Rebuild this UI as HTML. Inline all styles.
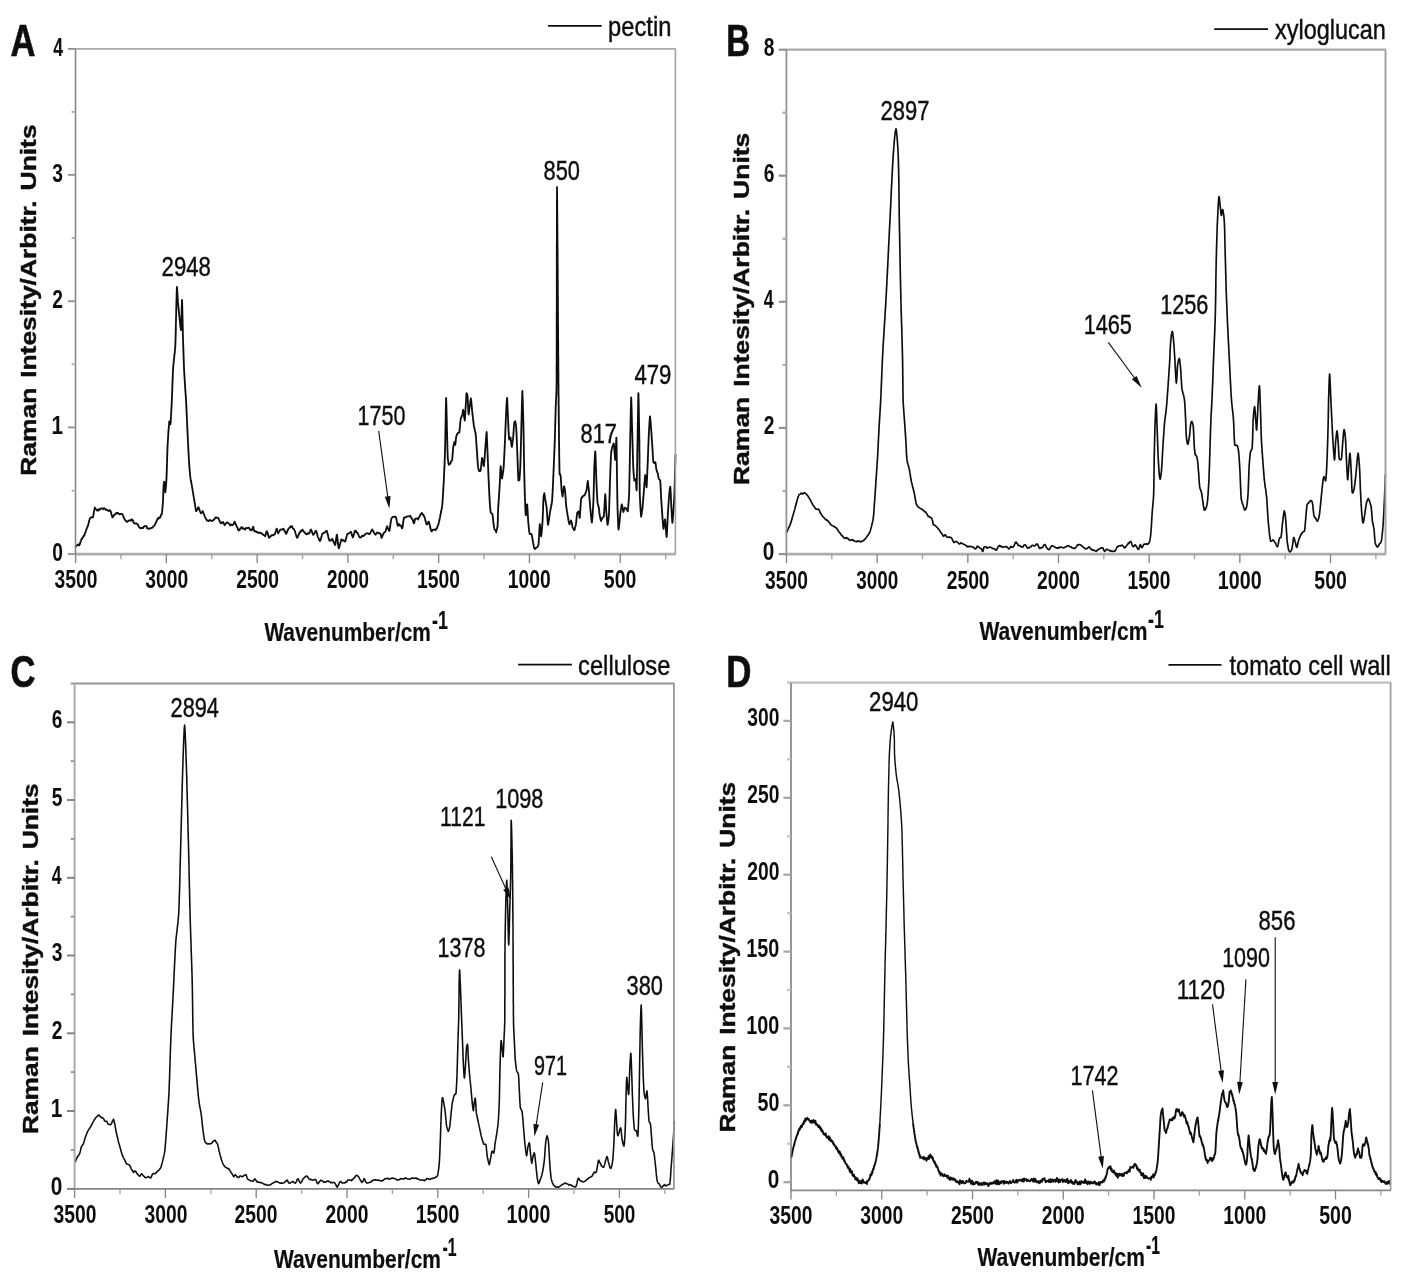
<!DOCTYPE html>
<html><head><meta charset="utf-8"><title>Raman spectra</title>
<style>
html,body{margin:0;padding:0;background:#fff;}
body{width:1410px;height:1283px;overflow:hidden;font-family:"Liberation Sans",sans-serif;}
svg{display:block;}
</style></head><body>
<svg width="1410" height="1283" viewBox="0 0 1410 1283" font-family="'Liberation Sans', sans-serif" fill="#111">
<rect width="1410" height="1283" fill="#fff"/>
<defs><filter id="bm" x="-5%" y="-5%" width="110%" height="110%"><feGaussianBlur stdDeviation="0.75"/></filter><filter id="bf" x="-5%" y="-5%" width="110%" height="110%"><feGaussianBlur stdDeviation="0.45"/></filter></defs>
<g filter="url(#bm)">
<g><path d="M75.7,546.8 76.2,546.0 76.7,545.8 77.3,545.3 77.8,544.4 78.5,544.6 79.2,545.3 79.5,544.6 79.8,544.4 80.0,543.5 80.3,542.6 80.5,541.8 80.8,541.1 81.1,540.3 81.3,539.4 81.7,539.2 82.1,538.5 82.6,537.3 83.0,537.2 83.4,536.9 83.8,535.5 84.2,535.6 84.5,534.9 84.7,533.9 85.0,533.3 85.3,532.7 85.5,532.4 85.8,531.1 86.0,530.3 86.3,529.5 86.6,529.1 86.9,528.4 87.1,527.3 87.4,526.7 87.7,526.7 87.9,525.6 88.2,524.7 88.3,524.2 88.5,523.5 88.7,522.6 88.9,522.2 89.0,521.5 89.2,520.5 89.4,520.0 89.6,519.4 90.1,518.2 90.7,517.7 91.3,517.4 92.2,517.1 93.0,517.4 93.1,516.4 93.3,515.7 93.4,515.1 93.6,514.3 93.7,513.6 93.8,512.6 94.0,511.7 94.1,511.3 94.2,510.4 94.4,509.6 94.5,509.1 94.7,508.6 94.8,507.5 95.2,508.2 95.6,508.8 96.0,509.4 96.5,509.8 97.0,510.5 97.6,509.8 98.3,510.6 99.0,509.3 99.8,509.8 100.5,508.8 101.2,508.3 101.9,508.4 102.6,509.0 103.3,509.2 104.0,508.0 104.7,508.8 105.3,509.1 105.9,509.9 106.5,509.4 107.2,510.3 108.0,510.5 108.8,511.0 109.7,510.2 110.4,510.8 110.7,511.4 111.0,512.5 111.3,513.7 111.5,514.6 111.7,515.1 112.0,515.9 112.2,516.7 112.5,517.4 113.0,516.8 113.5,516.0 114.0,515.3 114.5,514.4 115.0,514.4 115.5,514.4 116.0,513.3 116.5,512.9 117.1,513.2 117.8,512.6 118.4,513.7 119.0,513.8 119.7,514.3 120.4,514.2 121.1,513.8 121.8,513.9 122.5,514.3 122.8,515.2 123.1,515.9 123.4,516.8 123.7,517.2 124.0,517.6 124.3,518.5 124.6,519.3 125.1,519.8 125.5,520.4 126.0,520.9 126.5,521.7 127.0,521.9 127.6,521.1 128.3,521.2 128.9,520.6 129.6,520.2 130.3,520.4 131.0,520.7 131.7,519.3 132.4,520.0 132.8,520.1 133.1,520.9 133.4,522.2 133.7,522.5 134.1,523.3 134.9,523.5 135.8,523.5 136.7,523.4 137.1,524.1 137.6,524.4 138.0,524.5 138.4,526.0 138.8,526.8 139.3,527.0 139.7,527.5 140.2,528.3 140.9,528.0 141.6,528.1 142.3,527.8 142.9,528.2 143.4,526.9 143.9,526.6 144.5,526.5 145.2,525.9 145.9,526.2 146.6,526.1 147.1,528.4 147.6,528.6 148.2,528.5 148.7,528.5 149.4,528.9 150.1,528.5 150.8,528.2 151.6,527.7 152.1,527.8 152.7,527.5 153.3,526.3 153.9,525.9 154.4,525.4 154.8,524.9 155.1,524.1 155.5,523.5 155.8,523.0 156.2,522.0 156.5,521.2 156.9,520.6 157.2,519.4 157.6,518.9 157.9,518.1 158.6,518.7 159.4,517.4 160.1,517.8 160.5,516.5 160.9,515.3 161.2,514.4 161.6,514.6 161.9,513.4 162.0,513.0 162.1,512.3 162.1,511.5 162.2,510.8 162.3,510.1 162.3,509.5 162.4,508.7 162.5,508.1 162.5,507.3 162.6,506.6 162.6,505.8 162.7,505.1 162.7,504.3 162.8,503.5 162.9,502.9 162.9,502.1 162.9,501.4 163.0,500.7 163.0,500.1 163.0,499.3 163.1,498.7 163.1,497.9 163.1,497.2 163.2,496.5 163.2,495.7 163.2,495.0 163.2,494.3 163.3,493.5 163.3,492.8 163.3,492.1 163.3,491.4 163.4,490.7 163.4,490.0 163.4,489.2 163.5,488.5 163.5,487.8 163.5,487.1 163.6,486.4 163.6,485.8 163.6,485.1 163.7,484.0 163.9,483.2 164.0,482.2 164.2,482.0 164.3,481.7 164.4,482.1 164.5,482.7 164.5,483.4 164.6,484.3 164.7,485.1 164.7,485.9 164.8,486.8 164.9,487.6 164.9,488.4 165.0,489.2 165.1,490.0 165.1,490.6 165.2,491.2 165.3,491.8 165.3,492.4 165.4,491.8 165.4,491.4 165.5,490.8 165.6,490.2 165.6,489.5 165.7,488.9 165.8,488.2 165.8,487.5 165.9,486.7 166.0,486.0 166.0,485.2 166.1,484.4 166.2,483.6 166.2,482.7 166.3,481.9 166.3,481.1 166.4,480.2 166.4,479.4 166.5,478.8 166.5,478.1 166.5,477.4 166.6,476.7 166.6,476.1 166.6,475.4 166.6,474.7 166.6,474.0 166.7,473.3 166.7,472.6 166.7,471.9 166.7,471.2 166.8,470.5 166.8,469.8 166.8,469.1 166.8,468.4 166.9,467.6 166.9,466.9 166.9,466.2 166.9,465.4 166.9,464.7 167.0,464.0 167.0,463.3 167.0,462.5 167.0,461.8 167.1,461.1 167.1,460.4 167.1,459.6 167.1,458.9 167.1,458.2 167.2,457.4 167.2,456.7 167.2,456.0 167.2,455.3 167.3,454.5 167.3,453.8 167.3,453.1 167.3,452.4 167.4,451.7 167.4,451.0 167.4,450.2 167.4,449.6 167.5,448.9 167.5,448.2 167.5,447.5 167.5,446.7 167.6,446.1 167.6,445.4 167.6,444.7 167.7,443.9 167.7,443.1 167.8,442.4 167.8,441.6 167.9,440.9 167.9,440.2 168.0,439.5 168.0,438.6 168.1,437.9 168.1,437.2 168.1,436.4 168.2,435.6 168.2,435.0 168.3,434.1 168.3,433.5 168.4,432.7 168.4,432.0 168.5,431.3 168.5,430.5 168.6,429.9 168.6,429.1 168.7,428.4 168.8,427.8 168.8,427.1 168.9,426.4 168.9,425.7 169.0,425.0 169.0,424.4 169.1,423.8 169.1,423.2 169.2,422.5 169.2,422.0 169.3,421.4 169.6,421.5 169.9,422.9 170.2,423.3 170.4,424.3 170.5,423.6 170.6,422.9 170.6,422.4 170.7,421.7 170.7,420.9 170.8,420.2 170.8,419.6 170.9,418.8 170.9,418.0 170.9,417.3 171.0,416.5 171.0,415.7 171.1,415.0 171.1,414.2 171.2,413.4 171.2,412.8 171.2,412.2 171.3,411.5 171.3,410.8 171.3,410.1 171.4,409.4 171.4,408.8 171.4,408.1 171.5,407.4 171.5,406.7 171.6,406.0 171.6,405.3 171.6,404.5 171.7,403.8 171.7,403.1 171.7,402.3 171.8,401.6 171.8,400.8 171.8,400.0 171.9,399.3 171.9,398.7 171.9,398.0 171.9,397.3 172.0,396.6 172.0,396.0 172.0,395.2 172.1,394.6 172.1,393.9 172.1,393.1 172.1,392.5 172.2,391.8 172.2,391.1 172.2,390.4 172.2,389.6 172.3,388.9 172.3,388.1 172.3,387.4 172.3,386.7 172.4,386.0 172.4,385.3 172.4,384.6 172.4,383.8 172.5,383.1 172.5,382.4 172.5,381.7 172.6,381.0 172.6,380.2 172.6,379.5 172.6,378.8 172.7,378.0 172.7,377.3 172.7,376.6 172.8,375.9 172.8,375.2 172.8,374.5 172.8,373.8 172.9,373.0 172.9,372.3 172.9,371.6 173.0,371.0 173.0,370.2 173.0,369.6 173.1,368.9 173.1,368.1 173.2,367.5 173.2,366.7 173.3,365.9 173.4,365.4 173.4,364.6 173.5,363.9 173.6,363.2 173.6,362.4 173.7,361.8 173.8,361.1 173.9,360.3 173.9,359.7 174.0,359.0 174.1,358.3 174.2,357.6 174.2,357.0 174.3,356.2 174.4,355.5 174.5,354.8 174.5,354.4 174.6,353.4 174.7,352.9 174.8,352.1 174.8,351.3 174.9,350.6 175.0,350.1 175.0,349.4 175.1,348.6 175.2,347.8 175.2,347.2 175.3,346.3 175.3,345.7 175.3,345.0 175.4,344.3 175.4,343.6 175.4,343.0 175.4,342.2 175.5,341.5 175.5,340.8 175.5,340.1 175.5,339.4 175.5,338.7 175.6,337.9 175.6,337.3 175.6,336.5 175.6,335.9 175.6,335.1 175.7,334.4 175.7,333.7 175.7,333.0 175.7,332.3 175.7,331.6 175.7,330.8 175.8,330.1 175.8,329.3 175.8,328.6 175.8,327.9 175.8,327.2 175.8,326.5 175.9,325.7 175.9,325.0 175.9,324.4 175.9,323.6 175.9,322.9 175.9,322.1 176.0,321.4 176.0,320.7 176.0,320.0 176.0,319.3 176.0,318.6 176.0,317.9 176.1,317.1 176.1,316.5 176.1,315.8 176.1,315.1 176.1,314.3 176.2,313.6 176.2,312.9 176.2,312.2 176.2,311.5 176.2,310.7 176.2,309.9 176.3,309.1 176.3,308.4 176.3,307.6 176.3,306.8 176.3,306.0 176.4,305.2 176.4,304.5 176.4,303.7 176.4,302.9 176.4,302.1 176.5,301.3 176.5,300.6 176.5,299.8 176.5,299.1 176.5,298.3 176.6,297.6 176.6,296.8 176.6,296.1 176.6,295.3 176.6,294.6 176.7,293.9 176.7,293.3 176.7,292.6 176.7,292.0 176.7,291.3 176.8,290.7 176.8,290.1 176.8,289.5 176.8,288.9 176.8,288.4 176.9,287.9 176.9,287.4 176.9,286.8 177.0,287.3 177.0,287.7 177.0,288.2 177.1,288.4 177.1,289.1 177.2,289.8 177.2,290.5 177.3,291.2 177.3,291.9 177.4,292.7 177.4,293.6 177.5,294.4 177.5,295.1 177.6,296.0 177.6,296.8 177.7,297.7 177.7,298.6 177.8,299.4 177.8,300.3 177.9,301.1 177.9,302.0 178.0,302.7 178.1,303.3 178.1,304.0 178.2,304.8 178.3,305.5 178.4,306.2 178.4,307.0 178.5,307.8 178.6,308.6 178.7,309.4 178.7,310.1 178.8,310.9 178.9,311.8 179.0,312.6 179.1,313.4 179.1,314.2 179.2,315.0 179.3,315.8 179.4,316.6 179.5,317.3 179.5,318.2 179.6,319.0 179.7,319.9 179.8,320.5 179.9,321.2 179.9,322.0 180.0,322.7 180.1,323.5 180.2,324.1 180.2,324.8 180.3,325.5 180.4,326.0 180.5,326.7 180.5,327.1 180.6,327.7 180.7,328.3 180.8,328.6 180.8,329.2 180.9,329.5 180.9,330.1 181.0,329.6 181.0,329.2 181.1,328.5 181.1,328.0 181.1,327.5 181.2,326.8 181.2,326.2 181.2,325.5 181.2,324.7 181.3,324.0 181.3,323.2 181.3,322.4 181.4,321.7 181.4,320.8 181.4,320.0 181.4,319.1 181.5,318.3 181.5,317.4 181.5,316.6 181.5,315.7 181.6,314.8 181.6,313.9 181.6,313.0 181.6,312.1 181.7,311.3 181.7,310.5 181.7,309.6 181.7,308.8 181.7,308.0 181.8,307.2 181.8,306.4 181.8,305.7 181.8,305.0 181.9,304.3 181.9,303.6 181.9,302.9 181.9,302.4 181.9,301.8 182.0,301.4 182.0,300.8 182.0,300.4 182.0,300.0 182.1,300.4 182.1,300.8 182.1,301.3 182.1,301.9 182.1,302.3 182.2,302.9 182.2,303.5 182.2,304.0 182.2,304.6 182.2,305.2 182.2,305.9 182.3,306.5 182.3,307.1 182.3,307.9 182.3,308.5 182.3,309.2 182.3,309.9 182.4,310.6 182.4,311.4 182.4,312.1 182.4,312.8 182.4,313.6 182.4,314.4 182.5,315.2 182.5,315.9 182.5,316.7 182.5,317.5 182.5,318.3 182.5,319.1 182.6,319.9 182.6,320.7 182.6,321.5 182.6,322.3 182.6,323.1 182.7,323.9 182.7,324.8 182.7,325.5 182.7,326.4 182.7,327.1 182.7,328.0 182.8,328.7 182.8,329.5 182.8,330.3 182.8,331.1 182.8,331.8 182.8,332.6 182.9,333.3 182.9,334.1 182.9,334.8 182.9,335.5 182.9,336.2 183.0,336.9 183.0,337.6 183.0,338.4 183.0,339.1 183.1,339.8 183.1,340.4 183.1,341.2 183.1,341.9 183.1,342.7 183.2,343.4 183.2,344.1 183.2,344.8 183.2,345.5 183.3,346.3 183.3,347.0 183.3,347.7 183.3,348.4 183.4,349.1 183.4,349.9 183.4,350.6 183.4,351.3 183.4,352.0 183.5,352.7 183.5,353.5 183.5,354.2 183.5,354.9 183.6,355.6 183.6,356.3 183.6,357.0 183.6,357.7 183.7,358.4 183.7,359.1 183.7,359.8 183.7,360.6 183.8,361.3 183.8,361.9 183.8,362.6 183.8,363.3 183.9,364.1 183.9,364.8 183.9,365.5 183.9,366.1 184.0,366.8 184.0,367.5 184.0,368.2 184.0,368.9 184.1,369.7 184.1,370.5 184.2,371.2 184.2,371.9 184.3,372.6 184.3,373.3 184.3,374.1 184.4,374.8 184.4,375.5 184.5,376.2 184.5,376.9 184.5,377.7 184.6,378.3 184.6,379.1 184.7,379.7 184.7,380.5 184.8,381.1 184.8,381.8 184.9,382.6 184.9,383.3 184.9,383.9 185.0,384.6 185.0,385.3 185.1,386.0 185.1,386.7 185.2,387.3 185.2,388.0 185.2,388.7 185.3,389.3 185.3,390.0 185.4,390.8 185.4,391.6 185.5,392.3 185.5,392.9 185.6,393.7 185.6,394.3 185.7,395.1 185.7,395.8 185.8,396.3 185.8,397.0 185.9,397.7 185.9,398.5 186.0,399.3 186.0,400.0 186.1,400.7 186.1,401.3 186.1,402.1 186.2,402.7 186.2,403.4 186.2,404.1 186.3,404.8 186.3,405.5 186.3,406.2 186.4,406.9 186.4,407.6 186.4,408.3 186.5,409.1 186.5,409.8 186.5,410.5 186.6,411.2 186.6,411.9 186.6,412.7 186.7,413.3 186.7,414.1 186.7,414.8 186.8,415.6 186.8,416.2 186.8,417.0 186.9,417.7 186.9,418.4 186.9,419.1 187.0,419.8 187.0,420.6 187.0,421.3 187.1,421.9 187.1,422.7 187.1,423.4 187.2,424.1 187.2,424.9 187.2,425.5 187.2,426.3 187.3,427.0 187.3,427.7 187.3,428.4 187.4,429.1 187.4,429.8 187.4,430.5 187.5,431.2 187.5,431.9 187.5,432.6 187.6,433.4 187.6,434.0 187.6,434.7 187.7,435.4 187.7,436.1 187.7,436.9 187.8,437.6 187.8,438.3 187.8,439.1 187.9,439.7 187.9,440.4 187.9,441.2 188.0,441.9 188.0,442.6 188.0,443.3 188.1,444.0 188.1,444.6 188.2,445.4 188.2,446.1 188.2,446.9 188.3,447.5 188.3,448.2 188.3,449.0 188.4,449.7 188.4,450.4 188.5,451.2 188.5,451.9 188.5,452.5 188.6,453.3 188.6,454.0 188.6,454.7 188.7,455.5 188.7,456.2 188.8,456.8 188.8,457.6 188.8,458.3 188.9,459.0 188.9,459.7 189.0,460.3 189.0,461.0 189.0,461.7 189.1,462.4 189.1,463.2 189.2,463.8 189.2,464.5 189.3,465.3 189.3,466.1 189.4,466.8 189.4,467.5 189.5,468.2 189.6,468.9 189.6,469.7 189.7,470.4 189.7,471.0 189.8,471.8 189.9,472.5 189.9,473.2 190.0,473.9 190.1,474.6 190.1,475.3 190.2,476.0 190.3,476.6 190.4,477.4 190.5,478.0 190.6,478.9 190.7,479.5 190.9,480.2 191.0,481.0 191.1,481.6 191.3,482.3 191.4,483.0 191.5,483.9 191.6,484.3 191.8,485.1 191.9,485.9 192.0,486.8 192.1,487.2 192.3,487.9 192.4,488.6 192.5,489.3 192.6,490.0 192.7,490.9 192.8,491.5 193.0,492.2 193.1,492.8 193.2,493.6 193.3,494.4 193.4,495.2 193.5,495.7 193.6,496.5 193.8,497.0 193.9,497.9 194.0,498.4 194.1,499.2 194.2,500.0 194.4,500.7 194.5,501.5 194.6,502.3 194.7,503.1 194.8,503.8 195.0,504.6 195.1,505.5 195.2,506.2 195.3,506.7 195.5,507.7 195.6,508.3 195.7,508.9 195.8,509.8 196.0,510.3 196.1,510.7 196.2,511.2 196.6,510.6 196.9,510.3 197.3,509.4 197.7,508.6 198.0,507.8 198.4,507.1 198.7,507.8 199.0,508.5 199.2,508.9 199.5,509.7 199.8,510.7 200.1,511.6 200.5,512.4 200.8,513.2 201.2,513.3 201.7,512.5 202.1,511.9 202.6,511.1 202.9,511.4 203.2,512.1 203.5,513.3 203.8,513.9 204.1,514.7 204.4,515.4 204.8,516.5 205.1,517.2 205.4,517.7 205.8,518.6 206.1,518.9 206.5,519.5 206.9,520.6 207.5,520.5 208.2,520.9 209.0,521.0 209.7,520.0 210.4,520.1 211.2,520.7 211.9,521.0 212.6,520.8 213.3,520.3 213.7,519.6 214.2,519.4 214.7,518.7 215.2,517.8 215.6,517.4 216.1,517.5 216.8,517.9 217.6,517.7 218.2,518.0 218.5,518.7 218.8,519.4 219.1,519.9 219.4,520.5 219.7,521.2 220.0,522.1 220.3,522.6 221.0,523.4 221.8,522.2 222.5,522.7 223.2,521.9 223.7,523.5 224.1,524.1 224.6,525.2 225.2,524.2 225.7,523.4 226.3,523.0 226.9,522.6 227.4,522.4 228.0,522.7 228.6,523.5 229.1,523.9 229.7,524.4 230.3,525.5 231.0,524.5 231.7,525.0 232.5,525.2 233.1,524.5 233.5,524.2 233.9,523.1 234.2,522.5 234.5,522.0 234.8,521.7 235.1,522.9 235.4,523.4 235.7,524.3 236.1,524.7 236.4,526.1 236.7,526.3 237.0,527.1 237.4,527.5 237.7,528.9 238.1,529.4 238.4,530.2 238.8,530.5 239.2,530.3 239.7,529.8 240.2,528.4 240.7,528.5 241.2,527.5 241.6,526.9 242.2,527.9 242.7,528.5 243.2,528.1 243.8,529.1 244.4,529.2 245.1,529.6 245.9,528.0 246.6,528.2 247.3,528.2 248.0,527.7 248.6,527.7 249.2,528.0 249.9,529.7 250.4,529.5 251.0,530.2 251.6,530.4 252.0,529.8 252.3,529.2 252.6,528.3 253.0,527.3 253.3,526.7 253.4,527.6 253.6,528.3 253.7,529.0 253.9,529.7 254.1,530.6 254.4,531.4 255.0,531.0 255.7,531.3 256.4,532.2 257.2,531.9 257.9,532.8 258.7,532.6 259.4,533.0 260.1,532.6 260.8,532.9 261.5,533.3 262.2,534.2 262.8,534.2 263.4,535.1 263.9,535.0 264.5,535.7 265.0,536.0 265.2,536.2 265.4,535.5 265.7,534.5 265.9,533.4 266.1,532.7 266.3,531.8 266.6,531.5 266.8,531.3 267.0,531.2 267.3,532.1 267.5,532.4 267.7,533.4 268.0,534.2 268.2,535.2 268.5,535.5 268.7,537.1 269.0,537.4 269.2,537.8 269.7,537.3 270.3,536.4 270.9,536.3 271.5,535.3 272.1,535.0 272.8,535.4 273.5,535.2 274.2,534.5 274.9,534.0 275.2,532.9 275.5,532.4 275.7,531.2 276.0,530.5 276.2,529.7 276.5,529.0 276.7,528.6 277.0,529.1 277.2,529.8 277.4,530.7 277.7,531.5 277.9,532.7 278.2,533.4 278.6,532.2 278.9,531.8 279.4,531.4 279.9,530.0 280.5,529.6 281.2,529.6 282.0,529.5 282.7,529.2 283.4,528.6 283.8,529.6 284.3,530.4 284.7,531.4 285.1,531.3 285.5,532.7 285.9,533.1 286.2,533.9 286.6,533.2 286.9,532.5 287.1,531.6 287.4,531.0 287.7,530.2 288.0,529.9 288.4,528.7 289.0,528.3 289.6,527.5 290.2,527.5 290.9,526.2 291.5,527.0 292.0,526.3 292.5,527.6 292.9,528.5 293.4,528.8 293.9,529.1 294.3,530.0 294.8,530.6 295.0,531.4 295.3,532.5 295.5,533.2 295.7,533.8 296.0,534.6 296.2,535.4 296.4,536.4 296.7,536.9 296.9,537.2 297.2,537.9 297.5,537.2 297.8,536.9 298.1,536.2 298.4,535.3 298.7,534.9 299.0,533.4 299.4,532.9 299.7,532.9 300.3,531.5 300.8,531.7 301.4,530.3 302.0,530.0 302.6,529.6 303.0,531.1 303.5,531.2 303.9,531.7 304.4,532.2 304.9,532.8 305.4,533.5 306.1,533.9 306.8,534.4 307.6,533.4 308.3,533.7 308.9,533.7 309.3,532.5 309.7,532.5 310.1,531.3 310.4,530.2 310.7,529.6 311.1,529.5 311.3,530.1 311.6,530.7 311.8,531.3 312.1,532.2 312.4,533.2 312.6,533.6 312.9,534.1 313.2,534.9 313.6,534.6 314.0,533.8 314.4,533.3 314.8,532.5 315.2,531.9 315.6,530.9 316.0,530.7 316.3,531.9 316.5,531.8 316.7,533.0 316.9,533.1 317.1,533.9 317.3,534.7 317.5,535.6 317.7,536.5 317.9,537.3 318.2,537.8 318.6,538.1 319.0,539.4 319.4,540.3 319.9,540.9 320.3,540.7 320.5,539.7 320.7,539.4 320.9,538.7 321.1,537.9 321.3,537.5 321.5,536.6 321.7,536.0 322.0,534.8 322.2,534.1 322.4,533.7 323.1,533.5 323.8,532.8 324.5,532.5 325.1,532.0 325.6,531.9 326.2,530.8 326.7,530.7 326.9,531.4 327.1,531.9 327.3,533.0 327.5,533.4 327.7,534.1 327.9,535.1 328.1,535.8 328.3,536.7 328.4,537.1 328.6,538.3 328.9,538.8 329.1,539.4 329.3,540.4 329.5,540.7 330.2,540.4 330.9,540.5 331.6,539.5 332.3,538.8 332.7,539.6 333.0,540.7 333.3,541.3 333.7,542.0 334.0,542.5 334.3,543.5 334.6,543.9 334.9,544.9 335.2,544.9 335.3,544.6 335.4,543.7 335.6,543.3 335.7,542.2 335.8,541.5 335.9,540.8 336.0,539.8 336.1,539.0 336.2,538.0 336.3,537.3 336.5,536.5 336.6,535.9 336.7,535.3 336.8,534.8 336.9,534.6 337.0,534.9 337.1,535.4 337.2,536.0 337.2,536.6 337.3,537.4 337.4,538.2 337.5,538.9 337.6,539.7 337.7,540.5 337.8,541.4 337.9,542.2 337.9,543.1 338.0,544.0 338.1,544.7 338.2,545.3 338.3,546.1 338.4,546.7 338.5,547.6 338.6,547.9 338.7,548.4 338.9,548.2 339.1,547.5 339.3,547.3 339.5,546.3 339.7,545.1 339.9,544.4 340.2,544.0 340.4,542.8 340.6,542.1 340.8,541.5 341.1,540.9 341.3,539.5 341.6,539.6 342.2,539.7 343.0,540.8 343.7,540.3 344.5,541.2 345.1,541.6 345.4,541.2 345.6,540.3 345.8,539.3 346.0,538.7 346.2,538.1 346.4,537.3 346.6,536.4 346.8,535.8 347.0,534.9 347.2,534.3 347.9,533.6 348.6,533.6 349.4,532.8 350.1,532.5 350.8,531.7 351.1,532.5 351.5,533.1 351.8,534.8 352.0,535.5 352.3,535.8 352.6,536.7 352.9,537.5 353.1,536.9 353.4,536.2 353.6,535.5 353.8,534.2 354.1,533.8 354.3,532.9 354.5,532.0 354.8,531.4 355.0,530.6 355.6,531.7 356.1,530.9 356.7,532.7 357.3,532.6 357.9,533.6 358.2,534.6 358.6,534.9 358.9,536.0 359.3,537.0 359.6,537.1 360.0,537.5 360.7,537.4 361.4,537.2 362.1,535.6 362.8,536.2 363.6,535.9 364.3,535.3 365.0,534.5 365.7,533.9 366.4,533.3 367.1,533.3 367.8,533.3 368.5,533.6 369.2,534.1 369.6,533.7 370.0,533.7 370.4,532.8 370.8,531.8 371.2,531.2 371.6,530.4 372.1,529.5 372.5,529.9 372.9,530.9 373.4,531.2 373.9,532.3 374.3,533.2 374.8,533.9 375.2,534.0 375.6,534.7 376.0,534.2 376.3,533.5 376.6,533.1 377.0,532.5 377.7,532.8 378.4,532.7 379.2,533.5 379.9,533.3 380.6,534.0 380.9,535.0 381.1,536.2 381.3,536.9 381.5,537.7 381.7,537.9 382.0,536.9 382.2,536.8 382.5,535.8 382.8,534.9 383.1,534.5 383.4,533.9 383.9,532.7 384.5,532.4 385.0,531.8 385.5,531.5 385.8,530.8 386.0,529.8 386.2,529.3 386.3,528.5 386.5,527.8 386.7,527.0 386.9,526.7 387.3,526.3 387.7,528.2 388.2,528.7 388.6,529.7 389.0,530.5 389.4,531.1 389.5,530.4 389.6,529.8 389.7,528.9 389.9,528.3 390.0,527.6 390.1,527.0 390.2,526.2 390.3,525.3 390.4,524.5 390.5,523.8 390.6,523.0 390.7,522.3 390.8,521.6 391.0,521.0 391.1,520.1 391.2,519.2 391.6,518.4 392.0,517.8 392.4,517.3 392.9,517.0 393.3,516.6 394.0,516.8 394.8,516.8 395.5,516.6 396.2,518.0 396.3,518.8 396.5,519.4 396.6,520.2 396.8,520.8 396.9,521.5 397.0,522.4 397.1,523.3 397.3,523.9 397.4,524.4 397.6,525.1 398.2,525.9 399.0,524.0 399.7,525.2 400.4,525.7 400.8,525.4 401.2,526.5 401.6,527.4 401.9,528.3 402.3,528.0 402.4,527.9 402.5,527.6 402.6,526.8 402.7,526.2 402.8,525.4 402.9,524.8 403.0,523.9 403.1,523.1 403.2,522.2 403.3,521.4 403.4,520.8 403.5,520.1 403.7,519.3 403.8,518.6 404.0,517.7 404.6,517.5 405.3,517.5 406.1,517.1 406.8,516.6 407.5,516.4 408.3,516.3 409.0,516.4 409.6,516.0 410.1,515.6 410.6,516.5 411.1,517.8 411.6,518.0 412.0,519.0 412.5,519.1 412.8,520.4 413.0,521.0 413.2,521.4 413.5,522.6 413.7,523.0 413.9,523.4 414.1,523.1 414.3,522.8 414.5,521.8 414.6,520.9 414.8,520.0 415.1,519.4 415.3,518.7 416.0,518.6 416.7,518.4 417.4,518.4 418.2,519.6 418.6,518.0 419.0,517.4 419.4,516.9 419.8,515.9 420.2,515.4 420.5,514.3 420.9,514.0 421.3,513.8 421.7,513.0 422.1,513.1 422.5,514.5 423.0,514.7 423.4,514.6 423.8,516.2 424.2,516.4 424.5,517.3 424.8,517.9 425.0,518.6 425.2,519.5 425.4,520.3 425.6,521.2 425.8,521.6 426.0,522.7 426.2,523.5 426.4,523.8 426.7,524.5 427.1,524.2 427.5,524.0 428.0,522.3 428.4,521.9 428.8,521.7 429.0,521.9 429.2,523.0 429.4,523.7 429.5,524.3 429.7,524.8 429.9,525.9 430.1,526.6 430.2,527.3 430.4,528.1 430.6,528.6 430.8,529.9 431.0,530.2 431.2,530.7 431.4,531.3 431.8,531.4 432.3,529.8 432.8,530.2 433.3,529.7 434.1,529.7 434.9,529.6 435.6,530.2 435.9,529.5 436.3,528.3 436.6,528.3 436.9,528.5 437.2,527.4 437.6,526.3 437.9,525.7 438.2,524.7 438.4,524.4 438.6,523.6 438.8,522.8 438.9,522.4 439.1,521.4 439.3,521.0 439.4,520.1 439.5,519.3 439.7,518.7 439.8,518.2 440.0,517.2 440.1,516.5 440.3,515.9 440.4,515.2 440.5,514.5 440.7,513.9 440.8,513.3 441.0,512.3 441.1,511.8 441.2,511.0 441.4,510.4 441.5,509.9 441.6,509.0 441.8,508.3 441.9,507.5 442.0,506.7 442.2,506.0 442.3,505.3 442.3,504.6 442.4,503.9 442.4,503.2 442.5,502.5 442.5,501.9 442.6,501.1 442.6,500.5 442.7,499.7 442.7,499.0 442.8,498.4 442.8,497.6 442.9,496.8 442.9,496.2 442.9,495.6 443.0,494.7 443.0,494.0 443.1,493.4 443.1,492.6 443.2,491.9 443.2,491.2 443.2,490.4 443.3,489.7 443.3,488.9 443.4,488.3 443.4,487.5 443.4,486.8 443.5,486.0 443.5,485.5 443.6,484.6 443.6,484.0 443.6,483.3 443.7,482.6 443.7,481.8 443.8,481.1 443.8,480.4 443.8,479.8 443.9,479.0 443.9,478.3 443.9,477.6 444.0,476.9 444.0,476.1 444.0,475.4 444.1,474.6 444.1,474.0 444.1,473.3 444.2,472.6 444.2,471.9 444.2,471.2 444.3,470.5 444.3,469.8 444.3,469.0 444.4,468.4 444.4,467.6 444.4,467.0 444.5,466.2 444.5,465.5 444.5,464.8 444.6,464.1 444.6,463.4 444.6,462.7 444.6,462.0 444.7,461.3 444.7,460.5 444.7,459.9 444.7,459.2 444.8,458.5 444.8,457.8 444.8,457.1 444.8,456.5 444.8,455.8 444.9,455.1 444.9,454.4 444.9,453.7 444.9,453.1 444.9,452.4 445.0,451.8 445.0,451.0 445.0,450.4 445.0,449.7 445.0,449.0 445.1,448.3 445.1,447.6 445.1,446.9 445.1,446.2 445.1,445.5 445.1,444.7 445.2,444.1 445.2,443.3 445.2,442.6 445.2,441.8 445.2,441.1 445.3,440.3 445.3,439.6 445.3,438.9 445.3,438.2 445.3,437.5 445.3,436.8 445.3,436.1 445.4,435.3 445.4,434.6 445.4,433.9 445.4,433.1 445.4,432.4 445.4,431.6 445.4,430.8 445.5,430.0 445.5,429.2 445.5,428.5 445.5,427.6 445.5,426.9 445.5,426.1 445.5,425.3 445.6,424.5 445.6,423.7 445.6,422.9 445.6,422.1 445.6,421.3 445.6,420.5 445.6,419.7 445.7,418.8 445.7,418.1 445.7,417.3 445.7,416.5 445.7,415.7 445.7,414.9 445.7,414.2 445.7,413.5 445.8,412.7 445.8,411.9 445.8,411.2 445.8,410.4 445.8,409.7 445.8,409.0 445.8,408.3 445.9,407.5 445.9,406.9 445.9,406.2 445.9,405.6 445.9,404.9 445.9,404.3 445.9,403.6 446.0,403.1 446.0,402.5 446.0,401.9 446.0,401.4 446.0,400.8 446.0,400.3 446.0,399.8 446.1,399.3 446.1,398.7 446.1,398.5 446.1,398.0 446.1,398.4 446.1,398.7 446.2,399.2 446.2,399.6 446.2,400.1 446.2,400.6 446.2,401.1 446.3,401.7 446.3,402.3 446.3,402.9 446.3,403.5 446.3,404.1 446.3,404.8 446.4,405.5 446.4,406.2 446.4,406.9 446.4,407.6 446.4,408.3 446.5,409.1 446.5,409.8 446.5,410.6 446.5,411.4 446.5,412.1 446.6,413.0 446.6,413.7 446.6,414.6 446.6,415.4 446.6,416.2 446.7,417.0 446.7,417.8 446.7,418.7 446.7,419.5 446.7,420.3 446.8,421.1 446.8,422.0 446.8,422.8 446.8,423.6 446.8,424.4 446.9,425.2 446.9,426.0 446.9,426.8 446.9,427.6 446.9,428.3 447.0,429.2 447.0,429.9 447.0,430.6 447.0,431.3 447.0,432.0 447.1,432.7 447.1,433.5 447.1,434.2 447.1,434.9 447.1,435.7 447.1,436.4 447.2,437.1 447.2,437.9 447.2,438.6 447.2,439.3 447.2,440.0 447.3,440.7 447.3,441.5 447.3,442.2 447.3,442.9 447.3,443.6 447.3,444.3 447.4,445.0 447.4,445.8 447.4,446.5 447.4,447.1 447.4,447.8 447.4,448.6 447.5,449.2 447.5,449.9 447.5,450.6 447.5,451.3 447.5,452.0 447.6,452.7 447.6,453.3 447.6,454.0 447.6,454.7 447.7,455.3 447.7,456.0 447.7,456.6 447.7,457.3 447.8,458.2 447.9,459.0 448.0,459.9 448.1,460.7 448.2,461.5 448.3,462.2 448.4,463.0 448.6,463.7 448.7,464.2 448.8,464.8 449.3,464.3 449.9,464.0 450.5,463.2 450.9,461.7 451.3,461.1 451.7,460.5 452.1,460.5 452.2,459.4 452.3,458.7 452.3,458.0 452.4,457.2 452.5,456.5 452.5,455.8 452.6,455.0 452.6,454.3 452.7,453.5 452.8,452.8 452.8,452.1 452.9,451.4 452.9,450.6 453.0,449.8 453.1,449.2 453.1,448.5 453.2,447.8 453.3,446.9 453.5,446.0 453.6,445.2 453.8,444.5 454.0,443.7 454.1,442.7 454.3,442.1 454.5,442.4 454.8,443.6 455.0,444.6 455.2,444.8 455.3,444.4 455.4,443.9 455.5,443.2 455.6,442.3 455.7,441.5 455.7,440.7 455.8,439.9 455.9,439.2 456.0,438.4 456.1,437.6 456.2,436.7 456.5,436.1 456.7,434.9 457.0,434.6 457.3,434.0 457.6,433.3 458.0,432.8 458.7,432.8 459.3,432.4 459.4,431.3 459.5,430.8 459.6,430.1 459.7,429.3 459.7,428.5 459.8,427.9 459.9,427.2 459.9,426.4 460.0,425.6 460.1,424.7 460.2,424.0 460.2,423.3 460.3,422.5 460.4,421.9 460.4,421.0 460.5,420.7 460.6,419.9 460.7,419.1 460.9,417.8 461.2,417.6 461.4,417.0 461.7,416.7 462.0,415.6 462.2,415.2 462.5,414.3 462.6,413.7 462.7,412.6 462.8,411.5 462.9,410.7 463.0,409.9 463.1,409.8 463.3,410.0 463.4,410.8 463.5,411.5 463.6,412.2 463.7,413.0 463.8,414.2 463.9,415.0 464.0,416.0 464.1,416.5 464.3,417.5 464.4,418.2 464.5,418.7 464.6,419.6 464.7,420.0 464.8,420.6 464.8,420.1 464.9,419.6 464.9,418.8 465.0,418.3 465.0,417.7 465.1,417.0 465.1,416.4 465.2,415.6 465.2,414.8 465.3,414.0 465.3,413.2 465.4,412.4 465.4,411.6 465.4,410.8 465.5,410.0 465.5,409.2 465.6,408.4 465.6,407.7 465.7,406.9 465.7,406.1 465.7,405.4 465.8,404.7 465.8,403.9 465.9,403.1 465.9,402.5 466.0,401.7 466.0,400.9 466.1,400.1 466.1,399.3 466.2,398.5 466.2,397.8 466.2,397.1 466.3,396.4 466.3,395.7 466.4,395.0 466.4,394.5 466.5,393.7 466.6,393.2 466.8,393.6 467.0,394.0 467.3,394.6 467.5,395.9 467.6,396.6 467.6,397.2 467.6,398.0 467.7,398.6 467.7,399.4 467.8,400.2 467.8,400.9 467.9,401.7 467.9,402.5 467.9,403.3 468.0,404.1 468.0,404.9 468.1,405.7 468.1,406.4 468.1,407.2 468.2,408.0 468.2,408.7 468.3,409.4 468.3,410.1 468.3,410.8 468.4,411.5 468.4,412.1 468.5,412.7 468.5,413.3 468.6,413.8 468.6,414.2 468.7,414.5 468.8,413.6 468.9,412.8 469.0,412.2 469.1,411.6 469.2,410.5 469.3,409.7 469.4,408.7 469.5,407.9 469.6,407.1 469.7,406.4 469.8,405.5 470.0,404.7 470.1,403.7 470.2,402.8 470.3,401.9 470.4,401.1 470.6,400.3 470.7,399.7 470.8,399.1 470.9,398.3 471.0,399.1 471.1,399.8 471.1,400.3 471.2,401.0 471.3,401.7 471.4,402.3 471.4,403.1 471.5,403.8 471.6,404.5 471.6,405.3 471.7,406.1 471.8,406.9 471.9,407.7 471.9,408.5 472.0,409.2 472.1,410.0 472.1,410.8 472.2,411.6 472.3,412.3 472.4,413.1 472.5,413.8 472.5,414.5 472.6,415.1 472.7,415.8 472.8,416.6 472.9,417.4 473.0,418.0 473.0,418.7 473.1,419.6 473.2,420.3 473.3,420.8 473.4,421.6 473.5,422.4 473.6,423.2 473.6,423.9 473.7,424.5 473.8,425.3 473.9,425.9 474.1,426.6 474.2,427.4 474.4,428.1 474.6,428.9 474.7,429.7 474.9,430.5 475.1,430.8 475.2,431.7 475.4,432.6 475.6,433.2 475.7,434.2 475.8,434.9 475.8,435.5 475.9,436.1 475.9,436.8 476.0,437.5 476.0,438.2 476.1,438.9 476.1,439.7 476.2,440.4 476.2,441.0 476.3,441.7 476.3,442.5 476.4,443.2 476.4,444.0 476.5,444.6 476.5,445.4 476.6,446.1 476.6,446.8 476.7,447.6 476.7,448.2 476.8,449.0 476.8,449.8 476.9,450.4 476.9,451.2 477.0,451.9 477.0,452.5 477.1,453.2 477.1,454.0 477.2,454.7 477.2,455.5 477.3,456.2 477.3,457.0 477.4,457.6 477.4,458.5 477.5,459.1 477.5,459.9 477.5,460.5 477.6,461.3 477.6,462.0 477.7,462.7 477.7,463.4 477.8,464.1 477.9,464.8 477.9,465.6 478.0,466.2 478.0,466.8 478.2,467.5 478.3,468.6 478.5,468.9 478.7,469.8 478.9,470.1 479.1,471.2 479.6,470.5 480.2,471.1 480.7,469.8 480.8,468.9 480.9,468.3 481.0,467.5 481.1,466.6 481.2,465.8 481.3,465.0 481.4,464.3 481.4,463.4 481.5,462.6 481.6,461.9 481.7,461.1 481.8,460.4 481.8,459.7 481.9,459.1 482.0,458.5 482.1,458.0 482.3,458.6 482.4,459.0 482.6,459.8 482.7,461.0 482.9,461.7 483.1,462.8 483.3,463.7 483.4,464.3 483.6,465.2 483.7,465.8 483.9,466.0 483.9,465.8 484.0,465.2 484.1,464.5 484.1,463.9 484.2,463.4 484.3,462.7 484.3,462.0 484.4,461.3 484.4,460.6 484.5,459.8 484.5,459.0 484.6,458.3 484.6,457.5 484.7,456.8 484.7,455.9 484.8,455.2 484.9,454.4 484.9,453.5 485.0,452.9 485.0,452.0 485.1,451.3 485.1,450.6 485.2,449.8 485.2,449.1 485.3,448.4 485.4,447.6 485.4,446.9 485.5,446.1 485.5,445.3 485.6,444.5 485.6,443.7 485.7,442.8 485.8,442.0 485.8,441.2 485.9,440.4 485.9,439.6 486.0,438.8 486.1,437.9 486.1,437.2 486.2,436.5 486.2,435.8 486.3,435.0 486.3,434.5 486.4,433.9 486.5,433.4 486.5,432.8 486.6,432.5 486.6,431.9 486.6,432.4 486.7,432.9 486.7,433.4 486.7,434.0 486.8,434.7 486.8,435.1 486.8,435.8 486.9,436.5 486.9,437.1 486.9,437.8 487.0,438.5 487.0,439.2 487.0,440.0 487.1,440.7 487.1,441.4 487.1,442.3 487.2,443.0 487.2,443.8 487.2,444.6 487.3,445.4 487.3,446.2 487.3,447.0 487.3,447.8 487.4,448.6 487.4,449.4 487.4,450.2 487.5,450.9 487.5,451.7 487.5,452.5 487.6,453.2 487.6,453.9 487.6,454.5 487.6,455.3 487.7,456.0 487.7,456.7 487.7,457.3 487.8,458.0 487.8,458.8 487.8,459.4 487.8,460.1 487.9,460.8 487.9,461.5 487.9,462.2 488.0,462.9 488.0,463.6 488.0,464.3 488.0,465.1 488.1,465.8 488.1,466.5 488.1,467.2 488.1,467.9 488.2,468.6 488.2,469.3 488.2,470.1 488.3,470.7 488.3,471.5 488.3,472.1 488.3,472.8 488.4,473.5 488.4,474.2 488.4,474.9 488.5,475.6 488.5,476.4 488.5,477.0 488.5,477.7 488.6,478.4 488.6,479.1 488.6,479.8 488.7,480.5 488.7,481.2 488.7,481.9 488.8,482.6 488.8,483.4 488.8,484.1 488.9,484.8 488.9,485.5 488.9,486.3 489.0,487.0 489.0,487.7 489.0,488.4 489.1,489.2 489.1,489.8 489.1,490.5 489.2,491.3 489.2,492.0 489.2,492.6 489.3,493.5 489.3,494.1 489.4,494.8 489.4,495.5 489.4,496.2 489.5,496.9 489.5,497.5 489.5,498.3 489.6,498.9 489.6,499.6 489.6,500.3 489.7,501.0 489.7,501.7 489.8,502.3 489.8,503.1 489.9,503.9 489.9,504.7 490.0,505.5 490.1,506.2 490.1,507.0 490.2,507.6 490.2,508.4 490.3,509.1 490.4,509.8 490.4,510.4 490.5,511.1 490.6,511.8 490.7,512.6 491.3,513.0 491.9,513.7 492.5,514.2 492.6,515.4 492.7,516.1 492.8,516.7 492.9,517.5 493.0,518.3 493.0,519.0 493.1,519.8 493.2,520.6 493.3,521.4 493.3,521.9 493.4,522.8 493.5,523.5 493.6,524.3 493.8,525.2 493.9,525.9 494.0,526.7 494.1,527.4 494.2,528.2 494.4,528.9 494.9,529.8 495.6,530.0 496.2,532.3 496.4,530.7 496.7,529.8 496.9,529.4 497.1,528.4 497.3,527.4 497.5,527.0 497.6,526.2 497.6,525.6 497.6,524.9 497.7,524.2 497.7,523.5 497.7,522.8 497.7,522.1 497.8,521.5 497.8,520.8 497.8,520.0 497.8,519.3 497.8,518.6 497.9,517.9 497.9,517.1 497.9,516.4 497.9,515.7 498.0,515.0 498.0,514.3 498.0,513.5 498.0,512.8 498.0,512.1 498.1,511.4 498.1,510.7 498.1,510.0 498.1,509.2 498.2,508.5 498.2,507.7 498.2,507.0 498.3,506.4 498.3,505.7 498.4,505.0 498.4,504.2 498.5,503.5 498.5,502.9 498.6,502.2 498.6,501.5 498.7,500.7 498.7,500.1 498.8,499.4 498.8,498.6 498.9,498.0 498.9,497.2 498.9,496.5 499.0,495.8 499.0,495.1 499.1,494.3 499.1,493.7 499.2,493.0 499.2,492.3 499.3,491.6 499.3,490.7 499.4,490.1 499.4,489.4 499.5,488.7 499.5,488.1 499.6,487.4 499.6,486.7 499.6,485.8 499.7,485.2 499.7,484.4 499.8,483.6 499.8,482.9 499.8,482.1 499.9,481.3 499.9,480.5 499.9,479.7 500.0,479.0 500.0,478.2 500.0,477.4 500.1,476.6 500.1,475.8 500.1,475.1 500.2,474.3 500.2,473.6 500.2,472.9 500.3,472.1 500.3,471.5 500.4,470.8 500.4,470.1 500.4,469.5 500.5,468.8 500.5,468.2 500.5,467.6 500.6,467.3 500.6,466.7 500.7,466.2 500.7,466.3 500.8,467.1 500.9,467.5 501.0,468.4 501.0,469.0 501.1,469.8 501.2,470.7 501.3,471.6 501.4,472.5 501.4,473.5 501.5,474.4 501.6,475.2 501.7,476.1 501.8,476.6 501.9,477.4 501.9,478.0 502.0,478.5 502.1,478.1 502.2,477.6 502.3,477.2 502.4,476.3 502.5,475.6 502.6,475.0 502.7,474.4 502.9,473.5 503.0,472.7 503.1,471.8 503.2,471.1 503.3,470.3 503.4,469.4 503.5,468.5 503.6,467.6 503.7,466.8 503.7,466.2 503.7,465.5 503.8,464.8 503.8,464.2 503.9,463.5 503.9,462.9 503.9,462.2 504.0,461.5 504.0,460.7 504.0,460.1 504.1,459.4 504.1,458.7 504.1,458.0 504.2,457.2 504.2,456.6 504.3,455.9 504.3,455.2 504.3,454.4 504.4,453.8 504.4,453.0 504.4,452.4 504.5,451.6 504.5,450.9 504.5,450.2 504.6,449.4 504.6,448.8 504.6,448.0 504.7,447.4 504.7,446.6 504.7,445.9 504.8,445.3 504.8,444.5 504.8,443.8 504.9,443.1 504.9,442.3 504.9,441.7 505.0,441.0 505.0,440.3 505.0,439.6 505.0,438.8 505.1,438.1 505.1,437.4 505.1,436.8 505.2,436.1 505.2,435.3 505.2,434.6 505.3,433.9 505.3,433.2 505.3,432.5 505.3,431.8 505.4,431.1 505.4,430.4 505.4,429.6 505.4,429.0 505.5,428.3 505.5,427.6 505.5,426.8 505.6,426.1 505.6,425.4 505.6,424.7 505.6,424.0 505.7,423.3 505.7,422.6 505.7,421.8 505.8,421.1 505.8,420.5 505.8,419.8 505.8,419.1 505.9,418.4 505.9,417.7 505.9,417.1 505.9,416.3 506.0,415.6 506.0,415.0 506.0,414.3 506.1,413.6 506.1,412.9 506.1,412.3 506.2,411.5 506.2,410.7 506.3,409.8 506.3,409.0 506.4,408.2 506.4,407.3 506.4,406.5 506.5,405.5 506.5,404.8 506.6,404.0 506.6,403.2 506.7,402.4 506.7,401.7 506.8,401.0 506.8,400.3 506.9,399.8 506.9,399.2 507.0,398.7 507.0,398.4 507.1,397.9 507.1,398.5 507.1,399.0 507.2,399.4 507.2,400.1 507.2,400.5 507.3,401.1 507.3,401.8 507.3,402.5 507.4,403.2 507.4,403.9 507.4,404.6 507.5,405.3 507.5,406.1 507.5,406.8 507.5,407.5 507.6,408.3 507.6,409.1 507.6,409.9 507.7,410.7 507.7,411.5 507.7,412.3 507.8,413.0 507.8,413.9 507.8,414.7 507.9,415.4 507.9,416.1 507.9,416.9 508.0,417.7 508.0,418.4 508.0,419.1 508.1,419.8 508.1,420.5 508.1,421.3 508.2,422.0 508.2,422.7 508.2,423.4 508.3,424.2 508.3,424.9 508.3,425.7 508.4,426.4 508.4,427.1 508.4,427.9 508.5,428.6 508.5,429.3 508.5,430.1 508.6,430.8 508.6,431.5 508.7,432.3 508.7,432.9 508.7,433.6 508.8,434.4 508.8,435.0 508.8,435.7 508.9,436.4 508.9,437.0 509.0,437.8 509.0,438.3 509.1,438.9 509.1,439.6 509.5,439.2 510.0,438.1 510.5,437.4 510.6,438.1 510.7,438.9 510.8,439.6 510.9,440.4 511.0,441.2 511.1,442.1 511.2,443.0 511.3,444.0 511.4,444.5 511.5,445.5 511.6,446.1 511.7,446.7 511.8,446.7 511.9,446.9 512.0,446.1 512.1,445.6 512.2,444.8 512.3,444.0 512.4,443.2 512.5,442.7 512.6,441.7 512.7,441.0 512.8,440.1 512.9,439.4 513.0,438.5 513.1,437.5 513.2,436.9 513.3,436.0 513.3,435.4 513.4,434.7 513.4,434.0 513.5,433.3 513.5,432.5 513.6,431.8 513.6,431.0 513.7,430.2 513.7,429.6 513.8,428.8 513.8,428.1 513.9,427.4 513.9,426.6 514.0,425.9 514.1,425.2 514.1,424.6 514.2,423.8 514.2,423.1 514.3,422.5 515.2,421.2 515.4,422.6 515.6,423.4 515.7,423.9 515.8,424.6 516.0,425.4 516.1,426.4 516.2,427.3 516.2,427.9 516.3,428.6 516.3,429.2 516.3,429.9 516.4,430.6 516.4,431.3 516.4,431.9 516.5,432.7 516.5,433.3 516.5,434.0 516.6,434.7 516.6,435.4 516.6,436.0 516.6,436.7 516.7,437.5 516.7,438.2 516.7,438.9 516.8,439.6 516.8,440.4 516.8,441.1 516.8,441.8 516.9,442.4 516.9,443.2 516.9,443.9 517.0,444.7 517.0,445.3 517.0,446.1 517.0,446.8 517.1,447.5 517.1,448.2 517.1,448.9 517.2,449.7 517.2,450.4 517.2,451.1 517.2,451.8 517.3,452.5 517.3,453.2 517.3,453.9 517.4,454.6 517.4,455.2 517.4,456.0 517.4,456.7 517.5,457.4 517.5,458.1 517.5,458.8 517.5,459.6 517.6,460.3 517.6,461.0 517.6,461.7 517.6,462.4 517.7,463.2 517.7,463.8 517.7,464.5 517.7,465.3 517.8,466.0 517.8,466.7 517.8,467.4 517.8,468.1 517.9,468.8 517.9,469.6 517.9,470.3 518.0,471.0 518.0,471.7 518.0,472.3 518.0,473.1 518.1,473.7 518.1,474.4 518.1,475.1 518.2,475.9 518.2,476.5 518.2,477.2 518.3,477.8 518.3,478.5 518.3,479.2 518.4,479.8 518.4,480.5 519.4,480.2 519.4,479.9 519.5,479.1 519.5,478.6 519.6,478.1 519.6,477.2 519.7,476.6 519.7,475.9 519.8,475.2 519.8,474.5 519.9,473.8 519.9,473.0 520.0,472.4 520.0,471.7 520.1,470.9 520.1,470.2 520.2,469.4 520.2,468.5 520.3,467.7 520.3,466.8 520.3,466.2 520.3,465.6 520.4,464.9 520.4,464.2 520.4,463.5 520.4,462.8 520.4,462.2 520.5,461.5 520.5,460.8 520.5,460.1 520.5,459.4 520.5,458.7 520.6,458.0 520.6,457.3 520.6,456.6 520.6,455.9 520.6,455.2 520.7,454.5 520.7,453.8 520.7,453.1 520.7,452.3 520.7,451.7 520.7,450.9 520.8,450.2 520.8,449.5 520.8,448.8 520.8,448.1 520.8,447.4 520.9,446.6 520.9,445.9 520.9,445.2 520.9,444.5 520.9,443.8 520.9,443.0 521.0,442.3 521.0,441.6 521.0,440.8 521.0,440.1 521.0,439.4 521.1,438.7 521.1,438.0 521.1,437.3 521.1,436.5 521.1,435.8 521.2,435.1 521.2,434.4 521.2,433.7 521.2,432.9 521.2,432.3 521.2,431.5 521.3,430.9 521.3,430.1 521.3,429.4 521.3,428.7 521.3,428.0 521.4,427.3 521.4,426.6 521.4,425.9 521.4,425.2 521.4,424.5 521.4,423.7 521.5,422.9 521.5,422.2 521.5,421.4 521.5,420.6 521.5,419.8 521.6,419.0 521.6,418.2 521.6,417.4 521.6,416.6 521.6,415.8 521.7,415.0 521.7,414.1 521.7,413.3 521.7,412.5 521.7,411.7 521.8,410.9 521.8,410.1 521.8,409.3 521.8,408.5 521.8,407.7 521.9,406.9 521.9,406.1 521.9,405.3 521.9,404.5 521.9,403.7 522.0,403.1 522.0,402.3 522.0,401.5 522.0,400.9 522.0,400.1 522.1,399.4 522.1,398.8 522.1,398.0 522.1,397.5 522.1,396.8 522.2,396.1 522.2,395.6 522.2,395.0 522.2,394.4 522.2,393.9 522.2,393.4 522.3,392.9 522.3,392.4 522.3,391.9 522.3,391.6 522.4,391.0 522.4,391.6 522.4,391.9 522.4,392.3 522.4,392.9 522.5,393.4 522.5,393.9 522.5,394.4 522.5,395.0 522.5,395.6 522.6,396.2 522.6,396.8 522.6,397.5 522.6,398.1 522.7,398.7 522.7,399.5 522.7,400.2 522.7,400.8 522.8,401.5 522.8,402.3 522.8,403.0 522.8,403.8 522.8,404.5 522.9,405.3 522.9,406.1 522.9,406.9 522.9,407.7 523.0,408.5 523.0,409.3 523.0,410.1 523.0,410.9 523.1,411.7 523.1,412.6 523.1,413.4 523.1,414.2 523.1,415.0 523.2,415.8 523.2,416.6 523.2,417.4 523.2,418.2 523.3,419.0 523.3,419.8 523.3,420.6 523.3,421.4 523.3,422.2 523.4,422.9 523.4,423.7 523.4,424.5 523.4,425.2 523.4,425.9 523.5,426.7 523.5,427.3 523.5,428.0 523.5,428.7 523.5,429.4 523.5,430.1 523.5,430.8 523.5,431.5 523.6,432.2 523.6,432.9 523.6,433.6 523.6,434.4 523.6,435.0 523.6,435.8 523.6,436.5 523.6,437.2 523.7,437.9 523.7,438.6 523.7,439.3 523.7,440.0 523.7,440.7 523.7,441.5 523.7,442.2 523.7,442.9 523.7,443.6 523.8,444.3 523.8,445.0 523.8,445.8 523.8,446.5 523.8,447.2 523.8,447.9 523.8,448.6 523.8,449.3 523.8,450.1 523.9,450.8 523.9,451.5 523.9,452.2 523.9,452.9 523.9,453.6 523.9,454.3 523.9,455.0 523.9,455.8 523.9,456.5 524.0,457.2 524.0,457.9 524.0,458.5 524.0,459.3 524.0,459.9 524.0,460.7 524.0,461.3 524.0,462.0 524.0,462.7 524.1,463.4 524.1,464.1 524.1,464.8 524.1,465.5 524.1,466.2 524.1,466.8 524.1,467.6 524.2,468.4 524.2,469.1 524.2,469.9 524.2,470.6 524.2,471.3 524.2,472.1 524.3,472.8 524.3,473.6 524.3,474.3 524.3,475.0 524.3,475.7 524.3,476.5 524.4,477.1 524.4,477.9 524.4,478.6 524.4,479.3 524.4,480.0 524.4,480.8 524.5,481.5 524.5,482.2 524.5,482.9 524.5,483.6 524.5,484.2 524.6,485.0 524.6,485.7 524.6,486.4 524.6,487.1 524.6,487.8 524.6,488.5 524.7,489.3 524.7,489.9 524.7,490.6 524.7,491.3 524.7,492.1 524.8,492.8 524.8,493.4 524.8,494.2 524.8,494.8 524.9,495.6 524.9,496.3 524.9,497.1 524.9,497.9 525.0,498.7 525.0,499.5 525.0,500.2 525.1,501.0 525.1,501.8 525.1,502.6 525.2,503.4 525.2,504.1 525.2,504.9 525.2,505.6 525.3,506.4 525.3,507.2 525.3,507.9 525.4,508.6 525.4,509.2 525.4,509.9 525.5,510.7 525.5,511.3 525.5,512.0 525.6,512.5 525.6,513.2 525.6,513.6 525.7,514.2 525.7,514.8 525.8,515.3 525.8,514.8 525.9,514.4 526.0,513.7 526.1,513.0 526.2,512.2 526.3,511.3 526.4,510.3 526.5,509.4 526.6,508.4 526.7,507.6 526.8,506.7 526.9,506.0 526.9,505.4 527.0,504.6 527.1,504.3 527.2,504.9 527.2,505.4 527.3,505.8 527.3,506.5 527.4,507.1 527.4,507.8 527.4,508.4 527.5,509.2 527.5,509.9 527.6,510.7 527.6,511.4 527.7,512.2 527.7,513.0 527.8,513.8 527.8,514.5 527.8,515.3 527.9,516.2 527.9,516.9 528.0,517.8 528.0,518.5 528.1,519.2 528.1,520.0 528.2,520.8 528.2,521.3 528.3,522.2 528.4,522.9 528.4,523.6 528.5,524.4 528.6,525.2 528.6,526.0 528.7,526.6 528.8,527.4 528.9,528.2 528.9,528.9 529.0,529.6 529.1,530.3 529.2,530.9 529.3,531.7 529.4,532.4 529.5,532.9 529.6,533.8 530.2,534.0 531.0,533.9 531.6,534.2 531.8,535.1 531.9,535.8 532.1,536.3 532.2,537.3 532.4,537.9 532.5,538.8 532.6,539.6 532.7,540.5 532.9,540.9 533.0,541.8 533.1,542.5 533.3,543.5 533.4,544.3 533.6,545.2 533.7,545.8 533.8,546.4 534.0,547.5 534.2,547.9 534.4,548.4 535.0,549.0 535.7,547.9 536.4,547.8 536.9,547.4 537.5,546.9 538.0,546.0 538.4,545.1 538.5,544.6 538.6,543.9 538.6,543.2 538.7,542.6 538.7,541.8 538.8,541.1 538.8,540.3 538.9,539.5 538.9,538.7 539.0,538.0 539.0,537.2 539.0,536.4 539.1,535.6 539.1,534.8 539.2,534.0 539.2,533.3 539.3,532.5 539.3,531.7 539.3,531.0 539.4,530.3 539.4,529.5 539.5,528.9 539.5,528.1 539.5,527.5 539.6,526.8 539.6,526.3 539.7,525.6 539.7,525.1 539.8,524.5 539.8,524.1 539.9,524.5 540.0,525.1 540.0,525.6 540.1,526.2 540.2,527.1 540.3,528.0 540.4,528.7 540.4,529.7 540.5,530.5 540.6,531.6 540.7,532.4 540.8,533.2 540.9,534.1 540.9,534.8 541.0,535.5 541.1,536.0 541.2,536.3 541.2,535.9 541.3,535.4 541.4,534.8 541.4,534.3 541.5,533.7 541.6,533.1 541.6,532.4 541.7,531.6 541.8,531.0 541.8,530.2 541.9,529.3 542.0,528.5 542.0,527.8 542.1,527.0 542.2,526.2 542.2,525.4 542.3,524.6 542.4,523.7 542.4,523.0 542.5,522.2 542.5,521.4 542.6,520.8 542.6,520.0 542.6,519.4 542.7,518.6 542.7,517.9 542.7,517.3 542.8,516.5 542.8,515.8 542.8,515.1 542.8,514.4 542.9,513.6 542.9,513.0 542.9,512.2 543.0,511.6 543.0,510.8 543.0,510.1 543.0,509.4 543.1,508.6 543.1,507.9 543.1,507.2 543.1,506.4 543.2,505.7 543.2,505.1 543.2,504.3 543.2,503.6 543.3,502.9 543.3,502.2 543.3,501.6 543.4,500.9 543.4,500.2 543.4,499.5 543.5,498.9 543.5,498.2 543.6,497.2 543.7,496.2 543.9,495.3 544.0,494.5 544.2,493.9 544.3,493.1 544.4,493.9 544.5,494.6 544.7,495.4 544.8,496.2 544.9,497.1 545.0,497.9 545.1,498.7 545.3,499.5 545.4,500.3 545.5,500.9 545.6,501.5 545.8,502.4 545.9,503.2 546.0,503.9 546.1,504.6 546.3,505.3 546.4,506.1 546.5,506.9 546.6,507.8 546.7,508.4 546.7,509.1 546.8,509.9 546.9,510.7 546.9,511.5 547.0,512.1 547.0,513.0 547.1,513.8 547.1,514.6 547.2,515.4 547.2,516.2 547.3,517.0 547.4,517.8 547.4,518.6 547.5,519.3 547.5,520.0 547.6,520.7 547.6,521.4 547.7,522.1 547.7,522.7 547.8,523.3 547.9,523.9 547.9,524.2 548.0,524.9 548.1,524.5 548.2,524.1 548.3,523.5 548.4,522.9 548.5,522.2 548.6,521.5 548.8,520.7 548.9,520.0 549.0,519.1 549.1,518.3 549.2,517.6 549.3,516.6 549.5,515.9 549.6,514.9 549.7,514.0 549.8,513.2 549.9,512.6 550.0,511.9 550.2,511.1 550.3,510.3 550.5,509.8 550.6,509.0 550.7,508.1 550.9,507.6 551.0,506.9 551.2,506.3 551.3,505.4 551.4,505.1 551.6,504.3 551.7,503.5 551.8,502.5 552.0,501.9 552.1,501.0 552.1,500.3 552.2,499.6 552.2,499.0 552.2,498.2 552.3,497.7 552.3,496.9 552.4,496.3 552.4,495.6 552.4,494.9 552.5,494.3 552.5,493.6 552.6,492.9 552.6,492.2 552.6,491.5 552.7,490.8 552.7,490.2 552.7,489.4 552.8,488.7 552.8,488.0 552.8,487.3 552.9,486.5 552.9,485.9 552.9,485.1 553.0,484.5 553.0,483.7 553.0,482.9 553.1,482.3 553.1,481.6 553.1,480.9 553.2,480.1 553.2,479.4 553.2,478.7 553.2,478.0 553.3,477.3 553.3,476.5 553.3,475.8 553.4,475.1 553.4,474.4 553.5,473.6 553.5,473.0 553.5,472.2 553.5,471.6 553.6,470.9 553.6,470.2 553.6,469.4 553.7,468.8 553.7,468.0 553.7,467.4 553.7,466.7 553.8,465.9 553.8,465.2 553.8,464.5 553.9,463.8 553.9,463.1 553.9,462.4 553.9,461.7 554.0,461.0 554.0,460.3 554.0,459.6 554.1,458.9 554.1,458.2 554.1,457.4 554.1,456.7 554.2,456.0 554.2,455.3 554.2,454.5 554.3,453.8 554.3,453.1 554.3,452.4 554.3,451.7 554.4,451.0 554.4,450.3 554.4,449.5 554.5,448.8 554.5,448.1 554.5,447.4 554.5,446.7 554.6,446.0 554.6,445.2 554.6,444.5 554.6,443.9 554.7,443.1 554.7,442.4 554.7,441.7 554.8,441.0 554.8,440.3 554.8,439.5 554.8,438.9 554.9,438.1 554.9,437.4 554.9,436.7 554.9,436.0 554.9,435.3 555.0,434.5 555.0,433.8 555.0,433.1 555.0,432.4 555.0,431.7 555.1,430.9 555.1,430.2 555.1,429.5 555.1,428.8 555.1,428.1 555.2,427.3 555.2,426.7 555.2,425.9 555.2,425.2 555.2,424.5 555.3,423.8 555.3,423.1 555.3,422.3 555.3,421.6 555.3,420.9 555.4,420.2 555.4,419.5 555.4,418.7 555.4,418.0 555.4,417.3 555.5,416.6 555.5,415.9 555.5,415.2 555.5,414.5 555.5,413.8 555.6,413.1 555.6,412.3 555.6,411.7 555.6,411.0 555.6,410.3 555.6,409.6 555.7,408.9 555.7,408.2 555.7,407.5 555.7,406.8 555.7,406.1 555.8,405.5 555.8,404.7 555.8,404.0 555.9,403.4 555.9,402.7 555.9,402.1 555.9,401.6 556.0,401.0 556.0,400.5 556.0,399.9 556.1,399.3 556.1,398.8 556.1,398.3 556.2,397.7 556.2,397.1 556.2,396.6 556.3,396.0 556.3,395.4 556.3,394.8 556.3,394.1 556.4,393.4 556.4,392.7 556.4,391.9 556.5,391.1 556.5,390.2 556.5,389.3 556.5,388.3 556.5,387.3 556.6,386.2 556.6,385.0 556.6,384.3 556.6,383.7 556.6,383.0 556.6,382.4 556.6,381.7 556.6,381.0 556.6,380.4 556.6,379.7 556.6,379.1 556.6,378.3 556.6,377.6 556.6,377.0 556.6,376.3 556.6,375.6 556.6,374.9 556.6,374.3 556.6,373.5 556.6,372.9 556.6,372.1 556.6,371.4 556.6,370.7 556.6,370.0 556.6,369.3 556.6,368.6 556.6,367.9 556.6,367.2 556.6,366.4 556.6,365.7 556.7,365.0 556.7,364.3 556.7,363.6 556.7,362.8 556.7,362.1 556.7,361.4 556.7,360.6 556.7,359.9 556.7,359.2 556.7,358.4 556.7,357.7 556.7,356.9 556.7,356.2 556.7,355.4 556.7,354.7 556.7,353.9 556.7,353.2 556.7,352.4 556.7,351.7 556.7,350.9 556.7,350.1 556.7,349.4 556.7,348.6 556.7,347.8 556.7,347.1 556.7,346.3 556.7,345.5 556.7,344.7 556.7,344.0 556.7,343.2 556.7,342.4 556.7,341.7 556.7,340.9 556.7,340.1 556.7,339.3 556.7,338.5 556.7,337.7 556.7,337.0 556.7,336.2 556.7,335.4 556.7,334.6 556.7,333.8 556.7,333.0 556.7,332.2 556.7,331.4 556.7,330.6 556.7,329.8 556.7,329.0 556.7,328.2 556.7,327.4 556.7,326.6 556.7,325.9 556.7,325.0 556.7,324.2 556.7,323.4 556.7,322.6 556.7,321.8 556.7,321.0 556.7,320.2 556.7,319.4 556.7,318.6 556.7,317.8 556.7,317.0 556.7,316.2 556.7,315.4 556.7,314.6 556.7,313.8 556.7,313.0 556.8,312.2 556.8,311.3 556.8,310.6 556.8,309.7 556.8,308.9 556.8,308.1 556.8,307.3 556.8,306.5 556.8,305.7 556.8,304.9 556.8,304.1 556.8,303.3 556.8,302.5 556.8,301.6 556.8,300.8 556.8,300.0 556.8,299.2 556.8,298.4 556.8,297.6 556.8,296.8 556.8,296.0 556.8,295.2 556.8,294.4 556.8,293.6 556.8,292.8 556.8,291.9 556.8,291.1 556.8,290.3 556.8,289.5 556.8,288.7 556.8,287.9 556.8,287.1 556.8,286.3 556.8,285.5 556.8,284.7 556.8,283.9 556.8,283.1 556.8,282.3 556.8,281.5 556.8,280.7 556.8,279.9 556.8,279.1 556.8,278.3 556.8,277.5 556.8,276.7 556.8,275.9 556.8,275.1 556.8,274.3 556.8,273.5 556.8,272.8 556.8,272.0 556.8,271.2 556.8,270.4 556.8,269.6 556.8,268.8 556.8,268.0 556.8,267.3 556.8,266.5 556.8,265.7 556.8,264.9 556.8,264.1 556.8,263.4 556.8,262.6 556.8,261.8 556.8,261.1 556.8,260.3 556.8,259.5 556.8,258.7 556.8,258.0 556.8,257.2 556.8,256.5 556.8,255.7 556.8,255.0 556.8,254.2 556.8,253.4 556.8,252.7 556.8,252.0 556.8,251.2 556.8,250.5 556.8,249.7 556.8,249.0 556.8,248.2 556.8,247.5 556.8,246.7 556.8,246.0 556.8,245.3 556.8,244.5 556.8,243.8 556.8,243.1 556.9,242.4 556.9,241.6 556.9,240.9 556.9,240.2 556.9,239.5 556.9,238.8 556.9,238.1 556.9,237.3 556.9,236.6 556.9,236.0 556.9,235.2 556.9,234.5 556.9,233.8 556.9,233.1 556.9,232.4 556.9,231.8 556.9,231.1 556.9,230.4 556.9,229.7 556.9,229.0 556.9,228.3 556.9,227.7 556.9,227.0 556.9,226.3 556.9,225.7 556.9,225.0 556.9,224.3 556.9,223.7 556.9,223.0 556.9,222.4 556.9,221.7 556.9,221.1 556.9,220.5 556.9,219.8 556.9,219.2 556.9,218.6 556.9,218.0 556.9,217.3 556.9,216.7 556.9,216.1 556.9,215.4 556.9,214.8 556.9,214.2 556.9,213.6 556.9,213.0 556.9,212.4 556.9,211.8 556.9,211.2 556.9,210.6 556.9,210.1 556.9,209.5 556.9,208.9 556.9,208.3 556.9,207.7 556.9,207.2 556.9,206.6 556.9,206.1 556.9,205.5 556.9,204.9 556.9,204.4 556.9,203.9 556.9,203.3 556.9,202.8 556.9,202.3 556.9,201.7 556.9,201.2 556.9,200.7 556.9,200.2 557.0,199.6 557.0,199.1 557.0,198.6 557.0,198.1 557.0,197.6 557.0,197.1 557.0,196.7 557.0,196.1 557.0,195.7 557.0,195.2 557.0,194.7 557.0,194.3 557.0,193.8 557.0,193.3 557.0,192.9 557.0,192.5 557.0,192.0 557.0,191.6 557.0,191.1 557.0,190.7 557.0,190.3 557.0,189.9 557.0,189.4 557.0,189.0 557.0,188.6 557.0,188.2 557.0,187.8 557.0,187.4 557.0,187.1 557.0,187.4 557.0,187.9 557.0,188.1 557.0,188.6 557.0,189.1 557.0,189.4 557.0,189.9 557.0,190.2 557.0,190.7 557.1,191.1 557.1,191.6 557.1,192.1 557.1,192.4 557.1,192.8 557.1,193.4 557.1,193.9 557.1,194.3 557.1,194.8 557.1,195.2 557.1,195.6 557.1,196.1 557.1,196.6 557.1,197.2 557.1,197.7 557.1,198.1 557.1,198.7 557.1,199.1 557.1,199.6 557.1,200.2 557.1,200.7 557.2,201.2 557.2,201.7 557.2,202.2 557.2,202.8 557.2,203.3 557.2,203.9 557.2,204.4 557.2,205.0 557.2,205.5 557.2,206.1 557.2,206.6 557.2,207.2 557.2,207.8 557.2,208.3 557.2,208.9 557.2,209.5 557.2,210.1 557.2,210.7 557.2,211.3 557.2,211.9 557.2,212.5 557.3,213.0 557.3,213.6 557.3,214.2 557.3,214.9 557.3,215.4 557.3,216.1 557.3,216.7 557.3,217.3 557.3,217.9 557.3,218.6 557.3,219.2 557.3,219.8 557.3,220.5 557.3,221.1 557.3,221.8 557.3,222.4 557.3,223.1 557.3,223.7 557.3,224.4 557.3,225.1 557.4,225.7 557.4,226.3 557.4,227.0 557.4,227.7 557.4,228.4 557.4,229.1 557.4,229.7 557.4,230.4 557.4,231.1 557.4,231.8 557.4,232.5 557.4,233.2 557.4,233.9 557.4,234.6 557.4,235.3 557.4,236.0 557.4,236.7 557.4,237.4 557.4,238.1 557.4,238.8 557.5,239.5 557.5,240.2 557.5,241.0 557.5,241.7 557.5,242.4 557.5,243.1 557.5,243.8 557.5,244.6 557.5,245.3 557.5,246.0 557.5,246.8 557.5,247.5 557.5,248.2 557.5,249.0 557.5,249.7 557.5,250.5 557.5,251.2 557.5,252.0 557.5,252.7 557.6,253.5 557.6,254.2 557.6,255.0 557.6,255.7 557.6,256.5 557.6,257.3 557.6,258.1 557.6,258.8 557.6,259.6 557.6,260.3 557.6,261.1 557.6,261.9 557.6,262.6 557.6,263.4 557.6,264.2 557.6,265.0 557.6,265.7 557.6,266.6 557.7,267.3 557.7,268.1 557.7,268.9 557.7,269.7 557.7,270.5 557.7,271.2 557.7,272.0 557.7,272.8 557.7,273.6 557.7,274.4 557.7,275.2 557.7,276.0 557.7,276.8 557.7,277.6 557.7,278.4 557.7,279.2 557.7,280.0 557.7,280.8 557.7,281.6 557.8,282.4 557.8,283.2 557.8,284.0 557.8,284.7 557.8,285.6 557.8,286.4 557.8,287.2 557.8,288.0 557.8,288.8 557.8,289.6 557.8,290.4 557.8,291.2 557.8,292.0 557.8,292.8 557.8,293.6 557.8,294.4 557.8,295.3 557.8,296.0 557.9,296.8 557.9,297.7 557.9,298.5 557.9,299.3 557.9,300.1 557.9,300.9 557.9,301.7 557.9,302.5 557.9,303.3 557.9,304.1 557.9,305.0 557.9,305.8 557.9,306.6 557.9,307.4 557.9,308.2 557.9,309.0 557.9,309.8 557.9,310.6 557.9,311.4 558.0,312.2 558.0,313.0 558.0,313.9 558.0,314.7 558.0,315.5 558.0,316.3 558.0,317.1 558.0,317.9 558.0,318.7 558.0,319.5 558.0,320.3 558.0,321.1 558.0,321.9 558.0,322.7 558.0,323.5 558.0,324.3 558.0,325.1 558.0,325.9 558.1,326.7 558.1,327.5 558.1,328.3 558.1,329.1 558.1,329.9 558.1,330.7 558.1,331.5 558.1,332.3 558.1,333.1 558.1,333.8 558.1,334.6 558.1,335.4 558.1,336.2 558.1,337.0 558.1,337.8 558.1,338.6 558.1,339.4 558.1,340.1 558.1,340.9 558.2,341.7 558.2,342.5 558.2,343.3 558.2,344.0 558.2,344.8 558.2,345.6 558.2,346.4 558.2,347.1 558.2,347.9 558.2,348.7 558.2,349.4 558.2,350.2 558.2,350.9 558.2,351.7 558.2,352.5 558.2,353.2 558.2,354.0 558.2,354.7 558.2,355.5 558.3,356.2 558.3,356.9 558.3,357.7 558.3,358.4 558.3,359.2 558.3,359.9 558.3,360.7 558.3,361.4 558.3,362.2 558.3,362.8 558.3,363.6 558.3,364.3 558.3,365.1 558.3,365.7 558.3,366.5 558.3,367.2 558.3,367.9 558.3,368.7 558.3,369.3 558.4,370.1 558.4,370.8 558.4,371.5 558.4,372.2 558.4,372.8 558.4,373.5 558.4,374.3 558.4,375.0 558.4,375.6 558.4,376.3 558.4,377.0 558.4,377.7 558.4,378.4 558.4,379.0 558.4,379.7 558.4,380.4 558.4,381.1 558.4,381.8 558.4,382.4 558.4,383.0 558.5,383.7 558.5,384.3 558.5,385.0 558.5,385.9 558.5,386.9 558.5,387.8 558.5,388.7 558.5,389.6 558.5,390.5 558.5,391.3 558.5,392.2 558.5,393.0 558.5,393.8 558.5,394.6 558.6,395.4 558.6,396.2 558.6,397.0 558.6,397.7 558.6,398.4 558.6,399.1 558.6,399.9 558.6,400.6 558.6,401.3 558.6,402.0 558.6,402.7 558.6,403.3 558.6,404.0 558.6,404.7 558.6,405.3 558.7,406.0 558.7,406.6 558.7,407.3 558.7,407.9 558.7,408.5 558.7,409.2 558.7,409.8 558.7,410.4 558.7,411.0 558.7,411.6 558.7,412.3 558.7,412.9 558.7,413.5 558.7,414.1 558.7,414.7 558.8,415.4 558.8,416.0 558.8,416.6 558.8,417.3 558.8,417.8 558.8,418.5 558.8,419.2 558.8,419.8 558.8,420.5 558.8,421.1 558.8,421.8 558.8,422.4 558.8,423.2 558.8,423.8 558.9,424.5 558.9,425.2 558.9,425.9 558.9,426.6 558.9,427.3 558.9,428.0 558.9,428.7 558.9,429.4 558.9,430.1 558.9,430.8 558.9,431.5 558.9,432.2 559.0,432.9 559.0,433.6 559.0,434.3 559.0,435.0 559.0,435.8 559.0,436.5 559.0,437.2 559.0,437.9 559.0,438.6 559.0,439.3 559.0,440.0 559.0,440.8 559.1,441.5 559.1,442.2 559.1,442.9 559.1,443.6 559.1,444.3 559.1,445.1 559.1,445.8 559.1,446.5 559.1,447.2 559.1,448.0 559.1,448.6 559.2,449.4 559.2,450.1 559.2,450.8 559.2,451.5 559.2,452.2 559.2,453.0 559.2,453.7 559.2,454.4 559.2,455.0 559.2,455.8 559.2,456.5 559.3,457.2 559.3,457.9 559.3,458.6 559.3,459.3 559.3,460.0 559.3,460.7 559.3,461.4 559.3,462.1 559.3,462.8 559.4,463.5 559.4,464.2 559.4,464.9 559.4,465.6 559.4,466.3 559.4,466.9 559.4,467.7 559.4,468.3 559.5,469.0 559.5,469.7 559.5,470.3 559.5,471.0 559.5,471.6 559.5,472.3 559.5,473.0 559.5,473.7 559.9,474.6 560.3,474.3 560.6,476.0 560.7,476.4 560.8,477.0 560.8,477.7 560.9,478.5 560.9,479.2 561.0,479.9 561.0,480.6 561.0,481.4 561.1,482.1 561.1,482.9 561.2,483.6 561.2,484.3 561.3,485.1 561.3,485.8 561.4,486.5 561.4,487.2 561.4,487.9 561.5,488.7 561.5,489.3 561.6,490.0 561.7,490.8 561.8,491.8 561.9,492.8 562.1,493.6 562.2,494.3 562.3,495.1 562.4,495.7 562.5,496.5 562.7,495.6 562.8,494.9 562.9,494.3 563.0,493.5 563.1,492.7 563.2,491.9 563.3,491.1 563.4,490.2 563.5,489.4 563.6,488.7 563.7,487.9 563.8,487.2 563.9,486.5 564.1,486.5 564.4,487.4 564.6,487.7 564.8,489.2 565.0,489.9 565.1,490.6 565.1,491.4 565.2,492.0 565.2,492.9 565.3,493.4 565.3,494.1 565.4,494.9 565.4,495.6 565.5,496.3 565.5,497.1 565.6,497.8 565.6,498.5 565.7,499.3 565.7,500.0 565.8,500.7 565.8,501.5 565.9,502.3 565.9,503.0 566.0,503.6 566.0,504.5 566.1,504.9 566.2,505.8 566.3,506.5 566.4,507.3 566.5,508.1 566.6,508.9 566.7,509.6 566.8,510.2 566.9,510.9 567.1,511.8 567.2,512.3 567.3,513.2 567.4,513.8 567.5,514.6 567.6,515.2 567.7,515.9 567.9,516.7 568.0,517.5 568.2,518.4 568.3,519.2 568.4,520.0 568.6,520.9 568.7,521.6 568.9,522.2 569.0,523.1 569.2,523.4 569.4,524.4 569.7,523.6 570.1,522.6 570.4,522.0 570.8,521.2 571.1,520.5 571.3,521.2 571.5,521.9 571.7,522.7 571.8,523.5 572.0,524.2 572.2,525.1 572.3,526.2 572.5,527.0 572.8,527.7 573.2,528.5 573.6,529.0 573.9,530.1 574.3,530.0 574.5,530.0 574.7,529.6 574.9,528.3 575.0,527.8 575.2,526.9 575.4,526.5 575.6,525.7 575.8,524.7 575.9,524.1 576.0,523.4 576.1,522.8 576.2,522.1 576.3,521.4 576.3,520.5 576.4,519.8 576.5,519.1 576.6,518.2 576.7,517.4 576.7,516.7 576.8,516.0 576.9,515.3 577.0,514.6 577.1,513.8 577.2,513.2 577.3,512.5 578.0,512.2 578.6,511.4 578.8,512.5 579.0,513.5 579.1,514.4 579.2,515.3 579.4,516.3 579.5,517.0 579.6,517.7 579.7,517.8 579.8,517.5 579.8,516.8 579.9,516.3 579.9,515.6 580.0,514.9 580.0,514.3 580.1,513.8 580.1,513.0 580.2,512.2 580.2,511.5 580.3,510.7 580.3,510.0 580.4,509.3 580.4,508.5 580.5,507.7 580.5,506.9 580.6,506.1 580.6,505.3 580.7,504.6 580.7,503.8 580.8,503.1 580.8,502.3 580.9,501.6 580.9,501.0 581.0,500.2 581.0,499.5 581.1,498.8 581.5,497.9 581.9,497.3 582.3,497.5 582.7,496.5 583.4,495.6 584.1,495.5 584.8,494.9 585.1,494.0 585.3,493.3 585.6,492.9 585.9,492.0 586.1,491.6 586.3,490.9 586.6,490.1 586.7,489.2 586.8,488.6 586.9,487.7 587.0,486.8 587.1,486.0 587.2,485.3 587.3,484.4 587.4,483.6 587.5,483.0 587.6,482.3 587.7,481.6 587.8,481.0 587.9,481.6 588.0,482.1 588.1,482.9 588.2,483.3 588.2,484.3 588.3,485.2 588.4,485.7 588.5,486.7 588.6,487.5 588.7,488.3 588.8,489.2 588.9,490.1 588.9,490.6 589.0,491.4 589.0,492.0 589.1,492.7 589.2,493.5 589.2,494.2 589.3,494.9 589.3,495.6 589.4,496.3 589.4,497.1 589.5,497.7 589.5,498.5 589.6,499.2 589.6,499.9 589.7,500.6 589.7,501.3 589.8,502.1 589.8,502.9 589.9,503.6 590.0,504.3 590.0,505.0 590.1,505.7 590.1,506.4 590.2,507.1 590.2,507.8 590.3,508.4 590.4,509.3 590.5,510.0 590.5,511.0 590.6,511.7 590.7,512.6 590.8,513.3 590.9,514.2 590.9,515.0 591.0,516.0 591.1,516.6 591.2,517.5 591.3,518.2 591.3,518.9 591.4,519.6 591.5,520.4 591.6,520.8 591.7,521.4 591.7,521.8 591.8,522.1 591.9,522.7 591.9,522.4 592.0,521.9 592.0,521.2 592.1,520.7 592.2,520.2 592.2,519.7 592.3,519.0 592.3,518.3 592.4,517.7 592.4,517.0 592.5,516.4 592.5,515.6 592.6,514.9 592.6,514.1 592.7,513.4 592.7,512.6 592.8,511.8 592.8,511.0 592.9,510.2 592.9,509.4 593.0,508.6 593.0,507.8 593.1,507.0 593.1,506.2 593.2,505.4 593.2,504.7 593.3,503.9 593.3,503.1 593.4,502.3 593.4,501.6 593.4,501.0 593.4,500.3 593.5,499.5 593.5,498.8 593.5,498.2 593.5,497.5 593.6,496.8 593.6,496.1 593.6,495.4 593.6,494.7 593.6,493.9 593.7,493.2 593.7,492.5 593.7,491.8 593.7,491.1 593.7,490.4 593.7,489.6 593.8,488.9 593.8,488.2 593.8,487.5 593.8,486.7 593.8,485.9 593.9,485.2 593.9,484.5 593.9,483.8 593.9,483.1 593.9,482.3 593.9,481.6 594.0,480.9 594.0,480.2 594.0,479.5 594.0,478.7 594.0,478.0 594.0,477.3 594.1,476.6 594.1,475.9 594.1,475.1 594.1,474.4 594.1,473.7 594.2,473.0 594.2,472.3 594.2,471.6 594.2,470.9 594.2,470.2 594.2,469.5 594.3,468.8 594.3,468.2 594.3,467.5 594.3,466.8 594.4,466.0 594.4,465.2 594.5,464.3 594.5,463.5 594.5,462.6 594.6,461.8 594.6,460.8 594.7,460.0 594.7,459.1 594.8,458.4 594.8,457.6 594.8,456.8 594.9,455.9 594.9,455.2 595.0,454.6 595.0,453.9 595.1,453.2 595.1,452.8 595.2,452.4 595.2,451.9 595.2,451.5 595.3,451.4 595.3,451.6 595.3,452.2 595.4,452.7 595.4,453.3 595.4,453.9 595.5,454.4 595.5,455.1 595.5,455.7 595.5,456.3 595.6,457.0 595.6,457.6 595.6,458.4 595.6,459.1 595.7,459.8 595.7,460.5 595.7,461.3 595.7,462.1 595.8,462.8 595.8,463.6 595.8,464.3 595.8,465.1 595.9,465.9 595.9,466.7 595.9,467.5 596.0,468.3 596.0,469.1 596.0,469.9 596.0,470.7 596.1,471.5 596.1,472.2 596.1,473.0 596.1,473.7 596.2,474.5 596.2,475.4 596.2,476.1 596.2,476.9 596.3,477.6 596.3,478.3 596.3,479.1 596.4,479.8 596.4,480.5 596.4,481.2 596.4,481.9 596.5,482.7 596.5,483.4 596.5,484.1 596.6,484.9 596.6,485.6 596.6,486.4 596.7,487.0 596.7,487.8 596.7,488.5 596.8,489.2 596.8,489.9 596.8,490.7 596.9,491.3 596.9,492.0 596.9,492.8 597.0,493.5 597.0,494.2 597.0,494.9 597.1,495.6 597.1,496.3 597.2,497.0 597.2,497.6 597.2,498.3 597.3,499.1 597.3,499.7 597.3,500.3 597.4,500.9 597.4,501.7 597.5,502.4 597.6,503.1 597.8,504.0 598.0,504.3 598.1,505.1 598.3,505.9 598.5,506.4 598.7,507.2 598.8,507.6 598.9,508.5 599.0,509.2 599.1,510.0 599.2,510.8 599.3,511.5 599.3,512.2 599.4,513.1 599.5,513.7 599.6,514.4 599.7,515.2 599.8,516.0 600.0,516.6 600.2,517.6 600.3,518.6 600.5,519.1 600.7,519.2 600.9,520.2 601.1,521.0 601.4,519.7 601.7,519.6 602.0,518.8 602.2,518.1 602.5,517.4 603.2,517.4 603.9,516.2 603.9,515.2 604.0,514.6 604.0,514.0 604.1,513.2 604.1,512.4 604.2,511.7 604.2,510.9 604.3,510.1 604.3,509.4 604.4,508.6 604.4,507.8 604.5,506.9 604.5,506.2 604.5,505.4 604.6,504.6 604.6,503.8 604.7,503.0 604.7,502.3 604.8,501.6 604.8,500.7 604.8,500.0 604.9,499.3 604.9,498.7 605.0,498.0 605.0,497.4 605.0,496.8 605.1,496.1 605.1,495.6 605.2,495.1 605.2,494.5 605.2,494.2 605.3,494.5 605.3,494.9 605.4,495.3 605.4,496.0 605.5,496.5 605.5,497.2 605.5,497.9 605.6,498.6 605.6,499.3 605.7,500.1 605.7,500.9 605.7,501.7 605.8,502.5 605.8,503.3 605.9,504.1 605.9,505.0 605.9,505.8 606.0,506.6 606.0,507.5 606.1,508.2 606.1,509.0 606.2,509.8 606.2,510.5 606.3,511.2 606.3,512.0 606.4,512.7 606.5,513.6 606.5,514.3 606.6,515.1 606.7,516.0 606.7,516.8 606.8,517.6 606.9,518.3 606.9,519.2 607.0,519.9 607.1,520.6 607.1,521.3 607.2,522.1 607.3,522.6 607.3,523.3 607.4,523.8 607.5,524.3 607.6,524.8 607.7,524.2 607.8,524.1 607.9,523.4 608.0,522.8 608.1,522.1 608.2,521.5 608.3,520.7 608.4,520.0 608.5,519.1 608.6,518.2 608.7,517.3 608.8,516.4 608.8,515.5 608.9,514.6 609.0,513.9 609.0,513.2 609.0,512.6 609.0,511.9 609.1,511.2 609.1,510.5 609.1,509.8 609.1,509.2 609.2,508.5 609.2,507.8 609.2,507.1 609.2,506.3 609.3,505.6 609.3,505.0 609.3,504.2 609.3,503.5 609.3,502.8 609.4,502.1 609.4,501.4 609.4,500.7 609.4,499.9 609.5,499.2 609.5,498.5 609.5,497.7 609.5,497.1 609.5,496.3 609.6,495.6 609.6,494.8 609.6,494.1 609.6,493.4 609.6,492.7 609.7,491.9 609.7,491.2 609.7,490.5 609.7,489.8 609.8,489.0 609.8,488.3 609.8,487.5 609.8,486.9 609.8,486.1 609.9,485.4 609.9,484.7 609.9,484.0 609.9,483.3 610.0,482.6 610.0,481.9 610.0,481.2 610.0,480.5 610.0,479.8 610.1,479.1 610.1,478.3 610.1,477.6 610.2,476.9 610.2,476.2 610.2,475.5 610.2,474.7 610.3,474.0 610.3,473.3 610.3,472.6 610.3,471.9 610.4,471.1 610.4,470.4 610.4,469.7 610.4,469.0 610.5,468.3 610.5,467.6 610.5,466.8 610.5,466.1 610.6,465.4 610.6,464.7 610.6,464.0 610.7,463.3 610.7,462.6 610.7,461.9 610.7,461.2 610.8,460.6 610.8,459.9 610.8,459.1 610.9,458.5 610.9,457.9 610.9,457.1 610.9,456.4 611.0,455.8 611.0,455.2 611.0,454.5 611.1,453.8 611.1,453.3 611.2,452.3 611.4,451.3 611.5,450.3 611.7,450.1 611.8,449.2 612.0,448.3 612.1,447.8 612.3,447.1 612.5,446.6 612.8,445.7 613.2,444.7 613.5,443.7 613.8,443.5 613.9,444.2 614.0,444.9 614.0,445.7 614.1,446.3 614.2,447.2 614.2,447.9 614.3,448.8 614.4,449.5 614.4,450.4 614.5,451.3 614.5,452.1 614.6,453.0 614.6,453.8 614.7,454.6 614.8,455.4 614.8,456.0 614.9,456.7 614.9,457.5 615.0,458.1 615.0,458.8 615.1,459.5 615.1,459.5 615.2,459.9 615.2,459.7 615.3,459.1 615.3,458.5 615.4,457.8 615.4,457.3 615.4,456.6 615.5,455.8 615.5,455.1 615.6,454.3 615.6,453.5 615.7,452.7 615.7,451.9 615.7,451.0 615.8,450.2 615.8,449.3 615.9,448.4 615.9,447.5 615.9,446.7 616.0,445.8 616.0,445.0 616.0,444.2 616.1,443.4 616.1,442.7 616.2,441.9 616.2,441.2 616.2,440.6 616.3,440.0 616.3,439.3 616.3,438.8 616.4,438.3 616.4,437.9 616.4,437.6 616.4,438.0 616.5,438.5 616.5,438.9 616.5,439.4 616.5,440.0 616.5,440.6 616.5,441.2 616.5,441.7 616.5,442.3 616.6,443.0 616.6,443.7 616.6,444.3 616.6,445.0 616.6,445.7 616.6,446.4 616.6,447.2 616.6,447.9 616.6,448.7 616.6,449.4 616.7,450.2 616.7,451.0 616.7,451.7 616.7,452.5 616.7,453.3 616.7,454.1 616.7,454.9 616.7,455.7 616.7,456.6 616.7,457.4 616.7,458.2 616.7,459.0 616.8,459.8 616.8,460.6 616.8,461.4 616.8,462.2 616.8,463.0 616.8,463.8 616.8,464.6 616.8,465.3 616.8,466.1 616.8,466.9 616.9,467.5 616.9,468.2 616.9,468.9 616.9,469.6 616.9,470.3 616.9,471.0 616.9,471.7 616.9,472.4 616.9,473.1 616.9,473.8 617.0,474.5 617.0,475.2 617.0,475.9 617.0,476.6 617.0,477.4 617.0,478.1 617.0,478.8 617.0,479.5 617.0,480.2 617.1,480.9 617.1,481.7 617.1,482.4 617.1,483.1 617.1,483.8 617.1,484.5 617.1,485.2 617.1,485.9 617.1,486.7 617.2,487.4 617.2,488.1 617.2,488.9 617.2,489.5 617.2,490.3 617.2,491.0 617.2,491.7 617.2,492.4 617.3,493.2 617.3,493.9 617.3,494.6 617.3,495.3 617.3,496.0 617.3,496.7 617.3,497.4 617.3,498.1 617.3,498.8 617.4,499.5 617.4,500.2 617.4,500.9 617.4,501.6 617.4,502.3 617.4,503.0 617.4,503.7 617.5,504.3 617.5,505.1 617.5,505.8 617.5,506.4 617.5,507.1 617.5,507.8 617.5,508.6 617.6,509.3 617.6,510.1 617.6,510.9 617.7,511.6 617.7,512.4 617.7,513.2 617.7,514.0 617.8,514.8 617.8,515.6 617.8,516.3 617.9,517.1 617.9,517.9 617.9,518.6 618.0,519.3 618.0,520.1 618.0,520.7 618.0,521.4 618.1,522.1 618.1,522.9 618.1,523.6 618.2,524.3 618.2,524.9 618.2,525.5 618.3,526.2 618.3,526.8 618.3,527.4 618.4,527.9 618.4,528.5 618.4,529.1 618.5,529.5 618.6,529.5 618.7,528.9 618.8,528.2 618.9,527.5 619.0,526.6 619.1,526.0 619.2,524.9 619.3,524.1 619.4,523.1 619.5,522.2 619.6,521.5 619.6,520.8 619.7,520.0 619.8,519.2 619.9,518.4 619.9,517.8 620.0,517.0 620.1,516.3 620.1,515.6 620.2,514.8 620.3,514.1 620.4,513.3 620.4,512.7 620.5,512.0 620.6,511.2 620.7,510.5 620.8,509.8 621.0,508.7 621.1,507.8 621.3,507.0 621.4,506.0 621.6,505.4 621.7,504.9 621.9,504.4 622.0,504.9 622.2,505.6 622.3,506.2 622.5,507.4 622.6,508.0 622.8,508.8 622.9,509.7 623.1,510.7 623.2,511.2 623.4,512.0 623.6,511.2 623.8,510.8 624.0,510.2 624.3,509.1 624.5,508.5 624.8,507.6 625.6,508.5 626.4,508.5 626.8,509.2 627.1,510.6 627.5,510.8 627.8,511.2 627.8,510.6 627.9,510.0 627.9,509.4 628.0,508.8 628.1,508.2 628.1,507.4 628.2,506.9 628.3,506.3 628.3,505.7 628.4,504.8 628.4,504.2 628.5,503.5 628.5,502.9 628.6,502.2 628.7,501.3 628.7,500.6 628.8,499.8 628.8,499.1 628.9,498.3 628.9,497.5 629.0,496.7 629.0,495.9 629.1,495.0 629.1,494.1 629.1,493.4 629.2,492.8 629.2,492.2 629.2,491.5 629.2,490.8 629.2,490.1 629.2,489.5 629.3,488.8 629.3,488.1 629.3,487.4 629.3,486.7 629.3,486.0 629.3,485.3 629.3,484.7 629.4,483.9 629.4,483.2 629.4,482.6 629.4,481.9 629.4,481.2 629.4,480.5 629.4,479.7 629.5,479.0 629.5,478.3 629.5,477.6 629.5,476.9 629.5,476.2 629.5,475.5 629.5,474.7 629.6,474.0 629.6,473.4 629.6,472.6 629.6,471.9 629.6,471.2 629.6,470.4 629.6,469.7 629.7,469.0 629.7,468.3 629.7,467.5 629.7,466.8 629.7,466.1 629.7,465.3 629.7,464.6 629.8,463.9 629.8,463.2 629.8,462.4 629.8,461.7 629.8,461.0 629.8,460.3 629.8,459.5 629.8,458.8 629.9,458.1 629.9,457.3 629.9,456.6 629.9,455.9 629.9,455.2 629.9,454.4 629.9,453.7 630.0,453.0 630.0,452.3 630.0,451.6 630.0,450.9 630.0,450.1 630.0,449.4 630.0,448.7 630.0,448.0 630.1,447.3 630.1,446.6 630.1,445.9 630.1,445.2 630.1,444.4 630.1,443.7 630.1,443.1 630.2,442.3 630.2,441.6 630.2,440.9 630.2,440.3 630.2,439.5 630.2,438.8 630.2,438.1 630.3,437.3 630.3,436.6 630.3,435.8 630.3,435.1 630.3,434.3 630.3,433.5 630.4,432.7 630.4,431.9 630.4,431.2 630.4,430.4 630.4,429.6 630.4,428.8 630.4,428.0 630.5,427.2 630.5,426.4 630.5,425.6 630.5,424.7 630.5,424.0 630.5,423.2 630.6,422.4 630.6,421.6 630.6,420.8 630.6,420.0 630.6,419.2 630.6,418.4 630.6,417.6 630.7,416.9 630.7,416.1 630.7,415.3 630.7,414.5 630.7,413.8 630.7,413.0 630.8,412.3 630.8,411.5 630.8,410.8 630.8,410.1 630.8,409.4 630.8,408.7 630.9,408.0 630.9,407.3 630.9,406.6 630.9,406.0 630.9,405.3 630.9,404.6 630.9,404.1 631.0,403.4 631.0,402.8 631.0,402.3 631.0,401.7 631.0,401.2 631.0,400.6 631.1,400.1 631.1,399.6 631.1,399.1 631.1,398.6 631.1,398.2 631.1,397.8 631.2,397.4 631.2,397.7 631.2,398.1 631.2,398.5 631.2,399.1 631.3,399.4 631.3,400.0 631.3,400.4 631.3,401.0 631.4,401.5 631.4,402.1 631.4,402.7 631.4,403.4 631.4,404.0 631.5,404.7 631.5,405.3 631.5,406.1 631.5,406.8 631.5,407.5 631.6,408.2 631.6,408.9 631.6,409.7 631.6,410.5 631.7,411.3 631.7,412.1 631.7,412.9 631.7,413.7 631.7,414.4 631.8,415.3 631.8,416.1 631.8,416.9 631.8,417.7 631.9,418.5 631.9,419.4 631.9,420.2 631.9,421.0 631.9,421.9 632.0,422.6 632.0,423.5 632.0,424.3 632.0,425.1 632.1,425.9 632.1,426.7 632.1,427.5 632.1,428.3 632.1,429.1 632.2,429.8 632.2,430.5 632.2,431.3 632.2,432.0 632.2,432.7 632.3,433.5 632.3,434.1 632.3,434.9 632.3,435.6 632.4,436.3 632.4,437.0 632.4,437.8 632.4,438.5 632.4,439.2 632.4,439.9 632.5,440.7 632.5,441.4 632.5,442.1 632.5,442.8 632.5,443.6 632.6,444.3 632.6,445.0 632.6,445.8 632.6,446.5 632.6,447.2 632.7,447.9 632.7,448.6 632.7,449.3 632.7,450.0 632.7,450.8 632.8,451.5 632.8,452.3 632.8,453.0 632.8,453.7 632.8,454.4 632.9,455.1 632.9,455.8 632.9,456.6 632.9,457.3 632.9,457.9 633.0,458.6 633.0,459.3 633.0,460.0 633.0,460.7 633.0,461.4 633.1,462.1 633.1,462.8 633.1,463.4 633.1,464.2 633.1,464.8 633.2,465.5 633.2,466.2 633.2,466.8 633.3,467.7 633.3,468.4 633.4,469.3 633.4,470.1 633.5,470.9 633.5,471.6 633.6,472.4 633.6,473.1 633.7,473.8 633.7,474.6 633.8,475.3 633.8,475.9 633.9,476.6 634.0,477.3 634.0,478.1 634.1,478.6 634.2,479.3 634.2,479.8 634.3,480.5 635.0,480.2 635.7,479.0 635.7,479.8 635.8,480.5 635.9,481.4 636.0,482.3 636.0,483.3 636.1,484.2 636.2,485.1 636.2,486.2 636.3,487.0 636.3,487.7 636.4,488.6 636.5,489.1 636.5,489.7 636.6,489.9 636.6,490.3 636.6,489.5 636.7,488.9 636.7,488.3 636.7,487.7 636.7,487.2 636.7,486.6 636.7,485.9 636.7,485.4 636.8,484.7 636.8,484.1 636.8,483.5 636.8,482.9 636.8,482.2 636.8,481.5 636.8,480.9 636.9,480.2 636.9,479.5 636.9,478.9 636.9,478.2 636.9,477.5 636.9,476.8 636.9,476.2 636.9,475.5 637.0,474.7 637.0,474.0 637.0,473.3 637.0,472.6 637.0,471.9 637.0,471.2 637.0,470.5 637.1,469.8 637.1,469.0 637.1,468.3 637.1,467.5 637.1,466.8 637.1,466.0 637.1,465.3 637.1,464.6 637.2,463.8 637.2,463.1 637.2,462.3 637.2,461.6 637.2,460.9 637.2,460.1 637.2,459.3 637.2,458.6 637.3,457.8 637.3,457.1 637.3,456.4 637.3,455.6 637.3,454.9 637.3,454.1 637.3,453.4 637.3,452.6 637.4,451.8 637.4,451.1 637.4,450.4 637.4,449.7 637.4,448.9 637.4,448.2 637.4,447.5 637.4,446.7 637.5,446.0 637.5,445.2 637.5,444.5 637.5,443.8 637.5,443.1 637.5,442.4 637.5,441.6 637.5,441.0 637.6,440.3 637.6,439.6 637.6,438.8 637.6,438.1 637.6,437.4 637.6,436.7 637.6,435.9 637.6,435.1 637.7,434.4 637.7,433.6 637.7,432.9 637.7,432.1 637.7,431.3 637.7,430.5 637.7,429.7 637.7,428.9 637.8,428.1 637.8,427.3 637.8,426.5 637.8,425.7 637.8,424.9 637.8,424.1 637.8,423.3 637.8,422.5 637.9,421.7 637.9,420.8 637.9,420.1 637.9,419.2 637.9,418.5 637.9,417.7 637.9,416.8 637.9,416.0 638.0,415.3 638.0,414.5 638.0,413.7 638.0,412.9 638.0,412.2 638.0,411.4 638.0,410.6 638.0,409.9 638.1,409.1 638.1,408.4 638.1,407.7 638.1,406.9 638.1,406.2 638.1,405.5 638.1,404.8 638.1,404.1 638.2,403.5 638.2,402.8 638.2,402.1 638.2,401.5 638.2,400.8 638.2,400.3 638.2,399.6 638.2,399.1 638.3,398.5 638.3,397.9 638.3,397.4 638.3,396.8 638.3,396.2 638.3,395.8 638.3,395.3 638.3,394.9 638.4,394.5 638.4,394.0 638.4,393.6 638.4,393.1 638.4,393.6 638.4,394.0 638.4,394.4 638.4,394.9 638.5,395.3 638.5,395.8 638.5,396.3 638.5,396.9 638.5,397.4 638.5,397.9 638.5,398.5 638.6,399.1 638.6,399.6 638.6,400.3 638.6,400.8 638.6,401.4 638.6,402.1 638.7,402.8 638.7,403.4 638.7,404.1 638.7,404.8 638.7,405.5 638.7,406.2 638.7,406.9 638.8,407.6 638.8,408.3 638.8,409.1 638.8,409.8 638.8,410.6 638.8,411.3 638.9,412.1 638.9,412.9 638.9,413.7 638.9,414.4 638.9,415.2 638.9,416.0 638.9,416.8 639.0,417.6 639.0,418.4 639.0,419.2 639.0,420.0 639.0,420.8 639.0,421.6 639.0,422.4 639.1,423.2 639.1,424.1 639.1,424.8 639.1,425.6 639.1,426.4 639.1,427.3 639.1,428.1 639.2,428.8 639.2,429.7 639.2,430.4 639.2,431.2 639.2,432.0 639.2,432.8 639.2,433.6 639.3,434.3 639.3,435.1 639.3,435.9 639.3,436.6 639.3,437.4 639.3,438.1 639.3,438.8 639.4,439.6 639.4,440.3 639.4,441.0 639.4,441.7 639.4,442.3 639.4,443.1 639.4,443.8 639.4,444.5 639.4,445.2 639.4,445.9 639.4,446.6 639.4,447.3 639.4,448.1 639.4,448.8 639.4,449.5 639.4,450.2 639.4,450.9 639.4,451.6 639.5,452.3 639.5,453.1 639.5,453.8 639.5,454.5 639.5,455.2 639.5,455.9 639.5,456.7 639.5,457.4 639.5,458.1 639.5,458.8 639.5,459.6 639.5,460.3 639.5,461.0 639.5,461.7 639.5,462.4 639.5,463.2 639.5,463.9 639.5,464.6 639.5,465.3 639.5,466.1 639.5,466.8 639.5,467.5 639.5,468.2 639.5,469.0 639.5,469.7 639.6,470.4 639.6,471.1 639.6,471.9 639.6,472.6 639.6,473.3 639.6,474.0 639.6,474.7 639.6,475.4 639.6,476.1 639.6,476.9 639.6,477.6 639.6,478.3 639.6,479.0 639.6,479.7 639.6,480.4 639.6,481.1 639.6,481.8 639.6,482.5 639.6,483.2 639.6,483.9 639.7,484.6 639.7,485.3 639.7,486.0 639.7,486.7 639.7,487.4 639.7,488.1 639.7,488.7 639.7,489.4 639.7,490.1 639.7,490.8 639.7,491.4 639.7,492.1 639.7,492.8 639.8,493.4 639.8,494.1 639.8,494.9 639.8,495.7 639.9,496.6 639.9,497.4 639.9,498.1 640.0,498.9 640.0,499.7 640.1,500.5 640.1,501.3 640.1,502.1 640.2,502.8 640.2,503.7 640.3,504.4 640.3,505.1 640.3,505.9 640.4,506.7 640.4,507.3 640.5,508.0 640.5,508.7 640.6,509.4 640.6,510.1 640.7,510.8 640.7,511.5 640.7,512.1 640.8,512.7 640.8,513.3 640.9,513.9 640.9,514.5 641.0,515.0 641.0,515.6 641.1,516.2 641.1,516.7 641.2,516.7 641.3,515.8 641.4,515.1 641.6,514.6 641.7,513.9 641.8,513.0 641.9,512.2 642.0,511.3 642.1,510.4 642.3,509.5 642.4,508.5 642.5,507.8 642.5,507.1 642.6,506.4 642.7,505.7 642.7,505.1 642.8,504.3 642.9,503.6 642.9,502.9 643.0,502.2 643.0,501.5 643.1,500.7 643.1,500.1 643.2,499.3 643.3,498.6 643.3,497.9 643.4,497.2 643.4,496.4 643.5,495.8 643.6,494.9 643.6,494.3 643.7,493.5 643.7,492.7 643.8,492.1 643.9,491.4 643.9,490.5 644.0,489.9 644.0,489.2 644.1,488.4 644.1,487.7 644.2,486.8 644.3,486.0 644.3,485.2 644.4,484.3 644.4,483.6 644.5,482.8 644.6,482.0 644.6,481.3 644.7,480.5 644.7,479.8 644.8,479.1 644.8,478.3 644.9,477.6 645.0,477.1 645.0,476.6 645.1,476.0 645.1,475.4 645.2,475.0 645.3,475.4 645.4,476.0 645.5,476.7 645.5,477.2 645.6,478.2 645.7,479.0 645.8,479.9 645.9,480.9 646.0,481.8 646.0,482.6 646.1,483.5 646.2,484.4 646.3,485.0 646.4,485.8 646.4,486.4 646.5,487.1 646.6,487.3 646.6,486.9 646.7,486.3 646.7,485.8 646.7,485.2 646.8,484.7 646.8,484.0 646.8,483.5 646.9,482.8 646.9,482.1 646.9,481.4 647.0,480.7 647.0,480.0 647.0,479.3 647.1,478.5 647.1,477.8 647.1,477.0 647.1,476.2 647.2,475.4 647.2,474.7 647.2,473.9 647.3,473.1 647.3,472.4 647.3,471.5 647.4,470.7 647.4,469.9 647.4,469.1 647.5,468.4 647.5,467.6 647.5,466.9 647.6,466.1 647.6,465.4 647.6,464.8 647.6,464.1 647.7,463.4 647.7,462.7 647.7,462.0 647.8,461.3 647.8,460.6 647.8,459.8 647.8,459.2 647.9,458.4 647.9,457.7 647.9,457.0 648.0,456.3 648.0,455.6 648.0,454.8 648.0,454.1 648.1,453.4 648.1,452.6 648.1,451.9 648.1,451.2 648.2,450.5 648.2,449.7 648.2,449.0 648.3,448.3 648.3,447.5 648.3,446.9 648.3,446.1 648.4,445.4 648.4,444.6 648.4,444.0 648.5,443.2 648.5,442.5 648.5,441.8 648.6,441.0 648.6,440.3 648.6,439.6 648.6,438.9 648.7,438.2 648.7,437.5 648.7,436.8 648.8,436.2 648.8,435.4 648.8,434.8 648.8,434.0 648.9,433.4 648.9,432.7 648.9,431.9 649.0,431.2 649.0,430.3 649.1,429.5 649.1,428.6 649.2,427.8 649.2,427.0 649.3,426.2 649.3,425.4 649.4,424.6 649.4,423.9 649.5,423.1 649.5,422.4 649.6,421.6 649.6,420.9 649.6,420.2 649.7,419.6 649.7,418.9 649.8,418.4 649.8,417.9 649.9,417.3 649.9,416.8 650.0,416.4 650.1,416.5 650.1,417.2 650.2,417.7 650.2,418.4 650.3,419.0 650.4,419.6 650.4,420.4 650.5,421.2 650.6,421.9 650.6,422.7 650.7,423.5 650.8,424.3 650.8,425.2 650.9,426.1 651.0,426.9 651.0,427.7 651.1,428.4 651.1,429.3 651.2,430.0 651.3,430.7 651.3,431.4 651.4,432.2 651.4,432.9 651.5,433.5 651.5,434.2 651.6,434.9 651.6,435.7 651.6,436.4 651.7,437.1 651.7,437.8 651.8,438.6 651.8,439.2 651.9,440.0 651.9,440.7 652.0,441.5 652.0,442.1 652.1,442.8 652.1,443.5 652.2,444.2 652.2,444.9 652.3,445.7 652.3,446.4 652.4,447.2 652.4,447.8 652.5,448.6 652.5,449.3 652.5,450.0 652.6,450.7 652.6,451.5 652.7,452.2 652.7,452.9 652.7,453.7 652.8,454.4 652.8,455.2 652.9,455.9 652.9,456.6 653.0,457.4 653.0,458.1 653.1,458.8 653.1,459.4 653.2,460.2 653.3,460.7 653.3,461.4 653.4,462.1 654.3,463.1 655.3,462.2 655.5,462.7 655.6,463.3 655.7,464.1 655.8,464.9 655.9,465.7 656.0,466.5 656.1,467.3 656.2,468.1 656.3,468.8 656.4,469.6 656.6,470.1 656.8,471.1 657.1,471.4 657.3,472.2 657.5,472.9 657.8,473.7 657.9,474.3 658.1,475.4 658.2,476.2 658.4,476.7 658.5,477.4 658.7,478.3 658.9,479.0 659.6,479.6 660.2,480.5 660.3,481.2 660.3,481.8 660.4,482.5 660.4,483.1 660.5,483.8 660.5,484.6 660.5,485.2 660.6,485.9 660.6,486.6 660.6,487.3 660.7,488.0 660.7,488.8 660.7,489.5 660.8,490.2 660.8,490.9 660.8,491.6 660.9,492.4 660.9,493.2 660.9,493.8 661.0,494.6 661.0,495.3 661.1,496.0 661.1,496.8 661.1,497.5 661.2,498.3 661.2,498.9 661.3,499.6 661.3,500.3 661.4,501.1 661.4,501.7 661.4,502.4 661.5,503.2 661.5,503.9 661.6,504.7 661.6,505.3 661.7,506.1 661.7,506.7 661.8,507.5 661.8,508.2 661.9,508.9 661.9,509.6 662.0,510.4 662.0,511.1 662.1,511.8 662.1,512.4 662.2,513.2 662.2,513.9 662.3,514.6 662.3,515.4 662.4,516.0 662.4,516.7 662.4,517.3 662.5,518.0 662.5,518.6 662.6,519.5 662.7,520.3 662.7,521.2 662.8,522.0 662.9,522.9 662.9,523.7 663.0,524.5 663.1,525.3 663.1,525.9 663.2,526.6 663.3,527.2 663.3,528.0 663.4,528.5 663.5,528.9 663.6,528.8 663.7,527.5 663.8,527.1 663.9,526.3 664.1,525.3 664.2,524.3 664.3,523.5 664.4,522.7 664.5,521.7 664.6,520.8 664.8,520.2 664.9,519.8 665.0,519.4 665.1,519.6 665.1,520.4 665.2,521.1 665.3,521.6 665.3,522.5 665.4,523.2 665.5,524.0 665.5,524.8 665.6,525.7 665.7,526.5 665.7,527.4 665.8,528.2 665.9,529.2 665.9,530.0 666.0,530.9 666.1,531.6 666.1,532.4 666.2,533.1 666.3,533.8 666.3,534.5 666.4,535.2 666.4,535.8 666.5,536.3 666.6,536.9 666.6,537.1 666.7,536.6 666.7,536.1 666.8,535.6 666.8,535.1 666.8,534.6 666.9,534.0 666.9,533.4 666.9,532.7 667.0,532.1 667.0,531.4 667.1,530.7 667.1,530.0 667.1,529.3 667.2,528.5 667.2,527.9 667.2,527.1 667.3,526.4 667.3,525.6 667.4,524.8 667.4,524.0 667.4,523.2 667.5,522.4 667.5,521.7 667.5,520.9 667.6,520.1 667.6,519.3 667.6,518.5 667.7,517.8 667.7,517.0 667.8,516.2 667.8,515.5 667.8,514.7 667.9,514.0 667.9,513.3 668.0,512.5 668.0,511.9 668.0,511.1 668.1,510.5 668.1,509.6 668.2,508.9 668.2,508.2 668.3,507.4 668.3,506.8 668.4,506.0 668.4,505.3 668.5,504.5 668.5,503.9 668.6,503.1 668.6,502.5 668.7,501.7 668.7,501.0 668.8,500.3 668.8,499.6 668.9,498.8 668.9,498.0 669.0,497.6 669.0,496.8 669.1,496.1 669.2,495.4 669.2,494.8 669.3,494.0 669.3,493.5 669.4,492.7 669.5,491.8 669.6,490.9 669.7,489.9 669.8,488.8 670.0,488.1 670.1,487.3 670.2,486.9 670.3,486.7 670.3,487.2 670.4,487.8 670.4,488.3 670.5,488.9 670.5,489.6 670.5,490.2 670.6,490.9 670.6,491.6 670.7,492.3 670.7,493.0 670.7,493.7 670.8,494.4 670.8,495.2 670.8,495.8 670.9,496.6 670.9,497.5 670.9,498.1 671.0,498.9 671.0,499.7 671.0,500.4 671.1,501.2 671.1,502.0 671.1,502.7 671.2,503.5 671.2,504.3 671.3,504.9 671.3,505.7 671.3,506.4 671.4,507.1 671.4,507.8 671.4,508.5 671.5,509.3 671.5,510.1 671.6,510.8 671.6,511.7 671.7,512.5 671.7,513.4 671.8,514.1 671.8,514.9 671.8,515.7 671.9,516.4 671.9,517.3 672.0,518.0 672.0,518.6 672.1,519.4 672.1,520.1 672.2,520.7 672.2,521.2 672.3,521.8 672.3,522.4 672.4,522.8 672.4,522.2 672.5,522.0 672.5,521.4 672.6,520.8 672.7,520.3 672.7,519.3 672.8,518.5 672.9,517.8 672.9,517.1 673.0,516.2 673.1,515.4 673.1,514.6 673.2,513.7 673.3,512.8 673.3,512.0 673.4,511.2 673.5,510.5 673.5,509.7 673.5,509.1 673.6,508.4 673.6,507.8 673.7,507.1 673.7,506.4 673.8,505.7 673.8,505.1 673.8,504.3 673.9,503.7 673.9,503.0 674.0,502.3 674.0,501.6 674.0,501.0 674.1,500.2 674.1,499.5 674.2,498.8 674.2,498.1 674.2,497.3 674.3,496.5 674.3,495.8 674.4,495.0 674.4,494.1 674.4,493.5 674.4,492.8 674.5,492.1 674.5,491.5 674.5,490.7 674.5,490.1 674.5,489.4 674.6,488.8 674.6,488.0 674.6,487.3 674.6,486.6 674.6,486.0 674.7,485.3 674.7,484.6 674.7,483.9 674.7,483.2 674.7,482.5 674.8,481.8 674.8,481.0 674.8,480.4 674.8,479.7 674.8,478.9 674.9,478.2 674.9,477.5 674.9,476.8 674.9,476.1 674.9,475.4 675.0,474.7 675.0,474.0 675.0,473.2 675.0,472.5 675.0,471.8 675.0,471.1 675.1,470.3 675.1,469.7 675.1,468.9 675.1,468.2 675.1,467.4 675.2,466.7 675.2,466.0 675.2,465.3 675.2,464.5 675.2,463.8 675.3,463.1 675.3,462.4 675.3,461.7 675.3,461.0 675.3,460.3 675.4,459.5 675.4,458.8 675.4,458.1 675.4,457.4 675.4,456.7 675.5,456.0 675.5,455.3 675.5,454.6" fill="none" stroke="#0a0a0a" stroke-width="1.8" stroke-linejoin="round" stroke-linecap="round"/>
<line x1="548.1" y1="25.9" x2="601.7" y2="25.9" stroke="#111" stroke-width="1.8"/>
<text transform="translate(36.2,475.8) rotate(-90)" font-size="22" font-weight="bold" word-spacing="2.1" stroke="#111" stroke-width="0.4" textLength="351.40" lengthAdjust="spacingAndGlyphs">Raman Intesity/Arbitr. Units</text>
<line x1="378.70" y1="430.90" x2="387.97" y2="498.40" stroke="#111" stroke-width="1.1"/><polygon points="389.40,508.80 384.83,496.81 390.57,496.02" fill="#111"/></g>
<g><path d="M786.5,532.6 786.8,532.1 787.1,531.4 787.4,530.7 787.7,530.2 788.0,529.3 788.3,529.0 788.6,527.8 788.9,527.3 789.2,526.9 789.5,526.0 789.8,525.3 790.1,524.8 790.4,524.1 790.6,523.3 790.9,522.7 791.1,522.1 791.3,521.3 791.5,520.5 791.7,519.8 791.9,519.2 792.1,518.6 792.3,517.5 792.5,516.9 792.7,516.5 792.9,515.6 793.1,514.7 793.3,514.3 793.5,513.5 793.7,512.7 793.9,512.2 794.1,511.3 794.3,510.7 794.5,510.0 794.7,509.4 794.9,508.7 795.1,507.7 795.3,507.1 795.5,506.3 795.7,505.6 795.9,505.1 796.1,504.3 796.3,503.6 796.5,502.7 796.7,502.1 796.9,501.2 797.1,500.4 797.3,499.9 797.5,499.1 797.7,498.1 797.9,497.6 798.1,496.7 798.4,496.2 798.6,495.8 798.9,494.7 799.1,494.5 799.8,494.4 800.5,493.9 801.2,493.2 802.0,493.6 802.7,494.1 803.6,493.0 804.4,492.7 805.2,493.2 805.7,493.4 806.2,493.9 806.7,494.6 807.2,495.2 807.7,495.6 808.2,496.6 808.6,497.0 809.1,498.0 809.5,498.6 809.8,499.2 810.2,499.8 810.5,500.3 810.9,500.8 811.2,501.8 811.6,502.6 811.9,502.9 812.3,503.6 812.6,504.5 813.0,505.1 813.5,505.9 813.9,506.1 814.4,506.9 814.8,507.6 815.3,508.2 815.7,508.7 816.2,509.2 817.0,509.2 817.8,509.4 818.6,509.2 819.0,509.8 819.3,510.5 819.7,511.1 820.0,512.2 820.4,512.7 820.7,513.5 821.1,514.2 821.6,514.7 822.1,515.5 822.6,516.2 823.1,516.8 823.6,517.4 824.2,517.9 824.7,518.5 825.3,519.1 825.9,519.6 826.5,520.3 827.1,520.1 827.7,520.7 828.2,521.2 828.7,522.0 829.2,522.4 829.6,522.8 830.0,523.6 830.5,524.1 831.1,524.9 831.6,525.3 832.2,525.5 832.9,525.7 833.5,526.5 834.2,526.5 834.8,526.9 835.5,527.6 836.0,527.8 836.5,528.0 837.0,528.8 837.4,529.6 837.8,529.8 838.2,530.7 838.7,531.5 839.1,532.1 839.6,532.5 840.0,533.0 840.5,533.7 841.0,534.7 841.5,535.0 842.0,535.8 842.6,536.1 843.1,536.8 843.6,537.3 844.1,538.0 844.5,538.4 845.3,538.1 846.0,538.3 846.7,537.6 847.2,538.2 847.8,538.6 848.4,538.8 849.0,539.9 849.6,539.9 850.2,540.4 850.9,540.2 851.6,539.7 852.3,540.2 852.9,539.7 853.5,540.8 854.0,540.6 854.6,541.0 855.2,541.3 855.9,541.6 856.6,541.7 857.3,540.9 858.0,541.5 858.8,541.2 859.6,541.1 860.4,541.9 861.1,541.8 861.8,541.3 862.5,541.2 863.1,540.5 863.8,540.5 864.4,539.5 864.9,539.4 865.4,538.5 865.9,538.0 866.3,537.3 866.8,536.9 867.2,536.1 867.7,535.5 868.1,535.1 868.5,534.6 868.9,533.6 869.3,533.2 869.6,532.7 869.9,531.7 870.1,531.4 870.3,530.7 870.5,529.9 870.7,529.3 870.9,528.5 871.1,527.8 871.3,527.0 871.5,526.4 871.7,525.6 871.8,524.9 872.0,524.4 872.1,523.5 872.3,523.0 872.5,522.3 872.6,521.6 872.8,520.9 872.9,520.3 873.1,519.3 873.2,518.5 873.3,517.7 873.4,517.1 873.5,516.5 873.5,515.8 873.6,515.1 873.7,514.5 873.7,513.8 873.8,513.0 873.8,512.3 873.9,511.7 873.9,510.9 874.0,510.3 874.0,509.6 874.1,508.8 874.1,508.1 874.2,507.4 874.2,506.6 874.3,505.9 874.3,505.2 874.4,504.4 874.4,503.7 874.5,502.9 874.5,502.2 874.6,501.5 874.6,500.8 874.7,500.1 874.8,499.3 874.8,498.6 874.8,497.9 874.9,497.2 874.9,496.5 875.0,495.8 875.0,495.1 875.1,494.4 875.1,493.7 875.2,493.0 875.2,492.3 875.3,491.6 875.3,490.8 875.4,490.1 875.4,489.4 875.5,488.7 875.5,488.0 875.6,487.3 875.6,486.6 875.7,485.8 875.7,485.2 875.7,484.5 875.8,483.7 875.8,483.0 875.9,482.3 875.9,481.6 876.0,480.9 876.0,480.2 876.1,479.4 876.1,478.7 876.2,478.0 876.2,477.3 876.3,476.6 876.3,475.9 876.4,475.3 876.4,474.5 876.5,473.8 876.5,473.2 876.6,472.4 876.6,471.7 876.6,471.1 876.7,470.4 876.7,469.6 876.8,469.0 876.8,468.2 876.9,467.5 876.9,466.9 877.0,466.2 877.0,465.5 877.1,464.8 877.1,464.0 877.2,463.3 877.2,462.6 877.3,461.9 877.3,461.2 877.4,460.4 877.4,459.7 877.5,459.0 877.5,458.3 877.5,457.5 877.6,456.8 877.6,456.0 877.7,455.4 877.7,454.7 877.7,454.0 877.8,453.3 877.8,452.6 877.8,451.9 877.9,451.2 877.9,450.5 878.0,449.8 878.0,449.2 878.0,448.4 878.1,447.7 878.1,447.0 878.1,446.3 878.2,445.6 878.2,444.9 878.2,444.1 878.3,443.4 878.3,442.8 878.3,442.0 878.4,441.3 878.4,440.6 878.4,439.8 878.5,439.1 878.5,438.4 878.5,437.7 878.6,437.0 878.6,436.2 878.6,435.5 878.7,434.8 878.7,434.1 878.8,433.4 878.8,432.6 878.8,431.9 878.9,431.2 878.9,430.5 878.9,429.8 879.0,429.1 879.0,428.4 879.0,427.7 879.1,427.0 879.1,426.2 879.2,425.6 879.2,424.9 879.3,424.2 879.3,423.5 879.3,422.8 879.4,422.1 879.4,421.4 879.5,420.7 879.5,420.1 879.6,419.4 879.6,418.7 879.6,418.0 879.7,417.3 879.7,416.7 879.8,416.0 879.8,415.3 879.9,414.6 879.9,413.9 879.9,413.2 880.0,412.5 880.0,411.9 880.1,411.1 880.1,410.4 880.2,409.7 880.2,409.0 880.2,408.2 880.3,407.5 880.3,406.8 880.4,406.1 880.4,405.3 880.5,404.6 880.5,403.8 880.5,403.1 880.6,402.3 880.6,401.6 880.7,400.8 880.7,400.0 880.7,399.3 880.8,398.7 880.8,398.0 880.8,397.4 880.9,396.7 880.9,396.0 880.9,395.4 881.0,394.7 881.0,394.0 881.0,393.3 881.0,392.7 881.1,392.0 881.1,391.3 881.1,390.7 881.2,390.0 881.2,389.3 881.2,388.6 881.2,387.9 881.3,387.2 881.3,386.6 881.3,385.8 881.3,385.2 881.4,384.4 881.4,383.7 881.4,383.1 881.5,382.4 881.5,381.7 881.5,380.9 881.5,380.2 881.6,379.6 881.6,378.9 881.6,378.1 881.7,377.4 881.7,376.7 881.7,376.0 881.7,375.3 881.8,374.5 881.8,373.9 881.8,373.2 881.9,372.4 881.9,371.7 881.9,371.0 881.9,370.3 882.0,369.5 882.0,368.8 882.0,368.1 882.1,367.3 882.1,366.6 882.1,365.8 882.2,365.1 882.2,364.4 882.2,363.7 882.3,362.9 882.3,362.2 882.3,361.4 882.4,360.7 882.4,360.0 882.4,359.3 882.5,358.5 882.5,357.8 882.5,357.0 882.6,356.3 882.6,355.5 882.6,354.8 882.7,354.2 882.7,353.5 882.8,352.8 882.8,352.1 882.8,351.5 882.9,350.8 882.9,350.1 882.9,349.4 883.0,348.8 883.0,348.1 883.1,347.4 883.1,346.7 883.1,346.1 883.2,345.4 883.2,344.7 883.3,344.0 883.3,343.2 883.3,342.6 883.4,341.9 883.4,341.2 883.5,340.5 883.5,339.8 883.6,339.1 883.6,338.5 883.6,337.7 883.7,337.1 883.7,336.3 883.8,335.7 883.8,335.0 883.9,334.3 883.9,333.6 883.9,332.9 884.0,332.2 884.0,331.4 884.1,330.8 884.1,330.1 884.2,329.4 884.2,328.7 884.2,328.0 884.3,327.3 884.3,326.5 884.4,325.8 884.4,325.1 884.5,324.4 884.5,323.7 884.6,323.0 884.6,322.3 884.6,321.6 884.7,320.9 884.7,320.2 884.8,319.5 884.8,318.8 884.9,318.0 884.9,317.3 885.0,316.6 885.0,315.9 885.0,315.1 885.1,314.4 885.1,313.7 885.2,313.1 885.2,312.3 885.3,311.6 885.3,310.8 885.3,310.2 885.4,309.4 885.4,308.7 885.5,308.0 885.5,307.2 885.6,306.5 885.6,305.7 885.7,305.1 885.7,304.3 885.7,303.6 885.8,302.9 885.8,302.1 885.9,301.4 885.9,300.7 885.9,300.0 886.0,299.2 886.0,298.5 886.1,297.8 886.1,297.0 886.1,296.3 886.2,295.7 886.2,295.0 886.3,294.4 886.3,293.7 886.3,293.0 886.4,292.3 886.4,291.6 886.4,290.9 886.5,290.2 886.5,289.6 886.5,288.8 886.6,288.2 886.6,287.5 886.6,286.8 886.7,286.1 886.7,285.4 886.8,284.7 886.8,284.1 886.8,283.3 886.9,282.6 886.9,282.0 886.9,281.2 887.0,280.5 887.0,279.9 887.0,279.2 887.1,278.4 887.1,277.7 887.1,277.0 887.2,276.4 887.2,275.7 887.3,274.9 887.3,274.2 887.3,273.5 887.4,272.9 887.4,272.1 887.4,271.5 887.5,270.7 887.5,270.0 887.5,269.3 887.6,268.7 887.6,267.9 887.6,267.2 887.7,266.5 887.7,265.8 887.7,265.1 887.8,264.4 887.8,263.7 887.8,263.0 887.9,262.2 887.9,261.5 887.9,260.8 888.0,260.2 888.0,259.5 888.1,258.7 888.1,258.0 888.1,257.3 888.2,256.6 888.2,255.9 888.2,255.2 888.3,254.5 888.3,253.8 888.3,253.0 888.4,252.3 888.4,251.7 888.4,250.9 888.5,250.2 888.5,249.5 888.5,248.8 888.6,248.1 888.6,247.4 888.6,246.7 888.7,246.0 888.7,245.2 888.7,244.6 888.8,243.8 888.8,243.1 888.9,242.4 888.9,241.7 888.9,241.0 889.0,240.3 889.0,239.6 889.0,238.9 889.1,238.1 889.1,237.4 889.1,236.8 889.2,236.1 889.2,235.3 889.2,234.6 889.3,234.0 889.3,233.2 889.3,232.5 889.4,231.9 889.4,231.1 889.4,230.4 889.5,229.7 889.5,229.0 889.5,228.3 889.6,227.6 889.6,226.9 889.7,226.2 889.7,225.5 889.7,224.8 889.8,224.1 889.8,223.4 889.8,222.7 889.9,221.9 889.9,221.3 889.9,220.5 890.0,219.8 890.0,219.1 890.0,218.4 890.1,217.6 890.1,217.0 890.1,216.3 890.2,215.5 890.2,214.8 890.2,214.1 890.3,213.4 890.3,212.6 890.3,211.9 890.4,211.2 890.4,210.4 890.5,209.7 890.5,209.0 890.5,208.3 890.6,207.5 890.6,206.8 890.6,206.1 890.7,205.3 890.7,204.6 890.7,203.9 890.8,203.1 890.8,202.4 890.8,201.7 890.9,201.0 890.9,200.3 890.9,199.5 891.0,198.8 891.0,198.1 891.0,197.3 891.1,196.6 891.1,195.9 891.1,195.2 891.2,194.5 891.2,193.7 891.2,193.0 891.3,192.3 891.3,191.5 891.3,190.8 891.4,190.1 891.4,189.4 891.4,188.7 891.5,188.0 891.5,187.3 891.5,186.5 891.6,185.8 891.6,185.1 891.7,184.4 891.7,183.7 891.7,183.0 891.8,182.2 891.8,181.5 891.8,180.8 891.9,180.1 891.9,179.4 891.9,178.7 892.0,178.0 892.0,177.3 892.0,176.6 892.1,175.9 892.1,175.3 892.1,174.5 892.2,173.9 892.2,173.2 892.2,172.5 892.3,171.8 892.3,171.1 892.4,170.5 892.4,169.7 892.4,169.1 892.5,168.4 892.5,167.7 892.5,167.1 892.6,166.4 892.6,165.7 892.6,165.1 892.7,164.4 892.7,163.8 892.8,163.2 892.8,162.5 892.8,161.8 892.9,161.2 892.9,160.5 892.9,159.9 893.0,159.3 893.0,158.6 893.1,158.0 893.1,157.4 893.1,156.8 893.2,155.9 893.3,154.9 893.3,154.0 893.4,153.1 893.5,152.2 893.5,151.3 893.6,150.3 893.7,149.4 893.7,148.5 893.8,147.5 893.9,146.7 893.9,145.7 894.0,144.9 894.1,143.9 894.2,143.1 894.2,142.2 894.3,141.4 894.4,140.5 894.4,139.7 894.5,139.0 894.6,138.1 894.7,137.4 894.7,136.5 894.8,135.9 894.9,135.2 895.0,134.6 895.0,133.9 895.1,133.3 895.2,132.8 895.2,132.2 895.3,131.5 895.4,131.2 895.5,130.7 895.5,130.3 895.6,130.0 895.7,129.6 895.7,129.5 895.8,129.3 895.9,129.0 895.9,128.7 896.0,128.9 896.1,129.3 896.1,129.3 896.2,129.9 896.3,129.9 896.3,130.4 896.4,130.9 896.4,131.1 896.5,131.6 896.6,132.1 896.6,132.8 896.7,133.4 896.8,133.9 896.8,134.5 896.9,135.2 897.0,136.0 897.0,136.6 897.1,137.4 897.2,138.2 897.2,138.9 897.3,139.7 897.3,140.5 897.4,141.4 897.5,142.3 897.5,143.1 897.6,144.0 897.6,144.9 897.7,145.7 897.7,146.6 897.8,147.5 897.9,148.5 897.9,149.4 898.0,150.3 898.0,151.3 898.1,152.2 898.1,153.1 898.1,154.0 898.2,154.9 898.2,155.8 898.3,156.8 898.3,157.4 898.3,158.0 898.3,158.6 898.3,159.3 898.4,159.9 898.4,160.5 898.4,161.2 898.4,161.8 898.4,162.5 898.4,163.1 898.5,163.8 898.5,164.4 898.5,165.1 898.5,165.7 898.5,166.4 898.5,167.0 898.6,167.7 898.6,168.4 898.6,169.1 898.6,169.8 898.6,170.4 898.6,171.1 898.6,171.8 898.7,172.5 898.7,173.2 898.7,173.9 898.7,174.5 898.7,175.2 898.7,175.9 898.7,176.6 898.7,177.3 898.8,178.0 898.8,178.7 898.8,179.4 898.8,180.1 898.8,180.8 898.8,181.5 898.8,182.2 898.8,182.9 898.8,183.6 898.9,184.4 898.9,185.1 898.9,185.8 898.9,186.5 898.9,187.2 898.9,187.9 898.9,188.7 898.9,189.4 898.9,190.1 898.9,190.8 899.0,191.5 899.0,192.3 899.0,193.0 899.0,193.7 899.0,194.4 899.0,195.2 899.0,195.9 899.0,196.6 899.0,197.3 899.0,198.1 899.0,198.8 899.1,199.5 899.1,200.2 899.1,201.0 899.1,201.7 899.1,202.4 899.1,203.2 899.1,203.9 899.1,204.6 899.1,205.3 899.1,206.1 899.1,206.8 899.2,207.5 899.2,208.2 899.2,209.0 899.2,209.7 899.2,210.5 899.2,211.2 899.2,211.9 899.2,212.6 899.2,213.3 899.2,214.0 899.2,214.8 899.3,215.5 899.3,216.2 899.3,216.9 899.3,217.7 899.3,218.4 899.3,219.1 899.3,219.8 899.3,220.5 899.3,221.3 899.4,221.9 899.4,222.7 899.4,223.4 899.4,224.1 899.4,224.8 899.4,225.5 899.4,226.2 899.4,226.9 899.5,227.6 899.5,228.3 899.5,229.0 899.5,229.7 899.5,230.4 899.5,231.1 899.5,231.8 899.5,232.5 899.6,233.2 899.6,233.9 899.6,234.6 899.6,235.3 899.6,236.0 899.6,236.8 899.6,237.5 899.7,238.2 899.7,238.9 899.7,239.6 899.7,240.3 899.7,241.0 899.7,241.7 899.7,242.4 899.7,243.1 899.8,243.8 899.8,244.5 899.8,245.3 899.8,246.0 899.8,246.7 899.8,247.4 899.8,248.1 899.9,248.8 899.9,249.5 899.9,250.2 899.9,251.0 899.9,251.6 899.9,252.4 899.9,253.0 899.9,253.8 900.0,254.5 900.0,255.2 900.0,255.9 900.0,256.6 900.0,257.3 900.0,258.0 900.0,258.7 900.1,259.4 900.1,260.2 900.1,260.9 900.1,261.5 900.1,262.3 900.1,263.0 900.1,263.6 900.2,264.4 900.2,265.1 900.2,265.8 900.2,266.5 900.2,267.2 900.2,267.9 900.2,268.6 900.2,269.3 900.3,270.0 900.3,270.7 900.3,271.4 900.3,272.1 900.3,272.8 900.3,273.5 900.3,274.2 900.4,274.9 900.4,275.6 900.4,276.3 900.4,277.0 900.4,277.8 900.4,278.4 900.4,279.2 900.5,279.9 900.5,280.5 900.5,281.2 900.5,281.9 900.5,282.6 900.5,283.3 900.6,284.0 900.6,284.7 900.6,285.4 900.6,286.1 900.6,286.8 900.6,287.5 900.6,288.2 900.7,288.8 900.7,289.6 900.7,290.2 900.7,290.9 900.7,291.6 900.7,292.3 900.7,293.0 900.8,293.6 900.8,294.3 900.8,295.0 900.8,295.7 900.8,296.4 900.8,297.0 900.9,297.8 900.9,298.5 900.9,299.3 900.9,300.0 900.9,300.7 901.0,301.4 901.0,302.2 901.0,302.9 901.0,303.6 901.0,304.4 901.0,305.1 901.1,305.8 901.1,306.5 901.1,307.3 901.1,308.0 901.1,308.7 901.2,309.4 901.2,310.1 901.2,310.9 901.2,311.6 901.2,312.3 901.3,313.0 901.3,313.7 901.3,314.4 901.3,315.2 901.4,315.9 901.4,316.6 901.4,317.3 901.4,318.0 901.4,318.7 901.5,319.4 901.5,320.2 901.5,320.9 901.5,321.6 901.5,322.3 901.6,323.0 901.6,323.7 901.6,324.4 901.6,325.2 901.7,325.8 901.7,326.6 901.7,327.3 901.7,328.0 901.7,328.7 901.8,329.4 901.8,330.1 901.8,330.8 901.8,331.5 901.8,332.2 901.9,332.9 901.9,333.6 901.9,334.3 901.9,335.0 901.9,335.7 902.0,336.4 902.0,337.1 902.0,337.7 902.0,338.5 902.0,339.1 902.1,339.8 902.1,340.5 902.1,341.2 902.1,341.9 902.1,342.6 902.2,343.3 902.2,344.0 902.2,344.7 902.2,345.3 902.2,346.0 902.3,346.7 902.3,347.4 902.3,348.1 902.3,348.8 902.3,349.4 902.3,350.1 902.4,350.8 902.4,351.5 902.4,352.1 902.4,352.8 902.4,353.5 902.4,354.1 902.5,354.8 902.5,355.5 902.5,356.2 902.5,357.0 902.5,357.8 902.5,358.5 902.6,359.3 902.6,360.0 902.6,360.7 902.6,361.5 902.6,362.2 902.6,363.0 902.6,363.7 902.6,364.4 902.6,365.2 902.6,365.9 902.7,366.7 902.7,367.4 902.7,368.1 902.7,368.9 902.7,369.6 902.7,370.3 902.7,371.1 902.7,371.8 902.7,372.5 902.7,373.3 902.7,374.0 902.7,374.7 902.8,375.4 902.8,376.2 902.8,376.9 902.8,377.6 902.8,378.3 902.8,379.0 902.8,379.7 902.8,380.4 902.8,381.1 902.8,381.8 902.8,382.5 902.8,383.3 902.8,384.0 902.8,384.7 902.9,385.3 902.9,386.0 902.9,386.8 902.9,387.4 902.9,388.1 902.9,388.8 902.9,389.5 902.9,390.2 902.9,390.8 902.9,391.5 903.0,392.2 903.0,392.8 903.0,393.5 903.0,394.2 903.0,394.8 903.0,395.5 903.0,396.1 903.0,396.8 903.1,397.4 903.1,398.1 903.1,398.7 903.1,399.4 903.1,400.0 903.2,400.9 903.2,401.7 903.2,402.5 903.3,403.3 903.3,404.1 903.3,404.8 903.4,405.6 903.4,406.3 903.5,407.0 903.5,407.7 903.6,408.5 903.6,409.2 903.7,409.8 903.7,410.6 903.8,411.2 903.8,411.8 903.9,412.6 903.9,413.2 904.0,413.9 904.0,414.5 904.1,415.2 904.1,415.9 904.2,416.4 904.2,417.2 904.3,417.8 904.3,418.5 904.4,419.2 904.4,419.9 904.5,420.5 904.5,421.3 904.6,422.0 904.6,422.7 904.7,423.3 904.7,424.2 904.8,424.8 904.8,425.6 904.9,426.3 904.9,427.0 905.0,427.7 905.0,428.4 905.1,429.1 905.1,429.9 905.2,430.6 905.2,431.3 905.3,432.0 905.3,432.7 905.4,433.4 905.4,434.1 905.5,434.9 905.5,435.6 905.6,436.3 905.6,437.0 905.6,437.7 905.7,438.4 905.7,439.1 905.8,439.8 905.8,440.5 905.9,441.2 905.9,441.9 906.0,442.6 906.0,443.3 906.0,444.0 906.1,444.8 906.1,445.5 906.2,446.3 906.2,447.0 906.2,447.8 906.3,448.5 906.3,449.2 906.3,449.9 906.3,450.7 906.4,451.4 906.4,452.1 906.4,452.8 906.5,453.5 906.5,454.2 906.6,454.8 906.6,455.5 906.7,456.2 906.7,456.9 906.8,457.6 906.8,458.2 906.9,458.9 907.0,459.5 907.1,460.3 907.2,461.1 907.4,461.9 907.5,462.8 907.7,463.4 907.9,464.0 908.1,464.8 908.3,465.3 908.5,465.8 908.7,466.9 908.9,467.3 909.0,468.3 909.2,468.8 909.4,469.4 909.5,470.2 909.6,470.9 909.7,471.7 909.8,472.2 910.0,473.0 910.1,473.7 910.2,474.4 910.3,475.1 910.4,475.7 910.5,476.6 910.6,477.2 910.7,478.0 910.8,478.7 910.9,479.3 911.1,480.1 911.2,480.8 911.4,481.6 911.5,482.2 911.7,482.9 911.9,483.6 912.1,484.3 912.2,485.1 912.4,485.7 912.6,486.6 912.8,487.4 913.0,487.9 913.2,488.8 913.3,489.5 913.5,490.1 913.7,490.8 913.9,491.5 914.0,492.1 914.2,492.9 914.3,493.6 914.5,494.3 914.6,494.9 914.8,495.8 914.9,496.6 915.0,497.3 915.2,498.1 915.3,498.8 915.4,499.7 915.6,500.2 915.7,501.1 915.8,501.5 916.0,502.4 916.1,503.0 916.3,503.6 916.5,504.5 916.8,505.0 917.3,505.9 917.7,506.4 918.3,507.4 918.9,507.4 919.6,507.8 920.4,508.5 921.1,508.7 921.8,509.2 922.5,509.8 923.1,510.2 923.7,510.6 924.4,511.3 925.0,511.9 925.6,511.9 926.1,512.8 926.6,513.6 927.0,514.1 927.4,515.0 927.8,515.5 928.2,516.5 928.9,516.4 929.7,517.2 930.4,517.4 931.2,517.8 931.8,518.6 932.0,519.2 932.3,519.9 932.5,520.4 932.6,521.2 932.8,522.0 932.9,522.8 933.1,523.4 933.3,524.4 933.5,524.9 934.3,524.9 935.3,525.7 935.8,526.2 936.3,526.5 936.8,527.1 937.4,527.5 937.9,528.6 938.4,529.0 938.9,529.4 939.4,530.1 939.9,530.7 940.3,531.7 940.8,532.5 941.3,532.7 941.7,533.3 942.2,534.1 942.6,535.0 943.0,535.7 943.4,536.2 944.0,536.0 944.6,535.0 945.2,534.8 945.7,535.1 946.1,535.8 946.5,536.7 946.9,537.0 947.4,537.3 948.2,537.4 949.1,537.0 949.7,537.3 950.4,537.3 951.0,537.7 951.6,538.2 952.0,538.7 952.4,539.6 952.7,540.4 953.0,541.2 953.4,541.9 953.8,542.3 954.4,542.3 955.1,541.7 955.9,541.4 956.6,541.5 957.2,542.1 957.8,542.6 958.3,542.9 958.9,543.6 959.4,544.0 960.1,543.7 960.9,542.8 961.5,543.0 962.2,543.6 963.0,543.9 963.7,544.2 964.4,544.5 965.1,544.9 965.8,545.4 966.5,546.0 967.2,546.8 967.9,546.4 968.6,546.6 969.3,546.6 970.1,546.2 970.8,546.6 971.5,546.7 972.2,546.7 972.9,547.0 973.6,547.6 974.3,548.1 974.9,548.8 975.5,548.8 976.0,548.7 976.5,547.6 976.9,546.7 977.5,546.3 978.1,546.4 978.7,547.1 979.4,547.4 980.0,548.3 981.3,548.5 981.7,549.4 982.0,550.3 982.4,551.3 982.7,551.3 982.9,551.1 983.2,550.4 983.4,549.6 983.6,548.6 983.8,547.7 984.1,547.1 984.4,546.7 985.2,546.7 986.0,546.9 987.0,548.1 987.6,547.9 988.3,547.3 989.0,547.3 989.8,547.3 990.5,547.2 991.2,547.6 991.9,547.9 992.7,548.5 993.4,548.7 994.0,548.7 994.8,549.0 995.5,550.0 996.2,550.2 996.6,549.9 997.0,549.3 997.3,548.4 997.7,547.9 998.1,546.8 998.6,546.6 999.0,545.8 999.7,545.4 1000.3,546.4 1001.1,546.1 1001.8,547.0 1002.5,547.3 1003.3,547.2 1004.0,546.7 1004.7,546.8 1005.5,546.9 1006.2,546.5 1006.8,546.7 1007.4,547.5 1008.0,547.9 1008.4,548.6 1008.9,549.0 1009.4,548.5 1009.8,548.0 1010.3,547.2 1010.8,546.4 1011.6,547.2 1012.4,547.1 1013.2,546.9 1013.5,546.5 1013.9,546.2 1014.2,545.4 1014.5,544.5 1014.8,543.9 1015.1,543.0 1015.4,542.4 1015.7,542.3 1016.2,542.2 1016.7,543.2 1017.2,543.7 1017.7,544.2 1018.2,545.4 1018.9,545.3 1019.6,545.9 1020.3,545.8 1021.0,546.5 1021.7,547.1 1022.4,546.9 1022.9,547.0 1023.4,546.2 1024.0,545.1 1024.5,545.0 1025.0,544.8 1025.4,544.9 1025.8,545.3 1026.1,545.9 1026.5,546.5 1026.9,547.4 1027.4,548.1 1028.0,547.6 1028.8,548.0 1029.5,547.4 1030.2,547.0 1030.8,547.0 1031.3,546.1 1031.8,545.5 1032.3,545.4 1033.0,545.4 1033.7,545.8 1034.5,545.9 1035.0,545.7 1035.6,545.0 1036.2,544.2 1036.8,543.9 1037.3,544.3 1037.7,544.4 1038.0,545.4 1038.4,545.9 1038.7,546.6 1039.0,547.1 1039.4,548.3 1040.1,548.3 1040.8,547.7 1041.6,547.9 1042.3,547.2 1042.8,547.2 1043.4,545.7 1043.9,545.2 1044.4,544.5 1044.8,544.6 1045.2,544.8 1045.6,545.8 1046.0,546.4 1046.4,547.5 1046.8,547.7 1047.3,548.6 1047.9,549.2 1048.5,549.4 1049.1,549.7 1049.5,549.4 1049.9,548.4 1050.3,548.0 1050.7,547.1 1051.1,546.4 1051.5,546.0 1052.2,545.6 1052.9,546.1 1053.6,546.4 1054.3,546.8 1055.0,547.1 1055.7,547.7 1056.5,547.8 1057.1,548.2 1057.8,548.1 1058.5,547.4 1059.3,547.9 1060.0,547.2 1060.7,547.3 1061.4,547.1 1062.1,547.5 1062.9,547.7 1063.6,547.8 1064.3,547.3 1065.0,547.4 1065.7,547.0 1066.4,546.5 1067.1,546.0 1067.8,545.8 1068.5,545.7 1069.2,546.4 1069.9,546.6 1070.7,546.8 1071.4,547.1 1072.1,547.9 1072.8,548.0 1073.5,548.4 1074.2,548.3 1074.9,548.4 1075.5,547.7 1076.0,547.3 1076.6,546.5 1077.1,545.4 1077.7,544.8 1078.4,544.8 1079.1,544.6 1079.9,544.6 1080.6,545.1 1081.2,545.0 1081.7,546.0 1082.3,546.4 1082.8,546.6 1083.4,547.4 1084.1,547.8 1084.8,548.1 1085.5,548.8 1086.2,548.8 1087.0,548.5 1087.8,548.1 1088.6,547.0 1089.4,547.1 1089.9,547.7 1090.4,548.3 1090.8,548.8 1091.3,549.4 1091.9,549.4 1092.6,550.3 1093.3,549.9 1094.0,550.4 1094.7,550.6 1095.5,550.8 1096.2,551.4 1096.9,550.6 1097.6,550.3 1098.3,549.3 1099.0,549.3 1099.7,548.5 1100.5,548.2 1101.2,547.9 1101.9,547.8 1102.5,547.8 1103.0,548.2 1103.4,549.1 1103.8,550.1 1104.2,550.9 1104.7,551.4 1105.3,550.7 1106.0,549.6 1106.8,549.3 1107.5,549.4 1108.2,549.9 1108.9,550.3 1109.6,550.7 1110.3,550.4 1111.1,551.4 1111.8,551.0 1112.5,551.2 1113.3,551.6 1114.0,551.2 1114.6,550.9 1115.1,551.1 1115.5,550.4 1115.9,549.2 1116.3,548.6 1116.6,548.0 1117.0,547.1 1117.5,546.5 1118.1,546.6 1118.8,545.8 1119.6,545.7 1120.3,545.9 1121.0,545.7 1121.7,545.1 1122.4,545.4 1123.0,545.9 1123.5,546.6 1124.0,547.2 1124.5,547.9 1125.0,547.7 1125.5,547.1 1125.9,546.5 1126.4,546.0 1126.9,545.1 1127.4,544.8 1127.9,543.8 1128.5,542.8 1129.0,543.3 1129.6,542.1 1130.1,541.6 1130.6,541.5 1131.0,541.6 1131.4,542.8 1131.7,543.6 1132.0,544.5 1132.4,545.6 1132.7,546.2 1133.0,546.7 1133.7,546.6 1134.4,545.3 1135.2,544.8 1135.6,545.1 1136.1,546.1 1136.6,546.8 1137.1,547.7 1137.6,548.6 1138.0,549.4 1138.4,549.3 1138.8,549.1 1139.1,548.2 1139.4,547.4 1139.6,546.6 1139.9,545.6 1140.2,545.0 1140.4,544.6 1140.7,545.0 1141.0,545.6 1141.2,546.4 1141.5,547.2 1141.8,547.7 1142.2,547.6 1142.5,546.6 1142.9,546.0 1143.3,545.6 1143.7,544.5 1144.1,544.1 1144.9,544.0 1145.7,544.3 1146.5,543.8 1147.4,544.3 1148.4,543.8 1149.1,542.7 1149.3,542.4 1149.4,541.9 1149.6,541.3 1149.8,540.7 1149.9,539.9 1150.0,539.4 1150.1,538.8 1150.3,537.8 1150.4,537.2 1150.5,536.4 1150.6,535.6 1150.7,534.7 1150.8,533.8 1150.8,533.2 1150.9,532.5 1151.0,531.8 1151.0,531.2 1151.1,530.5 1151.1,529.8 1151.2,529.2 1151.2,528.4 1151.3,527.8 1151.3,527.1 1151.4,526.3 1151.4,525.6 1151.4,524.9 1151.5,524.2 1151.5,523.4 1151.6,522.7 1151.6,521.9 1151.7,521.2 1151.7,520.5 1151.7,519.7 1151.8,519.0 1151.8,518.3 1151.9,517.5 1151.9,516.8 1152.0,516.1 1152.0,515.3 1152.1,514.7 1152.1,513.9 1152.2,513.3 1152.2,512.5 1152.3,511.8 1152.3,511.1 1152.4,510.4 1152.4,509.8 1152.5,509.1 1152.5,508.4 1152.6,507.7 1152.7,507.1 1152.7,506.4 1152.8,505.8 1152.9,505.2 1152.9,504.5 1153.0,503.8 1153.0,503.2 1153.1,502.4 1153.2,501.8 1153.2,501.1 1153.3,500.4 1153.3,499.7 1153.4,499.0 1153.4,498.2 1153.5,497.5 1153.5,496.6 1153.6,495.8 1153.6,495.0 1153.6,494.1 1153.7,493.5 1153.7,492.8 1153.7,492.2 1153.7,491.6 1153.7,490.9 1153.7,490.2 1153.8,489.5 1153.8,488.9 1153.8,488.2 1153.8,487.5 1153.8,486.8 1153.8,486.2 1153.9,485.4 1153.9,484.7 1153.9,484.0 1153.9,483.3 1153.9,482.6 1153.9,481.9 1153.9,481.2 1153.9,480.4 1154.0,479.7 1154.0,479.0 1154.0,478.3 1154.0,477.5 1154.0,476.8 1154.0,476.1 1154.0,475.4 1154.0,474.6 1154.0,473.9 1154.0,473.1 1154.1,472.4 1154.1,471.6 1154.1,470.9 1154.1,470.2 1154.1,469.4 1154.1,468.7 1154.1,468.0 1154.1,467.3 1154.1,466.5 1154.1,465.8 1154.1,465.1 1154.2,464.3 1154.2,463.6 1154.2,462.9 1154.2,462.2 1154.2,461.5 1154.2,460.7 1154.2,460.0 1154.2,459.3 1154.2,458.6 1154.2,457.9 1154.2,457.2 1154.3,456.6 1154.3,455.9 1154.3,455.2 1154.3,454.5 1154.3,453.8 1154.3,453.2 1154.3,452.4 1154.4,451.6 1154.4,450.8 1154.4,450.1 1154.4,449.3 1154.4,448.6 1154.4,447.8 1154.4,447.1 1154.5,446.3 1154.5,445.6 1154.5,444.9 1154.5,444.1 1154.5,443.4 1154.5,442.6 1154.6,441.9 1154.6,441.2 1154.6,440.5 1154.6,439.8 1154.6,439.1 1154.6,438.4 1154.7,437.7 1154.7,437.0 1154.7,436.3 1154.7,435.6 1154.7,434.9 1154.8,434.2 1154.8,433.5 1154.8,432.8 1154.8,432.1 1154.8,431.4 1154.8,430.7 1154.9,430.0 1154.9,429.4 1154.9,428.7 1154.9,428.0 1155.0,427.3 1155.0,426.6 1155.0,425.9 1155.0,425.1 1155.1,424.4 1155.1,423.6 1155.1,422.7 1155.2,421.9 1155.2,421.0 1155.2,420.2 1155.3,419.3 1155.3,418.4 1155.3,417.5 1155.4,416.6 1155.4,415.7 1155.4,414.8 1155.5,414.0 1155.5,413.1 1155.6,412.3 1155.6,411.4 1155.6,410.7 1155.7,409.9 1155.7,409.2 1155.7,408.5 1155.8,407.8 1155.8,407.2 1155.9,406.6 1155.9,406.1 1155.9,405.6 1156.0,405.2 1156.0,404.8 1156.0,404.5 1156.1,404.3 1156.1,404.0 1156.1,404.4 1156.2,404.5 1156.2,404.9 1156.2,405.2 1156.3,405.6 1156.3,406.1 1156.3,406.7 1156.4,407.2 1156.4,407.8 1156.4,408.5 1156.4,409.2 1156.5,409.9 1156.5,410.7 1156.5,411.5 1156.6,412.3 1156.6,413.1 1156.6,414.0 1156.7,414.8 1156.7,415.7 1156.7,416.6 1156.8,417.5 1156.8,418.4 1156.8,419.3 1156.8,420.2 1156.9,421.0 1156.9,421.9 1156.9,422.7 1157.0,423.6 1157.0,424.4 1157.0,425.2 1157.0,425.9 1157.1,426.6 1157.1,427.3 1157.1,428.0 1157.2,428.7 1157.2,429.4 1157.2,430.1 1157.2,430.9 1157.3,431.6 1157.3,432.3 1157.3,433.0 1157.3,433.8 1157.4,434.5 1157.4,435.2 1157.4,436.0 1157.4,436.7 1157.4,437.4 1157.5,438.2 1157.5,438.9 1157.5,439.6 1157.5,440.4 1157.6,441.1 1157.6,441.8 1157.6,442.6 1157.6,443.3 1157.7,444.0 1157.7,444.8 1157.7,445.5 1157.7,446.2 1157.8,446.9 1157.8,447.6 1157.8,448.3 1157.8,449.0 1157.9,449.7 1157.9,450.5 1157.9,451.2 1158.0,451.8 1158.0,452.5 1158.0,453.2 1158.0,453.9 1158.1,454.7 1158.1,455.5 1158.2,456.2 1158.2,457.0 1158.2,457.8 1158.3,458.5 1158.3,459.3 1158.3,460.0 1158.4,460.7 1158.4,461.5 1158.5,462.2 1158.5,462.9 1158.5,463.6 1158.6,464.3 1158.6,465.0 1158.7,465.7 1158.7,466.4 1158.7,467.1 1158.8,467.7 1158.8,468.4 1158.9,469.1 1158.9,469.8 1159.0,470.4 1159.0,471.1 1159.1,471.7 1159.1,472.3 1159.2,473.3 1159.3,474.4 1159.4,475.4 1159.6,476.4 1159.7,477.2 1159.8,478.1 1159.9,478.4 1160.1,478.9 1160.2,479.2 1160.3,479.0 1160.4,478.7 1160.5,477.9 1160.6,477.4 1160.7,476.7 1160.8,475.8 1161.0,475.0 1161.1,474.2 1161.2,473.3 1161.3,472.4 1161.4,471.5 1161.5,470.5 1161.5,469.6 1161.6,469.0 1161.6,468.3 1161.7,467.6 1161.7,467.0 1161.8,466.3 1161.8,465.7 1161.9,465.0 1161.9,464.3 1162.0,463.6 1162.0,462.9 1162.0,462.2 1162.1,461.5 1162.1,460.8 1162.2,460.1 1162.2,459.4 1162.2,458.7 1162.3,458.0 1162.3,457.2 1162.3,456.5 1162.4,455.8 1162.4,455.0 1162.5,454.3 1162.5,453.6 1162.5,452.8 1162.6,452.1 1162.6,451.4 1162.7,450.7 1162.7,450.0 1162.7,449.2 1162.8,448.5 1162.8,447.8 1162.9,447.1 1162.9,446.4 1163.0,445.8 1163.0,445.0 1163.1,444.3 1163.1,443.6 1163.2,442.8 1163.2,442.1 1163.2,441.4 1163.3,440.7 1163.3,440.0 1163.4,439.2 1163.4,438.6 1163.5,437.9 1163.5,437.1 1163.6,436.5 1163.6,435.7 1163.7,435.0 1163.7,434.2 1163.8,433.6 1163.8,432.9 1163.9,432.2 1163.9,431.5 1164.0,430.8 1164.0,430.1 1164.1,429.3 1164.1,428.6 1164.2,427.9 1164.2,427.3 1164.3,426.6 1164.3,425.9 1164.4,425.3 1164.4,424.5 1164.5,423.9 1164.5,423.1 1164.6,422.5 1164.7,421.8 1164.8,421.0 1164.8,420.3 1164.9,419.7 1165.0,418.9 1165.1,418.3 1165.2,417.6 1165.3,416.9 1165.3,416.4 1165.4,415.6 1165.5,415.1 1165.6,414.4 1165.7,413.7 1165.8,413.1 1165.9,412.4 1165.9,411.7 1166.0,411.0 1166.1,410.2 1166.2,409.5 1166.3,408.8 1166.4,408.0 1166.4,407.2 1166.5,406.3 1166.6,405.5 1166.7,404.8 1166.7,404.2 1166.8,403.6 1166.8,402.9 1166.9,402.2 1166.9,401.6 1167.0,400.8 1167.0,400.2 1167.1,399.5 1167.1,398.8 1167.2,398.1 1167.2,397.4 1167.3,396.7 1167.3,396.0 1167.4,395.3 1167.4,394.6 1167.5,393.8 1167.5,393.1 1167.6,392.4 1167.6,391.7 1167.7,390.9 1167.8,390.2 1167.8,389.5 1167.9,388.7 1167.9,388.0 1168.0,387.2 1168.0,386.5 1168.1,385.7 1168.1,385.0 1168.2,384.3 1168.2,383.6 1168.3,382.8 1168.3,382.1 1168.4,381.3 1168.4,380.6 1168.5,379.9 1168.5,379.1 1168.6,378.3 1168.6,377.6 1168.7,376.9 1168.7,376.2 1168.8,375.5 1168.8,374.7 1168.9,374.0 1168.9,373.3 1169.0,372.6 1169.0,371.9 1169.1,371.1 1169.1,370.5 1169.1,369.7 1169.2,369.0 1169.2,368.4 1169.3,367.7 1169.3,367.0 1169.4,366.4 1169.4,365.7 1169.5,365.1 1169.5,364.2 1169.6,363.4 1169.6,362.7 1169.6,361.9 1169.7,361.2 1169.7,360.3 1169.8,359.6 1169.8,358.9 1169.8,358.1 1169.9,357.4 1169.9,356.6 1169.9,355.9 1170.0,355.2 1170.0,354.4 1170.0,353.8 1170.1,353.0 1170.1,352.4 1170.1,351.6 1170.2,350.9 1170.2,350.3 1170.2,349.6 1170.3,348.9 1170.3,348.2 1170.3,347.5 1170.4,346.9 1170.4,346.2 1170.4,345.6 1170.5,345.0 1170.5,344.3 1170.6,343.6 1170.6,343.0 1170.6,342.4 1170.7,341.7 1170.7,341.1 1170.8,340.5 1170.9,339.5 1171.0,338.6 1171.1,337.7 1171.2,336.8 1171.3,335.9 1171.4,335.1 1171.5,334.3 1171.7,333.7 1171.8,333.0 1171.9,332.3 1172.0,332.0 1172.1,331.9 1172.2,331.5 1172.4,331.6 1172.5,332.1 1172.6,332.8 1172.7,333.2 1172.8,334.0 1172.9,334.9 1173.0,335.8 1173.1,336.8 1173.3,337.6 1173.4,338.6 1173.5,339.6 1173.5,340.5 1173.6,341.1 1173.7,341.8 1173.7,342.4 1173.8,343.1 1173.8,343.8 1173.9,344.5 1173.9,345.1 1174.0,345.8 1174.0,346.5 1174.1,347.2 1174.1,347.8 1174.2,348.6 1174.2,349.3 1174.3,350.1 1174.3,350.8 1174.4,351.5 1174.4,352.2 1174.4,352.9 1174.5,353.7 1174.5,354.5 1174.6,355.3 1174.6,356.0 1174.7,356.8 1174.7,357.5 1174.8,358.2 1174.8,358.9 1174.9,359.7 1174.9,360.5 1175.0,361.2 1175.0,362.0 1175.0,362.9 1175.1,363.7 1175.1,364.6 1175.2,365.4 1175.2,366.3 1175.3,367.2 1175.3,368.0 1175.4,368.9 1175.4,369.7 1175.4,370.6 1175.5,371.5 1175.5,372.3 1175.6,373.1 1175.6,373.9 1175.7,374.7 1175.7,375.5 1175.8,376.3 1175.8,377.0 1175.8,377.7 1175.9,378.4 1175.9,378.9 1176.0,379.6 1176.0,380.1 1176.1,380.7 1176.1,381.3 1176.2,381.6 1176.2,382.1 1176.2,382.4 1176.3,382.9 1176.3,383.1 1176.4,382.7 1176.4,382.8 1176.5,382.4 1176.5,382.1 1176.6,381.6 1176.6,381.0 1176.7,380.4 1176.7,379.7 1176.8,378.9 1176.8,378.1 1176.9,377.3 1176.9,376.4 1177.0,375.5 1177.0,374.6 1177.1,373.6 1177.1,372.6 1177.2,371.7 1177.2,370.7 1177.3,369.8 1177.3,368.9 1177.4,368.0 1177.4,367.2 1177.5,366.4 1177.6,365.7 1177.6,365.0 1177.8,364.0 1178.0,363.0 1178.1,362.0 1178.3,361.1 1178.5,360.4 1178.7,359.6 1178.9,359.2 1179.1,358.7 1179.3,358.5 1179.4,358.8 1179.5,359.2 1179.6,359.8 1179.7,360.2 1179.8,360.9 1179.9,361.6 1180.0,362.4 1180.1,363.2 1180.2,364.0 1180.3,364.9 1180.3,365.7 1180.4,366.6 1180.5,367.5 1180.6,368.3 1180.6,368.9 1180.7,369.7 1180.7,370.4 1180.8,371.0 1180.8,371.8 1180.9,372.5 1180.9,373.3 1181.0,374.0 1181.0,374.7 1181.1,375.5 1181.1,376.2 1181.2,377.0 1181.2,377.8 1181.2,378.5 1181.3,379.3 1181.3,380.0 1181.4,380.8 1181.4,381.5 1181.5,382.2 1181.5,382.9 1181.5,383.7 1181.6,384.3 1181.6,385.0 1181.7,385.7 1181.7,386.3 1181.8,387.3 1181.9,388.3 1182.0,389.0 1182.1,389.7 1182.3,390.4 1182.4,391.1 1182.6,391.8 1182.7,392.5 1182.9,393.1 1183.1,393.8 1183.3,394.4 1183.5,394.9 1183.7,395.8 1183.9,396.3 1184.0,397.2 1184.2,398.0 1184.3,398.6 1184.4,399.3 1184.5,400.0 1184.5,400.6 1184.6,401.2 1184.7,402.0 1184.7,402.6 1184.8,403.3 1184.8,404.0 1184.9,404.7 1184.9,405.4 1184.9,406.1 1185.0,406.8 1185.0,407.6 1185.1,408.3 1185.1,409.1 1185.2,409.9 1185.2,410.7 1185.2,411.5 1185.3,412.3 1185.3,412.9 1185.4,413.6 1185.4,414.2 1185.4,414.9 1185.4,415.6 1185.5,416.3 1185.5,417.0 1185.5,417.7 1185.6,418.5 1185.6,419.2 1185.6,419.9 1185.6,420.6 1185.7,421.4 1185.7,422.1 1185.7,422.8 1185.8,423.6 1185.8,424.3 1185.8,425.0 1185.8,425.8 1185.9,426.5 1185.9,427.3 1185.9,428.0 1186.0,428.7 1186.0,429.4 1186.0,430.1 1186.0,430.9 1186.1,431.6 1186.1,432.3 1186.1,432.9 1186.2,433.6 1186.2,434.3 1186.3,434.9 1186.3,435.6 1186.3,436.1 1186.4,436.8 1186.5,437.9 1186.6,438.9 1186.7,440.0 1186.9,440.8 1187.0,441.7 1187.1,442.4 1187.3,443.2 1187.4,443.8 1187.6,444.2 1187.7,443.9 1187.9,444.1 1188.1,443.6 1188.2,443.0 1188.4,442.3 1188.6,441.4 1188.8,440.6 1188.9,439.6 1189.1,438.8 1189.2,437.7 1189.4,436.8 1189.5,436.2 1189.6,435.4 1189.6,434.8 1189.7,434.0 1189.8,433.3 1189.9,432.6 1189.9,431.8 1190.0,431.0 1190.1,430.3 1190.1,429.5 1190.2,428.8 1190.3,428.0 1190.3,427.3 1190.4,426.6 1190.5,425.9 1190.6,425.2 1190.7,424.5 1190.7,423.9 1191.1,422.6 1191.5,421.6 1191.8,421.8 1192.1,421.6 1192.3,422.7 1192.6,423.0 1192.8,423.9 1193.0,424.9 1193.2,425.9 1193.3,426.5 1193.3,427.2 1193.4,427.8 1193.4,428.5 1193.4,429.2 1193.5,429.9 1193.5,430.6 1193.6,431.3 1193.6,432.0 1193.6,432.7 1193.7,433.5 1193.7,434.2 1193.7,435.0 1193.8,435.7 1193.8,436.5 1193.8,437.2 1193.9,438.0 1193.9,438.7 1193.9,439.4 1194.0,440.2 1194.0,440.9 1194.0,441.7 1194.1,442.4 1194.1,443.1 1194.1,443.7 1194.2,444.5 1194.2,445.1 1194.2,445.7 1194.3,446.3 1194.4,447.3 1194.4,448.2 1194.5,449.0 1194.6,449.8 1194.6,450.6 1194.7,451.2 1194.8,452.0 1194.9,452.6 1195.0,453.3 1195.1,454.0 1195.2,454.6 1195.6,455.2 1196.1,455.7 1196.6,456.2 1197.0,457.4 1197.1,458.0 1197.2,458.6 1197.3,459.2 1197.4,459.7 1197.5,460.6 1197.6,461.3 1197.7,462.0 1197.7,462.7 1197.8,463.4 1197.9,464.2 1198.0,464.9 1198.0,465.7 1198.1,466.4 1198.2,467.2 1198.2,468.0 1198.3,468.8 1198.4,469.6 1198.4,470.3 1198.5,471.0 1198.5,471.7 1198.6,472.4 1198.7,473.1 1198.7,473.7 1198.8,474.5 1198.8,475.3 1198.8,475.9 1198.9,476.7 1198.9,477.5 1199.0,478.2 1199.0,479.0 1199.1,479.7 1199.1,480.4 1199.2,481.2 1199.2,481.9 1199.3,482.7 1199.4,483.4 1199.4,484.0 1199.5,484.7 1199.5,485.4 1199.6,486.0 1199.7,486.7 1199.8,487.3 1199.9,488.1 1200.2,489.0 1200.4,489.6 1200.7,490.0 1200.9,491.2 1201.2,491.1 1201.4,492.3 1201.5,492.8 1201.6,493.5 1201.8,494.2 1201.9,494.9 1202.0,495.7 1202.1,496.4 1202.2,497.1 1202.3,497.9 1202.4,498.7 1202.5,499.3 1202.6,500.2 1202.8,500.9 1202.9,501.8 1203.0,502.4 1203.1,503.2 1203.2,504.0 1203.3,504.9 1203.4,505.7 1203.6,506.4 1203.7,507.2 1203.8,508.0 1203.9,508.6 1204.1,509.1 1204.2,509.7 1204.4,510.2 1204.8,510.2 1205.3,509.4 1205.8,508.5 1206.2,507.7 1206.4,507.1 1206.5,506.4 1206.7,505.6 1206.9,505.2 1207.0,504.5 1207.1,503.6 1207.3,502.9 1207.4,501.9 1207.5,501.0 1207.6,500.3 1207.6,499.8 1207.7,499.1 1207.7,498.5 1207.8,497.8 1207.8,497.1 1207.9,496.4 1208.0,495.7 1208.0,495.1 1208.1,494.4 1208.1,493.7 1208.2,493.0 1208.2,492.3 1208.2,491.6 1208.3,490.8 1208.3,490.2 1208.4,489.4 1208.4,488.7 1208.5,488.0 1208.5,487.2 1208.6,486.5 1208.6,485.7 1208.6,485.0 1208.7,484.2 1208.7,483.5 1208.8,482.8 1208.8,482.0 1208.9,481.2 1208.9,480.5 1208.9,479.8 1209.0,479.1 1209.0,478.4 1209.0,477.7 1209.0,477.1 1209.1,476.3 1209.1,475.6 1209.1,475.0 1209.1,474.2 1209.2,473.6 1209.2,472.8 1209.2,472.1 1209.2,471.4 1209.3,470.8 1209.3,470.0 1209.3,469.3 1209.3,468.6 1209.4,467.9 1209.4,467.2 1209.4,466.5 1209.4,465.8 1209.5,465.0 1209.5,464.3 1209.5,463.5 1209.5,462.9 1209.6,462.1 1209.6,461.4 1209.6,460.6 1209.6,459.9 1209.6,459.2 1209.7,458.4 1209.7,457.7 1209.7,456.9 1209.7,456.2 1209.8,455.4 1209.8,454.7 1209.8,454.0 1209.8,453.2 1209.9,452.5 1209.9,451.8 1209.9,451.2 1209.9,450.4 1210.0,449.7 1210.0,449.0 1210.0,448.3 1210.0,447.6 1210.0,446.9 1210.1,446.2 1210.1,445.5 1210.1,444.7 1210.1,444.0 1210.1,443.3 1210.2,442.6 1210.2,441.8 1210.2,441.1 1210.2,440.4 1210.3,439.6 1210.3,438.9 1210.3,438.2 1210.3,437.5 1210.3,436.7 1210.4,436.0 1210.4,435.3 1210.4,434.5 1210.4,433.8 1210.5,433.1 1210.5,432.3 1210.5,431.6 1210.5,430.9 1210.5,430.2 1210.6,429.4 1210.6,428.7 1210.6,428.0 1210.6,427.3 1210.7,426.6 1210.7,425.9 1210.7,425.2 1210.7,424.5 1210.8,423.8 1210.8,423.1 1210.8,422.4 1210.8,421.8 1210.9,421.1 1210.9,420.4 1210.9,419.8 1210.9,419.1 1211.0,418.3 1211.0,417.5 1211.0,416.8 1211.1,416.1 1211.1,415.3 1211.1,414.7 1211.2,414.0 1211.2,413.3 1211.3,412.6 1211.3,412.0 1211.3,411.3 1211.4,410.6 1211.4,410.0 1211.4,409.4 1211.5,408.7 1211.5,408.1 1211.6,407.4 1211.6,406.7 1211.6,406.1 1211.7,405.4 1211.7,404.7 1211.7,404.0 1211.8,403.3 1211.8,402.6 1211.9,401.8 1211.9,401.1 1211.9,400.3 1212.0,399.5 1212.0,398.6 1212.0,398.0 1212.1,397.3 1212.1,396.7 1212.1,396.0 1212.2,395.4 1212.2,394.7 1212.2,394.1 1212.2,393.4 1212.3,392.7 1212.3,392.0 1212.3,391.4 1212.3,390.7 1212.4,390.0 1212.4,389.3 1212.4,388.6 1212.5,387.9 1212.5,387.2 1212.5,386.5 1212.5,385.8 1212.6,385.1 1212.6,384.3 1212.6,383.7 1212.7,382.9 1212.7,382.2 1212.7,381.5 1212.7,380.8 1212.8,380.1 1212.8,379.3 1212.8,378.6 1212.8,377.9 1212.9,377.2 1212.9,376.4 1212.9,375.7 1213.0,375.0 1213.0,374.2 1213.0,373.5 1213.0,372.8 1213.1,372.0 1213.1,371.3 1213.1,370.6 1213.1,369.8 1213.2,369.1 1213.2,368.4 1213.2,367.6 1213.3,366.9 1213.3,366.2 1213.3,365.5 1213.3,364.7 1213.4,364.0 1213.4,363.3 1213.4,362.6 1213.5,361.9 1213.5,361.1 1213.5,360.4 1213.5,359.7 1213.6,359.0 1213.6,358.3 1213.6,357.5 1213.7,356.8 1213.7,356.1 1213.7,355.4 1213.7,354.7 1213.8,354.0 1213.8,353.3 1213.8,352.6 1213.9,351.9 1213.9,351.2 1213.9,350.5 1213.9,349.8 1214.0,349.1 1214.0,348.4 1214.0,347.8 1214.1,347.0 1214.1,346.4 1214.1,345.6 1214.2,344.9 1214.2,344.2 1214.2,343.5 1214.2,342.8 1214.3,342.1 1214.3,341.5 1214.3,340.8 1214.4,340.1 1214.4,339.3 1214.4,338.7 1214.5,338.0 1214.5,337.3 1214.5,336.6 1214.5,335.8 1214.6,335.2 1214.6,334.5 1214.6,333.8 1214.7,333.1 1214.7,332.4 1214.7,331.7 1214.8,331.0 1214.8,330.3 1214.8,329.6 1214.8,328.8 1214.9,328.1 1214.9,327.4 1214.9,326.8 1214.9,326.0 1215.0,325.3 1215.0,324.6 1215.0,323.9 1215.1,323.2 1215.1,322.5 1215.1,321.7 1215.1,321.0 1215.2,320.3 1215.2,319.6 1215.2,318.8 1215.2,318.1 1215.2,317.4 1215.3,316.7 1215.3,315.9 1215.3,315.3 1215.3,314.6 1215.3,313.9 1215.4,313.2 1215.4,312.5 1215.4,311.8 1215.4,311.1 1215.4,310.4 1215.4,309.7 1215.4,309.0 1215.5,308.4 1215.5,307.7 1215.5,307.0 1215.5,306.3 1215.5,305.6 1215.5,304.9 1215.5,304.2 1215.5,303.4 1215.6,302.7 1215.6,302.1 1215.6,301.3 1215.6,300.6 1215.6,299.9 1215.6,299.2 1215.6,298.5 1215.6,297.8 1215.6,297.1 1215.7,296.4 1215.7,295.7 1215.7,294.9 1215.7,294.2 1215.7,293.5 1215.7,292.8 1215.7,292.1 1215.7,291.4 1215.7,290.7 1215.7,290.0 1215.7,289.2 1215.8,288.5 1215.8,287.8 1215.8,287.1 1215.8,286.4 1215.8,285.7 1215.8,285.0 1215.8,284.2 1215.8,283.6 1215.8,282.8 1215.8,282.1 1215.9,281.4 1215.9,280.7 1215.9,280.0 1215.9,279.3 1215.9,278.6 1215.9,277.9 1215.9,277.2 1215.9,276.5 1215.9,275.8 1216.0,275.1 1216.0,274.4 1216.0,273.7 1216.0,273.0 1216.0,272.3 1216.0,271.6 1216.0,270.9 1216.0,270.2 1216.0,269.5 1216.1,268.9 1216.1,268.2 1216.1,267.5 1216.1,266.8 1216.1,266.1 1216.1,265.4 1216.2,264.6 1216.2,263.9 1216.2,263.2 1216.2,262.5 1216.2,261.7 1216.2,261.0 1216.3,260.2 1216.3,259.5 1216.3,258.8 1216.3,258.1 1216.3,257.4 1216.3,256.6 1216.4,255.9 1216.4,255.2 1216.4,254.4 1216.4,253.7 1216.4,253.0 1216.4,252.3 1216.5,251.5 1216.5,250.9 1216.5,250.1 1216.5,249.5 1216.5,248.7 1216.6,248.0 1216.6,247.3 1216.6,246.6 1216.6,245.9 1216.6,245.1 1216.7,244.5 1216.7,243.7 1216.7,243.1 1216.7,242.3 1216.7,241.6 1216.8,241.0 1216.8,240.3 1216.8,239.6 1216.8,238.9 1216.8,238.2 1216.9,237.4 1216.9,236.8 1216.9,236.1 1216.9,235.4 1216.9,234.7 1217.0,234.0 1217.0,233.3 1217.0,232.7 1217.0,232.0 1217.1,231.3 1217.1,230.6 1217.1,229.9 1217.1,229.3 1217.2,228.6 1217.2,227.9 1217.2,227.3 1217.2,226.6 1217.2,225.9 1217.3,225.1 1217.3,224.4 1217.4,223.6 1217.4,222.8 1217.4,222.0 1217.5,221.2 1217.5,220.3 1217.5,219.5 1217.6,218.7 1217.6,217.9 1217.6,217.1 1217.7,216.2 1217.7,215.4 1217.8,214.6 1217.8,213.8 1217.8,213.0 1217.9,212.2 1217.9,211.4 1217.9,210.6 1218.0,209.8 1218.0,209.0 1218.1,208.2 1218.1,207.5 1218.2,206.7 1218.2,206.0 1218.2,205.3 1218.3,204.6 1218.3,204.0 1218.4,203.2 1218.4,202.5 1218.5,201.9 1218.5,201.3 1218.5,200.7 1218.6,200.2 1218.6,199.6 1218.7,199.0 1218.7,198.5 1218.8,198.1 1218.8,197.7 1218.8,197.2 1218.9,196.8 1219.0,196.7 1219.1,196.9 1219.2,197.2 1219.3,197.7 1219.4,198.4 1219.5,199.3 1219.6,200.4 1219.7,201.4 1219.8,202.5 1219.9,203.6 1220.0,204.6 1220.1,205.5 1220.2,206.2 1220.3,207.0 1220.4,207.9 1220.5,208.8 1220.6,209.7 1220.7,210.6 1220.8,211.5 1220.8,212.4 1220.9,213.2 1221.0,213.9 1221.1,214.4 1221.2,214.9 1221.3,215.3 1221.5,215.3 1221.6,214.3 1221.8,213.4 1222.0,212.3 1222.2,211.2 1222.3,210.3 1222.5,209.8 1222.7,209.6 1222.8,209.8 1222.9,210.5 1223.0,210.8 1223.1,211.1 1223.2,212.1 1223.3,212.8 1223.4,213.2 1223.5,214.1 1223.7,214.9 1223.8,215.7 1223.9,216.5 1224.0,217.4 1224.1,218.2 1224.1,219.2 1224.2,220.1 1224.3,221.0 1224.3,221.7 1224.4,222.3 1224.4,222.9 1224.4,223.5 1224.4,224.1 1224.5,224.8 1224.5,225.4 1224.5,226.1 1224.5,226.8 1224.6,227.4 1224.6,228.1 1224.6,228.8 1224.6,229.5 1224.6,230.1 1224.7,230.8 1224.7,231.5 1224.7,232.2 1224.7,232.9 1224.7,233.6 1224.7,234.3 1224.8,235.0 1224.8,235.7 1224.8,236.5 1224.8,237.2 1224.8,237.9 1224.8,238.6 1224.9,239.3 1224.9,240.0 1224.9,240.8 1224.9,241.5 1224.9,242.2 1224.9,243.0 1224.9,243.7 1225.0,244.5 1225.0,245.2 1225.0,246.0 1225.0,246.7 1225.0,247.4 1225.1,248.2 1225.1,249.0 1225.1,249.7 1225.1,250.4 1225.1,251.2 1225.1,251.8 1225.2,252.5 1225.2,253.2 1225.2,253.8 1225.2,254.5 1225.2,255.2 1225.3,255.9 1225.3,256.6 1225.3,257.3 1225.3,258.0 1225.3,258.7 1225.4,259.4 1225.4,260.1 1225.4,260.8 1225.4,261.5 1225.4,262.2 1225.4,262.9 1225.5,263.6 1225.5,264.4 1225.5,265.1 1225.5,265.8 1225.5,266.5 1225.6,267.2 1225.6,268.0 1225.6,268.7 1225.6,269.4 1225.6,270.1 1225.7,270.8 1225.7,271.6 1225.7,272.3 1225.7,273.0 1225.7,273.7 1225.8,274.5 1225.8,275.2 1225.8,275.9 1225.8,276.6 1225.8,277.3 1225.9,278.0 1225.9,278.8 1225.9,279.5 1225.9,280.2 1225.9,280.9 1226.0,281.6 1226.0,282.4 1226.0,283.0 1226.0,283.8 1226.0,284.4 1226.1,285.2 1226.1,285.9 1226.1,286.6 1226.1,287.3 1226.1,288.0 1226.2,288.6 1226.2,289.4 1226.2,290.0 1226.2,290.7 1226.2,291.4 1226.3,292.1 1226.3,292.8 1226.3,293.6 1226.4,294.3 1226.4,295.1 1226.4,295.8 1226.4,296.6 1226.5,297.3 1226.5,298.0 1226.5,298.7 1226.5,299.4 1226.6,300.2 1226.6,300.9 1226.6,301.6 1226.6,302.3 1226.7,303.0 1226.7,303.7 1226.7,304.4 1226.8,305.1 1226.8,305.8 1226.8,306.5 1226.8,307.2 1226.9,308.0 1226.9,308.7 1226.9,309.4 1227.0,310.0 1227.0,310.8 1227.0,311.5 1227.0,312.1 1227.1,312.9 1227.1,313.5 1227.1,314.3 1227.2,315.0 1227.2,315.7 1227.2,316.4 1227.3,317.0 1227.3,317.8 1227.3,318.5 1227.3,319.2 1227.4,319.9 1227.4,320.6 1227.4,321.3 1227.5,322.0 1227.5,322.7 1227.5,323.4 1227.6,324.1 1227.6,324.8 1227.6,325.5 1227.7,326.2 1227.7,326.9 1227.7,327.7 1227.8,328.4 1227.8,329.1 1227.8,329.8 1227.9,330.5 1227.9,331.2 1227.9,331.9 1228.0,332.6 1228.0,333.3 1228.0,334.0 1228.1,334.6 1228.1,335.3 1228.1,336.1 1228.2,336.7 1228.2,337.4 1228.2,338.2 1228.3,338.9 1228.3,339.6 1228.3,340.3 1228.4,340.9 1228.4,341.7 1228.5,342.4 1228.5,343.1 1228.5,343.8 1228.6,344.5 1228.6,345.2 1228.6,345.9 1228.7,346.6 1228.7,347.3 1228.7,348.1 1228.8,348.7 1228.8,349.5 1228.9,350.2 1228.9,350.9 1228.9,351.7 1229.0,352.4 1229.0,353.1 1229.0,353.9 1229.1,354.6 1229.1,355.4 1229.2,356.1 1229.2,356.8 1229.2,357.5 1229.3,358.2 1229.3,358.9 1229.3,359.6 1229.4,360.3 1229.4,361.0 1229.4,361.7 1229.5,362.4 1229.5,363.1 1229.6,363.8 1229.6,364.5 1229.6,365.3 1229.7,366.0 1229.7,366.7 1229.7,367.4 1229.8,368.1 1229.8,368.9 1229.8,369.6 1229.9,370.4 1229.9,371.0 1229.9,371.8 1230.0,372.5 1230.0,373.3 1230.0,374.0 1230.1,374.7 1230.1,375.5 1230.2,376.2 1230.2,376.9 1230.2,377.7 1230.3,378.4 1230.3,379.1 1230.3,379.9 1230.4,380.6 1230.4,381.3 1230.5,382.1 1230.5,382.7 1230.5,383.5 1230.6,384.2 1230.6,384.9 1230.6,385.7 1230.7,386.4 1230.7,387.1 1230.8,387.8 1230.8,388.5 1230.8,389.3 1230.9,389.9 1230.9,390.6 1230.9,391.3 1231.0,392.0 1231.0,392.6 1231.1,393.4 1231.1,394.1 1231.1,394.7 1231.2,395.4 1231.2,396.0 1231.3,396.7 1231.3,397.4 1231.3,398.0 1231.4,398.7 1231.5,399.5 1231.5,400.3 1231.6,401.1 1231.7,401.9 1231.7,402.6 1231.8,403.3 1231.9,404.1 1231.9,404.9 1232.0,405.5 1232.1,406.3 1232.2,406.9 1232.2,407.6 1232.3,408.3 1232.4,408.9 1232.5,409.6 1232.5,410.3 1232.6,410.9 1232.7,411.6 1232.8,412.2 1232.8,412.9 1232.9,413.6 1233.0,414.2 1233.1,414.8 1233.1,415.5 1233.2,416.2 1233.3,417.0 1233.3,417.6 1233.4,418.4 1233.4,419.1 1233.5,419.8 1233.5,420.5 1233.6,421.2 1233.6,421.9 1233.6,422.6 1233.7,423.3 1233.7,424.0 1233.7,424.7 1233.8,425.5 1233.8,426.2 1233.8,426.9 1233.9,427.7 1233.9,428.4 1233.9,429.2 1233.9,429.9 1234.0,430.6 1234.0,431.4 1234.0,432.1 1234.0,432.9 1234.1,433.6 1234.1,434.3 1234.1,435.0 1234.2,435.8 1234.2,436.5 1234.2,437.2 1234.3,437.9 1234.3,438.6 1234.3,439.3 1234.4,440.0 1234.4,440.6 1234.5,441.3 1234.5,441.9 1234.6,442.6 1234.6,443.2 1234.7,443.8 1234.7,444.4 1234.8,445.1 1235.8,445.5 1236.8,445.2 1237.1,445.6 1237.4,446.0 1237.6,446.9 1237.8,447.1 1238.0,448.0 1238.2,448.8 1238.3,449.6 1238.5,450.4 1238.6,451.2 1238.6,451.8 1238.7,452.3 1238.7,453.0 1238.8,453.6 1238.9,454.3 1238.9,454.9 1239.0,455.6 1239.0,456.4 1239.1,457.0 1239.1,457.7 1239.2,458.4 1239.2,459.1 1239.3,459.8 1239.3,460.5 1239.4,461.3 1239.4,462.0 1239.4,462.7 1239.5,463.5 1239.5,464.3 1239.6,465.0 1239.6,465.7 1239.7,466.5 1239.7,467.3 1239.8,468.0 1239.8,468.8 1239.8,469.6 1239.9,470.2 1239.9,470.9 1240.0,471.6 1240.0,472.3 1240.0,473.0 1240.1,473.7 1240.1,474.5 1240.1,475.2 1240.1,475.9 1240.2,476.7 1240.2,477.4 1240.2,478.1 1240.3,478.9 1240.3,479.6 1240.3,480.4 1240.4,481.2 1240.4,481.9 1240.4,482.6 1240.4,483.4 1240.5,484.2 1240.5,484.9 1240.5,485.7 1240.6,486.4 1240.6,487.1 1240.6,487.9 1240.7,488.6 1240.7,489.4 1240.7,490.1 1240.8,490.8 1240.8,491.5 1240.8,492.2 1240.9,492.9 1240.9,493.6 1240.9,494.3 1241.0,495.0 1241.0,495.6 1241.1,496.3 1241.1,496.9 1241.2,497.6 1241.2,498.2 1241.3,499.2 1241.5,500.1 1241.7,501.0 1241.8,501.5 1242.0,502.4 1242.2,502.8 1242.4,503.2 1242.6,503.9 1242.8,504.3 1243.0,504.9 1243.2,505.9 1243.5,506.5 1243.7,507.3 1244.0,508.4 1244.2,509.1 1244.5,509.6 1244.8,510.1 1245.1,509.9 1245.6,509.4 1246.0,508.4 1246.4,507.4 1246.7,506.4 1246.8,505.9 1246.9,505.1 1247.0,504.5 1247.1,503.9 1247.2,503.2 1247.3,502.6 1247.3,501.9 1247.4,501.2 1247.5,500.5 1247.6,499.7 1247.6,499.0 1247.7,498.2 1247.8,497.5 1247.8,496.7 1247.9,495.9 1248.0,495.0 1248.0,494.1 1248.1,493.4 1248.1,492.9 1248.1,492.2 1248.2,491.6 1248.2,490.9 1248.2,490.2 1248.3,489.5 1248.3,488.8 1248.3,488.1 1248.3,487.4 1248.4,486.7 1248.4,486.0 1248.4,485.3 1248.4,484.5 1248.5,483.9 1248.5,483.1 1248.5,482.4 1248.5,481.6 1248.6,480.9 1248.6,480.2 1248.6,479.4 1248.6,478.7 1248.7,478.0 1248.7,477.2 1248.7,476.5 1248.7,475.8 1248.8,475.1 1248.8,474.4 1248.8,473.7 1248.9,473.0 1248.9,472.2 1248.9,471.5 1248.9,470.8 1249.0,470.1 1249.0,469.5 1249.0,468.8 1249.1,468.1 1249.1,467.5 1249.1,466.8 1249.2,466.0 1249.2,465.2 1249.3,464.4 1249.3,463.6 1249.4,462.8 1249.5,462.0 1249.5,461.3 1249.6,460.6 1249.6,459.9 1249.7,459.2 1249.7,458.4 1249.8,457.7 1249.9,457.1 1249.9,456.4 1250.0,455.7 1250.1,455.0 1250.2,454.4 1250.2,453.7 1250.3,453.1 1250.4,452.4 1250.5,451.9 1250.8,451.0 1251.1,450.7 1251.5,449.6 1251.9,449.2 1252.1,448.4 1252.2,447.8 1252.2,447.2 1252.3,446.5 1252.3,445.9 1252.3,445.2 1252.4,444.6 1252.4,443.8 1252.4,443.1 1252.5,442.5 1252.5,441.7 1252.5,441.0 1252.5,440.3 1252.6,439.5 1252.6,438.8 1252.6,438.0 1252.6,437.3 1252.7,436.5 1252.7,435.8 1252.7,435.0 1252.7,434.3 1252.7,433.5 1252.8,432.7 1252.8,432.0 1252.8,431.2 1252.8,430.4 1252.8,429.7 1252.9,429.0 1252.9,428.2 1252.9,427.5 1252.9,426.7 1252.9,426.0 1253.0,425.3 1253.0,424.5 1253.0,423.8 1253.0,423.1 1253.1,422.4 1253.1,421.7 1253.1,421.0 1253.2,420.4 1253.2,419.8 1253.2,419.1 1253.3,418.2 1253.4,417.2 1253.4,416.3 1253.5,415.3 1253.6,414.4 1253.7,413.5 1253.7,412.5 1253.8,411.8 1253.9,410.9 1254.0,410.1 1254.1,409.4 1254.2,408.8 1254.3,408.2 1254.3,407.8 1254.4,407.3 1254.5,407.1 1254.6,406.6 1254.6,406.9 1254.7,407.2 1254.8,407.8 1254.9,408.4 1254.9,409.0 1255.0,409.7 1255.0,410.5 1255.1,411.3 1255.2,412.2 1255.2,413.1 1255.3,414.0 1255.4,414.9 1255.4,415.8 1255.5,416.7 1255.5,417.6 1255.6,418.3 1255.7,419.1 1255.7,419.9 1255.8,420.8 1255.9,421.7 1255.9,422.7 1256.0,423.8 1256.1,424.7 1256.1,425.7 1256.2,426.7 1256.3,427.6 1256.3,428.4 1256.4,429.0 1256.4,429.5 1256.5,429.9 1256.6,430.0 1256.6,430.0 1256.7,429.7 1256.7,429.3 1256.7,428.8 1256.8,428.4 1256.8,427.9 1256.9,427.3 1256.9,426.7 1256.9,426.2 1257.0,425.5 1257.0,424.8 1257.1,424.1 1257.1,423.4 1257.1,422.7 1257.2,422.0 1257.2,421.2 1257.2,420.4 1257.3,419.7 1257.3,418.9 1257.4,418.1 1257.4,417.2 1257.4,416.4 1257.5,415.6 1257.5,414.8 1257.6,413.9 1257.6,413.1 1257.6,412.3 1257.7,411.5 1257.7,410.6 1257.8,409.9 1257.8,409.1 1257.8,408.3 1257.9,407.6 1257.9,406.9 1257.9,406.2 1258.0,405.5 1258.0,404.7 1258.1,403.9 1258.1,403.1 1258.2,402.2 1258.2,401.4 1258.3,400.5 1258.3,399.7 1258.4,398.7 1258.4,397.8 1258.5,397.0 1258.5,396.1 1258.6,395.2 1258.6,394.3 1258.7,393.4 1258.7,392.7 1258.8,391.8 1258.8,391.0 1258.9,390.3 1258.9,389.6 1259.0,389.0 1259.0,388.4 1259.1,387.8 1259.1,387.3 1259.2,386.8 1259.2,386.5 1259.3,386.3 1259.3,385.9 1259.4,385.8 1259.4,385.8 1259.4,385.9 1259.5,386.3 1259.5,386.8 1259.6,387.2 1259.6,387.8 1259.6,388.3 1259.7,388.9 1259.7,389.5 1259.7,390.2 1259.8,390.9 1259.8,391.7 1259.8,392.4 1259.9,393.3 1259.9,394.0 1259.9,394.9 1260.0,395.8 1260.0,396.7 1260.0,397.6 1260.1,398.5 1260.1,399.4 1260.1,400.3 1260.2,401.2 1260.2,402.1 1260.2,402.9 1260.2,403.8 1260.3,404.6 1260.3,405.5 1260.3,406.1 1260.4,406.8 1260.4,407.4 1260.4,408.1 1260.4,408.8 1260.4,409.5 1260.5,410.2 1260.5,410.9 1260.5,411.6 1260.5,412.3 1260.6,413.0 1260.6,413.7 1260.6,414.4 1260.6,415.2 1260.6,415.9 1260.7,416.6 1260.7,417.4 1260.7,418.1 1260.7,418.8 1260.7,419.5 1260.8,420.3 1260.8,421.0 1260.8,421.8 1260.8,422.5 1260.9,423.3 1260.9,424.0 1260.9,424.7 1260.9,425.5 1260.9,426.2 1261.0,426.9 1261.0,427.7 1261.0,428.4 1261.0,429.1 1261.1,429.9 1261.1,430.5 1261.1,431.3 1261.1,432.0 1261.1,432.7 1261.2,433.4 1261.2,434.2 1261.2,434.8 1261.2,435.5 1261.3,436.2 1261.3,436.9 1261.3,437.5 1261.3,438.2 1261.4,438.9 1261.4,439.6 1261.4,440.4 1261.5,441.1 1261.5,441.9 1261.6,442.7 1261.6,443.4 1261.6,444.1 1261.7,444.8 1261.7,445.6 1261.8,446.3 1261.8,447.0 1261.9,447.7 1261.9,448.4 1262.0,449.1 1262.0,449.8 1262.1,450.5 1262.1,451.1 1262.2,451.8 1262.2,452.5 1262.3,453.1 1262.3,453.8 1262.4,454.5 1262.4,455.2 1262.5,455.9 1262.5,456.5 1262.6,457.3 1262.6,457.9 1262.7,458.6 1262.7,459.4 1262.8,460.0 1262.8,460.7 1262.9,461.4 1262.9,462.1 1263.0,462.8 1263.0,463.6 1263.1,464.3 1263.1,464.9 1263.2,465.7 1263.2,466.4 1263.3,467.1 1263.3,467.9 1263.4,468.6 1263.5,469.3 1263.5,470.0 1263.6,470.7 1263.6,471.4 1263.7,472.1 1263.7,472.9 1263.8,473.5 1263.8,474.2 1263.9,475.0 1264.0,475.6 1264.0,476.4 1264.1,477.0 1264.1,477.7 1264.2,478.5 1264.3,479.1 1264.3,479.9 1264.4,480.5 1264.5,481.2 1264.6,482.0 1264.7,482.7 1264.8,483.3 1264.8,484.1 1264.9,484.8 1265.0,485.6 1265.1,486.1 1265.2,486.8 1265.3,487.6 1265.5,488.2 1265.6,489.0 1265.7,489.7 1265.8,490.2 1265.9,490.9 1266.0,491.7 1266.1,492.4 1266.2,493.0 1266.2,493.8 1266.3,494.6 1266.4,495.3 1266.5,496.0 1266.6,496.9 1266.6,497.5 1266.7,498.2 1266.8,498.8 1266.8,499.5 1266.9,500.2 1266.9,500.9 1267.0,501.6 1267.0,502.3 1267.0,503.0 1267.1,503.7 1267.1,504.4 1267.2,505.1 1267.2,505.8 1267.3,506.5 1267.3,507.2 1267.3,508.0 1267.4,508.7 1267.4,509.4 1267.5,510.1 1267.5,510.9 1267.5,511.6 1267.6,512.3 1267.6,513.0 1267.7,513.7 1267.7,514.4 1267.8,515.2 1267.8,515.8 1267.9,516.5 1267.9,517.2 1268.0,517.9 1268.0,518.6 1268.1,519.3 1268.1,520.1 1268.2,520.8 1268.2,521.4 1268.3,522.2 1268.4,522.9 1268.4,523.7 1268.5,524.4 1268.6,525.2 1268.7,526.0 1268.7,526.8 1268.8,527.6 1268.9,528.3 1269.0,529.1 1269.0,529.9 1269.1,530.6 1269.2,531.3 1269.3,532.2 1269.4,532.8 1269.4,533.6 1269.5,534.3 1269.6,535.2 1269.7,535.7 1269.8,536.3 1269.9,537.3 1270.0,537.7 1270.1,538.5 1270.2,538.9 1270.3,539.7 1270.4,540.3 1270.5,540.5 1270.6,541.3 1271.3,541.2 1272.1,540.6 1272.9,539.8 1273.4,540.6 1273.9,540.5 1274.3,541.3 1274.8,542.2 1275.2,542.8 1275.6,543.4 1276.0,544.5 1276.4,545.3 1276.8,546.3 1277.1,546.4 1277.5,546.7 1277.7,546.0 1277.8,545.4 1278.0,545.0 1278.2,544.4 1278.3,543.7 1278.5,542.8 1278.6,541.9 1278.8,541.0 1278.9,540.3 1279.1,539.6 1279.3,538.9 1279.5,538.1 1280.3,537.7 1281.0,537.7 1281.1,536.9 1281.2,536.3 1281.3,535.6 1281.4,534.9 1281.4,534.2 1281.5,533.6 1281.6,532.8 1281.7,532.0 1281.7,531.3 1281.8,530.6 1281.9,529.7 1281.9,529.0 1282.0,528.3 1282.1,527.5 1282.1,526.7 1282.2,526.0 1282.3,525.2 1282.3,524.5 1282.4,523.8 1282.5,523.1 1282.6,522.3 1282.7,521.4 1282.8,520.7 1282.9,519.8 1283.0,518.8 1283.1,518.0 1283.2,517.1 1283.3,516.2 1283.5,515.4 1283.6,514.5 1283.7,513.8 1283.8,513.1 1283.9,512.5 1284.0,512.0 1284.1,511.4 1284.2,511.2 1284.3,510.8 1284.4,511.1 1284.5,511.2 1284.6,511.9 1284.7,512.5 1284.9,513.0 1285.0,513.7 1285.1,514.4 1285.2,515.3 1285.3,516.3 1285.4,517.2 1285.5,518.1 1285.6,518.9 1285.7,519.9 1285.8,520.7 1285.8,521.6 1285.9,522.2 1285.9,522.9 1286.0,523.5 1286.1,524.2 1286.1,524.9 1286.1,525.6 1286.2,526.3 1286.2,527.1 1286.3,527.8 1286.3,528.5 1286.4,529.2 1286.4,530.0 1286.4,530.7 1286.5,531.5 1286.5,532.2 1286.6,532.9 1286.6,533.6 1286.7,534.3 1286.7,535.1 1286.8,535.7 1286.8,536.4 1286.8,537.1 1286.9,537.8 1286.9,538.5 1287.0,539.1 1287.1,539.8 1287.1,540.6 1287.2,541.4 1287.3,542.2 1287.4,542.9 1287.5,543.8 1287.6,544.4 1287.7,545.1 1287.8,545.8 1288.0,546.5 1288.1,547.2 1288.2,547.9 1288.3,548.3 1288.4,549.1 1288.6,549.6 1289.0,550.6 1289.6,551.9 1290.1,551.9 1290.6,551.3 1291.1,550.7 1291.5,549.9 1291.9,548.9 1292.1,548.5 1292.2,547.6 1292.3,546.8 1292.4,546.0 1292.5,545.3 1292.7,544.3 1292.8,543.5 1292.9,542.7 1293.0,541.9 1293.1,541.0 1293.2,540.3 1293.3,539.6 1293.4,539.0 1293.5,538.4 1293.6,537.9 1293.7,537.5 1294.0,537.6 1294.2,538.5 1294.5,539.1 1294.7,540.2 1295.0,541.2 1295.3,542.0 1295.5,542.9 1295.7,543.9 1295.9,544.9 1296.1,546.0 1296.3,546.6 1296.6,547.0 1296.8,547.4 1297.0,547.3 1297.1,546.5 1297.3,545.8 1297.5,545.3 1297.7,544.6 1297.8,543.8 1298.0,542.9 1298.2,542.1 1298.4,541.2 1298.6,540.5 1298.8,539.7 1299.0,539.0 1299.3,538.7 1299.6,538.0 1299.9,537.2 1300.2,536.4 1300.4,535.8 1300.7,535.2 1301.1,534.1 1301.4,534.2 1301.8,533.3 1302.2,532.9 1302.6,532.4 1303.5,531.6 1304.4,531.3 1304.5,530.8 1304.6,530.3 1304.7,529.6 1304.8,528.9 1304.9,528.3 1304.9,527.6 1305.0,526.9 1305.1,526.1 1305.1,525.3 1305.2,524.6 1305.3,523.9 1305.3,523.1 1305.4,522.4 1305.5,521.5 1305.5,520.8 1305.6,520.0 1305.7,519.4 1305.7,518.6 1305.8,517.9 1305.9,517.2 1305.9,516.4 1306.0,515.6 1306.1,514.9 1306.1,514.2 1306.2,513.4 1306.2,512.6 1306.3,511.8 1306.4,511.1 1306.4,510.3 1306.5,509.6 1306.6,508.9 1306.7,508.1 1306.7,507.5 1306.8,506.8 1306.9,506.1 1307.0,505.4 1307.1,504.8 1307.5,503.9 1307.9,503.5 1308.4,503.2 1308.9,502.2 1309.4,502.1 1309.9,501.0 1310.4,500.9 1310.9,500.5 1311.5,500.7 1312.0,501.6 1312.4,502.6 1312.5,503.2 1312.6,503.9 1312.7,504.5 1312.8,505.2 1312.9,506.0 1313.0,506.8 1313.0,507.5 1313.1,508.2 1313.2,509.0 1313.2,509.8 1313.3,510.6 1313.4,511.3 1313.5,512.0 1313.6,512.8 1313.6,513.5 1313.7,514.2 1313.8,514.9 1314.0,515.5 1314.3,516.4 1314.7,517.4 1315.1,517.5 1315.5,518.1 1315.9,518.5 1316.3,519.6 1316.7,520.4 1317.1,521.2 1317.5,521.2 1317.7,521.1 1317.9,520.3 1318.2,519.6 1318.4,518.9 1318.7,518.3 1318.9,517.3 1319.1,516.4 1319.3,515.5 1319.4,514.8 1319.5,514.2 1319.6,513.4 1319.7,512.8 1319.7,512.2 1319.8,511.5 1319.9,510.7 1320.0,510.0 1320.1,509.2 1320.1,508.5 1320.2,507.8 1320.3,507.0 1320.4,506.3 1320.4,505.5 1320.5,504.8 1320.6,504.0 1320.6,503.3 1320.7,502.6 1320.8,501.9 1320.9,501.1 1320.9,500.4 1321.0,499.7 1321.1,498.9 1321.2,498.2 1321.2,497.4 1321.3,496.7 1321.4,495.9 1321.4,495.3 1321.5,494.5 1321.6,493.7 1321.7,493.0 1321.7,492.2 1321.8,491.6 1321.9,490.8 1321.9,490.0 1322.0,489.4 1322.1,488.7 1322.2,488.0 1322.2,487.3 1322.3,486.5 1322.4,485.8 1322.5,485.0 1322.6,484.2 1322.7,483.4 1322.8,482.4 1322.9,481.7 1323.0,480.9 1323.1,480.1 1323.2,479.5 1323.3,478.9 1323.5,478.0 1323.6,477.6 1323.7,477.3 1323.8,476.8 1324.1,476.7 1324.4,477.8 1324.8,478.8 1325.1,479.8 1325.4,480.7 1325.7,480.8 1325.7,480.1 1325.8,479.6 1325.9,478.9 1326.0,478.5 1326.0,477.8 1326.1,477.3 1326.1,476.7 1326.2,476.0 1326.2,475.3 1326.3,474.6 1326.4,473.8 1326.4,473.1 1326.4,472.3 1326.5,471.5 1326.5,470.8 1326.6,469.9 1326.6,469.1 1326.7,468.2 1326.7,467.3 1326.7,466.5 1326.8,465.6 1326.8,464.7 1326.9,463.8 1326.9,463.1 1326.9,462.5 1327.0,461.9 1327.0,461.3 1327.0,460.6 1327.0,459.9 1327.1,459.3 1327.1,458.6 1327.1,457.9 1327.1,457.2 1327.2,456.5 1327.2,455.9 1327.2,455.1 1327.2,454.5 1327.3,453.8 1327.3,453.1 1327.3,452.3 1327.3,451.6 1327.4,450.9 1327.4,450.2 1327.4,449.4 1327.4,448.8 1327.4,448.0 1327.5,447.3 1327.5,446.6 1327.5,445.9 1327.5,445.1 1327.6,444.4 1327.6,443.7 1327.6,442.9 1327.6,442.2 1327.7,441.5 1327.7,440.8 1327.7,440.0 1327.7,439.3 1327.7,438.5 1327.8,437.8 1327.8,437.1 1327.8,436.4 1327.8,435.6 1327.8,434.9 1327.9,434.2 1327.9,433.5 1327.9,432.8 1327.9,432.0 1327.9,431.3 1328.0,430.6 1328.0,429.9 1328.0,429.2 1328.0,428.5 1328.0,427.8 1328.1,427.2 1328.1,426.5 1328.1,425.8 1328.1,425.0 1328.1,424.3 1328.2,423.6 1328.2,422.8 1328.2,422.1 1328.2,421.4 1328.2,420.6 1328.2,419.9 1328.2,419.2 1328.3,418.5 1328.3,417.7 1328.3,417.0 1328.3,416.3 1328.3,415.5 1328.3,414.8 1328.3,414.1 1328.3,413.4 1328.4,412.7 1328.4,412.0 1328.4,411.2 1328.4,410.5 1328.4,409.8 1328.4,409.1 1328.4,408.4 1328.4,407.7 1328.5,407.0 1328.5,406.3 1328.5,405.6 1328.5,404.9 1328.5,404.2 1328.5,403.5 1328.5,402.8 1328.5,402.2 1328.6,401.4 1328.6,400.8 1328.6,400.1 1328.6,399.4 1328.6,398.7 1328.6,398.0 1328.6,397.4 1328.7,396.7 1328.7,396.1 1328.7,395.4 1328.7,394.6 1328.8,393.8 1328.8,393.0 1328.8,392.1 1328.8,391.3 1328.9,390.4 1328.9,389.5 1328.9,388.6 1328.9,387.7 1329.0,386.8 1329.0,385.9 1329.0,385.0 1329.1,384.1 1329.1,383.2 1329.1,382.4 1329.2,381.6 1329.2,380.8 1329.2,380.0 1329.3,379.3 1329.3,378.5 1329.3,377.9 1329.4,377.3 1329.4,376.7 1329.4,376.1 1329.5,375.6 1329.5,375.2 1329.5,374.9 1329.6,374.6 1329.6,374.3 1329.6,374.0 1329.7,374.5 1329.7,374.7 1329.7,375.0 1329.8,375.2 1329.8,375.8 1329.8,376.2 1329.9,376.7 1329.9,377.3 1329.9,377.9 1330.0,378.7 1330.0,379.4 1330.0,380.1 1330.1,381.0 1330.1,381.8 1330.1,382.6 1330.2,383.5 1330.2,384.4 1330.3,385.2 1330.3,386.1 1330.3,387.0 1330.4,387.9 1330.4,388.8 1330.4,389.7 1330.5,390.6 1330.5,391.4 1330.5,392.3 1330.6,393.1 1330.6,393.9 1330.6,394.7 1330.7,395.4 1330.7,396.1 1330.7,396.8 1330.8,397.5 1330.8,398.2 1330.8,399.0 1330.9,399.6 1330.9,400.3 1330.9,401.0 1331.0,401.7 1331.0,402.5 1331.0,403.2 1331.1,403.9 1331.1,404.6 1331.1,405.4 1331.2,406.0 1331.2,406.8 1331.2,407.5 1331.3,408.2 1331.3,408.9 1331.3,409.6 1331.4,410.4 1331.4,411.1 1331.4,411.7 1331.5,412.5 1331.5,413.2 1331.5,413.9 1331.6,414.7 1331.6,415.4 1331.6,416.1 1331.7,416.8 1331.7,417.5 1331.7,418.2 1331.8,418.9 1331.8,419.6 1331.8,420.3 1331.9,421.1 1331.9,421.8 1332.0,422.5 1332.0,423.2 1332.0,424.0 1332.1,424.7 1332.1,425.4 1332.1,426.1 1332.2,426.8 1332.2,427.5 1332.2,428.2 1332.3,429.0 1332.3,429.7 1332.4,430.4 1332.4,431.2 1332.4,431.9 1332.5,432.5 1332.5,433.3 1332.5,434.0 1332.6,434.7 1332.6,435.4 1332.7,436.1 1332.7,436.8 1332.7,437.5 1332.8,438.3 1332.8,438.9 1332.9,439.6 1332.9,440.3 1333.0,441.0 1333.0,441.7 1333.1,442.6 1333.1,443.4 1333.2,444.2 1333.2,445.0 1333.3,445.9 1333.3,446.8 1333.4,447.7 1333.5,448.6 1333.5,449.5 1333.6,450.3 1333.6,451.2 1333.7,452.1 1333.7,452.9 1333.8,453.7 1333.9,454.5 1333.9,455.2 1334.0,455.9 1334.0,456.6 1334.1,457.3 1334.2,457.8 1334.2,458.4 1334.3,458.8 1334.3,459.1 1334.4,459.6 1334.4,459.8 1334.5,459.9 1334.5,459.6 1334.6,459.4 1334.6,459.3 1334.7,458.7 1334.7,458.3 1334.8,457.8 1334.8,457.2 1334.8,456.5 1334.9,455.8 1334.9,455.1 1335.0,454.3 1335.0,453.5 1335.1,452.6 1335.1,451.7 1335.1,450.9 1335.2,450.0 1335.2,449.1 1335.3,448.2 1335.3,447.3 1335.4,446.4 1335.4,445.6 1335.5,444.7 1335.5,443.9 1335.5,443.1 1335.6,442.4 1335.6,441.7 1335.7,441.0 1335.8,440.1 1335.9,439.3 1336.0,438.3 1336.1,437.4 1336.2,436.5 1336.3,435.6 1336.4,434.7 1336.5,433.9 1336.6,433.2 1336.7,432.4 1336.8,432.0 1336.9,431.6 1337.0,431.1 1337.1,430.9 1337.1,431.6 1337.2,431.7 1337.3,432.2 1337.4,432.6 1337.4,433.3 1337.5,434.1 1337.6,434.8 1337.6,435.5 1337.7,436.4 1337.8,437.2 1337.8,438.1 1337.9,439.0 1338.0,439.9 1338.0,440.8 1338.1,441.6 1338.2,442.4 1338.2,443.3 1338.3,444.0 1338.3,444.8 1338.4,445.5 1338.4,446.3 1338.5,446.9 1338.5,447.7 1338.5,448.5 1338.6,449.3 1338.6,450.1 1338.6,450.8 1338.7,451.6 1338.7,452.4 1338.8,453.1 1338.8,453.9 1338.9,454.6 1338.9,455.3 1339.0,456.1 1339.0,456.8 1339.1,457.4 1339.2,458.0 1339.2,458.6 1339.3,459.1 1340.3,460.0 1341.3,459.1 1341.4,458.5 1341.5,458.0 1341.6,457.4 1341.7,456.7 1341.7,456.1 1341.8,455.5 1341.9,454.7 1341.9,454.1 1342.0,453.4 1342.0,452.6 1342.1,451.8 1342.1,451.1 1342.2,450.4 1342.2,449.6 1342.3,448.9 1342.3,448.1 1342.4,447.4 1342.4,446.6 1342.5,445.9 1342.5,445.2 1342.6,444.4 1342.6,443.8 1342.7,443.0 1342.7,442.4 1342.8,441.7 1342.8,441.0 1342.9,440.1 1343.0,439.4 1343.1,438.4 1343.1,437.6 1343.2,436.7 1343.3,435.8 1343.4,435.0 1343.4,434.1 1343.5,433.4 1343.6,432.6 1343.7,431.9 1343.7,431.3 1343.8,430.7 1343.9,430.1 1344.0,429.8 1344.1,429.7 1344.2,429.9 1344.3,430.1 1344.4,430.2 1344.5,431.0 1344.6,431.6 1344.8,432.4 1344.9,433.3 1345.0,434.1 1345.1,435.0 1345.2,436.0 1345.3,437.0 1345.4,438.0 1345.5,438.6 1345.5,439.2 1345.5,439.9 1345.6,440.6 1345.6,441.3 1345.7,441.9 1345.7,442.6 1345.7,443.3 1345.8,444.1 1345.8,444.7 1345.8,445.5 1345.9,446.2 1345.9,447.0 1345.9,447.7 1346.0,448.5 1346.0,449.2 1346.0,450.0 1346.1,450.7 1346.1,451.5 1346.1,452.2 1346.2,453.0 1346.2,453.7 1346.2,454.5 1346.3,455.2 1346.3,456.0 1346.3,456.7 1346.3,457.5 1346.4,458.2 1346.4,458.9 1346.4,459.7 1346.5,460.4 1346.5,461.1 1346.5,461.8 1346.6,462.4 1346.6,463.1 1346.6,463.8 1346.7,464.7 1346.7,465.5 1346.8,466.4 1346.8,467.3 1346.9,468.2 1346.9,469.1 1347.0,470.0 1347.0,471.0 1347.1,471.9 1347.1,472.8 1347.2,473.6 1347.2,474.4 1347.3,475.2 1347.3,476.0 1347.4,476.7 1347.4,477.4 1347.4,478.0 1347.5,478.6 1347.5,478.8 1347.6,479.3 1347.6,479.7 1347.7,479.5 1347.8,479.6 1347.8,479.1 1347.9,478.9 1347.9,478.5 1348.0,477.9 1348.0,477.2 1348.1,476.4 1348.1,475.7 1348.2,475.0 1348.2,474.1 1348.3,473.2 1348.4,472.4 1348.4,471.4 1348.5,470.5 1348.5,469.6 1348.6,468.7 1348.6,467.8 1348.7,466.9 1348.7,466.1 1348.8,465.3 1348.9,464.5 1348.9,463.8 1349.0,463.0 1349.1,462.1 1349.1,461.2 1349.2,460.3 1349.3,459.3 1349.3,458.3 1349.4,457.4 1349.5,456.5 1349.6,455.7 1349.6,455.0 1349.7,454.4 1349.8,453.8 1349.8,453.7 1349.9,453.5 1350.0,453.4 1350.0,453.5 1350.1,453.7 1350.1,454.2 1350.2,454.8 1350.2,455.4 1350.3,455.8 1350.3,456.5 1350.4,457.1 1350.4,457.8 1350.5,458.5 1350.5,459.2 1350.6,460.0 1350.6,460.8 1350.7,461.6 1350.7,462.5 1350.8,463.3 1350.8,464.1 1350.8,464.9 1350.9,465.8 1350.9,466.7 1351.0,467.5 1351.0,468.3 1351.1,469.1 1351.1,469.9 1351.2,470.7 1351.2,471.4 1351.2,472.1 1351.3,472.8 1351.3,473.5 1351.3,474.3 1351.4,475.0 1351.4,475.8 1351.4,476.5 1351.5,477.3 1351.5,478.1 1351.5,478.9 1351.5,479.7 1351.6,480.5 1351.6,481.3 1351.6,482.0 1351.7,482.8 1351.7,483.6 1351.7,484.3 1351.7,485.1 1351.8,485.8 1351.8,486.5 1351.8,487.3 1351.9,488.0 1351.9,488.6 1352.0,489.3 1352.0,489.9 1352.0,490.5 1352.1,491.1 1352.1,491.7 1352.2,492.1 1352.3,492.6 1352.6,493.0 1353.1,492.4 1353.5,491.1 1353.9,489.7 1354.1,488.9 1354.2,488.5 1354.3,487.7 1354.4,487.0 1354.5,486.3 1354.6,485.8 1354.7,484.9 1354.8,484.2 1354.9,483.5 1355.0,482.7 1355.1,482.0 1355.2,481.2 1355.2,480.6 1355.3,479.7 1355.4,479.0 1355.5,478.2 1355.6,477.4 1355.7,476.7 1355.8,475.9 1355.8,475.2 1355.9,474.6 1356.0,473.8 1356.0,473.1 1356.1,472.3 1356.2,471.5 1356.3,470.9 1356.3,470.1 1356.4,469.3 1356.4,468.6 1356.5,467.8 1356.6,467.0 1356.6,466.3 1356.7,465.6 1356.8,464.8 1356.8,464.1 1356.9,463.4 1357.0,462.6 1357.0,461.9 1357.1,461.2 1357.1,460.6 1357.2,459.9 1357.3,459.3 1357.4,458.2 1357.5,457.1 1357.6,456.0 1357.7,455.0 1357.9,454.2 1358.0,453.5 1358.1,453.2 1358.2,453.3 1358.3,453.5 1358.3,454.1 1358.4,454.6 1358.5,455.0 1358.5,455.6 1358.6,456.4 1358.7,456.9 1358.7,457.6 1358.8,458.4 1358.9,459.1 1358.9,459.9 1359.0,460.7 1359.1,461.6 1359.1,462.4 1359.2,463.3 1359.3,464.2 1359.3,465.0 1359.4,465.8 1359.4,466.7 1359.5,467.5 1359.6,468.4 1359.6,469.0 1359.6,469.7 1359.7,470.4 1359.7,471.0 1359.7,471.8 1359.8,472.4 1359.8,473.2 1359.8,473.9 1359.9,474.6 1359.9,475.3 1359.9,476.0 1359.9,476.7 1360.0,477.5 1360.0,478.2 1360.0,479.0 1360.1,479.7 1360.1,480.4 1360.1,481.2 1360.1,481.9 1360.2,482.7 1360.2,483.4 1360.2,484.1 1360.2,484.9 1360.3,485.6 1360.3,486.4 1360.3,487.1 1360.3,487.8 1360.4,488.5 1360.4,489.3 1360.4,490.0 1360.5,490.7 1360.5,491.4 1360.5,492.2 1360.6,492.8 1360.6,493.5 1360.6,494.2 1360.7,495.0 1360.7,495.7 1360.7,496.5 1360.8,497.2 1360.8,498.0 1360.9,498.7 1360.9,499.4 1360.9,500.1 1361.0,500.9 1361.0,501.6 1361.1,502.3 1361.1,503.1 1361.1,503.8 1361.2,504.5 1361.2,505.2 1361.3,505.9 1361.3,506.5 1361.4,507.3 1361.4,508.0 1361.5,508.7 1361.5,509.4 1361.5,510.1 1361.6,510.7 1361.6,511.4 1361.7,512.1 1361.7,512.7 1361.8,513.3 1361.8,514.0 1361.9,514.9 1362.0,515.8 1362.1,516.6 1362.2,517.5 1362.3,518.3 1362.4,519.2 1362.5,520.0 1362.5,520.8 1362.6,521.4 1362.7,521.9 1362.9,522.5 1363.0,522.6 1363.1,523.0 1363.2,522.9 1363.3,522.5 1363.5,522.0 1363.6,521.4 1363.7,520.7 1363.9,519.8 1364.0,519.0 1364.2,518.1 1364.3,517.2 1364.4,516.3 1364.6,515.4 1364.7,514.8 1364.8,514.1 1364.9,513.4 1365.0,512.7 1365.1,512.0 1365.2,511.3 1365.3,510.4 1365.4,509.7 1365.5,508.9 1365.6,508.3 1365.7,507.4 1365.8,506.8 1365.9,506.0 1366.0,505.4 1366.2,504.7 1366.3,504.0 1366.4,503.2 1366.6,502.4 1366.9,501.5 1367.1,500.9 1367.4,500.1 1367.7,499.5 1367.9,498.9 1368.2,498.8 1368.5,498.7 1368.8,499.6 1369.1,500.3 1369.4,501.0 1369.7,501.9 1370.0,502.6 1370.2,503.4 1370.4,504.2 1370.6,504.9 1370.8,505.3 1371.0,506.1 1371.1,507.0 1371.3,507.9 1371.3,508.5 1371.4,509.2 1371.5,509.9 1371.5,510.6 1371.6,511.2 1371.7,512.0 1371.7,512.8 1371.8,513.5 1371.8,514.3 1371.9,515.1 1371.9,515.8 1372.0,516.5 1372.1,517.3 1372.1,518.1 1372.2,518.8 1372.3,519.5 1372.3,520.3 1372.4,520.9 1372.5,521.5 1372.6,522.3 1372.7,523.1 1372.9,523.8 1373.0,524.3 1373.2,524.9 1373.3,525.6 1373.5,526.3 1373.6,527.1 1373.7,527.7 1373.9,528.3 1374.0,529.2 1374.1,530.0 1374.1,530.5 1374.2,531.3 1374.3,532.0 1374.3,532.6 1374.4,533.5 1374.4,534.2 1374.5,534.9 1374.5,535.7 1374.6,536.5 1374.6,537.2 1374.7,538.0 1374.7,538.7 1374.8,539.4 1374.9,540.2 1375.0,540.9 1375.0,541.5 1375.1,542.2 1375.2,542.9 1375.5,544.0 1375.8,544.6 1376.2,545.5 1376.6,546.1 1377.0,546.6 1377.3,547.1 1377.8,546.9 1378.3,546.1 1378.8,545.3 1379.3,544.2 1379.7,543.5 1380.2,543.5 1380.6,542.7 1381.0,542.0 1381.3,541.2 1381.4,540.7 1381.5,540.1 1381.6,539.4 1381.7,538.9 1381.8,538.2 1381.9,537.5 1381.9,536.8 1382.0,536.2 1382.1,535.5 1382.2,534.8 1382.3,534.1 1382.3,533.5 1382.4,532.7 1382.5,532.0 1382.5,531.3 1382.6,530.5 1382.7,529.8 1382.7,529.0 1382.8,528.3 1382.9,527.6 1382.9,526.9 1383.0,526.1 1383.1,525.4 1383.1,524.6 1383.2,523.9 1383.2,523.3 1383.3,522.6 1383.3,521.9 1383.3,521.2 1383.4,520.5 1383.4,519.8 1383.5,519.1 1383.5,518.5 1383.6,517.7 1383.6,517.0 1383.6,516.3 1383.7,515.6 1383.7,514.9 1383.7,514.2 1383.8,513.5 1383.8,512.7 1383.9,512.1 1383.9,511.3 1383.9,510.6 1384.0,509.9 1384.0,509.1 1384.0,508.4 1384.1,507.7 1384.1,506.9 1384.1,506.2 1384.2,505.5 1384.2,504.8 1384.2,504.0 1384.3,503.3 1384.3,502.6 1384.3,501.8 1384.4,501.1 1384.4,500.4 1384.4,499.8 1384.5,499.1 1384.5,498.4 1384.5,497.7 1384.5,497.0 1384.6,496.3 1384.6,495.6 1384.6,494.9 1384.7,494.2 1384.7,493.6 1384.7,492.8 1384.7,492.1 1384.8,491.4 1384.8,490.7 1384.8,490.0 1384.8,489.3 1384.9,488.6 1384.9,487.9 1384.9,487.2 1384.9,486.5 1385.0,485.7 1385.0,485.0 1385.0,484.3 1385.1,483.6 1385.1,482.9 1385.1,482.2 1385.1,481.5 1385.2,480.8 1385.2,480.1 1385.2,479.4 1385.2,478.7 1385.3,477.9 1385.3,477.3 1385.3,476.5 1385.3,475.9 1385.4,475.1 1385.4,474.4" fill="none" stroke="#0a0a0a" stroke-width="1.65" stroke-linejoin="round" stroke-linecap="round"/>
<line x1="1214.2" y1="29.2" x2="1268" y2="29.2" stroke="#111" stroke-width="1.8"/>
<text transform="translate(748.7,485) rotate(-90)" font-size="22" font-weight="bold" word-spacing="2.1" stroke="#111" stroke-width="0.4" textLength="352.30" lengthAdjust="spacingAndGlyphs">Raman Intesity/Arbitr. Units</text>
<line x1="1108.30" y1="342.40" x2="1135.47" y2="379.25" stroke="#111" stroke-width="1.1"/><polygon points="1141.70,387.70 1131.95,379.36 1136.62,375.92" fill="#111"/></g>
<g><path d="M75.0,1162.0 75.3,1161.5 75.7,1160.7 76.0,1160.0 76.4,1159.1 76.7,1158.6 77.1,1157.6 77.4,1156.8 77.8,1156.2 78.2,1155.9 78.6,1155.4 79.0,1154.7 79.3,1154.1 79.7,1153.4 79.9,1152.8 80.1,1152.1 80.3,1151.4 80.4,1150.5 80.6,1150.0 80.8,1149.3 80.9,1148.4 81.1,1147.9 81.3,1146.9 81.7,1146.3 82.2,1145.7 82.6,1145.0 83.1,1144.3 83.5,1143.8 83.7,1142.8 83.9,1142.2 84.1,1141.3 84.3,1140.9 84.5,1140.0 84.7,1139.4 84.9,1138.6 85.1,1137.7 85.4,1137.2 85.6,1136.7 85.9,1135.7 86.2,1134.9 86.5,1134.3 86.8,1133.3 87.1,1132.6 87.4,1131.9 87.8,1131.2 88.1,1130.6 88.4,1130.1 88.8,1129.8 89.2,1128.8 89.6,1128.1 90.1,1127.6 90.5,1127.1 90.9,1126.6 91.3,1125.6 91.6,1124.8 91.9,1124.4 92.2,1124.0 92.5,1123.3 92.8,1122.6 93.1,1122.1 93.4,1121.3 93.8,1121.1 94.1,1120.1 94.5,1119.6 95.0,1118.8 95.5,1118.0 96.0,1117.7 96.5,1116.9 97.0,1116.7 97.4,1115.8 97.9,1115.8 98.4,1115.1 98.9,1114.9 99.5,1116.0 100.0,1116.1 100.5,1116.8 101.3,1117.6 102.1,1117.6 102.9,1117.9 103.4,1118.5 103.8,1119.2 104.3,1120.3 104.8,1120.9 105.7,1121.2 106.6,1121.2 107.0,1121.8 107.4,1122.9 107.8,1123.7 108.3,1124.3 109.0,1124.4 109.7,1124.4 110.5,1124.7 111.1,1124.0 111.5,1123.8 111.8,1122.9 112.1,1122.1 112.4,1121.1 112.7,1120.6 113.0,1120.0 113.3,1119.6 113.5,1119.2 113.8,1120.1 114.0,1121.3 114.2,1121.8 114.5,1122.7 114.7,1123.7 114.8,1124.2 115.0,1125.1 115.1,1125.7 115.2,1126.3 115.3,1127.0 115.4,1127.7 115.6,1128.7 115.7,1129.3 115.8,1130.1 116.0,1130.7 116.1,1131.5 116.3,1132.3 116.4,1133.0 116.6,1133.6 116.7,1134.3 116.9,1135.0 117.1,1135.6 117.2,1136.6 117.4,1137.1 117.6,1137.7 117.7,1138.6 117.9,1139.3 118.1,1139.9 118.2,1140.7 118.4,1141.4 118.6,1142.1 118.8,1142.8 119.0,1143.7 119.2,1144.3 119.4,1145.0 119.6,1145.7 119.8,1146.2 120.0,1147.0 120.2,1147.9 120.3,1148.5 120.6,1149.3 120.8,1149.8 121.0,1150.8 121.2,1151.5 121.4,1152.1 121.6,1152.9 121.8,1153.8 122.0,1154.2 122.3,1154.9 122.5,1155.6 122.8,1156.3 123.2,1156.9 123.5,1157.8 123.9,1158.6 124.3,1159.2 124.6,1159.8 125.0,1160.4 125.3,1161.2 125.6,1162.0 126.0,1163.0 126.3,1163.4 126.7,1164.0 127.6,1164.3 128.5,1164.4 129.3,1164.9 129.7,1165.4 130.0,1166.0 130.4,1167.0 130.7,1167.5 131.0,1168.3 131.4,1169.2 131.7,1169.6 132.2,1170.6 132.6,1170.8 133.1,1171.6 133.6,1172.5 134.4,1171.3 135.2,1171.1 135.7,1171.4 136.1,1172.0 136.5,1172.8 136.9,1173.3 137.4,1174.2 137.9,1174.5 138.4,1175.2 139.0,1175.8 139.5,1176.2 140.0,1176.1 140.6,1174.8 141.1,1174.5 141.6,1173.8 142.2,1174.2 142.7,1174.9 143.2,1175.5 143.8,1176.3 144.3,1176.4 144.8,1177.4 145.3,1177.4 145.9,1177.8 146.6,1177.5 147.3,1177.1 148.0,1176.5 148.7,1176.8 149.3,1177.4 150.0,1177.7 150.6,1177.5 150.9,1177.9 151.3,1176.6 151.6,1176.3 151.9,1175.4 152.2,1174.5 152.6,1174.1 153.3,1173.6 154.2,1173.5 155.1,1173.7 155.7,1173.1 156.3,1172.7 156.8,1171.8 157.4,1171.7 157.9,1170.7 158.4,1170.7 158.9,1170.2 159.4,1169.4 159.9,1168.9 160.4,1168.3 160.8,1167.4 161.0,1166.9 161.2,1166.6 161.4,1165.6 161.6,1165.1 161.8,1164.2 162.0,1163.3 162.2,1162.8 162.4,1162.1 162.6,1161.4 162.7,1160.5 162.9,1159.8 163.1,1159.2 163.2,1158.3 163.4,1157.7 163.6,1157.1 163.7,1156.6 163.9,1155.9 164.0,1155.1 164.2,1154.4 164.3,1153.6 164.5,1152.9 164.6,1152.2 164.8,1151.3 164.8,1150.6 164.9,1150.0 165.0,1149.3 165.0,1148.7 165.1,1148.0 165.2,1147.3 165.2,1146.6 165.3,1145.9 165.3,1145.2 165.4,1144.4 165.5,1143.8 165.5,1143.1 165.6,1142.3 165.6,1141.6 165.7,1140.9 165.7,1140.1 165.8,1139.4 165.8,1138.7 165.9,1137.9 165.9,1137.3 166.0,1136.5 166.1,1135.8 166.1,1135.0 166.2,1134.3 166.2,1133.6 166.3,1133.0 166.3,1132.2 166.4,1131.5 166.4,1130.9 166.5,1130.1 166.5,1129.4 166.6,1128.7 166.6,1128.0 166.7,1127.3 166.7,1126.6 166.8,1125.9 166.8,1125.2 166.9,1124.5 166.9,1123.8 167.0,1123.1 167.0,1122.3 167.1,1121.7 167.1,1120.9 167.2,1120.2 167.2,1119.5 167.3,1118.7 167.3,1118.1 167.4,1117.3 167.4,1116.6 167.5,1115.9 167.5,1115.1 167.6,1114.4 167.6,1113.7 167.7,1113.0 167.7,1112.4 167.8,1111.7 167.8,1111.0 167.9,1110.2 167.9,1109.5 168.0,1108.8 168.0,1108.1 168.1,1107.5 168.1,1106.8 168.1,1106.1 168.2,1105.4 168.2,1104.7 168.3,1104.0 168.3,1103.3 168.4,1102.5 168.4,1101.9 168.5,1101.1 168.5,1100.4 168.6,1099.7 168.6,1099.0 168.6,1098.3 168.7,1097.6 168.7,1096.8 168.8,1096.1 168.8,1095.4 168.9,1094.7 168.9,1094.0 168.9,1093.2 169.0,1092.5 169.0,1091.7 169.0,1091.0 169.1,1090.4 169.1,1089.7 169.1,1089.0 169.2,1088.3 169.2,1087.6 169.2,1086.9 169.2,1086.2 169.3,1085.5 169.3,1084.8 169.3,1084.1 169.3,1083.4 169.4,1082.7 169.4,1082.0 169.4,1081.2 169.4,1080.6 169.5,1079.8 169.5,1079.1 169.5,1078.4 169.5,1077.7 169.6,1077.0 169.6,1076.2 169.6,1075.5 169.6,1074.8 169.6,1074.1 169.7,1073.4 169.7,1072.7 169.7,1072.0 169.7,1071.2 169.8,1070.5 169.8,1069.8 169.8,1069.1 169.8,1068.3 169.9,1067.6 169.9,1066.9 169.9,1066.2 169.9,1065.5 170.0,1064.8 170.0,1064.1 170.0,1063.4 170.0,1062.7 170.0,1062.0 170.1,1061.3 170.1,1060.5 170.1,1059.9 170.1,1059.2 170.2,1058.5 170.2,1057.8 170.2,1057.1 170.2,1056.4 170.3,1055.7 170.3,1055.0 170.3,1054.3 170.3,1053.6 170.3,1052.9 170.4,1052.3 170.4,1051.6 170.4,1050.9 170.4,1050.2 170.5,1049.5 170.5,1048.8 170.5,1048.1 170.5,1047.4 170.5,1046.7 170.6,1046.0 170.6,1045.3 170.6,1044.6 170.6,1043.8 170.7,1043.1 170.7,1042.4 170.7,1041.7 170.8,1041.0 170.8,1040.2 170.8,1039.5 170.8,1038.8 170.9,1038.0 170.9,1037.3 170.9,1036.5 171.0,1035.8 171.0,1035.0 171.0,1034.3 171.1,1033.7 171.1,1033.0 171.1,1032.3 171.2,1031.7 171.2,1031.0 171.2,1030.3 171.3,1029.7 171.3,1028.9 171.3,1028.3 171.4,1027.6 171.4,1026.9 171.4,1026.3 171.5,1025.6 171.5,1024.8 171.5,1024.2 171.6,1023.5 171.6,1022.8 171.6,1022.2 171.7,1021.4 171.7,1020.7 171.8,1020.0 171.8,1019.4 171.8,1018.6 171.9,1017.9 171.9,1017.3 172.0,1016.6 172.0,1015.8 172.0,1015.1 172.1,1014.4 172.1,1013.7 172.1,1013.0 172.2,1012.3 172.2,1011.6 172.3,1010.9 172.3,1010.2 172.3,1009.5 172.4,1008.8 172.4,1008.1 172.5,1007.3 172.5,1006.6 172.5,1005.9 172.6,1005.2 172.6,1004.5 172.6,1003.7 172.7,1003.1 172.7,1002.3 172.8,1001.6 172.8,1000.9 172.8,1000.2 172.9,999.4 172.9,998.7 173.0,998.0 173.0,997.3 173.0,996.5 173.1,995.8 173.1,995.1 173.2,994.4 173.2,993.6 173.2,992.9 173.3,992.3 173.3,991.5 173.3,990.8 173.4,990.2 173.4,989.5 173.4,988.8 173.5,988.1 173.5,987.4 173.5,986.7 173.6,986.0 173.6,985.3 173.6,984.6 173.7,983.9 173.7,983.2 173.7,982.4 173.8,981.7 173.8,981.0 173.8,980.3 173.9,979.6 173.9,978.9 173.9,978.1 174.0,977.4 174.0,976.7 174.0,976.0 174.1,975.3 174.1,974.5 174.1,973.9 174.2,973.1 174.2,972.4 174.2,971.7 174.3,970.9 174.3,970.2 174.3,969.5 174.4,968.7 174.4,968.1 174.4,967.3 174.5,966.6 174.5,965.9 174.5,965.2 174.6,964.5 174.6,963.8 174.6,963.1 174.7,962.3 174.7,961.6 174.7,960.8 174.8,960.2 174.8,959.4 174.8,958.7 174.9,958.0 174.9,957.3 175.0,956.6 175.0,955.9 175.0,955.2 175.1,954.5 175.1,953.8 175.1,953.2 175.2,952.4 175.2,951.7 175.2,951.0 175.3,950.3 175.3,949.7 175.4,949.0 175.4,948.3 175.4,947.6 175.5,946.9 175.5,946.2 175.6,945.6 175.6,944.9 175.6,944.3 175.7,943.6 175.7,942.9 175.8,942.2 175.8,941.4 175.9,940.7 176.0,939.9 176.0,939.1 176.1,938.5 176.2,937.8 176.3,937.1 176.3,936.3 176.4,935.7 176.5,935.0 176.5,934.3 176.6,933.7 176.7,933.1 176.8,932.4 176.9,931.7 176.9,931.2 177.0,930.5 177.1,929.8 177.2,929.3 177.2,928.4 177.3,927.8 177.4,927.2 177.5,926.6 177.5,926.0 177.6,925.2 177.7,924.6 177.8,923.9 177.8,923.2 177.9,922.5 178.0,921.8 178.1,921.1 178.1,920.4 178.2,919.6 178.3,919.0 178.3,918.2 178.4,917.5 178.5,916.7 178.5,915.9 178.6,915.1 178.6,914.3 178.7,913.4 178.8,912.5 178.8,911.9 178.8,911.3 178.8,910.7 178.9,910.0 178.9,909.4 178.9,908.7 178.9,908.1 179.0,907.4 179.0,906.8 179.0,906.1 179.0,905.4 179.1,904.8 179.1,904.1 179.1,903.4 179.1,902.8 179.2,902.1 179.2,901.5 179.2,900.8 179.2,900.1 179.3,899.4 179.3,898.7 179.3,898.1 179.3,897.4 179.3,896.7 179.4,896.0 179.4,895.3 179.4,894.6 179.4,893.9 179.4,893.2 179.5,892.6 179.5,891.9 179.5,891.2 179.5,890.5 179.6,889.8 179.6,889.1 179.6,888.4 179.6,887.7 179.6,887.0 179.7,886.3 179.7,885.6 179.7,884.9 179.7,884.1 179.7,883.4 179.7,882.7 179.8,882.0 179.8,881.3 179.8,880.6 179.8,879.9 179.8,879.1 179.9,878.5 179.9,877.7 179.9,877.0 179.9,876.3 179.9,875.6 180.0,874.8 180.0,874.1 180.0,873.4 180.0,872.7 180.0,872.0 180.0,871.2 180.1,870.5 180.1,869.8 180.1,869.0 180.1,868.4 180.1,867.6 180.1,866.9 180.2,866.2 180.2,865.4 180.2,864.7 180.2,864.0 180.2,863.3 180.3,862.5 180.3,861.8 180.3,861.1 180.3,860.4 180.3,859.6 180.3,858.9 180.4,858.2 180.4,857.5 180.4,856.8 180.4,856.0 180.4,855.3 180.5,854.6 180.5,853.8 180.5,853.1 180.5,852.4 180.5,851.7 180.5,851.0 180.6,850.2 180.6,849.5 180.6,848.8 180.6,848.1 180.6,847.4 180.7,846.7 180.7,845.9 180.7,845.2 180.7,844.5 180.7,843.8 180.8,843.1 180.8,842.3 180.8,841.6 180.8,841.0 180.8,840.3 180.8,839.5 180.9,838.9 180.9,838.2 180.9,837.4 180.9,836.8 180.9,836.1 181.0,835.3 181.0,834.6 181.0,833.9 181.0,833.2 181.0,832.5 181.1,831.8 181.1,831.1 181.1,830.4 181.1,829.7 181.1,829.0 181.1,828.2 181.2,827.5 181.2,826.8 181.2,826.1 181.2,825.4 181.2,824.7 181.3,823.9 181.3,823.2 181.3,822.5 181.3,821.8 181.3,821.1 181.4,820.3 181.4,819.6 181.4,818.9 181.4,818.2 181.4,817.4 181.4,816.7 181.5,816.0 181.5,815.3 181.5,814.6 181.5,813.8 181.5,813.1 181.6,812.4 181.6,811.7 181.6,810.9 181.6,810.3 181.6,809.5 181.6,808.8 181.7,808.1 181.7,807.3 181.7,806.6 181.7,805.9 181.7,805.1 181.8,804.5 181.8,803.7 181.8,803.0 181.8,802.3 181.8,801.6 181.8,800.9 181.9,800.1 181.9,799.4 181.9,798.7 181.9,798.0 181.9,797.2 182.0,796.5 182.0,795.8 182.0,795.1 182.0,794.4 182.0,793.7 182.1,793.0 182.1,792.3 182.1,791.6 182.1,790.9 182.1,790.1 182.1,789.4 182.2,788.8 182.2,788.1 182.2,787.4 182.2,786.6 182.2,785.9 182.3,785.2 182.3,784.5 182.3,783.9 182.3,783.2 182.3,782.5 182.4,781.7 182.4,781.1 182.4,780.4 182.4,779.7 182.4,779.0 182.4,778.4 182.5,777.7 182.5,777.0 182.5,776.3 182.5,775.6 182.5,775.0 182.6,774.2 182.6,773.6 182.6,772.9 182.6,772.2 182.6,771.6 182.7,770.9 182.7,770.2 182.7,769.6 182.7,769.0 182.7,768.3 182.8,767.6 182.8,767.0 182.8,766.3 182.8,765.7 182.8,764.8 182.9,764.0 182.9,763.2 182.9,762.3 183.0,761.5 183.0,760.6 183.0,759.7 183.1,758.9 183.1,758.0 183.1,757.1 183.1,756.2 183.2,755.3 183.2,754.4 183.2,753.6 183.3,752.7 183.3,751.8 183.3,750.9 183.4,750.0 183.4,749.1 183.4,748.3 183.5,747.4 183.5,746.5 183.5,745.7 183.5,744.8 183.6,743.9 183.6,743.1 183.6,742.3 183.7,741.5 183.7,740.7 183.7,739.9 183.8,739.1 183.8,738.3 183.8,737.6 183.9,736.8 183.9,736.1 183.9,735.4 184.0,734.7 184.0,734.0 184.0,733.3 184.1,732.7 184.1,732.1 184.1,731.5 184.1,730.8 184.2,730.3 184.2,729.7 184.2,729.2 184.3,728.6 184.3,728.2 184.3,727.7 184.4,727.3 184.4,726.9 184.4,726.6 184.5,726.2 184.5,725.9 184.5,725.8 184.6,725.3 184.6,725.0 184.6,725.5 184.7,725.5 184.7,726.0 184.7,726.2 184.7,726.7 184.8,726.9 184.8,727.3 184.8,727.8 184.9,728.2 184.9,728.7 184.9,729.2 185.0,729.7 185.0,730.3 185.0,730.8 185.1,731.5 185.1,732.0 185.1,732.7 185.2,733.3 185.2,734.0 185.2,734.7 185.3,735.4 185.3,736.1 185.3,736.9 185.3,737.6 185.4,738.4 185.4,739.1 185.4,739.9 185.5,740.7 185.5,741.5 185.5,742.3 185.6,743.1 185.6,744.0 185.6,744.8 185.7,745.7 185.7,746.5 185.7,747.4 185.8,748.3 185.8,749.2 185.8,750.0 185.8,750.9 185.9,751.8 185.9,752.7 185.9,753.6 186.0,754.4 186.0,755.4 186.0,756.2 186.1,757.1 186.1,758.0 186.1,758.9 186.2,759.8 186.2,760.6 186.2,761.5 186.2,762.3 186.3,763.2 186.3,764.0 186.3,764.8 186.4,765.7 186.4,766.3 186.4,767.0 186.4,767.6 186.4,768.3 186.5,768.9 186.5,769.6 186.5,770.3 186.5,770.9 186.5,771.5 186.6,772.3 186.6,772.9 186.6,773.6 186.6,774.2 186.6,774.9 186.7,775.6 186.7,776.2 186.7,777.0 186.7,777.6 186.7,778.3 186.8,779.0 186.8,779.6 186.8,780.4 186.8,781.0 186.8,781.7 186.8,782.4 186.9,783.1 186.9,783.8 186.9,784.5 186.9,785.2 186.9,785.9 187.0,786.6 187.0,787.3 187.0,788.0 187.0,788.7 187.0,789.4 187.1,790.1 187.1,790.8 187.1,791.5 187.1,792.2 187.1,792.9 187.2,793.7 187.2,794.3 187.2,795.1 187.2,795.7 187.2,796.5 187.3,797.2 187.3,797.9 187.3,798.6 187.3,799.3 187.3,800.1 187.3,800.7 187.4,801.5 187.4,802.2 187.4,802.9 187.4,803.6 187.4,804.4 187.5,805.1 187.5,805.8 187.5,806.5 187.5,807.2 187.5,807.9 187.6,808.7 187.6,809.4 187.6,810.1 187.6,810.8 187.6,811.5 187.6,812.3 187.7,813.0 187.7,813.7 187.7,814.4 187.7,815.1 187.7,815.9 187.8,816.6 187.8,817.3 187.8,818.1 187.8,818.8 187.8,819.5 187.8,820.2 187.9,820.9 187.9,821.6 187.9,822.4 187.9,823.1 187.9,823.8 188.0,824.5 188.0,825.3 188.0,826.0 188.0,826.7 188.0,827.4 188.0,828.1 188.1,828.9 188.1,829.6 188.1,830.3 188.1,831.0 188.1,831.7 188.2,832.4 188.2,833.1 188.2,833.9 188.2,834.6 188.2,835.3 188.2,836.0 188.3,836.7 188.3,837.4 188.3,838.1 188.3,838.8 188.3,839.6 188.4,840.3 188.4,840.9 188.4,841.7 188.4,842.4 188.4,843.0 188.4,843.8 188.5,844.5 188.5,845.2 188.5,845.9 188.5,846.6 188.5,847.3 188.5,848.0 188.6,848.7 188.6,849.4 188.6,850.1 188.6,850.8 188.6,851.5 188.6,852.2 188.7,852.9 188.7,853.6 188.7,854.4 188.7,855.1 188.7,855.8 188.7,856.5 188.8,857.2 188.8,857.9 188.8,858.6 188.8,859.3 188.8,860.0 188.8,860.7 188.9,861.5 188.9,862.2 188.9,862.9 188.9,863.6 188.9,864.3 188.9,865.0 189.0,865.7 189.0,866.4 189.0,867.1 189.0,867.8 189.0,868.6 189.0,869.3 189.0,870.0 189.1,870.7 189.1,871.4 189.1,872.1 189.1,872.8 189.1,873.5 189.1,874.2 189.2,875.0 189.2,875.7 189.2,876.4 189.2,877.1 189.2,877.8 189.2,878.5 189.3,879.2 189.3,879.9 189.3,880.6 189.3,881.3 189.3,882.0 189.3,882.7 189.3,883.4 189.4,884.2 189.4,884.9 189.4,885.6 189.4,886.3 189.4,887.0 189.4,887.7 189.5,888.4 189.5,889.1 189.5,889.8 189.5,890.5 189.5,891.2 189.5,891.9 189.6,892.6 189.6,893.3 189.6,894.0 189.6,894.7 189.6,895.5 189.6,896.1 189.7,896.9 189.7,897.6 189.7,898.2 189.7,898.9 189.7,899.7 189.7,900.4 189.7,901.1 189.8,901.7 189.8,902.4 189.8,903.1 189.8,903.8 189.8,904.5 189.8,905.2 189.9,905.9 189.9,906.6 189.9,907.3 189.9,908.0 189.9,908.7 190.0,909.4 190.0,910.1 190.0,910.8 190.0,911.4 190.0,912.2 190.0,912.8 190.1,913.5 190.1,914.2 190.1,914.9 190.1,915.6 190.1,916.3 190.1,916.9 190.2,917.6 190.2,918.3 190.2,919.1 190.2,919.8 190.2,920.5 190.3,921.3 190.3,922.0 190.3,922.7 190.3,923.4 190.4,924.2 190.4,924.9 190.4,925.6 190.4,926.3 190.4,927.0 190.5,927.8 190.5,928.5 190.5,929.2 190.5,929.9 190.6,930.6 190.6,931.3 190.6,932.0 190.6,932.8 190.7,933.5 190.7,934.2 190.7,934.9 190.7,935.6 190.7,936.3 190.8,937.1 190.8,937.7 190.8,938.5 190.8,939.2 190.9,939.9 190.9,940.6 190.9,941.3 190.9,942.0 191.0,942.7 191.0,943.4 191.0,944.2 191.0,944.8 191.1,945.6 191.1,946.3 191.1,947.0 191.1,947.7 191.2,948.4 191.2,949.1 191.2,949.8 191.2,950.5 191.2,951.2 191.3,951.9 191.3,952.6 191.3,953.3 191.3,954.0 191.4,954.7 191.4,955.4 191.4,956.1 191.4,956.8 191.5,957.5 191.5,958.1 191.5,958.9 191.5,959.5 191.6,960.2 191.6,960.9 191.6,961.6 191.6,962.3 191.6,963.0 191.7,963.7 191.7,964.4 191.7,965.1 191.7,965.8 191.8,966.5 191.8,967.2 191.8,967.9 191.8,968.6 191.8,969.3 191.9,970.0 191.9,970.7 191.9,971.3 191.9,972.0 192.0,972.7 192.0,973.4 192.0,974.1 192.0,974.8 192.0,975.5 192.1,976.2 192.1,976.8 192.1,977.5 192.1,978.2 192.1,978.9 192.2,979.6 192.2,980.3 192.2,980.9 192.2,981.7 192.2,982.4 192.2,983.1 192.3,983.9 192.3,984.6 192.3,985.3 192.3,986.0 192.3,986.8 192.3,987.5 192.3,988.2 192.4,989.0 192.4,989.7 192.4,990.4 192.4,991.1 192.4,991.9 192.4,992.6 192.4,993.3 192.4,994.0 192.4,994.8 192.5,995.5 192.5,996.2 192.5,996.9 192.5,997.7 192.5,998.4 192.5,999.2 192.5,999.8 192.5,1000.6 192.5,1001.3 192.5,1002.0 192.6,1002.8 192.6,1003.5 192.6,1004.2 192.6,1004.9 192.6,1005.7 192.6,1006.4 192.6,1007.1 192.6,1007.8 192.6,1008.5 192.6,1009.2 192.7,1010.0 192.7,1010.6 192.7,1011.3 192.7,1012.1 192.7,1012.8 192.7,1013.5 192.7,1014.2 192.7,1014.9 192.7,1015.6 192.7,1016.3 192.8,1017.0 192.8,1017.7 192.8,1018.4 192.8,1019.1 192.8,1019.7 192.8,1020.4 192.8,1021.1 192.8,1021.8 192.8,1022.5 192.9,1023.2 192.9,1023.9 192.9,1024.5 192.9,1025.2 192.9,1025.9 192.9,1026.6 192.9,1027.2 192.9,1027.9 193.0,1028.6 193.0,1029.2 193.0,1029.9 193.0,1030.5 193.0,1031.2 193.0,1031.8 193.1,1032.5 193.1,1033.1 193.1,1033.7 193.1,1034.4 193.1,1035.0 193.2,1035.9 193.2,1036.7 193.3,1037.6 193.3,1038.4 193.3,1039.2 193.4,1040.0 193.4,1040.7 193.5,1041.5 193.6,1042.2 193.6,1042.9 193.7,1043.6 193.7,1044.3 193.8,1045.0 193.8,1045.6 193.9,1046.2 194.0,1046.9 194.0,1047.6 194.1,1048.2 194.1,1048.9 194.2,1049.5 194.3,1050.1 194.3,1050.8 194.4,1051.5 194.5,1052.1 194.5,1052.8 194.6,1053.5 194.6,1054.1 194.7,1054.9 194.8,1055.5 194.8,1056.3 194.9,1057.0 194.9,1057.7 195.0,1058.4 195.1,1059.1 195.1,1059.8 195.2,1060.5 195.2,1061.2 195.3,1061.9 195.4,1062.6 195.4,1063.3 195.5,1064.1 195.6,1064.8 195.6,1065.5 195.7,1066.2 195.7,1067.0 195.8,1067.7 195.9,1068.4 195.9,1069.1 196.0,1069.9 196.1,1070.6 196.1,1071.3 196.2,1071.9 196.3,1072.7 196.3,1073.4 196.4,1074.1 196.4,1074.8 196.5,1075.5 196.6,1076.2 196.6,1077.0 196.7,1077.6 196.8,1078.3 196.8,1079.1 196.9,1079.7 196.9,1080.4 197.0,1081.1 197.1,1081.8 197.1,1082.6 197.2,1083.3 197.3,1084.0 197.3,1084.8 197.4,1085.6 197.5,1086.3 197.5,1086.9 197.6,1087.6 197.6,1088.3 197.7,1089.1 197.8,1089.8 197.8,1090.5 197.9,1091.3 198.0,1091.9 198.0,1092.7 198.1,1093.3 198.2,1094.1 198.2,1094.8 198.3,1095.5 198.4,1096.2 198.4,1096.9 198.5,1097.5 198.6,1098.2 198.6,1098.9 198.7,1099.6 198.8,1100.2 198.9,1101.0 199.0,1101.6 199.1,1102.5 199.2,1103.2 199.4,1104.0 199.5,1104.7 199.6,1105.4 199.7,1106.3 199.9,1106.9 200.0,1107.6 200.1,1108.1 200.3,1108.9 200.4,1109.6 200.5,1110.2 200.6,1111.0 200.8,1111.6 200.9,1112.3 201.0,1113.2 201.1,1113.7 201.2,1114.4 201.3,1115.1 201.4,1115.9 201.5,1116.6 201.6,1117.3 201.6,1118.1 201.7,1118.7 201.8,1119.4 201.9,1120.1 201.9,1120.8 202.0,1121.6 202.1,1122.3 202.2,1122.9 202.2,1123.6 202.3,1124.4 202.4,1125.1 202.5,1125.8 202.5,1126.5 202.6,1127.2 202.7,1128.0 202.8,1128.6 202.9,1129.4 203.0,1130.2 203.1,1130.8 203.2,1131.5 203.3,1132.2 203.4,1133.1 203.5,1133.7 203.6,1134.5 203.7,1135.2 203.8,1136.0 203.9,1136.7 204.0,1137.4 204.1,1137.9 204.2,1138.6 204.3,1139.4 204.5,1139.9 204.8,1140.8 205.1,1141.8 205.5,1142.7 206.0,1142.6 206.4,1143.2 207.2,1143.9 208.0,1143.9 208.9,1143.7 209.7,1143.8 210.5,1143.9 211.2,1143.4 211.8,1143.0 212.4,1142.3 212.9,1141.6 213.4,1141.2 213.9,1140.6 214.4,1140.5 214.9,1140.7 215.3,1140.4 215.8,1141.7 216.3,1142.3 216.7,1142.8 217.1,1143.4 217.5,1144.1 217.7,1144.8 217.9,1145.5 218.1,1146.2 218.3,1146.8 218.4,1147.6 218.6,1148.4 218.7,1149.1 218.9,1149.9 219.0,1150.5 219.2,1151.5 219.4,1152.1 219.6,1152.7 219.8,1153.5 219.9,1154.2 220.1,1154.9 220.3,1155.7 220.5,1156.3 220.7,1157.1 220.9,1157.8 221.1,1158.6 221.3,1159.2 221.5,1159.9 221.8,1160.7 222.0,1161.3 222.3,1162.1 222.6,1163.0 222.9,1163.6 223.2,1164.1 223.6,1164.8 223.9,1165.3 224.4,1166.1 225.0,1166.7 225.6,1167.3 226.2,1167.7 226.7,1167.8 227.5,1168.4 228.2,1168.5 228.9,1169.0 229.3,1169.4 229.7,1170.4 230.1,1171.0 230.5,1171.3 230.9,1172.2 231.3,1172.9 231.7,1173.4 232.1,1173.7 232.6,1175.0 233.0,1175.3 233.4,1176.3 233.8,1176.8 234.3,1176.1 234.7,1175.3 235.2,1174.6 235.8,1175.3 236.3,1175.8 236.9,1176.6 237.5,1177.2 238.1,1177.6 238.8,1177.4 239.5,1176.5 240.2,1175.9 240.9,1176.1 241.6,1176.5 242.3,1176.7 243.0,1176.4 243.8,1175.6 244.6,1175.0 245.3,1175.0 245.9,1174.5 246.2,1175.6 246.5,1175.7 246.8,1176.7 247.0,1177.5 247.3,1178.5 247.6,1179.1 248.2,1179.4 248.8,1179.7 249.5,1179.9 250.1,1180.6 250.9,1180.9 251.6,1181.1 252.3,1181.0 253.0,1181.2 253.6,1180.5 254.1,1179.8 254.7,1179.0 255.2,1179.1 255.7,1180.1 256.2,1180.7 256.7,1181.1 257.2,1182.2 257.9,1181.9 258.6,1182.0 259.3,1182.5 260.0,1182.5 260.7,1182.7 261.4,1182.5 262.1,1183.1 262.8,1183.2 263.6,1184.1 264.2,1184.2 264.9,1184.6 265.7,1184.3 266.4,1185.1 267.1,1185.3 267.8,1185.3 268.5,1184.9 269.2,1185.0 270.0,1184.9 270.7,1184.7 271.4,1184.0 272.1,1183.4 272.8,1183.3 273.5,1182.6 274.2,1182.4 274.9,1182.1 275.6,1181.4 276.3,1181.8 277.0,1181.5 277.7,1181.9 278.4,1182.2 279.1,1182.6 279.9,1183.2 280.6,1183.0 281.3,1183.3 282.0,1182.9 282.7,1183.2 283.4,1183.1 284.1,1182.7 284.8,1182.2 285.4,1181.5 286.1,1181.0 286.7,1180.3 287.2,1180.0 287.6,1180.7 288.0,1181.5 288.3,1182.2 288.6,1182.8 289.1,1183.2 289.8,1183.3 290.5,1182.6 291.4,1182.1 292.2,1181.8 292.9,1181.5 293.6,1181.9 294.2,1182.8 294.9,1182.8 295.5,1183.2 295.8,1182.3 296.2,1182.0 296.6,1181.3 296.9,1180.3 297.3,1179.4 297.7,1179.1 298.0,1178.6 298.4,1179.2 298.8,1179.9 299.2,1181.2 299.6,1181.7 300.0,1182.7 300.4,1182.9 300.8,1182.9 301.2,1182.4 301.6,1181.7 302.0,1180.9 302.4,1180.0 302.8,1179.4 303.3,1178.6 303.8,1178.2 304.4,1177.7 305.0,1177.0 305.7,1176.5 306.3,1176.1 306.8,1176.0 307.3,1176.4 307.7,1176.9 308.1,1177.6 308.5,1178.1 308.9,1178.9 309.6,1179.2 310.3,1179.7 311.0,1179.4 311.8,1179.9 312.5,1180.2 313.2,1179.9 314.0,1179.8 314.7,1179.4 315.3,1179.5 315.7,1179.7 316.1,1180.3 316.4,1181.3 316.8,1182.0 317.1,1182.9 317.5,1183.2 317.9,1183.8 318.4,1183.4 318.9,1182.4 319.4,1181.9 319.9,1181.2 320.5,1180.5 321.0,1180.1 321.5,1180.5 322.1,1180.8 322.6,1181.2 323.2,1181.6 323.8,1182.4 324.5,1181.7 325.2,1182.2 326.0,1181.6 326.7,1181.6 327.4,1181.0 328.1,1181.0 328.8,1181.5 329.5,1181.5 330.2,1182.3 330.9,1182.8 331.6,1182.4 332.4,1182.8 333.1,1182.6 333.8,1182.5 334.5,1182.6 334.9,1183.5 335.3,1183.7 335.8,1184.8 336.1,1185.1 336.5,1186.4 336.9,1186.7 337.3,1187.1 337.7,1186.4 338.0,1185.8 338.3,1185.2 338.7,1184.6 339.0,1183.6 339.4,1182.4 339.8,1182.3 340.1,1181.4 340.8,1181.4 341.5,1182.5 342.3,1183.0 343.0,1183.1 343.7,1183.0 344.4,1182.8 345.1,1182.9 345.7,1182.1 346.2,1181.7 346.8,1181.9 347.3,1180.5 347.9,1180.1 348.6,1180.0 349.3,1180.0 350.1,1180.3 350.8,1180.2 351.5,1180.7 352.1,1179.6 352.7,1179.6 353.2,1178.9 353.8,1178.3 354.3,1177.5 355.0,1177.2 355.6,1175.9 356.3,1175.4 356.9,1175.3 357.4,1175.8 357.9,1176.3 358.3,1176.5 358.8,1177.2 359.3,1177.7 359.7,1179.1 360.1,1179.7 360.5,1180.1 360.9,1180.8 361.3,1181.6 361.7,1181.9 362.1,1182.4 362.6,1181.9 363.0,1181.1 363.4,1180.1 363.8,1179.2 364.3,1178.6 364.6,1179.1 364.9,1179.8 365.2,1180.6 365.6,1181.6 366.0,1182.3 366.4,1182.9 367.0,1182.8 367.7,1182.9 368.5,1182.7 369.2,1182.5 369.9,1182.2 370.5,1182.3 371.1,1181.8 371.7,1181.1 372.3,1181.0 372.9,1180.0 373.5,1179.9 374.2,1179.9 374.9,1180.3 375.6,1179.6 376.3,1180.1 377.0,1180.2 377.7,1180.0 378.4,1180.4 379.2,1180.3 379.9,1180.4 380.6,1180.7 381.3,1180.7 382.0,1180.9 382.6,1180.5 383.1,1180.4 383.6,1179.8 384.2,1179.3 384.8,1178.7 385.5,1178.9 386.2,1178.5 386.9,1178.4 387.6,1178.7 388.4,1178.3 389.1,1178.9 389.8,1179.2 390.5,1178.9 391.3,1178.2 391.9,1178.3 392.6,1178.1 393.3,1178.2 394.0,1178.4 394.7,1178.6 395.5,1178.8 396.2,1179.3 396.9,1179.8 397.6,1180.1 398.3,1179.8 399.1,1179.8 399.7,1179.3 400.4,1179.0 401.1,1178.5 401.8,1178.9 402.5,1179.0 403.3,1178.8 404.0,1179.0 404.7,1178.2 405.4,1177.8 406.1,1178.4 406.8,1178.4 407.5,1178.8 408.2,1179.1 408.9,1179.0 409.6,1179.2 410.3,1179.1 411.0,1178.7 411.7,1177.9 412.5,1178.2 413.2,1178.1 413.9,1178.1 414.6,1178.4 415.3,1178.2 416.0,1177.8 416.7,1178.7 417.5,1178.6 418.2,1179.0 418.9,1179.4 419.6,1179.8 420.3,1180.1 421.0,1180.0 421.7,1179.9 422.4,1180.3 423.2,1180.3 423.9,1180.2 424.5,1180.7 425.3,1179.9 426.0,1179.5 426.7,1178.6 427.4,1178.7 428.1,1178.5 428.7,1179.2 429.5,1179.2 430.2,1179.5 430.9,1178.7 431.6,1178.5 432.4,1178.5 433.1,1178.1 433.8,1178.1 434.5,1177.9 435.3,1177.5 436.0,1177.0 436.6,1176.9 437.0,1176.3 437.4,1176.0 437.6,1175.1 437.9,1174.2 438.0,1173.5 438.1,1172.7 438.2,1172.2 438.3,1171.5 438.4,1170.8 438.5,1170.1 438.6,1169.4 438.7,1168.6 438.8,1168.0 438.9,1167.2 439.0,1166.4 439.1,1165.7 439.1,1164.9 439.2,1164.0 439.3,1163.2 439.3,1162.6 439.4,1161.9 439.4,1161.2 439.4,1160.6 439.5,1159.9 439.5,1159.3 439.5,1158.6 439.6,1157.9 439.6,1157.2 439.7,1156.5 439.7,1155.8 439.7,1155.1 439.7,1154.4 439.8,1153.7 439.8,1153.0 439.8,1152.3 439.9,1151.6 439.9,1150.9 439.9,1150.2 440.0,1149.4 440.0,1148.7 440.0,1148.0 440.0,1147.3 440.1,1146.5 440.1,1145.7 440.1,1145.0 440.2,1144.3 440.2,1143.5 440.2,1142.8 440.3,1142.1 440.3,1141.4 440.3,1140.7 440.3,1140.0 440.4,1139.4 440.4,1138.7 440.4,1138.0 440.4,1137.3 440.5,1136.6 440.5,1135.9 440.5,1135.1 440.5,1134.4 440.5,1133.7 440.6,1133.0 440.6,1132.3 440.6,1131.6 440.6,1130.8 440.7,1130.1 440.7,1129.5 440.7,1128.7 440.7,1128.0 440.8,1127.2 440.8,1126.5 440.8,1125.8 440.8,1125.1 440.9,1124.4 440.9,1123.7 440.9,1123.0 440.9,1122.3 441.0,1121.6 441.0,1120.9 441.0,1120.2 441.0,1119.5 441.1,1118.8 441.1,1118.1 441.1,1117.5 441.1,1116.8 441.2,1116.1 441.2,1115.5 441.2,1114.7 441.3,1113.9 441.3,1113.1 441.3,1112.3 441.4,1111.5 441.4,1110.7 441.5,1109.9 441.5,1109.2 441.5,1108.4 441.6,1107.6 441.6,1106.8 441.7,1106.1 441.7,1105.3 441.7,1104.6 441.8,1103.8 441.8,1103.1 441.9,1102.4 441.9,1101.8 442.0,1101.1 442.0,1100.5 442.1,1099.9 442.1,1099.3 442.2,1098.8 442.2,1098.3 442.3,1097.8 442.5,1097.9 442.7,1098.1 442.9,1098.6 443.2,1100.0 443.4,1101.1 443.6,1101.9 443.8,1102.5 443.9,1103.2 444.0,1103.9 444.1,1104.5 444.2,1105.4 444.3,1106.0 444.4,1106.7 444.6,1107.5 444.7,1108.2 444.8,1109.0 444.9,1109.7 445.0,1110.5 445.1,1111.2 445.2,1112.0 445.3,1112.8 445.4,1113.5 445.4,1114.2 445.5,1114.9 445.6,1115.7 445.6,1116.4 445.7,1117.1 445.8,1117.8 445.8,1118.6 445.9,1119.3 446.0,1120.2 446.0,1120.8 446.1,1121.5 446.2,1122.3 446.2,1123.0 446.3,1123.7 446.4,1124.4 446.5,1125.1 446.5,1125.8 446.6,1126.4 446.9,1127.2 447.1,1128.2 447.4,1129.1 447.6,1129.9 447.9,1130.5 448.2,1131.2 448.4,1131.3 448.6,1131.0 448.8,1130.3 449.0,1129.8 449.2,1129.2 449.4,1128.2 449.6,1127.2 449.8,1126.5 449.9,1125.9 449.9,1125.2 450.0,1124.4 450.1,1123.6 450.2,1123.0 450.2,1122.4 450.3,1121.6 450.4,1120.8 450.4,1120.1 450.5,1119.3 450.6,1118.6 450.7,1117.8 450.7,1117.1 450.8,1116.3 450.9,1115.6 450.9,1114.9 451.0,1114.2 451.1,1113.5 451.1,1112.8 451.2,1112.0 451.3,1111.3 451.4,1110.6 451.5,1109.8 451.6,1108.9 451.7,1108.2 451.7,1107.6 451.8,1106.8 451.9,1106.1 452.0,1105.3 452.1,1104.6 452.2,1103.9 452.3,1103.1 452.4,1102.5 452.5,1101.8 452.7,1101.0 452.8,1100.4 453.0,1099.5 453.2,1098.9 453.3,1098.2 453.5,1097.6 453.7,1096.8 453.9,1096.3 454.1,1095.5 454.3,1095.1 454.8,1094.3 455.5,1094.5 455.9,1093.6 456.0,1093.1 456.0,1092.5 456.1,1091.8 456.2,1091.2 456.2,1090.5 456.3,1089.8 456.3,1089.2 456.4,1088.5 456.4,1087.9 456.4,1087.2 456.5,1086.5 456.5,1085.8 456.5,1085.1 456.6,1084.4 456.6,1083.7 456.7,1083.0 456.7,1082.2 456.7,1081.5 456.8,1080.7 456.8,1080.0 456.8,1079.3 456.8,1078.5 456.9,1077.7 456.9,1076.9 456.9,1076.2 457.0,1075.4 457.0,1074.6 457.0,1073.9 457.1,1073.2 457.1,1072.6 457.1,1071.9 457.1,1071.2 457.1,1070.5 457.2,1069.8 457.2,1069.1 457.2,1068.4 457.2,1067.7 457.2,1067.0 457.3,1066.3 457.3,1065.6 457.3,1064.8 457.3,1064.1 457.4,1063.4 457.4,1062.7 457.4,1062.0 457.4,1061.2 457.4,1060.5 457.4,1059.8 457.5,1059.0 457.5,1058.3 457.5,1057.5 457.5,1056.8 457.5,1056.1 457.6,1055.3 457.6,1054.6 457.6,1053.9 457.6,1053.1 457.6,1052.4 457.7,1051.7 457.7,1050.9 457.7,1050.2 457.7,1049.5 457.7,1048.8 457.8,1048.1 457.8,1047.3 457.8,1046.6 457.8,1045.9 457.8,1045.2 457.8,1044.5 457.9,1043.8 457.9,1043.2 457.9,1042.5 457.9,1041.8 457.9,1041.1 458.0,1040.4 458.0,1039.7 458.0,1038.9 458.0,1038.2 458.1,1037.4 458.1,1036.8 458.1,1036.1 458.1,1035.4 458.2,1034.8 458.2,1034.1 458.2,1033.5 458.2,1032.8 458.3,1032.2 458.3,1031.5 458.3,1030.9 458.3,1030.2 458.3,1029.6 458.4,1029.0 458.4,1028.3 458.4,1027.6 458.4,1026.9 458.5,1026.2 458.5,1025.5 458.5,1024.8 458.5,1024.1 458.6,1023.3 458.6,1022.5 458.6,1021.7 458.6,1020.8 458.6,1020.0 458.7,1019.4 458.7,1018.7 458.7,1018.0 458.7,1017.3 458.7,1016.6 458.7,1015.9 458.7,1015.1 458.8,1014.4 458.8,1013.7 458.8,1012.9 458.8,1012.1 458.8,1011.3 458.8,1010.5 458.8,1009.7 458.8,1008.8 458.8,1008.0 458.9,1007.2 458.9,1006.3 458.9,1005.5 458.9,1004.6 458.9,1003.8 458.9,1002.9 458.9,1002.0 458.9,1001.2 459.0,1000.3 459.0,999.4 459.0,998.5 459.0,997.7 459.0,996.8 459.0,995.9 459.0,995.1 459.0,994.2 459.0,993.3 459.1,992.5 459.1,991.6 459.1,990.8 459.1,990.0 459.1,989.1 459.1,988.3 459.1,987.5 459.1,986.7 459.1,985.9 459.2,985.1 459.2,984.3 459.2,983.5 459.2,982.8 459.2,982.1 459.2,981.3 459.2,980.6 459.2,979.9 459.3,979.3 459.3,978.6 459.3,977.9 459.3,977.3 459.3,976.7 459.3,976.1 459.3,975.5 459.4,975.0 459.4,974.4 459.4,974.0 459.4,973.4 459.4,972.9 459.4,972.6 459.5,972.1 459.5,971.7 459.5,971.4 459.5,971.0 459.5,970.8 459.5,970.4 459.6,970.1 459.6,970.0 459.6,970.3 459.6,970.5 459.7,970.7 459.7,971.0 459.7,971.4 459.7,971.7 459.8,972.2 459.8,972.6 459.8,972.9 459.8,973.4 459.9,974.0 459.9,974.4 459.9,975.0 459.9,975.5 460.0,976.1 460.0,976.7 460.0,977.3 460.1,978.0 460.1,978.6 460.1,979.2 460.1,979.9 460.2,980.6 460.2,981.4 460.2,982.0 460.3,982.8 460.3,983.5 460.3,984.3 460.4,985.1 460.4,985.9 460.4,986.7 460.5,987.5 460.5,988.3 460.5,989.1 460.5,989.9 460.6,990.8 460.6,991.6 460.6,992.5 460.7,993.3 460.7,994.2 460.7,995.1 460.8,995.9 460.8,996.8 460.8,997.7 460.9,998.5 460.9,999.4 460.9,1000.3 461.0,1001.2 461.0,1002.0 461.0,1002.9 461.0,1003.8 461.1,1004.6 461.1,1005.5 461.1,1006.3 461.2,1007.2 461.2,1008.0 461.2,1008.8 461.3,1009.7 461.3,1010.5 461.3,1011.3 461.3,1012.1 461.4,1012.9 461.4,1013.6 461.4,1014.4 461.5,1015.2 461.5,1015.9 461.5,1016.6 461.5,1017.3 461.6,1018.0 461.6,1018.7 461.6,1019.4 461.6,1020.0 461.7,1020.9 461.7,1021.7 461.8,1022.5 461.8,1023.3 461.8,1024.1 461.8,1024.9 461.9,1025.6 461.9,1026.3 461.9,1027.0 462.0,1027.7 462.0,1028.4 462.0,1029.1 462.0,1029.8 462.1,1030.4 462.1,1031.1 462.1,1031.7 462.1,1032.4 462.2,1033.0 462.2,1033.7 462.2,1034.3 462.2,1035.0 462.3,1035.6 462.3,1036.3 462.3,1037.0 462.3,1037.6 462.4,1038.3 462.4,1039.0 462.4,1039.7 462.5,1040.5 462.5,1041.2 462.5,1041.8 462.5,1042.5 462.6,1043.2 462.6,1043.9 462.6,1044.6 462.6,1045.3 462.7,1046.1 462.7,1046.8 462.7,1047.5 462.8,1048.2 462.8,1048.9 462.8,1049.7 462.8,1050.4 462.9,1051.1 462.9,1051.8 462.9,1052.5 462.9,1053.3 463.0,1054.0 463.0,1054.7 463.0,1055.4 463.0,1056.1 463.1,1056.8 463.1,1057.6 463.1,1058.3 463.2,1058.9 463.2,1059.6 463.2,1060.3 463.2,1061.0 463.3,1061.7 463.3,1062.4 463.3,1063.0 463.4,1063.7 463.4,1064.3 463.4,1065.0 463.5,1065.9 463.5,1066.7 463.6,1067.6 463.6,1068.5 463.7,1069.4 463.7,1070.3 463.8,1071.2 463.8,1072.1 463.9,1072.8 463.9,1073.7 464.0,1074.4 464.0,1075.2 464.1,1075.9 464.1,1076.4 464.2,1076.9 464.3,1077.3 464.3,1077.7 464.4,1078.0 464.4,1077.7 464.5,1077.3 464.5,1076.8 464.6,1076.4 464.7,1075.7 464.7,1075.1 464.8,1074.3 464.9,1073.5 464.9,1072.7 465.0,1071.9 465.0,1071.0 465.1,1070.1 465.2,1069.2 465.2,1068.4 465.3,1067.5 465.4,1066.6 465.4,1065.8 465.5,1065.0 465.5,1064.4 465.6,1063.6 465.6,1062.9 465.6,1062.2 465.7,1061.5 465.7,1060.7 465.8,1060.0 465.8,1059.3 465.9,1058.5 465.9,1057.8 465.9,1057.1 466.0,1056.4 466.0,1055.6 466.1,1054.8 466.1,1054.1 466.1,1053.4 466.2,1052.7 466.2,1052.0 466.3,1051.3 466.3,1050.6 466.4,1049.9 466.4,1049.2 466.5,1048.6 466.5,1047.9 466.6,1047.2 466.8,1045.9 467.0,1045.1 467.3,1044.5 467.5,1044.2 467.6,1045.0 467.6,1045.6 467.7,1046.2 467.7,1046.9 467.8,1047.5 467.8,1048.1 467.8,1048.9 467.9,1049.6 467.9,1050.3 468.0,1051.1 468.0,1051.8 468.0,1052.6 468.1,1053.3 468.1,1054.2 468.1,1054.9 468.2,1055.7 468.2,1056.5 468.3,1057.2 468.3,1058.0 468.3,1058.7 468.4,1059.5 468.4,1060.2 468.5,1060.9 468.5,1061.7 468.6,1062.3 468.6,1063.1 468.7,1063.8 468.7,1064.5 468.8,1065.3 468.9,1066.0 468.9,1066.8 469.0,1067.4 469.0,1068.2 469.1,1068.9 469.1,1069.6 469.2,1070.3 469.3,1070.9 469.3,1071.6 469.4,1072.4 469.4,1073.1 469.5,1073.8 469.6,1074.6 469.6,1075.3 469.7,1076.0 469.8,1076.7 469.8,1077.4 469.9,1078.2 470.0,1078.8 470.0,1079.5 470.1,1080.3 470.2,1080.9 470.3,1081.7 470.3,1082.4 470.4,1083.2 470.5,1083.8 470.6,1084.6 470.6,1085.4 470.7,1085.9 470.8,1086.7 470.8,1087.5 470.9,1088.2 471.0,1088.9 471.1,1089.6 471.1,1090.3 471.2,1091.0 471.2,1091.8 471.3,1092.6 471.4,1093.3 471.4,1094.0 471.5,1094.7 471.6,1095.5 471.6,1096.3 471.7,1096.9 471.8,1097.6 471.8,1098.4 471.9,1099.1 472.0,1099.8 472.0,1100.5 472.1,1101.2 472.2,1101.9 472.2,1102.5 472.3,1103.3 472.4,1104.1 472.5,1105.1 472.6,1106.0 472.7,1107.0 472.8,1107.9 473.0,1108.7 473.1,1109.3 473.2,1109.9 473.3,1110.4 473.4,1110.8 473.5,1110.4 473.5,1109.8 473.6,1109.3 473.7,1108.5 473.8,1107.7 473.8,1106.9 473.9,1106.0 474.0,1105.1 474.1,1104.2 474.2,1103.3 474.2,1102.5 474.3,1101.8 474.5,1100.9 474.7,1099.8 474.9,1099.0 475.1,1098.5 475.3,1098.1 475.4,1099.0 475.4,1099.6 475.5,1100.1 475.5,1100.7 475.6,1101.4 475.6,1102.1 475.7,1102.8 475.7,1103.5 475.8,1104.3 475.8,1105.1 475.9,1105.9 475.9,1106.7 476.0,1107.5 476.0,1108.3 476.1,1109.1 476.1,1109.9 476.2,1110.6 476.2,1111.4 476.3,1112.2 476.4,1112.8 476.5,1113.6 476.6,1114.4 476.8,1115.0 476.9,1116.0 477.1,1116.8 477.2,1117.5 477.4,1118.1 477.5,1118.8 477.7,1119.5 477.9,1120.2 478.0,1121.0 478.2,1121.7 478.3,1122.4 478.5,1123.3 478.7,1123.8 478.8,1124.7 479.0,1125.5 479.1,1126.2 479.3,1126.9 479.5,1127.6 479.6,1128.5 479.8,1129.1 479.9,1130.0 480.1,1130.7 480.3,1131.3 480.4,1132.0 480.6,1133.0 480.7,1133.6 480.9,1134.5 481.0,1135.2 481.2,1135.9 481.4,1136.7 481.6,1137.3 481.8,1137.8 482.0,1138.9 482.2,1139.3 482.4,1140.3 482.6,1141.1 482.9,1141.5 483.1,1142.5 483.4,1143.0 483.6,1143.5 483.9,1144.3 484.6,1144.2 485.3,1144.3 485.9,1144.4 486.1,1145.4 486.2,1146.0 486.3,1146.7 486.3,1147.4 486.4,1148.2 486.5,1149.0 486.5,1149.8 486.6,1150.6 486.7,1151.3 486.7,1152.1 486.8,1152.8 486.9,1153.6 486.9,1154.3 487.0,1155.0 487.2,1155.8 487.3,1156.7 487.4,1157.4 487.6,1158.3 487.8,1159.0 487.9,1159.8 488.1,1160.4 488.2,1161.3 488.4,1161.8 488.6,1162.8 488.9,1163.7 489.1,1164.6 489.3,1164.6 489.5,1164.2 489.6,1163.5 489.8,1162.9 489.9,1162.0 490.1,1161.3 490.2,1160.3 490.4,1159.3 490.5,1158.5 490.7,1157.7 490.8,1156.9 491.0,1156.2 491.1,1155.3 491.3,1154.4 491.4,1153.7 491.6,1152.8 491.7,1152.1 491.9,1151.5 492.1,1151.3 492.6,1151.3 493.3,1152.7 493.8,1153.1 494.0,1152.3 494.1,1151.8 494.2,1151.2 494.3,1150.6 494.4,1149.9 494.5,1149.1 494.6,1148.2 494.7,1147.5 494.7,1146.7 494.8,1146.0 494.9,1145.1 495.0,1144.3 495.1,1143.5 495.2,1142.8 495.3,1142.0 495.4,1141.3 495.6,1140.5 495.7,1139.9 495.8,1139.1 496.0,1138.5 496.1,1137.6 496.2,1137.0 496.3,1136.3 496.5,1135.5 496.6,1134.6 496.7,1134.0 496.8,1133.2 496.9,1132.6 497.0,1131.9 497.1,1131.1 497.2,1130.4 497.3,1129.7 497.4,1128.9 497.5,1128.4 497.6,1127.7 497.7,1126.9 497.8,1126.2 497.9,1125.5 498.0,1124.7 498.0,1124.0 498.1,1123.1 498.2,1122.3 498.2,1121.7 498.3,1121.0 498.3,1120.3 498.4,1119.7 498.4,1119.0 498.5,1118.3 498.5,1117.6 498.5,1117.0 498.6,1116.3 498.6,1115.6 498.7,1114.9 498.7,1114.2 498.7,1113.5 498.8,1112.8 498.8,1112.1 498.9,1111.4 498.9,1110.7 498.9,1109.9 499.0,1109.2 499.0,1108.5 499.0,1107.7 499.1,1107.0 499.1,1106.3 499.1,1105.6 499.2,1104.8 499.2,1104.1 499.2,1103.3 499.3,1102.5 499.3,1101.8 499.3,1101.2 499.3,1100.5 499.3,1099.8 499.4,1099.1 499.4,1098.4 499.4,1097.7 499.4,1097.0 499.4,1096.2 499.4,1095.5 499.5,1094.8 499.5,1094.1 499.5,1093.4 499.5,1092.7 499.5,1092.0 499.5,1091.3 499.5,1090.5 499.6,1089.8 499.6,1089.1 499.6,1088.4 499.6,1087.6 499.6,1086.9 499.6,1086.2 499.6,1085.4 499.6,1084.7 499.7,1084.0 499.7,1083.3 499.7,1082.5 499.7,1081.8 499.7,1081.1 499.7,1080.3 499.7,1079.6 499.7,1078.9 499.8,1078.2 499.8,1077.5 499.8,1076.7 499.8,1076.0 499.8,1075.3 499.8,1074.6 499.9,1073.8 499.9,1073.1 499.9,1072.4 499.9,1071.6 499.9,1070.9 500.0,1070.2 500.0,1069.4 500.0,1068.7 500.0,1068.0 500.0,1067.2 500.1,1066.5 500.1,1065.7 500.1,1065.0 500.1,1064.2 500.1,1063.5 500.2,1062.7 500.2,1062.0 500.2,1061.3 500.2,1060.5 500.3,1059.8 500.3,1059.0 500.3,1058.3 500.3,1057.6 500.3,1056.9 500.4,1056.1 500.4,1055.4 500.4,1054.7 500.4,1054.0 500.5,1053.3 500.5,1052.6 500.5,1051.9 500.5,1051.2 500.5,1050.6 500.6,1049.9 500.6,1049.2 500.6,1048.6 500.6,1047.9 500.7,1047.3 500.7,1046.2 500.8,1045.1 500.8,1044.1 500.9,1043.2 500.9,1042.3 501.0,1041.7 501.1,1041.1 501.1,1040.7 501.2,1040.5 501.3,1040.9 501.4,1041.3 501.4,1041.9 501.5,1042.6 501.6,1043.4 501.7,1044.2 501.8,1045.0 501.9,1045.9 502.0,1046.8 502.0,1047.7 502.1,1048.5 502.2,1049.3 502.3,1050.1 502.4,1050.9 502.5,1051.9 502.6,1052.9 502.7,1053.9 502.8,1054.9 502.9,1055.7 502.9,1056.3 503.0,1056.9 503.1,1056.7 503.2,1056.4 503.2,1055.9 503.2,1055.4 503.3,1054.8 503.3,1054.3 503.3,1053.7 503.4,1053.0 503.4,1052.3 503.5,1051.6 503.5,1050.8 503.5,1050.0 503.6,1049.3 503.6,1048.5 503.6,1047.7 503.7,1046.8 503.7,1046.0 503.7,1045.2 503.8,1044.4 503.8,1043.6 503.8,1042.8 503.9,1042.0 503.9,1041.2 503.9,1040.5 504.0,1039.8 504.0,1039.1 504.0,1038.4 504.1,1037.9 504.1,1037.2 504.1,1036.6 504.1,1036.0 504.2,1035.3 504.2,1034.7 504.2,1034.0 504.3,1033.5 504.3,1032.9 504.3,1032.3 504.4,1031.6 504.4,1031.0 504.4,1030.3 504.5,1029.7 504.5,1029.0 504.5,1028.3 504.5,1027.6 504.6,1026.8 504.6,1026.1 504.6,1025.3 504.6,1024.5 504.7,1023.6 504.7,1022.8 504.7,1021.9 504.7,1021.0 504.8,1020.0 504.8,1019.4 504.8,1018.7 504.8,1018.1 504.8,1017.5 504.8,1016.8 504.8,1016.2 504.8,1015.5 504.8,1014.9 504.8,1014.2 504.8,1013.6 504.8,1012.9 504.8,1012.2 504.8,1011.6 504.8,1010.9 504.8,1010.2 504.8,1009.5 504.8,1008.8 504.8,1008.1 504.8,1007.5 504.8,1006.8 504.8,1006.1 504.8,1005.4 504.8,1004.7 504.8,1004.0 504.8,1003.3 504.8,1002.6 504.8,1001.9 504.8,1001.2 504.8,1000.5 504.8,999.7 504.8,999.0 504.8,998.3 504.9,997.6 504.9,996.9 504.9,996.2 504.9,995.4 504.9,994.7 504.9,994.0 504.9,993.3 504.9,992.5 504.9,991.8 504.9,991.1 504.9,990.4 504.9,989.6 504.9,988.9 504.9,988.2 504.9,987.4 504.9,986.7 504.9,986.0 504.9,985.2 504.9,984.5 504.9,983.8 504.9,983.0 504.9,982.3 504.9,981.5 504.9,980.8 504.9,980.1 504.9,979.3 504.9,978.6 504.9,977.9 504.9,977.1 504.9,976.4 504.9,975.7 504.9,974.9 504.9,974.2 504.9,973.5 504.9,972.7 504.9,972.0 504.9,971.3 504.9,970.5 504.9,969.8 504.9,969.1 504.9,968.4 504.9,967.6 504.9,966.9 504.9,966.2 504.9,965.4 504.9,964.7 504.9,964.0 504.9,963.3 504.9,962.6 504.9,961.8 504.9,961.1 504.9,960.4 504.9,959.7 504.9,959.0 504.9,958.3 504.9,957.6 504.9,956.9 504.9,956.2 504.9,955.5 504.9,954.8 504.9,954.1 504.9,953.4 505.0,952.7 505.0,952.1 505.0,951.4 505.0,950.7 505.0,950.0 505.0,949.3 505.0,948.5 505.0,947.8 505.0,947.0 505.0,946.3 505.0,945.5 505.0,944.8 505.0,944.0 505.1,943.3 505.1,942.5 505.1,941.8 505.1,941.1 505.1,940.3 505.1,939.6 505.1,938.8 505.1,938.1 505.1,937.4 505.1,936.6 505.2,935.9 505.2,935.2 505.2,934.4 505.2,933.7 505.2,933.0 505.2,932.2 505.2,931.5 505.2,930.8 505.2,930.0 505.3,929.3 505.3,928.6 505.3,927.9 505.3,927.2 505.3,926.4 505.3,925.7 505.3,925.0 505.3,924.3 505.4,923.6 505.4,922.9 505.4,922.2 505.4,921.4 505.4,920.7 505.4,920.0 505.4,919.3 505.5,918.6 505.5,917.9 505.5,917.2 505.5,916.5 505.5,915.8 505.5,915.1 505.5,914.4 505.5,913.8 505.6,913.1 505.6,912.4 505.6,911.7 505.6,911.0 505.6,910.3 505.6,909.7 505.6,909.0 505.7,908.3 505.7,907.7 505.7,907.0 505.7,906.3 505.7,905.7 505.7,905.0 505.7,904.4 505.8,903.7 505.8,903.1 505.8,902.4 505.8,901.8 505.8,901.1 505.8,900.5 505.8,899.9 505.9,899.2 505.9,898.6 505.9,897.6 505.9,896.7 506.0,895.7 506.0,894.7 506.0,893.8 506.1,892.8 506.1,891.8 506.1,890.9 506.2,889.9 506.2,889.0 506.2,888.1 506.3,887.3 506.3,886.4 506.4,885.6 506.4,884.9 506.4,884.2 506.5,883.5 506.5,882.9 506.6,882.4 506.6,881.8 506.6,881.5 506.7,881.1 506.7,880.8 506.7,880.9 506.8,880.2 506.8,881.0 506.8,881.3 506.8,881.7 506.9,882.1 506.9,882.6 506.9,883.1 506.9,883.6 507.0,884.2 507.0,884.7 507.0,885.4 507.0,886.0 507.1,886.6 507.1,887.2 507.1,888.0 507.1,888.6 507.2,889.3 507.2,890.1 507.2,890.8 507.2,891.6 507.3,892.3 507.3,893.1 507.3,893.9 507.3,894.7 507.3,895.5 507.4,896.3 507.4,897.1 507.4,897.9 507.4,898.8 507.5,899.6 507.5,900.4 507.5,901.2 507.5,902.1 507.6,902.9 507.6,903.7 507.6,904.5 507.6,905.3 507.6,906.1 507.7,906.9 507.7,907.7 507.7,908.5 507.7,909.3 507.8,910.0 507.8,910.7 507.8,911.4 507.8,912.1 507.8,912.9 507.9,913.6 507.9,914.4 507.9,915.2 507.9,916.0 507.9,916.8 508.0,917.6 508.0,918.5 508.0,919.3 508.0,920.2 508.0,921.1 508.1,921.9 508.1,922.8 508.1,923.7 508.1,924.5 508.1,925.4 508.1,926.3 508.2,927.2 508.2,928.0 508.2,928.9 508.2,929.7 508.2,930.6 508.3,931.5 508.3,932.3 508.3,933.1 508.3,933.9 508.3,934.7 508.4,935.5 508.4,936.2 508.4,936.9 508.4,937.7 508.4,938.4 508.4,939.0 508.5,939.7 508.5,940.3 508.5,940.8 508.5,941.4 508.5,941.9 508.6,942.4 508.6,942.8 508.6,943.3 508.6,943.7 508.6,944.1 508.7,944.3 508.7,944.7 508.7,944.9 508.7,944.8 508.7,944.4 508.8,943.9 508.8,943.8 508.8,943.4 508.8,942.9 508.8,942.5 508.9,941.9 508.9,941.4 508.9,940.9 508.9,940.3 509.0,939.7 509.0,939.0 509.0,938.4 509.0,937.7 509.0,937.0 509.1,936.3 509.1,935.6 509.1,934.8 509.1,934.0 509.2,933.2 509.2,932.5 509.2,931.6 509.2,930.8 509.2,929.9 509.3,929.1 509.3,928.2 509.3,927.4 509.3,926.5 509.4,925.6 509.4,924.7 509.4,923.9 509.4,923.0 509.4,922.1 509.5,921.2 509.5,920.4 509.5,919.5 509.5,918.6 509.6,917.8 509.6,917.0 509.6,916.1 509.6,915.3 509.6,914.5 509.7,913.7 509.7,912.9 509.7,912.2 509.7,911.4 509.7,910.7 509.8,910.1 509.8,909.4 509.8,908.7 509.8,908.0 509.8,907.3 509.9,906.7 509.9,906.0 509.9,905.3 509.9,904.6 509.9,903.9 510.0,903.2 510.0,902.6 510.0,901.9 510.0,901.2 510.0,900.5 510.1,899.8 510.1,899.1 510.1,898.4 510.1,897.8 510.1,897.1 510.2,896.4 510.2,895.7 510.2,895.0 510.2,894.3 510.2,893.6 510.3,892.9 510.3,892.2 510.3,891.5 510.3,890.8 510.3,890.1 510.4,889.5 510.4,888.7 510.4,888.0 510.4,887.3 510.4,886.6 510.5,885.9 510.5,885.2 510.5,884.5 510.5,883.8 510.5,883.1 510.6,882.4 510.6,881.6 510.6,880.9 510.6,880.2 510.6,879.5 510.6,878.7 510.7,878.0 510.7,877.3 510.7,876.6 510.7,875.8 510.7,875.1 510.7,874.3 510.7,873.6 510.8,872.9 510.8,872.2 510.8,871.5 510.8,870.8 510.8,870.1 510.8,869.4 510.8,868.6 510.8,867.9 510.8,867.1 510.8,866.4 510.8,865.6 510.8,864.8 510.9,864.0 510.9,863.2 510.9,862.4 510.9,861.6 510.9,860.8 510.9,860.0 510.9,859.2 510.9,858.3 510.9,857.5 510.9,856.7 510.9,855.8 510.9,855.0 510.9,854.2 510.9,853.3 510.9,852.5 510.9,851.6 510.9,850.8 510.9,849.9 510.9,849.1 510.9,848.3 511.0,847.4 511.0,846.6 511.0,845.7 511.0,844.9 511.0,844.1 511.0,843.2 511.0,842.4 511.0,841.6 511.0,840.8 511.0,840.0 511.0,839.2 511.0,838.4 511.0,837.7 511.0,836.9 511.0,836.1 511.0,835.4 511.0,834.6 511.0,833.9 511.0,833.2 511.0,832.5 511.0,831.8 511.0,831.1 511.1,830.4 511.1,829.8 511.1,829.1 511.1,828.5 511.1,827.9 511.1,827.3 511.1,826.7 511.1,826.2 511.1,825.6 511.1,825.1 511.1,824.6 511.1,824.1 511.1,823.6 511.1,823.1 511.1,822.7 511.1,822.3 511.2,821.9 511.2,821.5 511.2,821.2 511.2,820.8 511.2,820.5 511.2,820.2 511.2,820.5 511.2,820.5 511.2,820.7 511.3,821.1 511.3,821.4 511.3,821.7 511.3,822.1 511.3,822.4 511.4,822.9 511.4,823.4 511.4,823.8 511.4,824.3 511.4,824.9 511.4,825.5 511.5,826.0 511.5,826.7 511.5,827.3 511.5,827.9 511.6,828.7 511.6,829.3 511.6,830.1 511.6,830.8 511.6,831.6 511.7,832.4 511.7,833.1 511.7,833.9 511.7,834.7 511.7,835.6 511.8,836.4 511.8,837.3 511.8,838.1 511.8,839.0 511.9,839.9 511.9,840.7 511.9,841.6 511.9,842.6 511.9,843.4 512.0,844.3 512.0,845.2 512.0,846.1 512.0,847.1 512.0,848.0 512.1,848.9 512.1,849.7 512.1,850.7 512.1,851.5 512.1,852.4 512.2,853.3 512.2,854.2 512.2,855.1 512.2,855.9 512.2,856.8 512.3,857.6 512.3,858.4 512.3,859.2 512.3,860.0 512.3,860.7 512.3,861.3 512.3,862.0 512.3,862.6 512.3,863.3 512.4,864.0 512.4,864.6 512.4,865.3 512.4,866.0 512.4,866.7 512.4,867.3 512.4,868.0 512.4,868.6 512.4,869.3 512.4,870.0 512.4,870.7 512.5,871.3 512.5,872.0 512.5,872.7 512.5,873.4 512.5,874.0 512.5,874.7 512.5,875.4 512.5,876.1 512.5,876.7 512.5,877.4 512.5,878.1 512.5,878.8 512.5,879.5 512.6,880.2 512.6,880.9 512.6,881.6 512.6,882.2 512.6,882.9 512.6,883.6 512.6,884.3 512.6,885.0 512.6,885.7 512.6,886.4 512.6,887.1 512.6,887.8 512.6,888.5 512.6,889.2 512.7,889.9 512.7,890.6 512.7,891.3 512.7,892.0 512.7,892.7 512.7,893.4 512.7,894.1 512.7,894.8 512.7,895.5 512.7,896.2 512.7,897.0 512.7,897.7 512.7,898.4 512.7,899.1 512.7,899.8 512.8,900.5 512.8,901.3 512.8,902.0 512.8,902.7 512.8,903.4 512.8,904.1 512.8,904.9 512.8,905.6 512.8,906.4 512.8,907.1 512.8,907.8 512.8,908.5 512.8,909.3 512.8,910.0 512.8,910.8 512.8,911.5 512.9,912.2 512.9,913.0 512.9,913.7 512.9,914.5 512.9,915.2 512.9,916.0 512.9,916.7 512.9,917.5 512.9,918.2 512.9,919.0 512.9,919.7 512.9,920.5 512.9,921.3 512.9,922.0 512.9,922.8 512.9,923.5 513.0,924.3 513.0,925.0 513.0,925.6 513.0,926.3 513.0,927.0 513.0,927.7 513.0,928.3 513.0,929.0 513.0,929.7 513.0,930.4 513.0,931.1 513.0,931.7 513.0,932.4 513.0,933.1 513.0,933.8 513.0,934.5 513.0,935.2 513.0,935.9 513.0,936.6 513.0,937.3 513.0,938.0 513.0,938.7 513.0,939.4 513.0,940.1 513.0,940.8 513.0,941.6 513.1,942.3 513.1,943.0 513.1,943.7 513.1,944.4 513.1,945.1 513.1,945.8 513.1,946.5 513.1,947.3 513.1,948.0 513.1,948.7 513.1,949.5 513.1,950.2 513.1,950.9 513.1,951.6 513.1,952.3 513.1,953.1 513.1,953.8 513.1,954.5 513.1,955.3 513.1,956.0 513.1,956.7 513.1,957.5 513.1,958.2 513.1,958.9 513.1,959.7 513.1,960.4 513.1,961.1 513.1,961.9 513.1,962.6 513.1,963.3 513.2,964.1 513.2,964.8 513.2,965.5 513.2,966.3 513.2,967.0 513.2,967.8 513.2,968.5 513.2,969.2 513.2,970.0 513.2,970.7 513.2,971.4 513.2,972.2 513.2,972.9 513.2,973.6 513.2,974.4 513.2,975.1 513.2,975.8 513.2,976.6 513.2,977.3 513.2,978.0 513.2,978.8 513.2,979.5 513.2,980.2 513.2,980.9 513.2,981.7 513.2,982.4 513.2,983.1 513.2,983.9 513.2,984.6 513.2,985.3 513.3,986.0 513.3,986.7 513.3,987.5 513.3,988.2 513.3,988.9 513.3,989.6 513.3,990.3 513.3,991.1 513.3,991.8 513.3,992.5 513.3,993.2 513.3,993.9 513.3,994.6 513.3,995.3 513.3,996.0 513.3,996.7 513.3,997.4 513.3,998.1 513.3,998.8 513.3,999.5 513.3,1000.2 513.3,1000.9 513.3,1001.6 513.3,1002.3 513.3,1003.0 513.4,1003.7 513.4,1004.4 513.4,1005.0 513.4,1005.7 513.4,1006.4 513.4,1007.0 513.4,1007.7 513.4,1008.4 513.4,1009.1 513.4,1009.7 513.4,1010.4 513.4,1011.0 513.4,1011.7 513.4,1012.4 513.4,1013.0 513.4,1013.7 513.4,1014.3 513.4,1014.9 513.4,1015.6 513.4,1016.2 513.5,1016.9 513.5,1017.5 513.5,1018.1 513.5,1018.8 513.5,1019.3 513.5,1020.0 513.5,1021.1 513.5,1022.1 513.5,1023.0 513.6,1024.0 513.6,1024.9 513.6,1025.7 513.6,1026.5 513.7,1027.3 513.7,1028.1 513.7,1028.8 513.7,1029.5 513.8,1030.1 513.8,1030.8 513.8,1031.4 513.9,1032.0 513.9,1032.6 513.9,1033.2 514.0,1033.8 514.0,1034.3 514.0,1034.9 514.1,1035.4 514.1,1036.0 514.1,1036.6 514.1,1037.3 514.2,1037.9 514.2,1038.5 514.2,1039.1 514.3,1039.8 514.3,1040.5 514.3,1041.2 514.4,1041.9 514.4,1042.6 514.4,1043.4 514.5,1044.1 514.5,1044.8 514.5,1045.5 514.6,1046.2 514.6,1046.9 514.6,1047.7 514.7,1048.4 514.7,1049.1 514.7,1049.8 514.8,1050.6 514.8,1051.3 514.8,1052.0 514.9,1052.7 514.9,1053.4 514.9,1054.1 515.0,1054.8 515.0,1055.5 515.0,1056.3 515.1,1056.9 515.1,1057.6 515.2,1058.2 515.2,1058.9 515.2,1059.5 515.3,1060.4 515.4,1061.2 515.5,1062.0 515.6,1062.7 515.6,1063.5 515.7,1064.3 515.8,1065.0 515.9,1065.7 516.0,1066.5 516.1,1067.1 516.2,1067.9 516.3,1068.4 516.4,1069.3 516.5,1069.9 516.6,1070.4 516.9,1071.3 517.2,1071.9 517.5,1072.4 517.9,1072.9 518.2,1073.4 518.4,1074.5 518.5,1075.2 518.5,1075.8 518.6,1076.5 518.6,1077.2 518.7,1077.9 518.7,1078.5 518.8,1079.2 518.8,1080.0 518.9,1080.7 518.9,1081.4 518.9,1082.1 519.0,1082.9 519.0,1083.6 519.0,1084.3 519.1,1085.1 519.1,1085.8 519.1,1086.6 519.2,1087.3 519.2,1088.0 519.2,1088.8 519.3,1089.5 519.3,1090.2 519.4,1091.0 519.4,1091.7 519.4,1092.4 519.5,1093.1 519.5,1093.9 519.5,1094.6 519.6,1095.3 519.6,1096.0 519.6,1096.8 519.7,1097.5 519.7,1098.3 519.7,1099.0 519.8,1099.7 519.8,1100.5 519.8,1101.2 519.9,1101.9 519.9,1102.6 520.0,1103.4 520.0,1104.1 520.1,1104.7 520.1,1105.4 520.2,1106.0 520.2,1106.6 520.3,1107.3 520.5,1108.2 520.8,1108.8 521.2,1109.6 521.5,1110.1 521.8,1110.5 522.1,1111.5 522.2,1112.1 522.2,1112.6 522.3,1113.3 522.4,1114.0 522.5,1114.7 522.5,1115.4 522.6,1116.2 522.7,1116.8 522.7,1117.5 522.8,1118.2 522.8,1119.0 522.9,1119.7 523.0,1120.5 523.0,1121.2 523.1,1122.0 523.1,1122.7 523.2,1123.5 523.3,1124.2 523.3,1124.9 523.4,1125.7 523.4,1126.4 523.5,1127.1 523.6,1127.8 523.6,1128.5 523.7,1129.2 523.7,1129.9 523.8,1130.7 523.8,1131.4 523.9,1132.1 524.0,1132.8 524.0,1133.6 524.1,1134.3 524.1,1135.0 524.2,1135.7 524.2,1136.4 524.3,1137.2 524.4,1137.9 524.4,1138.6 524.5,1139.3 524.5,1140.0 524.6,1140.7 524.7,1141.4 524.7,1142.0 524.8,1142.8 524.9,1143.5 525.0,1144.3 525.1,1145.2 525.2,1146.0 525.3,1146.8 525.4,1147.7 525.5,1148.7 525.6,1149.4 525.7,1150.3 525.8,1151.2 525.9,1151.8 526.0,1152.6 526.1,1153.4 526.2,1153.9 526.3,1154.5 526.4,1155.0 526.5,1155.5 526.6,1155.8 526.7,1155.4 526.8,1155.2 526.9,1154.5 527.0,1153.9 527.1,1153.0 527.2,1152.1 527.4,1151.1 527.5,1150.2 527.6,1149.4 527.7,1148.3 527.8,1147.6 527.9,1146.8 528.2,1146.0 528.4,1145.0 528.6,1144.1 528.9,1143.4 529.1,1143.1 529.3,1142.6 529.4,1143.3 529.5,1143.8 529.6,1144.3 529.7,1144.9 529.7,1145.7 529.8,1146.4 529.9,1147.2 530.0,1148.0 530.1,1148.7 530.1,1149.6 530.2,1150.4 530.3,1151.2 530.4,1152.1 530.4,1152.9 530.5,1153.7 530.6,1154.4 530.7,1155.0 530.8,1155.9 530.9,1156.7 531.0,1157.7 531.1,1158.6 531.2,1159.5 531.3,1160.3 531.4,1161.1 531.5,1161.8 531.6,1162.4 531.7,1163.0 531.8,1163.3 531.9,1162.9 532.0,1162.4 532.1,1161.7 532.3,1160.8 532.4,1160.0 532.5,1159.0 532.7,1158.1 532.8,1157.2 533.0,1156.5 533.2,1155.8 533.5,1154.6 533.8,1153.8 534.1,1152.9 534.4,1153.1 534.5,1153.4 534.6,1154.0 534.7,1154.6 534.8,1155.3 534.9,1156.0 535.0,1156.7 535.1,1157.5 535.2,1158.4 535.3,1159.2 535.4,1159.9 535.4,1160.9 535.5,1161.6 535.6,1162.4 535.7,1163.2 535.8,1163.9 535.9,1164.7 535.9,1165.3 536.0,1166.1 536.1,1166.8 536.1,1167.5 536.2,1168.3 536.3,1169.0 536.3,1169.7 536.4,1170.5 536.5,1171.2 536.6,1171.9 536.6,1172.7 536.7,1173.5 536.8,1174.1 536.8,1174.9 536.9,1175.6 537.0,1176.3 537.1,1176.9 537.2,1177.7 537.4,1178.7 537.5,1179.6 537.7,1180.5 537.9,1181.4 538.0,1182.0 538.2,1182.9 538.4,1183.3 538.6,1183.6 538.8,1183.2 539.1,1182.8 539.4,1182.1 539.7,1181.4 539.9,1180.5 540.2,1179.5 540.5,1179.1 540.7,1178.3 541.0,1177.9 541.2,1177.1 541.4,1176.4 541.7,1175.6 541.9,1175.0 542.1,1174.1 542.3,1173.3 542.4,1172.7 542.5,1172.2 542.6,1171.6 542.8,1170.8 542.9,1170.2 543.0,1169.4 543.1,1168.7 543.2,1168.0 543.4,1167.2 543.5,1166.4 543.6,1165.7 543.7,1165.0 543.8,1164.3 543.9,1163.5 544.0,1162.8 544.1,1162.1 544.2,1161.3 544.3,1160.5 544.4,1159.8 544.4,1159.2 544.5,1158.4 544.6,1157.7 544.6,1157.0 544.7,1156.3 544.7,1155.6 544.8,1154.8 544.8,1154.1 544.9,1153.4 544.9,1152.6 545.0,1151.9 545.0,1151.1 545.1,1150.4 545.1,1149.7 545.2,1148.9 545.2,1148.2 545.3,1147.5 545.3,1146.8 545.4,1146.2 545.4,1145.4 545.5,1144.8 545.5,1144.1 545.6,1143.4 545.7,1142.7 545.8,1141.8 545.9,1140.8 546.1,1139.9 546.2,1139.0 546.4,1138.2 546.6,1137.5 546.7,1136.6 546.9,1136.5 547.0,1135.9 547.2,1136.0 547.4,1136.8 547.6,1137.2 547.8,1137.9 547.9,1138.7 548.1,1139.5 548.3,1140.4 548.4,1141.3 548.5,1142.0 548.5,1142.6 548.6,1143.4 548.6,1144.0 548.7,1144.6 548.7,1145.3 548.7,1146.1 548.8,1146.7 548.8,1147.5 548.9,1148.1 548.9,1148.9 549.0,1149.6 549.0,1150.3 549.1,1151.0 549.1,1151.8 549.1,1152.5 549.2,1153.2 549.2,1154.0 549.3,1154.7 549.3,1155.4 549.3,1156.2 549.4,1156.9 549.4,1157.7 549.5,1158.4 549.5,1159.0 549.5,1159.8 549.6,1160.5 549.6,1161.2 549.7,1161.9 549.7,1162.6 549.8,1163.2 549.8,1164.0 549.9,1164.8 549.9,1165.5 550.0,1166.3 550.1,1167.1 550.1,1167.7 550.2,1168.5 550.2,1169.3 550.3,1170.0 550.3,1170.7 550.4,1171.4 550.5,1172.1 550.5,1172.9 550.6,1173.6 550.7,1174.2 550.7,1174.9 550.8,1175.5 550.9,1176.2 551.0,1176.9 551.0,1177.6 551.1,1178.2 551.3,1179.0 551.5,1179.8 551.7,1180.5 551.9,1181.2 552.2,1182.0 552.4,1182.8 552.6,1183.2 552.9,1183.5 553.2,1184.3 553.5,1185.2 554.1,1185.6 554.7,1186.0 555.5,1187.0 556.2,1187.0 556.9,1186.9 557.6,1186.8 558.4,1187.4 559.1,1186.7 559.7,1186.6 560.3,1185.9 560.9,1185.6 561.5,1185.0 562.2,1184.5 562.9,1184.2 563.7,1183.9 564.4,1183.4 565.2,1183.1 566.0,1183.3 566.7,1183.8 567.5,1184.1 568.2,1184.3 569.0,1185.1 569.7,1185.0 570.5,1184.8 571.3,1185.2 572.0,1185.7 572.8,1186.3 573.6,1186.4 574.4,1186.7 575.1,1186.9 575.7,1186.7 576.2,1186.1 576.6,1184.8 576.8,1183.8 577.0,1183.2 577.2,1182.2 577.3,1181.3 577.5,1180.5 577.7,1179.8 577.9,1179.2 578.1,1178.4 578.6,1178.3 579.2,1179.2 579.8,1180.4 580.4,1180.7 581.1,1181.1 581.9,1181.4 582.7,1181.6 583.4,1182.0 584.2,1181.6 585.0,1181.1 585.7,1180.8 586.2,1180.1 586.7,1179.7 587.2,1179.4 587.7,1178.9 588.2,1178.4 588.8,1177.7 589.5,1177.7 590.3,1177.2 591.1,1176.8 591.8,1176.4 592.2,1175.8 592.6,1175.2 593.0,1174.5 593.3,1173.5 593.7,1173.1 594.1,1172.3 594.8,1172.0 595.7,1172.8 596.4,1171.6 596.5,1171.3 596.7,1170.4 596.9,1169.6 597.0,1169.0 597.1,1168.1 597.3,1167.3 597.4,1166.4 597.5,1165.6 597.7,1164.8 597.8,1164.0 597.9,1163.4 598.1,1162.5 598.2,1162.0 598.3,1161.3 598.5,1160.8 598.6,1160.2 598.9,1160.3 599.2,1161.4 599.5,1162.1 599.9,1162.5 600.2,1163.2 600.6,1164.0 600.9,1164.5 601.5,1166.1 602.2,1166.6 602.9,1167.1 603.5,1167.3 603.8,1167.1 604.0,1165.9 604.2,1165.7 604.5,1164.9 604.7,1164.2 604.9,1163.3 605.1,1162.8 605.3,1161.7 605.5,1161.1 605.7,1160.1 606.0,1159.2 606.2,1158.4 606.5,1157.5 606.7,1156.9 607.0,1156.5 607.2,1156.9 607.4,1157.3 607.5,1158.0 607.7,1158.9 607.9,1159.4 608.1,1160.3 608.2,1161.2 608.4,1162.0 608.6,1162.6 608.8,1163.4 609.0,1164.2 609.2,1164.7 609.5,1165.5 609.8,1166.7 610.0,1167.4 610.3,1168.0 610.6,1168.4 610.8,1168.5 611.0,1168.2 611.2,1167.5 611.3,1167.3 611.5,1166.5 611.7,1165.9 611.9,1165.3 612.0,1164.5 612.2,1163.7 612.3,1162.8 612.5,1162.1 612.6,1161.0 612.7,1160.5 612.8,1159.8 612.8,1159.1 612.9,1158.5 612.9,1157.7 613.0,1157.0 613.1,1156.3 613.1,1155.6 613.2,1154.9 613.2,1154.2 613.3,1153.4 613.3,1152.7 613.4,1151.9 613.4,1151.2 613.5,1150.5 613.5,1149.7 613.6,1149.0 613.6,1148.3 613.7,1147.5 613.7,1146.7 613.7,1145.9 613.8,1145.2 613.8,1144.4 613.9,1143.7 613.9,1143.0 613.9,1142.3 614.0,1141.7 614.0,1140.9 614.0,1140.2 614.1,1139.5 614.1,1138.7 614.1,1138.1 614.1,1137.3 614.2,1136.6 614.2,1135.8 614.2,1135.1 614.3,1134.4 614.3,1133.6 614.3,1132.9 614.3,1132.2 614.4,1131.4 614.4,1130.7 614.4,1130.0 614.4,1129.2 614.5,1128.5 614.5,1127.8 614.5,1127.1 614.5,1126.4 614.6,1125.7 614.6,1125.0 614.6,1124.3 614.7,1123.6 614.7,1122.9 614.7,1122.3 614.8,1121.6 614.8,1120.7 614.8,1119.9 614.9,1119.0 615.0,1118.1 615.0,1117.3 615.1,1116.3 615.1,1115.5 615.2,1114.6 615.2,1113.8 615.3,1113.1 615.3,1112.3 615.4,1111.7 615.4,1111.0 615.5,1110.6 615.6,1110.1 615.6,1110.0 615.7,1109.5 615.7,1110.0 615.8,1110.1 615.8,1110.6 615.9,1111.3 615.9,1111.7 616.0,1112.5 616.0,1113.2 616.1,1114.0 616.1,1114.9 616.2,1115.7 616.3,1116.6 616.3,1117.5 616.4,1118.3 616.4,1119.2 616.5,1120.1 616.5,1120.8 616.6,1121.6 616.6,1122.3 616.7,1123.0 616.7,1123.8 616.8,1124.6 616.8,1125.5 616.9,1126.2 616.9,1127.0 617.0,1127.8 617.0,1128.6 617.1,1129.4 617.1,1130.1 617.2,1130.9 617.2,1131.6 617.3,1132.3 617.4,1133.0 617.4,1133.6 617.5,1134.1 617.6,1134.8 617.6,1135.3 618.0,1135.7 618.4,1134.4 618.8,1133.3 619.2,1132.4 619.4,1131.4 619.7,1130.2 620.0,1129.3 620.2,1128.4 620.5,1127.9 620.7,1128.2 620.8,1128.0 620.9,1128.7 621.0,1129.2 621.1,1129.8 621.1,1130.6 621.2,1131.3 621.3,1132.0 621.4,1132.9 621.5,1133.6 621.6,1134.5 621.6,1135.2 621.7,1136.1 621.8,1136.9 621.9,1137.7 622.0,1138.5 622.1,1139.2 622.2,1140.0 622.4,1140.7 622.6,1141.5 622.8,1142.6 623.0,1143.5 623.2,1144.3 623.5,1144.9 623.7,1145.7 623.9,1145.3 624.0,1146.1 624.1,1145.4 624.2,1145.0 624.2,1144.5 624.3,1144.0 624.4,1143.4 624.4,1142.7 624.5,1142.0 624.5,1141.4 624.6,1140.6 624.6,1140.0 624.7,1139.1 624.7,1138.4 624.8,1137.6 624.8,1136.7 624.9,1135.9 624.9,1135.1 625.0,1134.2 625.0,1133.4 625.1,1132.5 625.1,1131.8 625.2,1130.9 625.2,1130.0 625.2,1129.2 625.3,1128.5 625.3,1127.9 625.3,1127.2 625.3,1126.5 625.4,1125.8 625.4,1125.2 625.4,1124.5 625.4,1123.8 625.4,1123.1 625.5,1122.4 625.5,1121.7 625.5,1121.0 625.5,1120.2 625.5,1119.5 625.5,1118.8 625.6,1118.1 625.6,1117.4 625.6,1116.6 625.6,1115.9 625.6,1115.2 625.6,1114.5 625.7,1113.7 625.7,1113.0 625.7,1112.3 625.7,1111.6 625.7,1110.8 625.7,1110.1 625.7,1109.3 625.8,1108.6 625.8,1107.9 625.8,1107.2 625.8,1106.5 625.8,1105.7 625.8,1105.0 625.9,1104.3 625.9,1103.6 625.9,1102.9 625.9,1102.2 625.9,1101.5 625.9,1100.8 626.0,1100.2 626.0,1099.5 626.0,1098.8 626.0,1098.0 626.0,1097.2 626.1,1096.4 626.1,1095.7 626.1,1094.8 626.1,1094.0 626.2,1093.2 626.2,1092.3 626.2,1091.5 626.2,1090.7 626.3,1089.9 626.3,1089.1 626.3,1088.2 626.3,1087.4 626.3,1086.6 626.4,1085.9 626.4,1085.1 626.4,1084.4 626.4,1083.6 626.5,1082.9 626.5,1082.2 626.5,1081.6 626.6,1081.0 626.6,1080.4 626.6,1079.8 626.6,1079.3 626.7,1078.7 626.7,1078.3 626.7,1077.9 626.8,1077.4 626.8,1077.8 626.9,1077.8 626.9,1078.2 627.0,1078.8 627.1,1079.6 627.1,1080.3 627.2,1081.2 627.3,1082.1 627.4,1083.0 627.4,1083.9 627.5,1084.9 627.6,1085.8 627.7,1086.7 627.7,1087.5 627.8,1088.2 627.9,1089.1 628.1,1090.2 628.2,1091.3 628.3,1092.4 628.4,1093.3 628.5,1094.1 628.6,1094.4 628.7,1094.2 628.8,1093.8 628.8,1093.3 628.8,1092.7 628.9,1092.1 628.9,1091.5 628.9,1091.0 629.0,1090.3 629.0,1089.6 629.0,1088.9 629.1,1088.2 629.1,1087.6 629.1,1086.8 629.1,1086.0 629.2,1085.3 629.2,1084.5 629.2,1083.8 629.3,1083.0 629.3,1082.2 629.3,1081.4 629.3,1080.6 629.4,1079.8 629.4,1079.0 629.4,1078.2 629.4,1077.4 629.5,1076.6 629.5,1075.8 629.5,1075.0 629.6,1074.2 629.6,1073.5 629.6,1072.7 629.6,1071.9 629.7,1071.2 629.7,1070.5 629.7,1069.8 629.8,1069.1 629.8,1068.4 629.8,1067.6 629.9,1066.7 629.9,1065.8 630.0,1064.9 630.0,1064.0 630.1,1063.0 630.1,1062.1 630.2,1061.1 630.3,1060.3 630.3,1059.4 630.4,1058.5 630.4,1057.7 630.5,1056.9 630.5,1056.2 630.6,1055.6 630.6,1055.0 630.7,1054.5 630.7,1054.0 630.8,1053.6 630.8,1053.3 630.9,1053.4 630.9,1053.5 630.9,1054.0 631.0,1054.3 631.0,1054.8 631.0,1055.3 631.0,1055.8 631.1,1056.4 631.1,1057.0 631.1,1057.7 631.2,1058.3 631.2,1059.0 631.2,1059.7 631.3,1060.4 631.3,1061.2 631.3,1062.0 631.3,1062.8 631.4,1063.6 631.4,1064.4 631.4,1065.3 631.4,1066.1 631.5,1067.0 631.5,1067.8 631.5,1068.7 631.6,1069.5 631.6,1070.4 631.6,1071.2 631.6,1072.0 631.7,1072.8 631.7,1073.7 631.7,1074.5 631.8,1075.2 631.8,1076.0 631.8,1076.7 631.8,1077.4 631.9,1078.0 631.9,1078.8 631.9,1079.4 631.9,1080.1 631.9,1080.8 632.0,1081.5 632.0,1082.2 632.0,1083.0 632.0,1083.7 632.1,1084.4 632.1,1085.1 632.1,1085.8 632.1,1086.5 632.2,1087.2 632.2,1088.0 632.2,1088.7 632.2,1089.4 632.2,1090.1 632.3,1090.8 632.3,1091.6 632.3,1092.3 632.3,1093.0 632.4,1093.7 632.4,1094.5 632.4,1095.2 632.4,1095.9 632.5,1096.6 632.5,1097.3 632.5,1098.0 632.5,1098.8 632.6,1099.5 632.6,1100.2 632.6,1100.9 632.6,1101.5 632.7,1102.3 632.7,1103.0 632.7,1103.7 632.8,1104.3 632.8,1105.1 632.8,1105.7 632.8,1106.4 632.9,1107.1 632.9,1107.9 633.0,1108.6 633.0,1109.4 633.0,1110.2 633.1,1110.9 633.1,1111.7 633.2,1112.5 633.2,1113.2 633.2,1113.9 633.3,1114.7 633.3,1115.4 633.3,1116.2 633.4,1116.9 633.4,1117.6 633.5,1118.3 633.5,1119.1 633.6,1119.8 633.6,1120.5 633.7,1121.2 633.7,1121.9 633.8,1122.6 633.8,1123.3 633.9,1124.0 633.9,1124.7 634.0,1125.3 634.0,1126.1 634.1,1126.7 634.2,1127.3 634.2,1128.0 634.3,1128.5 634.4,1129.2 634.9,1130.3 635.7,1130.7 636.3,1130.5 636.6,1131.6 636.9,1132.7 637.1,1133.8 637.3,1134.9 637.5,1135.7 637.7,1136.3 637.9,1136.1 637.9,1135.5 637.9,1135.1 638.0,1134.5 638.0,1133.9 638.0,1133.4 638.1,1132.8 638.1,1132.2 638.1,1131.6 638.2,1130.9 638.2,1130.4 638.2,1129.7 638.2,1129.0 638.3,1128.3 638.3,1127.7 638.3,1127.0 638.4,1126.3 638.4,1125.6 638.4,1124.9 638.4,1124.2 638.5,1123.4 638.5,1122.7 638.5,1121.9 638.5,1121.2 638.5,1120.4 638.6,1119.7 638.6,1118.9 638.6,1118.1 638.6,1117.4 638.7,1116.6 638.7,1115.8 638.7,1115.0 638.7,1114.2 638.7,1113.4 638.8,1112.6 638.8,1111.9 638.8,1111.1 638.8,1110.3 638.8,1109.5 638.9,1108.7 638.9,1107.9 638.9,1107.2 638.9,1106.4 638.9,1105.7 638.9,1105.1 639.0,1104.4 639.0,1103.7 639.0,1103.1 639.0,1102.4 639.0,1101.7 639.0,1101.0 639.0,1100.3 639.1,1099.7 639.1,1099.0 639.1,1098.3 639.1,1097.6 639.1,1096.9 639.1,1096.2 639.1,1095.5 639.1,1094.8 639.2,1094.1 639.2,1093.4 639.2,1092.7 639.2,1092.0 639.2,1091.3 639.2,1090.6 639.2,1089.9 639.2,1089.2 639.2,1088.4 639.3,1087.7 639.3,1087.0 639.3,1086.3 639.3,1085.6 639.3,1084.9 639.3,1084.1 639.3,1083.4 639.3,1082.7 639.3,1082.0 639.4,1081.3 639.4,1080.5 639.4,1079.8 639.4,1079.1 639.4,1078.4 639.4,1077.7 639.4,1077.0 639.4,1076.3 639.4,1075.5 639.5,1074.8 639.5,1074.1 639.5,1073.4 639.5,1072.7 639.5,1072.0 639.5,1071.3 639.5,1070.5 639.5,1069.8 639.5,1069.1 639.6,1068.4 639.6,1067.7 639.6,1067.0 639.6,1066.3 639.6,1065.6 639.6,1064.9 639.6,1064.2 639.6,1063.5 639.6,1062.8 639.7,1062.2 639.7,1061.5 639.7,1060.8 639.7,1060.1 639.7,1059.3 639.7,1058.6 639.7,1057.9 639.7,1057.2 639.8,1056.4 639.8,1055.7 639.8,1055.0 639.8,1054.2 639.8,1053.5 639.8,1052.8 639.8,1052.0 639.9,1051.3 639.9,1050.6 639.9,1049.9 639.9,1049.1 639.9,1048.4 639.9,1047.7 639.9,1046.9 639.9,1046.2 640.0,1045.5 640.0,1044.8 640.0,1044.1 640.0,1043.3 640.0,1042.6 640.0,1041.9 640.0,1041.2 640.1,1040.5 640.1,1039.8 640.1,1039.0 640.1,1038.4 640.1,1037.7 640.1,1036.9 640.1,1036.3 640.2,1035.5 640.2,1034.9 640.2,1034.1 640.2,1033.5 640.2,1032.8 640.2,1032.1 640.2,1031.4 640.3,1030.7 640.3,1030.1 640.3,1029.4 640.3,1028.7 640.3,1028.0 640.3,1027.4 640.3,1026.7 640.4,1026.0 640.4,1025.4 640.4,1024.7 640.4,1024.1 640.4,1023.5 640.4,1022.8 640.5,1021.9 640.5,1021.0 640.5,1020.1 640.6,1019.2 640.6,1018.2 640.6,1017.2 640.6,1016.3 640.7,1015.4 640.7,1014.5 640.7,1013.5 640.8,1012.7 640.8,1011.8 640.8,1011.0 640.9,1010.2 640.9,1009.4 640.9,1008.7 641.0,1008.1 641.0,1007.5 641.0,1007.0 641.1,1006.5 641.1,1006.0 641.1,1005.9 641.2,1005.4 641.2,1005.0 641.2,1005.6 641.2,1006.0 641.3,1006.4 641.3,1006.9 641.3,1007.3 641.3,1007.9 641.4,1008.4 641.4,1009.0 641.4,1009.7 641.4,1010.3 641.4,1011.0 641.5,1011.7 641.5,1012.4 641.5,1013.2 641.5,1013.9 641.6,1014.7 641.6,1015.5 641.6,1016.3 641.6,1017.1 641.6,1018.0 641.7,1018.8 641.7,1019.7 641.7,1020.5 641.7,1021.4 641.7,1022.2 641.8,1023.1 641.8,1023.9 641.8,1024.8 641.8,1025.6 641.9,1026.5 641.9,1027.2 641.9,1028.1 641.9,1028.9 641.9,1029.6 642.0,1030.4 642.0,1031.1 642.0,1031.8 642.0,1032.5 642.0,1033.2 642.0,1033.8 642.1,1034.5 642.1,1035.3 642.1,1036.0 642.1,1036.7 642.1,1037.3 642.2,1038.1 642.2,1038.8 642.2,1039.5 642.2,1040.2 642.2,1040.9 642.2,1041.6 642.2,1042.3 642.3,1043.0 642.3,1043.7 642.3,1044.4 642.3,1045.1 642.3,1045.8 642.3,1046.5 642.4,1047.3 642.4,1048.0 642.4,1048.7 642.4,1049.4 642.4,1050.1 642.5,1050.9 642.5,1051.6 642.5,1052.3 642.5,1053.0 642.5,1053.7 642.5,1054.4 642.6,1055.1 642.6,1055.8 642.6,1056.5 642.6,1057.2 642.6,1057.9 642.7,1058.7 642.7,1059.4 642.7,1060.1 642.7,1060.8 642.7,1061.5 642.8,1062.2 642.8,1062.9 642.8,1063.6 642.8,1064.4 642.9,1065.1 642.9,1065.8 642.9,1066.6 642.9,1067.3 643.0,1068.0 643.0,1068.7 643.0,1069.5 643.0,1070.2 643.1,1071.0 643.1,1071.7 643.1,1072.4 643.1,1073.2 643.2,1073.9 643.2,1074.6 643.2,1075.3 643.2,1076.1 643.3,1076.8 643.3,1077.5 643.3,1078.3 643.4,1079.0 643.4,1079.7 643.4,1080.4 643.4,1081.1 643.5,1081.8 643.5,1082.6 643.5,1083.2 643.6,1083.9 643.6,1084.6 643.6,1085.3 643.7,1086.0 643.7,1086.6 643.7,1087.4 643.8,1088.0 643.8,1088.7 643.8,1089.3 643.9,1089.9 643.9,1090.6 643.9,1091.2 644.0,1092.3 644.2,1093.2 644.3,1094.1 644.4,1094.9 644.6,1095.8 644.7,1096.5 644.9,1097.1 645.0,1097.5 645.2,1098.0 645.3,1098.6 645.5,1098.6 645.6,1098.5 645.7,1097.8 645.9,1097.1 646.0,1096.2 646.2,1095.1 646.3,1094.2 646.5,1093.3 646.6,1092.5 646.7,1091.6 646.9,1091.4 647.0,1090.9 647.0,1091.6 647.1,1092.1 647.2,1092.5 647.2,1093.1 647.3,1093.8 647.3,1094.5 647.4,1095.1 647.4,1095.8 647.5,1096.7 647.5,1097.4 647.6,1098.2 647.6,1099.1 647.7,1099.9 647.7,1100.8 647.8,1101.6 647.8,1102.5 647.8,1103.3 647.9,1104.1 647.9,1104.9 648.0,1105.7 648.0,1106.4 648.1,1107.2 648.1,1107.9 648.2,1108.6 648.2,1109.4 648.3,1110.1 648.3,1110.9 648.4,1111.6 648.4,1112.4 648.4,1113.1 648.5,1113.8 648.5,1114.6 648.6,1115.3 648.6,1116.1 648.7,1116.8 648.7,1117.5 648.8,1118.2 648.8,1119.0 648.9,1119.6 649.0,1120.3 649.0,1121.0 649.1,1121.5 649.7,1122.7 650.3,1123.1 650.4,1123.8 650.5,1124.4 650.6,1125.1 650.6,1125.7 650.7,1126.4 650.8,1127.2 650.8,1127.9 650.9,1128.6 651.0,1129.4 651.0,1130.2 651.1,1130.9 651.1,1131.6 651.2,1132.4 651.2,1133.1 651.3,1133.9 651.4,1134.6 651.4,1135.3 651.5,1136.1 651.5,1136.8 651.6,1137.5 651.7,1138.3 651.7,1139.0 651.8,1139.8 651.8,1140.5 651.9,1141.2 651.9,1142.0 652.0,1142.7 652.1,1143.5 652.1,1144.1 652.2,1144.9 652.2,1145.6 652.3,1146.3 652.4,1147.0 652.4,1147.7 652.5,1148.5 652.6,1149.0 652.8,1149.8 653.1,1150.5 653.3,1151.2 653.6,1151.6 653.9,1152.8 654.1,1153.6 654.2,1154.1 654.3,1154.8 654.4,1155.5 654.5,1156.2 654.6,1156.9 654.6,1157.6 654.7,1158.4 654.8,1159.2 654.9,1159.8 655.0,1160.5 655.0,1161.3 655.1,1162.0 655.2,1162.8 655.3,1163.5 655.3,1164.3 655.4,1164.9 655.5,1165.7 655.6,1166.4 655.6,1167.2 655.7,1167.9 655.8,1168.7 655.9,1169.4 655.9,1170.1 656.0,1170.8 656.1,1171.6 656.2,1172.4 656.2,1173.1 656.3,1173.9 656.4,1174.6 656.4,1175.4 656.5,1176.1 656.6,1176.8 656.7,1177.6 656.8,1178.3 656.9,1178.9 657.0,1179.7 657.1,1180.3 657.2,1180.8 657.5,1181.7 657.9,1182.6 658.3,1183.2 658.7,1183.4 659.1,1183.8 659.6,1184.7 660.0,1185.4 660.4,1186.1 660.9,1186.8 661.3,1187.3 661.7,1187.3 662.1,1187.3 662.5,1186.7 662.9,1186.0 663.3,1185.4 663.7,1185.4 664.4,1184.6 665.1,1185.5 665.8,1185.8 666.5,1185.7 667.1,1184.9 667.8,1184.8 668.9,1184.6 669.8,1184.0 669.9,1183.6 669.9,1183.0 670.0,1182.4 670.1,1181.7 670.2,1181.0 670.2,1180.4 670.3,1179.7 670.4,1178.9 670.4,1178.2 670.5,1177.5 670.5,1176.7 670.6,1176.0 670.6,1175.3 670.7,1174.5 670.7,1173.8 670.7,1173.0 670.8,1172.2 670.8,1171.5 670.9,1170.8 670.9,1170.1 671.0,1169.4 671.0,1168.7 671.1,1167.9 671.1,1167.2 671.2,1166.5 671.3,1165.7 671.3,1165.0 671.4,1164.3 671.4,1163.6 671.5,1162.9 671.6,1162.0 671.6,1161.3 671.7,1160.6 671.7,1159.9 671.8,1159.2 671.8,1158.5 671.9,1157.7 672.0,1157.0 672.0,1156.3 672.1,1155.6 672.1,1154.9 672.2,1154.1 672.2,1153.4 672.3,1152.7 672.4,1152.0 672.4,1151.3 672.5,1150.6 672.5,1149.8 672.6,1149.2 672.6,1148.3 672.7,1147.6 672.7,1146.9 672.8,1146.2 672.8,1145.5 672.9,1144.8 672.9,1144.0 673.0,1143.3 673.0,1142.6 673.1,1141.8 673.1,1141.2 673.2,1140.4 673.2,1139.7 673.3,1139.0 673.3,1138.2 673.4,1137.5 673.4,1136.8 673.5,1136.1 673.5,1135.4 673.6,1134.6 673.6,1133.9 673.6,1133.2 673.7,1132.5 673.7,1131.7 673.8,1131.0 673.8,1130.3 673.9,1129.6 673.9,1128.8 674.0,1128.1 674.0,1127.4 674.0,1126.7 674.1,1126.0 674.1,1125.2 674.2,1124.5 674.2,1123.7 674.3,1123.0 674.3,1122.4 674.3,1121.6" fill="none" stroke="#0a0a0a" stroke-width="1.55" stroke-linejoin="round" stroke-linecap="round"/>
<line x1="518.1" y1="664.7" x2="571.9" y2="664.7" stroke="#111" stroke-width="1.8"/>
<text transform="translate(37.8,1134.1) rotate(-90)" font-size="22" font-weight="bold" word-spacing="2.1" stroke="#111" stroke-width="0.4" textLength="350.70" lengthAdjust="spacingAndGlyphs">Raman Intesity/Arbitr. Units</text>
<line x1="542.70" y1="1082.30" x2="535.99" y2="1126.22" stroke="#111" stroke-width="1.1"/><polygon points="534.40,1136.60 533.42,1123.81 539.16,1124.68" fill="#111"/>
<line x1="491.30" y1="856.70" x2="506.65" y2="890.44" stroke="#111" stroke-width="1.1"/><polygon points="511.00,900.00 503.18,889.82 508.46,887.42" fill="#111"/></g>
<g><path d="M791.4,1157.0 791.5,1156.5 791.6,1155.2 791.7,1155.6 791.8,1154.3 791.9,1155.1 791.9,1154.6 792.0,1153.6 792.1,1153.5 792.2,1153.1 792.3,1152.2 792.4,1152.4 792.5,1151.5 792.6,1150.5 792.7,1150.4 792.8,1150.2 792.9,1149.6 793.0,1149.3 793.1,1148.7 793.2,1148.3 793.3,1148.1 793.4,1147.3 793.5,1146.9 793.6,1146.8 793.7,1146.7 793.9,1145.2 794.0,1145.5 794.1,1144.1 794.2,1144.2 794.4,1144.9 794.5,1142.6 794.6,1142.4 794.8,1142.1 794.9,1141.6 795.0,1141.3 795.1,1141.2 795.3,1140.4 795.4,1140.7 795.5,1139.5 795.7,1139.3 795.8,1138.1 795.9,1138.9 796.1,1138.3 796.2,1137.4 796.4,1137.3 796.5,1136.6 796.7,1135.6 796.9,1135.6 797.0,1135.1 797.2,1135.4 797.4,1134.1 797.5,1134.4 797.7,1132.6 797.9,1133.9 798.1,1133.2 798.2,1131.9 798.4,1130.6 798.6,1131.4 798.8,1130.4 799.0,1129.0 799.2,1129.1 799.4,1129.6 799.7,1129.9 799.9,1127.8 800.2,1128.6 800.4,1128.0 800.7,1126.8 800.9,1126.1 801.2,1125.6 801.4,1127.3 801.7,1126.1 802.0,1126.8 802.2,1126.1 802.5,1124.2 802.7,1124.1 803.0,1124.1 803.3,1123.0 803.5,1122.2 803.8,1124.0 804.0,1121.7 804.3,1120.7 804.5,1122.1 804.8,1121.4 805.0,1121.3 805.3,1118.4 805.6,1119.7 806.0,1120.5 806.5,1118.8 806.9,1119.0 807.4,1117.8 807.9,1119.0 808.4,1119.7 808.8,1119.2 809.2,1119.7 809.6,1121.0 810.0,1121.7 810.4,1121.2 810.8,1121.3 811.2,1122.7 811.6,1120.6 812.0,1122.8 812.4,1120.9 812.9,1121.1 813.4,1119.9 813.9,1122.0 814.3,1122.9 814.8,1121.8 815.1,1121.6 815.4,1120.6 815.8,1123.0 816.1,1124.9 816.4,1124.4 816.7,1124.1 817.1,1124.3 817.4,1125.5 817.7,1125.5 818.0,1125.4 818.3,1127.1 818.6,1126.4 818.9,1125.4 819.2,1126.9 819.4,1126.7 819.7,1127.5 820.0,1128.6 820.2,1126.8 820.5,1129.4 820.8,1129.0 821.0,1130.0 821.3,1128.4 821.6,1131.3 821.9,1131.4 822.2,1130.3 822.5,1131.5 822.8,1131.1 823.0,1133.4 823.3,1133.0 823.6,1134.0 823.9,1134.0 824.2,1134.8 824.5,1133.7 824.8,1134.5 825.2,1133.9 825.5,1135.2 825.8,1133.5 826.1,1136.5 826.5,1136.3 826.8,1136.8 827.2,1138.1 827.5,1136.7 827.9,1136.6 828.3,1137.1 828.6,1136.2 829.0,1139.8 829.4,1137.1 829.7,1137.3 830.1,1138.6 830.5,1141.0 830.8,1140.5 831.2,1139.8 831.5,1141.3 831.8,1141.2 832.1,1141.2 832.3,1142.0 832.6,1141.2 832.8,1142.2 833.1,1143.9 833.3,1143.5 833.6,1143.3 833.8,1143.7 834.0,1144.7 834.2,1145.6 834.5,1144.8 834.7,1145.4 834.9,1145.7 835.1,1145.9 835.4,1146.4 835.6,1146.3 835.8,1148.1 836.1,1147.2 836.3,1146.8 836.6,1149.1 836.9,1147.7 837.2,1149.4 837.4,1148.7 837.7,1150.3 838.0,1151.6 838.3,1150.6 838.5,1150.6 838.8,1153.1 839.1,1151.3 839.3,1152.5 839.6,1151.4 839.9,1152.2 840.1,1152.5 840.4,1155.3 840.7,1153.7 840.9,1154.1 841.2,1154.6 841.4,1155.8 841.7,1157.2 841.9,1156.5 842.2,1157.1 842.5,1158.8 842.7,1157.7 842.9,1157.5 843.1,1158.5 843.3,1157.2 843.5,1158.9 843.8,1158.8 844.0,1160.5 844.2,1161.1 844.4,1160.0 844.7,1160.9 844.9,1161.9 845.1,1162.4 845.3,1163.1 845.5,1163.1 845.8,1163.8 846.0,1163.5 846.2,1163.9 846.4,1163.9 846.7,1164.4 846.9,1164.7 847.1,1166.2 847.3,1165.2 847.5,1166.3 847.8,1167.8 848.0,1166.9 848.2,1167.4 848.4,1166.7 848.6,1167.1 848.9,1168.0 849.1,1167.8 849.3,1170.0 849.5,1170.6 849.8,1171.7 850.1,1171.2 850.3,1169.0 850.6,1172.5 850.9,1172.3 851.2,1172.5 851.4,1171.7 851.7,1173.0 852.0,1171.1 852.3,1172.9 852.5,1175.3 852.8,1175.6 853.1,1176.1 853.4,1175.3 853.7,1175.3 854.0,1174.6 854.3,1176.4 854.6,1177.1 854.9,1178.1 855.2,1179.3 855.5,1177.1 855.8,1178.1 856.0,1178.7 856.3,1178.5 856.6,1179.3 857.0,1180.3 857.3,1178.2 857.7,1179.6 858.1,1181.2 858.4,1180.2 858.8,1183.3 859.1,1181.6 859.5,1181.1 860.0,1181.3 860.6,1183.1 861.1,1181.0 861.6,1183.5 861.9,1182.6 862.1,1181.8 862.3,1180.3 862.5,1180.8 862.7,1179.5 863.0,1180.4 863.3,1181.5 863.5,1182.5 863.8,1182.2 864.1,1182.0 864.6,1182.5 865.1,1182.5 865.6,1183.0 866.1,1182.3 866.6,1181.7 866.9,1184.2 867.3,1180.8 867.7,1181.4 868.0,1180.7 868.3,1180.6 868.7,1180.3 868.9,1179.5 869.1,1179.7 869.3,1179.5 869.5,1178.1 869.7,1178.0 869.9,1178.0 870.1,1176.8 870.3,1174.8 870.5,1175.7 870.7,1175.8 870.9,1175.7 871.1,1175.0 871.3,1173.8 871.5,1175.0 871.7,1173.9 871.9,1172.5 872.0,1171.7 872.2,1173.1 872.4,1173.0 872.5,1172.6 872.7,1170.5 872.8,1170.4 873.0,1169.1 873.2,1168.8 873.3,1168.8 873.5,1168.6 873.6,1168.5 873.8,1168.9 873.9,1166.5 874.1,1166.7 874.2,1165.6 874.3,1166.1 874.5,1165.5 874.6,1165.3 874.7,1164.4 874.9,1164.6 875.0,1163.8 875.1,1164.3 875.2,1163.4 875.4,1162.6 875.5,1161.6 875.6,1161.9 875.7,1161.2 875.8,1160.9 875.9,1160.9 876.1,1159.9 876.1,1159.5 876.2,1159.2 876.3,1158.4 876.4,1157.9 876.5,1157.6 876.5,1156.9 876.6,1156.9 876.7,1156.8 876.8,1155.4 876.9,1154.3 876.9,1155.5 877.0,1154.5 877.1,1154.1 877.2,1154.0 877.2,1153.5 877.3,1153.0 877.4,1151.9 877.4,1151.9 877.5,1151.3 877.6,1150.5 877.6,1150.3 877.7,1150.0 877.8,1149.1 877.8,1148.6 877.9,1148.3 878.0,1147.9 878.0,1147.7 878.0,1147.3 878.1,1146.9 878.1,1146.6 878.2,1145.8 878.2,1145.9 878.3,1145.0 878.3,1144.5 878.3,1144.2 878.4,1143.4 878.4,1143.2 878.5,1142.6 878.5,1142.6 878.5,1142.0 878.6,1141.4 878.6,1140.9 878.7,1140.1 878.7,1140.1 878.7,1139.2 878.8,1139.0 878.8,1138.4 878.8,1138.1 878.9,1137.6 878.9,1136.8 878.9,1136.4 879.0,1136.0 879.0,1135.6 879.1,1135.1 879.1,1134.6 879.1,1134.3 879.2,1134.1 879.2,1133.4 879.2,1133.0 879.3,1132.7 879.3,1132.1 879.3,1131.2 879.4,1131.2 879.4,1130.4 879.4,1130.1 879.4,1130.0 879.5,1128.6 879.5,1128.9 879.5,1128.2 879.6,1127.8 879.6,1127.3 879.6,1126.8 879.6,1126.5 879.7,1126.0 879.7,1125.6 879.7,1124.9" fill="none" stroke="#0a0a0a" stroke-width="1.85" stroke-linejoin="round" stroke-linecap="round"/>
<path d="M879.7,1124.9 879.8,1124.4 879.8,1124.1 879.8,1123.7 879.8,1123.3 879.9,1123.0 879.9,1122.6 879.9,1122.1 879.9,1121.5 880.0,1121.1 880.0,1120.8 880.0,1120.1 880.0,1119.6 880.1,1119.0 880.1,1118.8 880.1,1118.3 880.1,1117.7 880.2,1117.2 880.2,1116.8 880.2,1116.5 880.2,1115.8 880.3,1115.3 880.3,1114.9 880.3,1114.4 880.3,1114.0 880.4,1113.6 880.4,1113.1 880.4,1112.7 880.4,1112.4 880.5,1111.9 880.5,1111.6 880.5,1111.2 880.5,1110.4 880.5,1110.0 880.6,1109.7 880.6,1109.3 880.6,1108.9 880.6,1108.4 880.7,1107.9 880.7,1107.4 880.7,1106.7 880.7,1106.5 880.8,1106.0 880.8,1105.8 880.8,1105.1 880.8,1104.8 880.8,1104.5 880.9,1103.7 880.9,1103.2 880.9,1102.9 880.9,1102.4 881.0,1101.7 881.0,1101.6 881.0,1101.0 881.0,1100.7 881.0,1100.0 881.1,1099.7 881.1,1099.4 881.1,1098.8 881.1,1098.1 881.2,1098.0 881.2,1097.2 881.2,1097.2 881.2,1096.5 881.3,1095.8 881.3,1095.7 881.3,1094.9 881.3,1094.5 881.3,1094.1 881.4,1093.7 881.4,1093.0 881.4,1092.4 881.4,1092.3 881.5,1091.8 881.5,1091.6 881.5,1090.9 881.5,1090.3 881.5,1089.9 881.5,1089.5 881.6,1089.3 881.6,1088.9 881.6,1087.9 881.6,1088.0 881.6,1087.5 881.7,1086.8 881.7,1086.6 881.7,1086.0 881.7,1085.2 881.7,1085.1 881.7,1084.6 881.8,1084.2 881.8,1083.8 881.8,1083.4 881.8,1082.9 881.8,1082.4 881.9,1081.8 881.9,1081.2 881.9,1081.2 881.9,1080.8 881.9,1080.3 881.9,1079.7 882.0,1079.2 882.0,1078.8 882.0,1078.4 882.0,1078.0 882.0,1077.5 882.1,1076.9 882.1,1076.7 882.1,1075.9 882.1,1075.5 882.1,1075.1 882.1,1074.7 882.2,1074.3 882.2,1073.6 882.2,1073.5 882.2,1073.0 882.2,1072.4 882.3,1072.1 882.3,1071.4 882.3,1071.1 882.3,1070.8 882.3,1070.1 882.3,1069.9 882.4,1069.5 882.4,1069.0 882.4,1068.3 882.4,1067.8 882.4,1067.3 882.5,1066.9 882.5,1066.4 882.5,1066.2 882.5,1065.7 882.5,1065.1 882.5,1064.7 882.6,1064.2 882.6,1063.7 882.6,1063.4 882.6,1062.7 882.6,1062.5 882.6,1062.0 882.7,1061.5 882.7,1061.1 882.7,1060.8 882.7,1060.3 882.7,1059.9 882.7,1059.4 882.8,1058.8 882.8,1058.4 882.8,1058.3 882.8,1057.7 882.8,1057.1 882.8,1057.0 882.9,1056.3 882.9,1056.2 882.9,1055.7 882.9,1055.5 882.9,1054.8 882.9,1054.3 882.9,1054.1 883.0,1053.6 883.0,1052.9 883.0,1052.8 883.0,1052.4 883.0,1051.8 883.0,1051.4 883.1,1051.0 883.1,1050.8 883.1,1050.2 883.1,1049.9 883.1,1049.3 883.1,1048.9 883.1,1048.6 883.2,1048.1 883.2,1047.7 883.2,1047.2 883.2,1046.7 883.2,1046.4 883.2,1045.8 883.3,1045.4 883.3,1045.2 883.3,1044.2 883.3,1044.1 883.3,1043.6 883.3,1043.2 883.4,1042.5 883.4,1042.3 883.4,1041.5 883.4,1041.2 883.4,1040.9 883.4,1040.3 883.4,1039.9 883.5,1039.3 883.5,1038.7 883.5,1038.3 883.5,1037.6 883.5,1037.1 883.5,1036.8 883.5,1036.2 883.6,1035.5 883.6,1034.9 883.6,1034.4 883.6,1034.1 883.6,1033.8 883.6,1033.3 883.6,1032.9 883.6,1032.5 883.6,1032.1 883.7,1031.7 883.7,1031.3 883.7,1030.7 883.7,1030.4 883.7,1030.0 883.7,1029.6 883.7,1029.3 883.7,1028.8 883.7,1028.2 883.7,1027.9 883.8,1027.5 883.8,1027.0 883.8,1026.5 883.8,1026.3 883.8,1025.7 883.8,1025.3 883.8,1025.0 883.8,1024.4 883.8,1023.9 883.8,1023.6 883.8,1023.0 883.9,1022.4 883.9,1022.2 883.9,1021.8 883.9,1021.3 883.9,1020.8 883.9,1020.5 883.9,1019.9 883.9,1019.5 883.9,1019.0 883.9,1018.6 884.0,1018.2 884.0,1017.7 884.0,1017.3 884.0,1016.8 884.0,1016.3 884.0,1015.8 884.0,1015.6 884.0,1015.0 884.0,1014.6 884.0,1014.1 884.1,1013.5 884.1,1013.2 884.1,1012.8 884.1,1012.2 884.1,1011.8 884.1,1011.2 884.1,1010.9 884.1,1010.4 884.1,1009.9 884.1,1009.5 884.1,1009.0 884.2,1008.6 884.2,1008.2 884.2,1007.7 884.2,1007.1 884.2,1006.7 884.2,1006.4 884.2,1005.6 884.2,1005.3 884.2,1004.6 884.2,1004.6 884.2,1003.9 884.3,1003.5 884.3,1003.0 884.3,1002.6 884.3,1002.3 884.3,1001.6 884.3,1001.1 884.3,1000.5 884.3,1000.4 884.3,999.6 884.3,999.3 884.4,998.8 884.4,998.3 884.4,997.8 884.4,997.5 884.4,996.8 884.4,996.4 884.4,996.0 884.4,995.6 884.4,994.9 884.4,994.7 884.4,994.0 884.5,993.7 884.5,993.1 884.5,992.5 884.5,992.1 884.5,991.8 884.5,991.1 884.5,990.9 884.5,990.1 884.5,989.9 884.5,989.4 884.6,988.9 884.6,988.7 884.6,988.1 884.6,987.6 884.6,987.1 884.6,986.6 884.6,986.2 884.6,985.6 884.6,985.2 884.6,984.7 884.6,984.3 884.7,984.1 884.7,983.2 884.7,982.9 884.7,982.4 884.7,981.9 884.7,981.5 884.7,981.1 884.7,980.7 884.7,980.1 884.7,979.7 884.8,979.2 884.8,978.8 884.8,978.2 884.8,977.9 884.8,977.3 884.8,977.0 884.8,976.4 884.8,976.0 884.8,975.7 884.8,975.0 884.8,974.6 884.9,974.2 884.9,973.8 884.9,973.4 884.9,972.9 884.9,972.6 884.9,972.1 884.9,971.6 884.9,971.3 884.9,970.6 884.9,970.3 885.0,969.7 885.0,969.3 885.0,969.0 885.0,968.5 885.0,968.1 885.0,967.7 885.0,966.9 885.0,966.7 885.0,966.3 885.0,965.7 885.1,965.5 885.1,964.8 885.1,964.5 885.1,963.8 885.1,963.4 885.1,963.0 885.1,962.3 885.1,961.9 885.1,961.6 885.2,961.0 885.2,960.6 885.2,960.3 885.2,959.5 885.2,959.0 885.2,958.8 885.2,958.2 885.2,957.6 885.2,957.4 885.3,957.1 885.3,956.6 885.3,956.2 885.3,955.4 885.3,955.0 885.3,954.8 885.3,954.2 885.3,953.7 885.4,953.1 885.4,952.7 885.4,952.4 885.4,951.9 885.4,951.2 885.4,951.1 885.4,950.5 885.4,950.0 885.4,949.6 885.5,949.3 885.5,948.8 885.5,948.3 885.5,947.8 885.5,947.4 885.5,946.9 885.5,946.4 885.5,946.0 885.5,945.6 885.6,945.2 885.6,944.8 885.6,944.2 885.6,943.6 885.6,943.4 885.6,942.7 885.6,942.2 885.6,942.0 885.7,941.5 885.7,941.0 885.7,940.7 885.7,940.4 885.7,939.9 885.7,939.4 885.7,938.8 885.7,938.5 885.7,938.0 885.8,937.4 885.8,937.2 885.8,936.7 885.8,936.1 885.8,935.8 885.8,935.3 885.8,935.1 885.8,934.6 885.8,933.9 885.9,933.6 885.9,933.0 885.9,932.9 885.9,932.1 885.9,931.6 885.9,931.5 885.9,931.0 885.9,930.4 886.0,930.0 886.0,929.8 886.0,929.0 886.0,928.7 886.0,928.4 886.0,928.0 886.0,927.5 886.0,927.1 886.0,926.6 886.1,926.1 886.1,925.6 886.1,925.1 886.1,924.7 886.1,924.3 886.1,923.9 886.1,923.5 886.1,922.9 886.1,922.5 886.1,922.0 886.2,921.6 886.2,921.2 886.2,920.9 886.2,920.2 886.2,919.8 886.2,919.4 886.2,919.0 886.2,918.4 886.2,917.9 886.3,917.5 886.3,917.0 886.3,916.7 886.3,916.3 886.3,915.8 886.3,915.2 886.3,914.8 886.3,914.6 886.3,914.1 886.3,913.5 886.4,913.0 886.4,912.7 886.4,912.2 886.4,911.7 886.4,911.1 886.4,910.8 886.4,910.4 886.4,910.0 886.4,909.4 886.4,909.3 886.5,908.4 886.5,908.0 886.5,907.8 886.5,907.2 886.5,906.6 886.5,906.2 886.5,905.8 886.5,905.3 886.5,905.0 886.5,904.4 886.6,904.2 886.6,903.5 886.6,903.1 886.6,902.5 886.6,902.2 886.6,901.6 886.6,901.3 886.6,900.8 886.6,900.4 886.6,900.1 886.6,899.7 886.7,899.2 886.7,898.6 886.7,898.2 886.7,897.8 886.7,897.2 886.7,896.8 886.7,896.4 886.7,896.1 886.7,895.4 886.7,895.0 886.7,894.4 886.8,894.0 886.8,893.5 886.8,893.2 886.8,892.8 886.8,892.3 886.8,891.8 886.8,891.5 886.8,890.8 886.8,890.5 886.8,890.1 886.8,889.5 886.9,889.2 886.9,888.7 886.9,888.3 886.9,887.7 886.9,887.3 886.9,887.0 886.9,886.5 886.9,885.9 886.9,885.3 886.9,885.2 886.9,884.6 887.0,884.2 887.0,883.6 887.0,883.3 887.0,883.0 887.0,882.4 887.0,881.9 887.0,881.4 887.0,881.2 887.0,880.6 887.0,880.1 887.0,879.8 887.1,879.1 887.1,878.9 887.1,878.3 887.1,877.8 887.1,877.3 887.1,877.0 887.1,876.5 887.1,876.2 887.1,875.6 887.1,875.0 887.1,874.5 887.1,874.2 887.2,873.8 887.2,873.4 887.2,872.8 887.2,872.4 887.2,871.9 887.2,871.5 887.2,871.2 887.2,870.6 887.2,870.3 887.2,869.9 887.2,869.4 887.2,868.8 887.3,868.5 887.3,868.0 887.3,867.4 887.3,867.1 887.3,866.6 887.3,866.0 887.3,865.5 887.3,865.3 887.3,864.8 887.3,864.1 887.3,863.8 887.3,863.5 887.4,862.9 887.4,862.5 887.4,862.2 887.4,861.6 887.4,861.2 887.4,860.7 887.4,860.2 887.4,859.7 887.4,859.2 887.4,858.8 887.4,858.4 887.4,858.0 887.4,857.4 887.4,857.0 887.5,856.5 887.5,856.1 887.5,855.8 887.5,855.3 887.5,854.8 887.5,854.3 887.5,853.8 887.5,853.4 887.5,852.9 887.5,852.4 887.5,851.9 887.5,851.5 887.5,851.1 887.5,850.5 887.6,849.9 887.6,849.6 887.6,849.1 887.6,848.7 887.6,848.4 887.6,847.7 887.6,847.3 887.6,846.7 887.6,846.4 887.6,846.0 887.6,845.3 887.6,844.8 887.6,844.4 887.6,844.0 887.7,843.6 887.7,843.0 887.7,842.6 887.7,842.1 887.7,841.6 887.7,841.2 887.7,840.6 887.7,840.5 887.7,839.7 887.7,839.4 887.7,838.9 887.7,838.6 887.7,838.0 887.7,837.5 887.7,837.0 887.8,836.5 887.8,836.1 887.8,835.8 887.8,835.2 887.8,834.9 887.8,834.3 887.8,833.7 887.8,833.4 887.8,832.9 887.8,832.3 887.8,832.0 887.8,831.5 887.8,831.1 887.8,830.6 887.8,830.1 887.9,829.8 887.9,829.4 887.9,828.7 887.9,828.4 887.9,827.8 887.9,827.4 887.9,827.1 887.9,826.5 887.9,826.2 887.9,825.5 887.9,825.2 887.9,824.8 887.9,824.4 887.9,823.8 887.9,823.5 888.0,822.9 888.0,822.4 888.0,822.3 888.0,821.6 888.0,821.4 888.0,821.0 888.0,820.6 888.0,820.1 888.0,819.6 888.0,819.2 888.0,818.8 888.0,818.1 888.0,818.0 888.0,817.6 888.0,817.0 888.0,816.7 888.1,816.1 888.1,815.8 888.1,815.4 888.1,815.0 888.1,814.4 888.1,814.1 888.1,813.5 888.1,813.4 888.1,812.8 888.1,812.3 888.1,811.8 888.1,811.3 888.1,810.7 888.1,810.1 888.1,809.7 888.2,809.1 888.2,808.6 888.2,808.1 888.2,807.7 888.2,807.3 888.2,806.7 888.2,806.1 888.2,805.6 888.2,805.2 888.2,804.8 888.2,804.1 888.2,803.9 888.2,803.4 888.2,803.0 888.2,802.5 888.2,802.3 888.3,801.7 888.3,801.2 888.3,800.9 888.3,800.4 888.3,800.1 888.3,799.6 888.3,799.4 888.3,798.8 888.3,798.6 888.3,798.0 888.3,797.5 888.3,797.1 888.3,796.6 888.3,796.3 888.3,795.8 888.3,795.4 888.4,795.1 888.4,794.6 888.4,794.2 888.4,793.8 888.4,793.4 888.4,792.8 888.4,792.4 888.4,792.1 888.4,791.5 888.4,791.1 888.4,790.8 888.4,790.1 888.4,789.7 888.5,789.2 888.5,788.9 888.5,788.4 888.5,787.9 888.5,787.5 888.5,787.1 888.5,786.3 888.5,786.1 888.5,785.5 888.5,785.2 888.6,784.5 888.6,784.3 888.6,783.7 888.6,783.5 888.6,782.8 888.6,782.7 888.6,781.9 888.6,781.4 888.6,781.1 888.6,780.7 888.7,780.2 888.7,779.6 888.7,779.4 888.7,779.0 888.7,778.4 888.7,778.0 888.7,777.3 888.7,777.0 888.7,776.7 888.8,776.3 888.8,775.5 888.8,775.3 888.8,774.8 888.8,774.4 888.8,773.9 888.8,773.4 888.8,772.9 888.8,772.4 888.9,772.1 888.9,771.6 888.9,771.1 888.9,770.6 888.9,770.3 888.9,769.7 888.9,769.2 888.9,768.7 888.9,768.4 888.9,767.8 889.0,767.6 889.0,767.0 889.0,766.5 889.0,766.1 889.0,765.6 889.0,765.2 889.0,764.6 889.0,764.2 889.0,763.8 889.1,763.4 889.1,762.9 889.1,762.4 889.1,762.0 889.1,761.5 889.1,761.2 889.1,760.7 889.1,760.4 889.2,759.7 889.2,759.3 889.2,758.6 889.2,758.4 889.2,758.0 889.2,757.4 889.2,756.9 889.3,756.6 889.3,756.1 889.3,755.6 889.3,755.2 889.3,754.7 889.4,754.3 889.4,753.9 889.4,753.2 889.4,752.8 889.5,752.4 889.5,751.6 889.5,751.4 889.5,751.0 889.6,750.4 889.6,749.9 889.6,749.3 889.7,749.3 889.7,748.5 889.7,748.2 889.7,747.7 889.8,747.5 889.8,746.8 889.8,746.3 889.9,745.6 889.9,745.4 889.9,744.5 889.9,744.4 890.0,744.1 890.0,743.8 890.0,743.1 890.1,742.5 890.1,741.9 890.1,741.6 890.2,741.0 890.2,741.2 890.2,740.4 890.3,739.9 890.3,739.2 890.3,738.8 890.4,738.4 890.4,738.1 890.4,737.9 890.5,737.1 890.5,736.8 890.6,736.4 890.6,736.2 890.7,735.1 890.7,734.9 890.8,734.4 890.8,734.0 890.9,733.9 891.0,733.0 891.0,732.1 891.1,732.2 891.2,732.1 891.2,730.8 891.3,730.4 891.4,730.0 891.4,729.4 891.5,729.6 891.6,729.1 891.6,728.4 891.7,728.4 891.8,727.5 891.8,727.6 891.9,726.0 891.9,726.9 892.0,726.1 892.1,725.0 892.2,724.7 892.3,724.1 892.4,723.7 892.4,723.7 892.5,722.9 892.6,722.7 892.7,722.8 892.8,722.0 892.9,723.1 893.0,723.7 893.1,722.5 893.1,724.4 893.2,725.2 893.3,725.1 893.4,726.0 893.4,726.3 893.5,727.1 893.5,726.9 893.6,727.6 893.6,727.9 893.6,728.7 893.7,728.7 893.7,729.0 893.8,729.9 893.8,730.4 893.9,730.6 893.9,731.2 893.9,731.7 894.0,732.3 894.0,732.2 894.0,733.1 894.1,733.9 894.1,733.9 894.1,734.5 894.2,734.9 894.2,735.3 894.2,736.1 894.3,736.3 894.3,737.0 894.3,737.2 894.3,737.7 894.3,738.2 894.3,738.8 894.4,738.9 894.4,739.5 894.4,740.1 894.4,740.3 894.4,740.8 894.4,741.2 894.4,741.8 894.4,742.2 894.4,742.6 894.4,743.1 894.4,743.5 894.4,744.0 894.4,744.3 894.4,744.9 894.4,745.3 894.4,745.8 894.4,746.3 894.4,746.6 894.4,747.2 894.4,747.7 894.4,748.2 894.4,748.6 894.5,749.1 894.5,749.5 894.5,750.1 894.5,750.6 894.5,750.8 894.5,751.6 894.5,751.8 894.5,752.4 894.5,752.8 894.5,753.3 894.5,753.8 894.6,754.4 894.6,754.7 894.6,755.2 894.6,755.8 894.6,756.1 894.7,756.2 894.7,756.9 894.7,757.5 894.7,757.9 894.8,758.1 894.8,758.8 894.8,759.2 894.9,759.7 894.9,760.1 894.9,760.5 895.0,760.9 895.0,761.9 895.0,761.9 895.1,762.4 895.1,763.0 895.2,763.3 895.2,763.6 895.2,764.5 895.3,764.3 895.3,764.8 895.3,765.6 895.4,765.7 895.4,766.5 895.5,767.0 895.5,767.3 895.6,768.1 895.6,768.2 895.6,768.7 895.7,769.1 895.7,769.9 895.8,770.3 895.8,770.7 895.9,771.2 895.9,771.2 896.0,772.0 896.0,772.9 896.1,772.9 896.1,773.7 896.2,773.8 896.2,774.4 896.3,774.7 896.3,775.0 896.4,775.5 896.5,775.7 896.5,776.9 896.6,777.1 896.7,777.5 896.7,777.8 896.8,778.1 896.9,779.0 896.9,779.4 897.0,779.6 897.1,780.1 897.2,780.4 897.2,781.1 897.3,781.6 897.4,781.8 897.5,782.5 897.5,782.6 897.6,782.6 897.7,783.8 897.8,783.8 897.9,784.1 897.9,784.2 898.0,785.6 898.1,786.0 898.2,786.6 898.2,786.7 898.3,787.4 898.4,788.0 898.5,788.0 898.5,788.5 898.6,788.8 898.7,789.9 898.7,790.2 898.8,790.6 898.9,791.1 898.9,791.5 899.0,792.0 899.0,792.7 899.1,792.6 899.1,793.1 899.2,793.8 899.2,793.8 899.2,794.6 899.3,794.9 899.3,795.4 899.4,796.0 899.4,796.4 899.4,796.3 899.5,797.3 899.5,797.5 899.6,797.8 899.6,798.3 899.6,798.5 899.7,799.5 899.7,799.6 899.8,800.0 899.8,800.2 899.8,801.2 899.9,801.2 899.9,801.9 900.0,801.8 900.0,802.5 900.0,802.8 900.1,803.4 900.1,803.8 900.2,804.5 900.2,804.8 900.2,805.6 900.3,805.8 900.3,806.1 900.4,806.5 900.4,807.0 900.4,807.8 900.5,808.0 900.5,808.6 900.5,809.1 900.6,809.5 900.6,809.6 900.7,810.2 900.7,811.0 900.7,811.1 900.8,811.4 900.8,812.0 900.8,812.7 900.9,812.8 900.9,813.5 900.9,813.8 901.0,814.5 901.0,814.8 901.0,814.9 901.1,816.0 901.1,816.1 901.1,816.8 901.2,817.1 901.2,817.5 901.2,818.0 901.3,818.4 901.3,819.1 901.3,819.4 901.4,819.7 901.4,820.4 901.4,820.7 901.5,821.5 901.5,821.7 901.5,822.4 901.6,822.9 901.6,823.1 901.6,823.7 901.6,824.5 901.7,824.7 901.7,825.1 901.7,825.9 901.7,826.1 901.8,826.5 901.8,827.0 901.8,827.4 901.8,827.8 901.8,828.4 901.8,829.0 901.9,829.0 901.9,829.5 901.9,830.0 901.9,830.2 901.9,831.1 901.9,831.3 901.9,831.5 902.0,832.4 902.0,832.6 902.0,833.1 902.0,833.6 902.0,833.9 902.0,834.4 902.0,834.9 902.1,835.3 902.1,835.5 902.1,836.1 902.1,836.6 902.1,837.1 902.1,837.7 902.1,838.0 902.1,838.4 902.2,838.8 902.2,839.2 902.2,839.6 902.2,840.4 902.2,840.6 902.2,841.0 902.2,841.4 902.2,842.0 902.3,842.5 902.3,842.9 902.3,843.4 902.3,844.0 902.3,844.3 902.3,844.7 902.3,845.3 902.3,845.7 902.3,846.3 902.4,846.5 902.4,846.9 902.4,847.3 902.4,847.9 902.4,848.3 902.4,848.8 902.4,849.2 902.4,849.7 902.4,850.2 902.4,850.6 902.5,851.1 902.5,851.5 902.5,852.0 902.5,852.5 902.5,852.9 902.5,853.3 902.5,853.7 902.5,854.1 902.5,854.5 902.5,855.1 902.5,855.7 902.6,856.1 902.6,856.7 902.6,856.9 902.6,857.7 902.6,858.0 902.6,858.5 902.6,858.8 902.6,859.3 902.6,859.9 902.6,860.4 902.6,860.8 902.7,861.3 902.7,861.6 902.7,862.0 902.7,862.5 902.7,863.1 902.7,863.5 902.7,863.9 902.7,864.2 902.7,864.9 902.7,865.4 902.8,865.7 902.8,866.2 902.8,866.8 902.8,867.1 902.8,867.7 902.8,868.0 902.8,868.7 902.8,869.1 902.8,869.4 902.8,870.0 902.9,870.3 902.9,870.7 902.9,871.3 902.9,871.6 902.9,872.2 902.9,872.5 902.9,873.1 902.9,873.6 902.9,874.0 902.9,874.7 903.0,875.1 903.0,875.3 903.0,875.9 903.0,876.1 903.0,876.8 903.0,877.4 903.0,877.7 903.0,878.3 903.0,878.4 903.1,878.9 903.1,879.4 903.1,879.8 903.1,880.4 903.1,880.9 903.1,881.1 903.1,881.8 903.1,882.1 903.1,882.6 903.2,883.0 903.2,883.5 903.2,884.0 903.2,884.2 903.2,884.8 903.2,885.4 903.2,885.5 903.2,886.3 903.2,886.7 903.3,887.1 903.3,887.4 903.3,888.1 903.3,888.5 903.3,888.8 903.3,889.2 903.3,889.7 903.3,890.2 903.3,890.8 903.4,891.1 903.4,891.5 903.4,892.2 903.4,892.3 903.4,893.2 903.4,893.3 903.4,893.9 903.4,894.3 903.4,894.9 903.5,895.1 903.5,895.6 903.5,896.0 903.5,896.7 903.5,897.1 903.5,897.6 903.5,897.9 903.5,898.4 903.5,898.6 903.6,899.3 903.6,899.6 903.6,900.3 903.6,900.9 903.6,901.1 903.6,901.4 903.6,902.2 903.6,902.5 903.6,902.8 903.7,903.3 903.7,903.8 903.7,904.3 903.7,904.8 903.7,905.1 903.7,905.5 903.7,906.2 903.7,906.5 903.7,907.0 903.8,907.3 903.8,908.0 903.8,908.2 903.8,909.0 903.8,909.1 903.8,909.6 903.8,910.0 903.8,910.4 903.8,911.1 903.9,911.6 903.9,912.0 903.9,912.4 903.9,912.6 903.9,913.3 903.9,913.9 903.9,914.4 903.9,914.8 903.9,915.1 904.0,915.7 904.0,915.8 904.0,916.7 904.0,916.7 904.0,917.2 904.0,917.9 904.0,918.4 904.0,918.7 904.1,919.1 904.1,919.6 904.1,920.1 904.1,920.6 904.1,921.1 904.1,921.5 904.1,921.8 904.1,922.2 904.1,922.8 904.2,923.1 904.2,923.5 904.2,923.9 904.2,924.5 904.2,924.9 904.2,925.5 904.2,925.9 904.2,926.5 904.3,926.8 904.3,927.2 904.3,927.6 904.3,928.2 904.3,928.7 904.3,929.2 904.3,929.6 904.3,930.1 904.4,930.4 904.4,930.9 904.4,931.3 904.4,931.8 904.4,932.1 904.4,932.5 904.4,933.1 904.4,933.6 904.5,933.8 904.5,934.6 904.5,934.8 904.5,935.3 904.5,935.7 904.5,936.3 904.5,936.7 904.5,937.2 904.6,937.6 904.6,937.8 904.6,938.4 904.6,939.0 904.6,939.5 904.6,939.8 904.6,940.3 904.7,940.5 904.7,941.3 904.7,941.8 904.7,942.1 904.7,942.7 904.7,943.0 904.7,943.3 904.7,943.9 904.8,944.2 904.8,944.8 904.8,945.2 904.8,945.6 904.8,946.0 904.8,946.6 904.8,947.2 904.9,947.4 904.9,948.0 904.9,948.3 904.9,948.9 904.9,949.3 904.9,949.8 904.9,950.2 905.0,950.5 905.0,951.1 905.0,951.4 905.0,951.9 905.0,952.3 905.0,952.9 905.0,953.4 905.1,953.8 905.1,954.3 905.1,954.8 905.1,955.0 905.1,955.7 905.1,956.1 905.1,956.6 905.1,957.1 905.2,957.5 905.2,957.9 905.2,958.3 905.2,958.7 905.2,959.2 905.2,959.5 905.2,960.2 905.3,960.4 905.3,960.9 905.3,961.6 905.3,962.0 905.3,962.4 905.3,962.9 905.3,963.4 905.4,963.8 905.4,964.2 905.4,964.6 905.4,965.2 905.4,965.7 905.4,965.9 905.4,966.6 905.5,967.0 905.5,967.3 905.5,967.8 905.5,968.2 905.5,968.7 905.5,969.1 905.5,969.5 905.5,970.2 905.6,970.5 905.6,971.0 905.6,971.4 905.6,972.0 905.6,972.3 905.6,972.9 905.6,973.2 905.7,973.4 905.7,974.3 905.7,974.4 905.7,974.9 905.7,975.6 905.7,976.0 905.7,976.5 905.7,976.9 905.8,977.4 905.8,977.7 905.8,978.2 905.8,978.7 905.8,979.3 905.8,979.6 905.8,980.1 905.9,980.4 905.9,981.0 905.9,981.6 905.9,981.7 905.9,982.1 905.9,982.7 905.9,983.2 905.9,983.5 905.9,984.2 906.0,984.6 906.0,985.0 906.0,985.5 906.0,985.9 906.0,986.3 906.0,986.9 906.0,987.4 906.0,987.8 906.1,988.3 906.1,988.6 906.1,989.0 906.1,989.7 906.1,990.0 906.1,990.6 906.1,991.0 906.1,991.4 906.2,991.8 906.2,992.4 906.2,992.8 906.2,993.4 906.2,993.8 906.2,994.2 906.2,994.4 906.2,995.2 906.2,995.6 906.3,995.9 906.3,996.4 906.3,996.9 906.3,997.2 906.3,997.7 906.3,998.2 906.3,998.6 906.3,999.3 906.3,999.7 906.4,1000.1 906.4,1000.6 906.4,1001.1 906.4,1001.6 906.4,1001.9 906.4,1002.4 906.4,1002.8 906.4,1003.3 906.5,1003.9 906.5,1004.4 906.5,1004.8 906.5,1005.1 906.5,1005.7 906.5,1006.2 906.5,1006.5 906.5,1007.0 906.5,1007.6 906.6,1008.1 906.6,1008.3 906.6,1008.8 906.6,1009.4 906.6,1009.9 906.6,1010.3 906.6,1010.7 906.6,1011.2 906.6,1011.8 906.7,1012.1 906.7,1012.5 906.7,1013.0 906.7,1013.4 906.7,1014.0 906.7,1014.7 906.7,1015.0 906.7,1015.4 906.8,1015.8 906.8,1016.3 906.8,1016.8 906.8,1017.1 906.8,1017.6 906.8,1018.1 906.8,1018.4 906.8,1019.0 906.8,1019.5 906.9,1020.0 906.9,1020.3 906.9,1020.8 906.9,1021.2 906.9,1021.4 906.9,1021.9 906.9,1022.4 906.9,1023.0 907.0,1023.4 907.0,1023.9 907.0,1024.2 907.0,1024.6 907.0,1025.2 907.0,1025.7 907.0,1026.0 907.0,1026.4 907.0,1026.9 907.1,1027.3 907.1,1027.7 907.1,1028.2 907.1,1028.7 907.1,1029.2 907.1,1029.5 907.1,1030.0 907.1,1030.3 907.2,1030.5 907.2,1031.2 907.2,1031.7 907.2,1032.0 907.2,1032.5 907.2,1032.9 907.2,1033.4 907.2,1033.7 907.2,1034.1 907.3,1034.7 907.3,1035.0 907.3,1035.4 907.3,1036.1 907.3,1036.4 907.3,1036.9 907.4,1037.5 907.4,1038.1 907.4,1038.5 907.4,1039.0 907.4,1039.4 907.4,1040.1 907.5,1040.6 907.5,1040.9 907.5,1041.6 907.5,1042.0 907.5,1042.4 907.5,1042.9 907.6,1043.7 907.6,1043.9 907.6,1044.0 907.6,1044.7 907.6,1045.2 907.6,1045.8 907.7,1046.3 907.7,1046.6 907.7,1047.1 907.7,1047.5 907.7,1047.8 907.7,1048.3 907.8,1048.7 907.8,1049.5 907.8,1049.5 907.8,1050.3 907.8,1050.6 907.9,1051.0 907.9,1051.3 907.9,1051.8 907.9,1052.5 907.9,1052.7 907.9,1053.1 908.0,1053.4 908.0,1054.1 908.0,1054.4 908.0,1054.8 908.0,1055.2 908.1,1055.7 908.1,1056.2 908.1,1056.4 908.1,1057.1 908.1,1057.2 908.1,1058.0 908.2,1058.3 908.2,1058.6 908.2,1059.1 908.2,1059.5 908.2,1059.9 908.3,1060.5 908.3,1060.7 908.3,1061.1 908.3,1061.6 908.3,1062.5 908.4,1062.6 908.4,1063.1 908.4,1063.4 908.4,1063.7 908.5,1064.2 908.5,1064.9 908.5,1065.4 908.5,1065.7 908.6,1066.4 908.6,1066.3 908.6,1067.1 908.7,1067.7 908.7,1068.0 908.7,1068.8 908.7,1069.0 908.8,1069.3 908.8,1069.8 908.8,1070.5 908.9,1070.8 908.9,1071.2 908.9,1071.5 909.0,1072.4 909.0,1072.3 909.0,1073.2 909.0,1073.7 909.1,1074.1 909.1,1074.2 909.1,1074.9 909.2,1075.4 909.2,1075.7 909.2,1076.2 909.3,1076.7 909.3,1077.3 909.3,1077.8 909.4,1077.8 909.4,1078.4 909.4,1079.0 909.4,1079.3 909.5,1079.6 909.5,1080.1 909.5,1080.6 909.6,1081.0 909.6,1081.3 909.6,1081.9 909.7,1082.2 909.7,1082.9 909.7,1083.2 909.8,1083.9 909.8,1084.0 909.8,1084.8 909.9,1085.1 909.9,1085.6 909.9,1086.0 909.9,1086.3 910.0,1086.8 910.0,1087.3 910.0,1088.4 910.1,1088.2 910.1,1088.9 910.1,1088.9 910.1,1089.5 910.2,1090.1 910.2,1090.5 910.2,1091.1 910.3,1091.6 910.3,1092.2 910.3,1092.3 910.3,1092.8 910.4,1093.2 910.4,1093.8 910.4,1094.3 910.5,1094.7 910.5,1095.2 910.5,1095.4 910.5,1096.0 910.6,1096.5 910.6,1096.8 910.6,1097.3 910.7,1097.8 910.7,1098.1 910.7,1098.7 910.7,1099.2 910.8,1099.6 910.8,1100.3 910.8,1100.7 910.9,1100.8 910.9,1101.6 910.9,1101.9 911.0,1102.5 911.0,1103.0 911.0,1103.4 911.1,1103.5 911.1,1104.0 911.1,1104.5 911.2,1104.7 911.2,1105.4 911.2,1106.1 911.3,1106.6 911.3,1106.9 911.4,1107.4 911.4,1107.2 911.5,1108.4 911.5,1108.9 911.5,1109.1 911.6,1109.4 911.6,1109.7 911.7,1110.4 911.7,1111.5 911.8,1111.3 911.8,1112.1 911.9,1112.2 911.9,1113.0 912.0,1113.2 912.0,1113.6 912.1,1114.1 912.1,1114.8 912.2,1115.0 912.2,1115.6 912.3,1116.0 912.3,1116.4 912.4,1116.6 912.4,1117.5 912.5,1118.1 912.5,1118.3 912.6,1118.6 912.6,1119.7 912.7,1119.8 912.7,1119.7 912.8,1120.3 912.8,1121.4 912.9,1121.4 912.9,1121.6 913.0,1121.7 913.0,1122.5 913.1,1123.2 913.1,1123.4 913.2,1124.2 913.2,1124.2" fill="none" stroke="#0a0a0a" stroke-width="1.42" stroke-linejoin="round" stroke-linecap="round"/>
<path d="M913.2,1124.2 913.3,1125.1 913.3,1125.3 913.4,1125.7 913.4,1126.3 913.5,1126.8 913.6,1127.6 913.6,1127.5 913.7,1128.4 913.8,1128.6 913.8,1129.1 913.9,1129.2 914.0,1130.1 914.0,1130.1 914.1,1131.0 914.1,1131.3 914.2,1131.8 914.3,1131.6 914.3,1132.9 914.4,1133.4 914.5,1134.5 914.5,1134.3 914.6,1134.3 914.7,1134.9 914.8,1135.2 914.8,1135.5 914.9,1136.5 915.0,1136.6 915.0,1137.3 915.1,1137.9 915.2,1138.2 915.3,1138.4 915.3,1138.8 915.4,1139.2 915.5,1139.9 915.6,1141.1 915.7,1141.5 915.8,1141.2 915.9,1141.4 916.0,1141.9 916.1,1143.1 916.2,1143.4 916.4,1143.7 916.5,1144.0 916.6,1144.7 916.7,1144.9 916.8,1146.5 916.9,1145.8 917.0,1146.7 917.2,1147.3 917.3,1148.0 917.4,1146.7 917.5,1147.4 917.6,1148.9 917.8,1149.3 917.9,1149.4 918.0,1150.1 918.1,1149.2 918.2,1150.3 918.3,1151.4 918.5,1151.0 918.6,1152.9 918.8,1153.3 918.9,1152.4 919.0,1153.6 919.2,1154.0 919.3,1155.0 919.5,1154.9 919.6,1156.0 919.8,1155.7 919.9,1155.0 920.1,1157.7 920.3,1157.0 920.5,1157.3 920.8,1157.2 921.2,1157.6 921.6,1157.1 922.0,1157.9 922.5,1157.6 922.9,1158.5 923.3,1158.2 923.8,1156.8 924.2,1159.5 924.7,1158.7 925.2,1158.6 925.7,1157.9 926.1,1157.9 926.5,1160.8 926.9,1159.4 927.2,1158.7 927.6,1158.1 927.9,1157.7 928.3,1159.1 928.6,1155.9 929.0,1158.9 929.4,1157.2 929.9,1157.5 930.3,1154.5 930.7,1155.0 931.1,1157.4 931.3,1156.1 931.6,1156.3 931.8,1156.7 932.0,1158.1 932.2,1156.9 932.4,1158.1 932.6,1157.2 932.8,1159.6 933.0,1158.6 933.2,1159.8 933.4,1160.9 933.6,1160.6 933.8,1161.1 934.0,1162.0 934.2,1161.6 934.4,1162.6 934.6,1163.3 934.8,1161.6 935.0,1162.8 935.2,1164.2 935.4,1163.3 935.7,1164.8 935.9,1165.6 936.1,1166.1 936.3,1166.8 936.5,1166.1 936.7,1165.5 936.9,1166.4 937.1,1167.3 937.3,1167.4 937.5,1167.4 937.7,1167.3 937.9,1169.0 938.1,1168.8 938.3,1170.5 938.5,1171.0 938.7,1170.3 938.9,1171.5 939.2,1171.4 939.5,1173.6 939.8,1173.0 940.1,1173.3 940.4,1172.7 940.7,1175.6 941.0,1173.5 941.4,1173.5 941.9,1174.3 942.3,1173.9 942.7,1175.0 943.2,1176.2 943.7,1175.4 944.1,1175.9 944.6,1174.3 945.0,1176.0 945.5,1175.8 945.9,1176.1 946.4,1175.4 946.8,1175.6 947.2,1177.6 947.7,1176.0 948.1,1175.8 948.5,1178.9 948.9,1177.6 949.3,1178.0 949.7,1178.3 950.1,1180.0 950.5,1177.3 950.9,1179.4 951.3,1179.0 951.7,1178.0 952.1,1178.3 952.6,1179.2 953.0,1179.9 953.5,1178.4 953.9,1178.5 954.4,1179.8 954.8,1180.4 955.2,1179.3 955.6,1180.8 955.9,1181.4 956.3,1182.1 956.6,1180.8 956.9,1181.0 957.3,1182.4 957.7,1181.9 958.2,1182.3 958.6,1182.8 959.0,1181.8 959.5,1184.4 960.0,1180.2 960.4,1182.3 960.9,1181.5 961.4,1181.4 961.8,1183.3 962.3,1181.2 962.8,1180.8 963.2,1182.4 963.7,1182.6 964.2,1183.4 964.7,1182.6 965.1,1183.2 965.6,1183.0 966.1,1181.0 966.6,1180.8 967.0,1181.6 967.5,1181.5 968.0,1181.9 968.5,1181.6 968.9,1181.3 969.4,1178.7 969.8,1181.7 970.3,1180.3 970.7,1181.3 971.1,1183.8 971.6,1182.9 972.0,1180.6 972.4,1184.0 972.9,1181.8 973.3,1184.6 973.6,1183.9 974.1,1183.0 974.5,1184.1 975.0,1183.2 975.4,1183.6 975.9,1181.6 976.3,1181.6 976.8,1182.8 977.3,1182.0 977.8,1184.1 978.3,1182.5 978.8,1185.0 979.3,1183.2 979.7,1183.1 980.2,1184.0 980.7,1183.6 981.2,1185.1 981.7,1182.9 982.1,1184.9 982.6,1183.7 983.1,1183.7 983.5,1184.5 984.0,1182.3 984.5,1183.0 984.9,1184.5 985.4,1182.6 985.9,1183.8 986.4,1183.9 986.8,1184.0 987.3,1183.3 987.8,1183.6 988.2,1186.2 988.7,1185.5 989.2,1184.6 989.6,1183.6 990.0,1183.3 990.4,1182.6 990.9,1183.9 991.3,1183.8 991.7,1183.9 992.1,1182.6 992.5,1183.4 993.0,1182.6 993.4,1183.2 993.9,1183.2 994.4,1181.3 994.8,1181.4 995.3,1182.1 995.8,1183.9 996.3,1180.2 996.8,1183.3 997.2,1184.2 997.7,1183.4 998.2,1180.5 998.7,1182.0 999.1,1184.4 999.6,1183.2 1000.1,1182.8 1000.5,1181.7 1001.0,1183.4 1001.5,1181.6 1001.9,1181.1 1002.4,1182.1 1002.9,1181.7 1003.4,1181.1 1003.8,1183.8 1004.3,1181.0 1004.8,1183.1 1005.2,1182.2 1005.7,1181.6 1006.2,1181.9 1006.7,1183.0 1007.1,1182.0 1007.6,1181.9 1008.1,1182.6 1008.6,1183.6 1009.0,1182.6 1009.5,1182.0 1010.0,1180.8 1010.5,1182.3 1010.9,1183.1 1011.4,1182.8 1011.9,1182.2 1012.4,1181.8 1012.8,1181.3 1013.3,1179.9 1013.8,1182.1 1014.2,1181.9 1014.7,1182.8 1015.2,1182.0 1015.7,1181.2 1016.2,1180.0 1016.6,1179.8 1017.1,1182.7 1017.6,1182.0 1018.1,1180.4 1018.5,1180.2 1019.0,1180.0 1019.5,1179.8 1019.9,1180.6 1020.4,1179.9 1020.9,1180.5 1021.4,1180.0 1021.8,1179.7 1022.3,1181.4 1022.8,1178.9 1023.3,1180.2 1023.7,1181.5 1024.2,1178.4 1024.7,1180.5 1025.1,1179.3 1025.6,1179.6 1026.1,1179.1 1026.5,1179.7 1027.0,1181.2 1027.5,1179.7 1028.0,1179.8 1028.4,1180.4 1028.9,1180.7 1029.3,1181.0 1029.8,1181.4 1030.2,1181.3 1030.6,1180.0 1031.0,1180.3 1031.5,1178.9 1031.9,1179.6 1032.3,1179.9 1032.7,1181.3 1033.2,1179.0 1033.6,1178.6 1034.0,1181.9 1034.4,1181.2 1034.8,1181.1 1035.3,1178.8 1035.7,1179.8 1036.1,1180.7 1036.5,1182.4 1037.0,1181.6 1037.4,1182.0 1037.8,1181.1 1038.3,1182.3 1038.7,1181.1 1039.1,1183.3 1039.6,1181.5 1040.0,1182.4 1040.4,1182.5 1040.9,1180.4 1041.3,1180.3 1041.8,1180.2 1042.2,1181.5 1042.7,1178.8 1043.1,1179.5 1043.5,1179.3 1044.0,1179.1 1044.4,1178.1 1044.8,1179.6 1045.2,1180.6 1045.7,1182.2 1046.1,1181.9 1046.5,1181.6 1047.0,1180.7 1047.4,1181.0 1047.9,1181.4 1048.3,1180.4 1048.8,1182.1 1049.2,1179.5 1049.6,1181.4 1050.1,1181.9 1050.5,1179.3 1050.9,1182.3 1051.4,1179.9 1051.8,1180.6 1052.3,1179.4 1052.7,1181.1 1053.2,1181.8 1053.6,1179.9 1054.1,1180.9 1054.5,1180.8 1055.0,1179.8 1055.4,1181.9 1055.8,1180.5 1056.3,1179.5 1056.8,1178.0 1057.3,1181.3 1057.8,1179.1 1058.2,1179.5 1058.7,1182.6 1059.2,1179.4 1059.7,1180.8 1060.1,1181.9 1060.6,1180.1 1061.1,1180.5 1061.6,1179.9 1062.0,1179.1 1062.5,1179.2 1062.9,1182.0 1063.4,1180.7 1063.9,1181.5 1064.4,1180.1 1064.9,1179.8 1065.3,1181.8 1065.8,1181.6 1066.3,1180.6 1066.7,1181.7 1067.2,1178.7 1067.7,1182.0 1068.1,1183.3 1068.6,1180.7 1069.1,1182.2 1069.6,1182.5 1070.0,1181.7 1070.5,1181.1 1071.0,1180.0 1071.5,1182.8 1072.0,1181.3 1072.4,1182.2 1072.9,1183.8 1073.4,1183.8 1073.8,1182.8 1074.3,1184.0 1074.8,1181.1 1075.3,1181.9 1075.7,1180.0 1076.2,1182.4 1076.6,1182.6 1077.1,1181.7 1077.6,1184.4 1078.1,1182.9 1078.5,1184.0 1079.0,1183.0 1079.5,1181.4 1079.9,1184.5 1080.4,1183.5 1080.9,1183.7 1081.4,1181.0 1081.8,1181.3 1082.3,1182.1 1082.8,1182.4 1083.3,1182.9 1083.7,1181.8 1084.2,1183.0 1084.7,1181.3 1085.2,1179.3 1085.7,1182.2 1086.1,1183.1 1086.6,1181.3 1087.1,1182.2 1087.6,1184.4 1088.0,1183.6 1088.5,1181.4 1089.0,1182.8 1089.4,1182.2 1089.9,1183.9 1090.4,1181.9 1090.9,1181.7 1091.4,1182.7 1091.8,1183.2 1092.3,1182.7 1092.8,1183.2 1093.2,1183.4 1093.7,1182.3 1094.2,1181.5 1094.6,1181.6 1095.0,1181.7 1095.4,1183.7 1095.9,1183.9 1096.3,1184.5 1096.7,1182.9 1097.1,1183.7 1097.6,1183.5 1098.0,1184.0 1098.4,1184.7 1098.8,1182.2 1099.3,1185.0 1099.7,1185.0 1100.2,1182.1 1100.6,1182.8 1101.0,1181.9 1101.5,1182.1 1101.9,1181.9 1102.3,1182.5 1102.7,1181.7 1103.0,1180.5 1103.4,1181.1 1103.7,1180.7 1104.0,1181.5 1104.3,1180.2 1104.5,1178.7 1104.8,1180.0 1105.0,1178.8 1105.1,1179.1 1105.3,1178.7 1105.4,1177.1 1105.6,1178.0 1105.8,1177.0 1105.9,1176.2 1106.1,1176.6 1106.2,1175.2 1106.3,1175.9 1106.5,1174.4 1106.6,1174.2 1106.8,1174.4 1106.9,1173.2 1107.0,1173.5 1107.1,1172.1 1107.2,1171.3 1107.3,1171.3 1107.4,1170.1 1107.5,1169.6 1107.6,1170.0 1107.7,1169.1 1107.8,1168.5 1107.9,1168.2 1108.1,1168.2 1108.2,1168.0 1108.3,1168.6 1108.8,1167.5 1109.3,1166.7 1109.9,1168.0 1110.5,1166.1 1110.7,1168.8 1111.0,1170.0 1111.3,1168.9 1111.6,1168.6 1111.9,1171.2 1112.1,1171.6 1112.4,1171.4 1112.7,1172.2 1113.0,1172.3 1113.3,1171.3 1113.6,1171.8 1113.9,1170.5 1114.2,1171.9 1114.6,1173.2 1114.9,1173.7 1115.2,1173.8 1115.5,1172.6 1115.9,1175.3 1116.2,1174.5 1116.5,1176.1 1116.8,1175.5 1117.3,1173.8 1117.8,1177.8 1118.2,1174.0 1118.7,1175.8 1119.2,1175.7 1119.7,1173.7 1120.1,1175.2 1120.6,1174.5 1121.1,1174.5 1121.6,1175.9 1122.0,1173.8 1122.5,1174.2 1123.0,1176.1 1123.5,1174.4 1123.9,1175.7 1124.4,1172.8 1124.9,1173.0 1125.3,1173.1 1125.8,1172.6 1126.2,1172.8 1126.7,1172.1 1127.1,1173.3 1127.5,1171.4 1127.8,1172.4 1128.0,1171.8 1128.3,1171.4 1128.6,1170.6 1128.8,1170.2 1129.0,1169.7 1129.3,1169.5 1129.5,1169.6 1129.8,1171.5 1130.0,1168.7 1130.3,1166.9 1130.7,1167.8 1131.1,1167.5 1131.5,1167.7 1131.9,1167.1 1132.4,1166.7 1132.8,1166.6 1133.2,1166.5 1133.5,1167.8 1133.9,1165.6 1134.3,1164.2 1134.6,1165.0 1135.0,1164.0 1135.3,1165.1 1135.5,1164.2 1135.7,1164.6 1135.9,1165.0 1136.1,1166.1 1136.3,1166.1 1136.5,1165.7 1136.8,1167.3 1137.0,1168.8 1137.2,1167.3 1137.4,1167.8 1137.7,1169.9 1138.1,1168.4 1138.5,1169.9 1138.8,1170.0 1139.2,1170.9 1139.5,1171.6 1139.8,1169.6 1140.0,1171.8 1140.3,1172.5 1140.5,1172.1 1140.8,1173.6 1141.0,1173.1 1141.3,1175.2 1141.6,1173.0 1141.8,1173.8 1142.1,1175.6 1142.4,1175.0 1142.7,1174.5 1143.1,1173.4 1143.5,1176.1 1144.0,1178.2 1144.4,1176.5 1144.8,1175.5 1145.2,1178.1 1145.6,1176.0 1145.9,1177.0 1146.4,1177.8 1146.7,1176.3 1147.1,1177.8 1147.6,1177.9 1148.1,1178.1 1148.7,1178.8 1149.2,1178.5 1149.7,1178.1 1150.1,1178.3 1150.5,1177.7 1150.9,1179.9 1151.2,1177.3 1151.6,1176.5 1152.0,1177.4 1152.4,1177.1 1152.8,1176.7 1153.2,1174.3 1153.6,1177.5 1153.9,1176.5 1154.3,1175.6 1154.7,1175.2 1155.0,1174.2 1155.2,1173.9 1155.3,1172.9 1155.5,1172.5 1155.6,1172.5 1155.8,1172.6 1155.9,1172.4 1156.0,1172.3 1156.1,1171.2 1156.2,1170.5 1156.3,1170.3 1156.5,1169.8 1156.6,1169.3 1156.6,1169.0 1156.7,1167.9 1156.8,1167.8 1156.8,1167.4 1156.9,1167.0 1157.0,1166.8 1157.0,1166.2 1157.1,1165.8 1157.2,1165.5 1157.2,1165.2 1157.3,1165.0 1157.3,1164.1 1157.4,1164.1 1157.5,1163.4 1157.5,1163.0 1157.6,1162.3 1157.6,1162.1 1157.7,1161.1 1157.7,1160.8 1157.8,1160.3 1157.8,1160.1 1157.9,1159.1 1157.9,1159.0 1157.9,1158.6 1158.0,1158.3 1158.0,1157.7 1158.0,1157.2 1158.1,1157.2 1158.1,1156.3 1158.1,1155.8 1158.2,1156.0 1158.2,1155.3 1158.2,1154.7 1158.3,1154.3 1158.3,1154.0 1158.3,1153.4 1158.3,1152.6 1158.4,1152.5 1158.4,1151.9 1158.4,1151.6 1158.5,1150.8 1158.5,1150.6 1158.5,1150.0 1158.5,1149.7 1158.6,1149.1 1158.6,1148.6 1158.6,1148.4 1158.7,1147.8 1158.7,1147.3 1158.7,1147.0 1158.7,1146.4 1158.8,1146.0 1158.8,1145.6 1158.8,1145.0 1158.9,1144.5 1158.9,1144.4 1158.9,1143.7 1158.9,1143.1 1159.0,1142.7 1159.0,1142.3 1159.0,1141.9 1159.1,1141.4 1159.1,1140.9 1159.1,1140.3 1159.1,1140.1 1159.2,1139.8 1159.2,1139.3 1159.2,1138.7 1159.3,1138.1 1159.3,1137.5 1159.3,1137.3 1159.3,1136.8 1159.4,1136.4 1159.4,1136.2 1159.4,1135.7 1159.5,1135.0 1159.5,1134.4 1159.5,1134.1 1159.5,1133.4 1159.6,1133.2 1159.6,1132.8 1159.6,1132.2 1159.7,1131.5 1159.7,1131.4 1159.7,1130.8 1159.7,1130.5 1159.8,1130.2 1159.8,1129.4 1159.8,1129.1 1159.9,1128.9 1159.9,1128.4 1159.9,1127.6 1159.9,1127.4 1160.0,1126.7 1160.0,1126.2 1160.0,1125.8 1160.1,1125.7 1160.1,1124.9 1160.1,1124.4 1160.1,1123.9 1160.2,1123.7 1160.2,1123.1 1160.2,1122.7 1160.2,1122.1 1160.3,1121.8 1160.3,1121.2 1160.3,1120.7 1160.3,1120.6 1160.4,1120.0 1160.4,1119.6 1160.4,1119.0 1160.5,1118.3 1160.5,1117.9 1160.5,1117.5 1160.5,1117.3 1160.6,1117.2 1160.6,1116.4 1160.7,1115.8 1160.7,1115.5 1160.7,1114.8 1160.8,1114.6 1160.9,1113.9 1161.0,1112.9 1161.1,1113.3 1161.2,1112.1 1161.4,1112.2 1161.5,1111.8 1161.6,1110.3 1161.8,1110.0 1161.9,1110.6 1162.0,1109.9 1162.1,1109.3 1162.3,1109.7 1162.4,1109.4 1162.4,1109.1 1162.5,1108.4 1162.6,1109.7 1162.7,1110.4 1162.7,1110.6 1162.8,1111.5 1162.8,1111.7 1162.9,1112.4 1162.9,1113.2 1163.0,1113.7 1163.0,1114.1 1163.1,1114.9 1163.1,1114.7 1163.2,1116.1 1163.2,1116.1 1163.3,1116.8 1163.3,1116.9 1163.4,1117.5 1163.4,1117.5 1163.5,1118.3 1163.5,1119.1 1163.6,1119.4 1163.6,1119.7 1163.7,1121.0 1163.7,1120.6 1163.8,1121.2 1163.8,1121.7 1163.8,1122.1 1163.9,1122.2 1163.9,1123.4 1164.0,1123.7 1164.0,1124.1 1164.1,1123.9 1164.1,1125.1 1164.2,1125.1 1164.2,1125.8 1164.3,1126.4 1164.3,1127.1 1164.4,1127.5 1164.4,1128.1 1164.5,1129.0 1164.5,1128.9 1164.6,1129.6 1164.6,1130.1 1164.7,1129.8 1164.8,1130.0 1165.2,1131.1 1165.6,1131.1 1166.0,1133.2 1166.2,1131.0 1166.4,1132.0 1166.6,1130.2 1166.8,1129.4 1167.0,1128.9 1167.1,1128.6 1167.3,1128.1 1167.4,1128.6 1167.5,1128.1 1167.7,1127.2 1167.8,1126.7 1167.9,1126.4 1168.0,1126.2 1168.1,1125.0 1168.2,1125.3 1168.3,1124.3 1168.4,1124.6 1168.6,1123.8 1168.7,1122.9 1168.8,1122.2 1169.0,1122.1 1169.1,1121.9 1169.3,1121.0 1169.5,1119.9 1169.6,1120.4 1169.8,1119.5 1170.0,1119.5 1170.4,1119.8 1170.9,1120.3 1171.4,1119.6 1171.8,1119.0 1172.2,1120.1 1172.5,1120.0 1172.8,1117.9 1173.1,1118.7 1173.4,1117.9 1174.0,1116.7 1174.5,1118.5 1175.0,1116.6 1175.1,1117.1 1175.2,1116.6 1175.3,1116.6 1175.3,1115.8 1175.4,1115.2 1175.5,1114.9 1175.5,1114.1 1175.6,1113.8 1175.6,1113.2 1175.7,1113.0 1175.8,1112.0 1175.8,1111.1 1175.9,1111.2 1176.0,1111.0 1176.0,1110.0 1176.3,1109.3 1176.5,1109.0 1176.8,1110.0 1177.1,1109.8 1177.4,1109.5 1177.8,1111.4 1178.2,1110.7 1178.5,1109.6 1178.9,1111.3 1179.0,1109.5 1179.2,1112.2 1179.4,1112.4 1179.5,1112.4 1179.7,1113.1 1179.8,1114.0 1179.9,1113.8 1180.1,1114.5 1180.2,1115.2 1180.4,1114.9 1180.5,1115.0 1180.6,1115.9 1180.8,1115.1 1180.9,1115.4 1181.1,1115.5 1181.2,1114.9 1181.4,1114.4 1181.6,1114.3 1181.7,1113.7 1181.9,1113.4 1182.0,1112.1 1182.3,1113.9 1182.6,1112.3 1182.8,1112.9 1183.1,1114.8 1183.4,1115.0 1183.7,1114.9 1184.0,1116.9 1184.4,1114.8 1184.7,1115.3 1185.0,1116.1 1185.1,1117.5 1185.3,1117.3 1185.4,1117.9 1185.5,1118.6 1185.7,1118.6 1185.8,1119.5 1185.9,1119.8 1186.0,1120.5 1186.2,1121.1 1186.3,1120.5 1186.4,1123.0 1186.6,1121.2 1186.8,1121.9 1187.0,1122.2 1187.2,1124.1 1187.5,1122.5 1187.7,1124.6 1187.9,1125.0 1188.1,1125.3 1188.3,1126.8 1188.4,1126.7 1188.5,1126.8 1188.6,1126.2 1188.7,1127.5 1188.8,1128.0 1188.9,1128.6 1189.0,1129.2 1189.1,1129.1 1189.3,1129.5 1189.4,1130.3 1189.5,1130.3 1189.6,1130.9 1189.7,1131.8 1190.0,1133.7 1190.3,1133.2 1190.6,1132.4 1190.8,1133.7 1191.1,1133.1 1191.2,1133.3 1191.3,1135.2 1191.4,1135.0 1191.5,1135.3 1191.6,1135.8 1191.7,1136.1 1191.8,1136.5 1191.9,1137.7 1192.0,1137.9 1192.1,1137.7 1192.2,1138.3 1192.3,1138.3 1192.5,1139.1 1192.7,1139.8 1192.9,1140.8 1193.1,1141.5 1193.2,1141.8 1193.4,1142.4 1193.5,1139.8 1193.5,1140.8 1193.6,1140.1 1193.7,1139.7 1193.7,1139.8 1193.8,1139.1 1193.9,1138.5 1193.9,1138.6 1194.0,1137.9 1194.0,1137.5 1194.1,1136.8 1194.2,1136.0 1194.2,1135.7 1194.3,1135.1 1194.3,1134.9 1194.4,1134.0 1194.5,1133.8 1194.5,1132.8 1194.6,1132.8 1194.6,1132.4 1194.7,1131.6 1194.7,1131.7 1194.8,1130.6 1194.9,1130.6 1194.9,1129.4 1195.0,1129.2 1195.0,1128.9 1195.1,1128.5 1195.1,1127.9 1195.2,1127.3 1195.3,1127.2 1195.3,1126.5 1195.4,1125.9 1195.4,1125.5 1195.5,1125.2 1195.6,1124.8 1195.7,1124.1 1195.8,1124.9 1196.0,1123.6 1196.1,1122.7 1196.2,1123.1 1196.3,1121.4 1196.4,1121.0 1196.6,1121.0 1196.7,1119.4 1196.9,1119.5 1197.0,1119.3 1197.2,1119.2 1197.3,1117.4 1197.5,1118.6 1197.6,1118.6 1197.7,1117.7 1197.7,1118.0 1197.8,1119.0 1197.8,1119.2 1197.9,1120.0 1198.0,1120.2 1198.0,1120.4 1198.1,1121.2 1198.1,1121.7 1198.2,1121.9 1198.2,1122.4 1198.2,1123.1 1198.3,1123.6 1198.3,1123.9 1198.4,1124.7 1198.5,1125.2 1198.5,1125.6 1198.5,1126.2 1198.6,1126.6 1198.6,1127.1 1198.7,1127.4 1198.7,1127.9 1198.7,1128.5 1198.8,1128.9 1198.8,1129.1 1198.9,1130.0 1198.9,1130.7 1199.0,1130.7 1199.0,1131.3 1199.0,1131.6 1199.1,1132.3 1199.1,1132.7 1199.2,1133.2 1199.2,1133.8 1199.3,1134.0 1199.3,1134.8 1199.4,1135.2 1199.4,1135.2 1199.5,1136.3 1199.7,1136.4 1199.9,1136.8 1200.1,1135.9 1200.3,1137.1 1200.6,1137.1 1200.8,1137.7 1200.9,1139.1 1201.0,1139.1 1201.1,1138.9 1201.3,1140.2 1201.4,1140.3 1201.5,1141.1 1201.6,1140.8 1201.7,1142.5 1201.8,1142.1 1202.0,1143.0 1202.1,1143.6 1202.2,1143.6 1202.3,1144.6 1202.5,1143.7 1202.7,1145.6 1202.9,1144.7 1203.1,1144.8 1203.2,1145.8 1203.4,1146.6 1203.6,1147.1 1203.8,1148.5 1203.9,1148.0 1204.0,1149.1 1204.1,1149.1 1204.2,1149.7 1204.2,1150.5 1204.3,1150.4 1204.4,1151.5 1204.4,1151.7 1204.5,1151.8 1204.6,1152.4 1204.6,1152.9 1204.7,1152.9 1204.8,1153.9 1204.8,1154.2 1204.9,1154.8 1205.0,1155.4 1205.0,1155.9 1205.1,1155.5 1205.2,1156.5 1205.3,1157.8 1205.5,1156.7 1205.6,1158.2 1205.8,1159.3 1206.0,1158.5 1206.2,1160.4 1206.3,1159.2 1206.5,1160.3 1207.0,1159.8 1207.6,1163.1 1208.1,1160.9 1208.5,1160.9 1208.9,1160.7 1209.3,1160.1 1209.7,1159.5 1210.1,1158.0 1210.5,1159.5 1210.9,1157.8 1211.3,1157.9 1211.5,1158.5 1211.7,1157.8 1211.8,1160.4 1212.0,1159.7 1212.2,1159.5 1212.3,1161.1 1212.6,1159.9 1212.8,1159.6 1213.0,1159.7 1213.3,1159.2 1213.5,1158.7 1213.7,1158.0 1213.9,1157.9 1214.1,1157.5 1214.2,1155.7 1214.4,1155.8 1214.5,1155.1 1214.7,1154.3 1214.8,1154.4 1214.9,1154.4 1215.1,1153.8 1215.2,1153.7 1215.3,1152.9 1215.3,1152.4 1215.4,1151.9 1215.4,1151.2 1215.4,1151.1 1215.4,1150.8 1215.5,1149.9 1215.5,1149.5 1215.5,1148.9 1215.6,1148.7 1215.6,1148.5 1215.6,1147.8 1215.6,1147.6 1215.7,1147.1 1215.7,1146.5 1215.7,1146.1 1215.7,1145.8 1215.8,1145.1 1215.8,1144.7 1215.8,1144.3 1215.8,1143.5 1215.8,1142.9 1215.9,1142.7 1215.9,1142.2 1215.9,1141.7 1215.9,1141.3 1215.9,1140.8 1216.0,1140.5 1216.0,1139.8 1216.0,1139.4 1216.0,1139.1 1216.1,1138.7 1216.1,1138.3 1216.1,1137.6 1216.1,1137.2 1216.2,1136.7 1216.2,1136.1 1216.2,1135.8 1216.2,1135.6 1216.3,1135.1 1216.3,1134.6 1216.3,1133.9 1216.3,1133.8 1216.4,1132.9 1216.4,1132.4 1216.5,1132.1 1216.5,1131.8 1216.6,1130.9 1216.6,1130.9 1216.7,1130.3 1216.7,1129.7 1216.8,1129.5 1216.8,1128.5 1216.9,1128.5 1217.0,1128.1 1217.0,1127.4 1217.1,1127.0 1217.1,1126.7 1217.2,1125.9 1217.2,1126.1 1217.3,1125.6 1217.4,1124.6 1217.4,1124.5 1217.5,1123.9 1217.5,1123.7 1217.6,1123.3 1217.7,1122.7 1217.8,1122.7 1217.8,1121.6 1217.9,1120.7 1218.0,1120.6 1218.1,1119.9 1218.2,1120.7 1218.3,1120.5 1218.3,1118.6 1218.4,1118.6 1218.5,1118.8 1218.6,1117.7 1218.7,1117.2 1218.8,1117.1 1218.9,1116.3 1218.9,1116.0 1219.0,1116.0 1219.1,1115.6 1219.2,1114.6 1219.2,1113.7 1219.3,1113.6 1219.4,1113.3 1219.4,1113.2 1219.5,1112.3 1219.6,1111.9 1219.6,1111.5 1219.7,1111.2 1219.7,1110.5 1219.8,1110.6 1219.9,1110.0 1219.9,1109.6 1220.0,1108.6 1220.0,1108.2 1220.1,1107.5 1220.1,1107.4 1220.2,1106.6 1220.3,1106.2 1220.3,1106.1 1220.4,1105.3 1220.4,1104.8 1220.5,1104.5 1220.5,1104.5 1220.6,1103.6 1220.7,1102.9 1220.8,1102.6 1220.8,1101.6 1220.9,1101.7 1221.0,1101.3 1221.0,1100.8 1221.1,1100.4 1221.2,1100.0 1221.2,1099.6 1221.3,1099.1 1221.4,1098.3 1221.4,1097.7 1221.5,1097.4 1221.6,1096.9 1221.7,1096.4 1221.7,1096.4 1221.8,1095.5 1221.9,1095.0 1222.1,1093.9 1222.3,1094.0 1222.4,1092.8 1222.6,1092.4 1222.7,1093.2 1222.9,1093.1 1223.0,1092.7 1223.2,1090.3 1223.3,1091.8 1223.3,1092.6 1223.4,1092.9 1223.5,1092.4 1223.5,1093.3 1223.6,1093.8 1223.7,1094.5 1223.7,1094.6 1223.8,1095.5 1223.9,1096.3 1223.9,1096.5 1224.0,1097.3 1224.1,1098.0 1224.1,1098.2 1224.2,1098.3 1224.3,1098.6 1224.4,1099.7 1224.4,1099.9 1224.6,1100.7 1224.8,1101.3 1225.0,1102.0 1225.2,1102.1 1225.4,1102.2 1225.6,1102.8 1225.8,1102.8 1226.0,1103.4 1226.2,1103.3 1226.4,1105.2 1226.7,1105.8 1226.9,1105.1 1227.1,1107.1 1227.3,1106.6 1227.4,1106.5 1227.6,1106.4 1227.8,1105.7 1227.9,1106.3 1228.1,1104.3 1228.2,1104.7 1228.4,1103.6 1228.5,1102.8 1228.7,1102.2 1228.7,1101.5 1228.8,1101.2 1228.8,1100.9 1228.9,1100.2 1228.9,1100.1 1228.9,1099.3 1229.0,1098.9 1229.0,1098.5 1229.1,1098.0 1229.1,1097.4 1229.2,1097.2 1229.2,1096.6 1229.2,1096.0 1229.3,1095.5 1229.3,1095.1 1229.4,1094.6 1229.4,1094.0 1229.4,1094.1 1229.5,1092.8 1229.5,1093.0 1229.6,1092.3 1229.6,1091.7 1229.7,1092.0 1230.0,1091.5 1230.4,1091.1 1230.8,1090.4 1230.9,1091.0 1231.1,1092.1 1231.2,1092.4 1231.4,1092.5 1231.5,1092.1 1231.7,1094.1 1231.8,1093.8 1232.0,1094.0 1232.1,1094.1 1232.2,1095.2 1232.3,1095.1 1232.4,1096.0 1232.5,1096.5 1232.6,1097.1 1232.7,1097.2 1232.8,1097.5 1233.0,1098.1 1233.1,1099.0 1233.2,1099.6 1233.3,1099.9 1233.4,1099.0 1233.5,1101.3 1233.6,1100.7 1233.8,1100.7 1233.9,1101.7 1234.0,1101.0 1234.2,1102.8 1234.3,1103.9 1234.5,1104.0 1234.6,1104.0 1234.7,1104.0 1234.8,1104.9 1235.0,1105.2 1235.0,1105.3 1235.1,1105.6 1235.2,1106.7 1235.3,1107.3 1235.3,1107.1 1235.4,1107.7 1235.5,1108.2 1235.5,1108.9 1235.6,1109.1 1235.7,1109.0 1235.7,1110.2 1235.8,1110.5 1235.9,1110.3 1235.9,1111.4 1236.0,1112.1 1236.0,1112.4 1236.1,1112.3 1236.2,1112.9 1236.2,1113.9 1236.3,1114.1 1236.3,1114.7 1236.4,1115.3 1236.4,1115.5 1236.4,1116.2 1236.5,1116.3 1236.5,1116.8 1236.5,1117.6 1236.6,1118.0 1236.6,1118.2 1236.6,1118.9 1236.7,1118.9 1236.7,1119.4 1236.7,1120.1 1236.8,1120.8 1236.8,1121.1 1236.8,1121.4 1236.9,1122.0 1236.9,1122.5 1236.9,1123.0 1237.0,1123.6 1237.0,1123.7 1237.0,1124.6 1237.0,1124.9 1237.1,1125.1 1237.1,1125.9 1237.1,1126.4 1237.2,1126.7 1237.2,1127.3 1237.2,1127.8 1237.3,1128.5 1237.3,1128.3 1237.4,1128.9 1237.4,1129.2 1237.4,1130.0 1237.5,1130.2 1237.5,1131.0 1237.5,1131.0 1237.6,1131.9 1237.7,1132.4 1237.8,1133.3 1237.9,1133.3 1238.0,1133.3 1238.1,1134.6 1238.2,1135.4 1238.4,1135.1 1238.5,1134.6 1238.6,1135.9 1238.7,1136.6 1238.8,1135.8 1239.0,1137.3 1239.1,1137.5 1239.2,1137.9 1239.2,1138.3 1239.3,1138.4 1239.4,1139.0 1239.4,1139.5 1239.5,1140.0 1239.6,1140.3 1239.6,1141.0 1239.7,1141.1 1239.7,1142.0 1239.8,1142.6 1239.9,1142.9 1239.9,1143.7 1240.0,1144.2 1240.0,1144.7 1240.1,1144.5 1240.2,1145.2 1240.2,1145.4 1240.3,1145.9 1240.4,1146.7 1240.5,1147.0 1240.5,1146.5 1240.8,1147.1 1241.1,1148.5 1241.4,1149.3 1241.7,1148.6 1242.0,1149.6 1242.1,1151.3 1242.3,1150.1 1242.4,1150.6 1242.5,1151.2 1242.6,1151.8 1242.7,1151.8 1242.8,1152.0 1242.9,1152.8 1243.1,1153.6 1243.2,1153.5 1243.3,1154.4 1243.4,1154.0 1243.5,1155.2 1243.6,1155.3 1243.7,1155.5 1243.8,1156.8 1243.9,1156.8 1244.0,1157.1 1244.1,1158.0 1244.2,1157.7 1244.3,1158.8 1244.4,1159.6 1244.5,1159.6 1244.5,1159.9 1244.6,1160.5 1244.8,1160.5 1244.9,1162.1 1245.0,1162.6 1245.2,1162.6 1245.3,1163.5 1245.5,1163.2 1245.6,1164.1 1245.7,1164.7 1245.9,1163.9 1246.0,1163.9 1246.1,1163.6 1246.2,1164.4 1246.3,1164.4 1246.3,1164.5 1246.4,1163.6 1246.5,1162.9 1246.6,1162.7 1246.7,1161.9 1246.7,1161.4 1246.8,1161.3 1246.9,1160.6 1246.9,1159.9 1247.0,1159.3 1247.1,1158.9 1247.1,1158.7 1247.1,1157.8 1247.2,1157.6 1247.2,1157.1 1247.2,1156.7 1247.2,1156.5 1247.3,1155.8 1247.3,1155.2 1247.3,1155.2 1247.4,1154.6 1247.4,1154.1 1247.4,1153.5 1247.4,1153.0 1247.5,1152.5 1247.5,1152.3 1247.5,1151.5 1247.5,1151.4 1247.5,1150.7 1247.6,1150.1 1247.6,1149.9 1247.6,1149.3 1247.6,1148.6 1247.7,1148.4 1247.7,1147.7 1247.7,1147.1 1247.7,1146.8 1247.8,1146.5 1247.8,1145.9 1247.8,1145.3 1247.8,1145.3 1247.9,1144.7 1247.9,1144.0 1247.9,1143.7 1248.0,1143.1 1248.0,1142.7 1248.1,1142.1 1248.1,1141.4 1248.1,1140.9 1248.2,1140.2 1248.2,1139.9 1248.3,1139.1 1248.3,1138.6 1248.3,1138.2 1248.4,1137.7 1248.4,1137.2 1248.5,1136.5 1248.5,1137.0 1248.6,1135.4 1248.6,1135.6 1248.6,1135.8 1248.7,1137.2 1248.7,1135.8 1248.8,1135.9 1248.8,1136.7 1248.9,1137.5 1248.9,1137.9 1249.0,1138.3 1249.0,1138.6 1249.0,1139.4 1249.1,1139.6 1249.1,1140.1 1249.2,1141.0 1249.2,1141.6 1249.3,1142.0 1249.3,1142.8 1249.4,1143.4 1249.4,1143.9 1249.5,1144.1 1249.5,1144.2 1249.6,1144.7 1249.6,1145.3 1249.7,1146.1 1249.7,1146.4 1249.8,1146.9 1249.8,1147.4 1249.9,1147.8 1249.9,1148.3 1250.0,1149.0 1250.1,1148.8 1250.1,1150.2 1250.2,1150.5 1250.2,1150.7 1250.3,1151.2 1250.3,1151.5 1250.4,1152.2 1250.4,1153.0 1250.5,1153.0 1250.6,1153.5 1250.6,1153.8 1250.7,1154.4 1250.7,1154.7 1250.8,1155.2 1250.9,1155.7 1251.0,1156.7 1251.1,1157.3 1251.2,1157.5 1251.3,1157.9 1251.4,1157.9 1251.5,1158.6 1251.6,1159.0 1251.7,1158.6 1251.8,1160.3 1251.9,1158.6 1252.0,1160.4 1252.1,1161.6 1252.2,1161.2 1252.3,1162.1 1252.3,1162.7 1252.4,1162.9 1252.5,1163.1 1252.5,1164.2 1252.6,1164.3 1252.7,1164.8 1252.7,1165.3 1252.8,1165.7 1252.9,1166.6 1252.9,1166.5 1253.0,1167.4 1253.1,1168.1 1253.1,1168.3 1253.2,1169.0 1253.3,1169.0 1253.4,1169.8 1253.7,1169.2 1254.1,1170.8 1254.4,1170.1 1254.7,1171.0 1254.9,1169.8 1255.1,1169.9 1255.4,1168.0 1255.6,1167.9 1255.8,1168.1 1256.0,1166.6 1256.1,1166.8 1256.2,1167.1 1256.3,1165.6 1256.4,1165.4 1256.5,1165.3 1256.6,1164.5 1256.7,1164.5 1256.8,1163.6 1256.8,1163.4 1256.9,1162.9 1257.0,1162.2 1257.1,1162.0 1257.2,1161.1 1257.2,1161.5 1257.3,1160.3 1257.4,1160.1 1257.4,1159.6 1257.5,1158.9 1257.5,1159.0 1257.5,1158.7 1257.6,1157.6 1257.6,1157.4 1257.6,1157.1 1257.7,1156.1 1257.7,1155.7 1257.7,1155.3 1257.8,1154.8 1257.8,1154.6 1257.8,1154.1 1257.9,1153.4 1257.9,1153.0 1257.9,1152.7 1258.0,1152.3 1258.0,1151.5 1258.0,1151.3 1258.1,1150.8 1258.1,1150.4 1258.1,1149.7 1258.2,1149.1 1258.2,1149.2 1258.2,1148.4 1258.3,1148.0 1258.3,1147.6 1258.3,1147.2 1258.4,1146.5 1258.4,1146.1 1258.5,1145.6 1258.6,1145.0 1258.7,1144.5 1258.7,1144.2 1258.8,1143.6 1258.9,1143.1 1259.0,1141.8 1259.1,1142.2 1259.2,1141.8 1259.2,1141.0 1259.3,1140.1 1259.4,1140.7 1259.5,1140.6 1259.6,1139.8 1259.7,1139.3 1259.8,1140.1 1259.9,1139.4 1260.1,1139.7 1260.2,1141.0 1260.3,1141.1 1260.5,1141.8 1260.6,1142.7 1260.7,1143.1 1260.8,1142.8 1260.9,1145.0 1261.0,1144.3 1261.1,1145.3 1261.2,1144.9 1261.3,1146.2 1261.4,1145.9 1261.5,1145.9 1261.6,1148.0 1261.8,1147.2 1261.9,1147.6 1262.0,1148.5 1262.4,1147.6 1262.9,1148.2 1263.4,1149.9 1263.7,1151.1 1264.0,1149.3 1264.3,1151.1 1264.6,1151.8 1265.0,1151.3 1265.2,1151.7 1265.5,1153.1 1265.8,1153.5 1266.0,1153.9 1266.1,1152.6 1266.2,1152.3 1266.2,1151.9 1266.3,1151.1 1266.4,1150.9 1266.5,1151.1 1266.5,1150.4 1266.6,1149.6 1266.7,1149.6 1266.7,1149.0 1266.8,1148.3 1266.8,1147.9 1266.9,1147.7 1267.0,1146.7 1267.0,1146.6 1267.1,1145.5 1267.2,1146.0 1267.2,1144.8 1267.3,1144.5 1267.4,1143.9 1267.4,1143.5 1267.5,1142.8 1267.5,1142.5 1267.6,1142.2 1267.7,1141.6 1267.7,1141.2 1267.8,1140.9 1267.9,1140.3 1267.9,1139.5 1268.0,1138.9 1268.1,1138.8 1268.3,1139.0 1268.4,1137.5 1268.6,1136.8 1268.8,1137.0 1269.0,1136.6 1269.2,1136.0 1269.4,1135.4 1269.5,1134.9 1269.7,1134.9 1269.7,1134.5 1269.8,1133.9 1269.8,1133.3 1269.9,1133.2 1269.9,1132.3 1269.9,1132.1 1270.0,1131.8 1270.0,1131.2 1270.0,1130.7 1270.1,1130.4 1270.1,1129.7 1270.1,1129.4 1270.1,1129.0 1270.2,1128.3 1270.2,1128.2 1270.2,1127.6 1270.2,1127.1 1270.3,1126.7 1270.3,1126.1 1270.3,1125.6 1270.3,1125.0 1270.3,1124.4 1270.4,1124.1 1270.4,1123.5 1270.4,1123.3 1270.4,1122.5 1270.5,1122.4 1270.5,1121.7 1270.5,1121.4 1270.5,1121.0 1270.5,1120.6 1270.6,1120.1 1270.6,1119.6 1270.6,1119.0 1270.6,1118.8 1270.6,1118.3 1270.6,1117.7 1270.7,1117.1 1270.7,1116.9 1270.7,1116.4 1270.7,1116.0 1270.7,1115.5 1270.7,1114.9 1270.8,1114.7 1270.8,1114.0 1270.8,1113.7 1270.8,1113.0 1270.8,1112.7 1270.8,1112.3 1270.9,1111.8 1270.9,1111.2 1270.9,1110.9 1270.9,1110.4 1270.9,1110.0 1271.0,1109.4 1271.0,1109.3 1271.0,1108.9 1271.0,1108.1 1271.0,1107.9 1271.0,1107.3 1271.1,1106.9 1271.1,1106.4 1271.1,1105.7 1271.2,1105.0 1271.2,1104.5 1271.2,1103.9 1271.3,1103.5 1271.3,1103.0 1271.3,1102.3 1271.4,1101.8 1271.4,1101.3 1271.5,1100.9 1271.5,1100.2 1271.5,1099.7 1271.6,1099.3 1271.6,1098.6 1271.6,1098.1 1271.7,1098.0 1271.7,1098.0 1271.7,1098.5 1271.8,1097.1 1271.8,1097.0 1271.8,1097.3 1271.8,1098.0 1271.9,1097.3 1271.9,1098.1 1271.9,1098.8 1271.9,1099.2 1272.0,1099.3 1272.0,1099.8 1272.0,1100.1 1272.0,1100.7 1272.1,1101.1 1272.1,1101.5 1272.1,1102.1 1272.1,1102.2 1272.1,1103.1 1272.2,1103.4 1272.2,1104.1 1272.2,1104.6 1272.2,1105.2 1272.3,1105.7 1272.3,1106.3 1272.3,1106.7 1272.3,1107.4 1272.3,1107.8 1272.4,1108.3 1272.4,1108.9 1272.4,1109.3 1272.4,1109.9 1272.4,1110.5 1272.5,1111.1 1272.5,1111.6 1272.5,1112.0 1272.5,1112.5 1272.5,1113.3 1272.6,1113.4 1272.6,1113.9 1272.6,1114.5 1272.6,1114.9 1272.6,1115.2 1272.6,1115.7 1272.6,1116.3 1272.7,1116.7 1272.7,1117.2 1272.7,1117.4 1272.7,1118.2 1272.7,1118.5 1272.7,1119.0 1272.7,1119.5 1272.8,1120.2 1272.8,1120.3 1272.8,1120.9 1272.8,1121.4 1272.8,1121.8 1272.8,1122.3 1272.8,1122.7 1272.8,1123.3 1272.9,1123.5 1272.9,1123.9 1272.9,1124.6 1272.9,1125.2 1272.9,1125.4 1272.9,1126.1 1272.9,1126.3 1272.9,1126.8 1273.0,1127.1 1273.0,1127.7 1273.0,1128.2 1273.0,1128.7 1273.0,1129.0 1273.0,1129.5 1273.0,1130.0 1273.1,1130.5 1273.1,1131.0 1273.1,1131.6 1273.1,1131.6 1273.1,1132.5 1273.1,1133.0 1273.1,1133.2 1273.2,1133.7 1273.2,1134.2 1273.2,1134.7 1273.2,1135.1 1273.2,1135.5 1273.3,1136.1 1273.3,1136.4 1273.3,1137.0 1273.3,1137.6 1273.3,1138.2 1273.3,1138.4 1273.4,1138.9 1273.4,1139.2 1273.4,1139.7 1273.4,1140.4 1273.4,1140.7 1273.4,1141.2 1273.5,1141.6 1273.5,1142.0 1273.5,1142.5 1273.5,1143.0 1273.5,1143.6 1273.6,1143.8 1273.6,1144.2 1273.6,1144.6 1273.6,1145.1 1273.7,1145.8 1273.7,1146.2 1273.7,1146.6 1273.7,1147.0 1273.8,1147.6 1273.8,1147.9 1273.8,1148.0 1273.8,1148.7 1273.9,1149.4 1273.9,1149.6 1274.0,1149.7 1274.1,1150.7 1274.2,1150.8 1274.4,1151.8 1274.5,1153.3 1274.7,1152.9 1274.8,1152.4 1275.0,1153.2 1275.1,1154.1 1275.3,1151.3 1275.4,1151.4 1275.6,1152.0 1275.7,1150.2 1275.9,1150.4 1276.0,1150.0 1276.2,1149.4 1276.3,1149.6 1276.5,1149.1 1276.6,1147.3 1276.7,1148.4 1276.8,1147.6 1277.0,1146.3 1277.1,1145.7 1277.2,1145.1 1277.3,1145.2 1277.4,1145.2 1277.5,1143.9 1277.6,1143.8 1277.7,1142.6 1277.8,1142.2 1277.9,1141.1 1278.0,1140.4 1278.2,1142.0 1278.2,1140.3 1278.3,1141.8 1278.4,1142.9 1278.5,1143.1 1278.6,1143.8 1278.7,1143.5 1278.7,1143.9 1278.8,1144.5 1278.9,1145.2 1279.0,1145.9 1279.1,1146.1 1279.1,1147.0 1279.2,1146.9 1279.2,1147.5 1279.3,1148.2 1279.3,1148.7 1279.3,1149.1 1279.4,1149.8 1279.4,1149.7 1279.4,1150.4 1279.5,1150.8 1279.5,1151.3 1279.5,1151.8 1279.6,1152.2 1279.6,1152.7 1279.6,1153.1 1279.6,1153.9 1279.7,1154.0 1279.7,1154.6 1279.7,1155.1 1279.8,1155.6 1279.8,1156.2 1279.8,1156.5 1279.9,1157.2 1279.9,1157.1 1279.9,1158.2 1280.0,1158.4 1280.1,1158.9 1280.1,1159.3 1280.2,1159.7 1280.2,1160.2 1280.3,1160.5 1280.4,1161.5 1280.4,1161.5 1280.5,1162.0 1280.6,1162.6 1280.7,1163.0 1280.7,1163.4 1280.8,1163.7 1280.9,1164.3 1280.9,1164.8 1281.0,1165.3 1281.0,1165.7 1281.1,1166.1 1281.2,1166.1 1281.2,1167.0 1281.3,1167.6 1281.3,1168.0 1281.4,1168.5 1281.5,1168.8 1281.5,1169.0 1281.6,1170.3 1281.6,1170.8 1281.7,1171.2 1281.7,1171.4 1281.8,1172.1 1281.9,1172.1 1281.9,1172.6 1282.0,1173.1 1282.0,1173.5 1282.1,1173.8 1282.2,1175.0 1282.3,1175.3 1282.4,1175.3 1282.4,1175.7 1282.5,1177.2 1282.6,1177.5 1282.7,1178.2 1282.7,1177.8 1282.8,1178.7 1282.9,1179.2 1283.0,1178.9 1283.1,1179.7 1283.3,1178.5 1283.4,1178.9 1283.6,1179.5 1283.8,1178.0 1283.9,1177.3 1284.1,1177.6 1284.3,1176.4 1284.5,1174.8 1284.7,1174.4 1284.9,1174.9 1285.1,1173.5 1285.3,1172.5 1285.5,1172.4 1285.8,1172.8 1286.0,1173.8 1286.3,1175.5 1286.6,1177.0 1286.8,1176.6 1287.1,1176.1 1287.4,1177.0 1287.6,1177.1 1287.9,1178.3 1288.2,1177.7 1288.4,1175.8 1288.7,1180.0 1288.8,1179.7 1288.9,1179.2 1289.0,1179.9 1289.2,1180.4 1289.3,1181.7 1289.4,1181.8 1289.5,1182.3 1289.6,1182.2 1289.7,1183.3 1289.9,1183.5 1290.0,1184.6 1290.1,1185.1 1290.2,1184.4 1290.5,1185.2 1290.8,1184.4 1291.2,1182.7 1291.5,1183.4 1291.8,1182.0 1292.4,1181.4 1292.9,1181.5 1293.4,1182.6 1293.7,1180.8 1293.9,1181.2 1294.1,1181.3 1294.4,1181.2 1294.6,1179.1 1294.8,1179.9 1295.0,1178.0 1295.2,1178.9 1295.3,1176.7 1295.5,1177.3 1295.6,1176.8 1295.8,1176.5 1295.9,1175.7 1296.1,1176.2 1296.2,1175.5 1296.4,1174.7 1296.5,1173.4 1296.6,1173.6 1296.7,1172.8 1296.8,1172.6 1296.9,1172.3 1296.9,1171.8 1297.0,1170.9 1297.1,1170.3 1297.2,1170.1 1297.3,1170.7 1297.4,1170.2 1297.5,1168.8 1297.7,1168.1 1297.8,1168.0 1297.9,1167.6 1298.1,1166.4 1298.2,1165.7 1298.3,1165.2 1298.5,1167.2 1298.6,1163.7 1298.8,1166.5 1298.9,1167.2 1299.1,1166.0 1299.2,1167.6 1299.4,1168.4 1299.6,1168.9 1299.7,1168.6 1299.9,1169.6 1300.1,1169.9 1300.2,1170.9 1300.4,1171.9 1300.6,1172.0 1300.7,1172.9 1300.9,1171.7 1301.1,1172.3 1301.3,1172.8 1301.7,1173.6 1302.2,1174.1 1302.7,1175.2 1302.9,1173.2 1303.1,1173.7 1303.3,1171.7 1303.5,1171.9 1303.7,1171.7 1303.9,1171.3 1304.2,1170.6 1304.4,1170.0 1304.7,1170.0 1305.0,1170.1 1305.3,1170.7 1305.6,1170.4 1305.9,1170.7 1306.2,1171.0 1306.6,1173.3 1307.0,1171.3 1307.3,1173.8 1307.4,1173.0 1307.6,1172.0 1307.7,1172.0 1307.8,1170.5 1307.9,1170.2 1308.0,1169.7 1308.1,1169.4 1308.2,1169.2 1308.3,1168.8 1308.5,1167.9 1308.6,1167.3 1308.7,1167.3 1308.8,1166.6 1308.9,1166.4 1309.1,1165.9 1309.2,1164.8 1309.3,1165.4 1309.4,1165.3 1309.5,1164.9 1309.6,1163.4 1309.7,1162.6 1309.8,1162.6 1309.9,1162.4 1309.9,1162.4 1310.0,1162.0 1310.1,1161.3 1310.1,1160.6 1310.2,1160.4 1310.2,1159.8 1310.3,1159.4 1310.4,1158.4 1310.4,1158.2 1310.5,1158.0 1310.5,1157.6 1310.6,1157.2 1310.6,1156.4 1310.7,1155.9 1310.7,1155.4 1310.8,1154.4 1310.8,1154.3 1310.8,1154.0 1310.8,1153.3 1310.9,1153.2 1310.9,1152.4 1310.9,1152.4 1310.9,1151.6 1310.9,1151.2 1310.9,1150.9 1311.0,1150.3 1311.0,1149.7 1311.0,1149.3 1311.0,1149.0 1311.0,1148.3 1311.0,1148.0 1311.1,1147.5 1311.1,1147.0 1311.1,1146.5 1311.1,1146.0 1311.1,1145.7 1311.1,1145.1 1311.1,1144.6 1311.2,1144.2 1311.2,1143.8 1311.2,1143.4 1311.2,1142.6 1311.2,1142.3 1311.2,1141.9 1311.2,1141.4 1311.2,1140.8 1311.3,1140.3 1311.3,1139.9 1311.3,1139.5 1311.3,1139.0 1311.3,1138.4 1311.3,1138.1 1311.4,1137.5 1311.4,1137.2 1311.4,1136.8 1311.4,1136.4 1311.4,1135.7 1311.4,1135.5 1311.5,1134.7 1311.5,1134.3 1311.5,1134.2 1311.5,1133.7 1311.5,1133.0 1311.6,1132.5 1311.6,1131.9 1311.7,1131.5 1311.7,1130.7 1311.8,1130.0 1311.8,1129.4 1311.9,1129.1 1311.9,1128.5 1312.0,1127.7 1312.0,1127.9 1312.1,1127.3 1312.1,1126.3 1312.2,1126.1 1312.2,1125.8 1312.3,1125.7 1312.3,1125.7 1312.3,1125.1 1312.4,1125.9 1312.4,1125.2 1312.5,1125.4 1312.5,1126.4 1312.6,1126.7 1312.6,1127.3 1312.7,1127.4 1312.7,1128.1 1312.8,1128.7 1312.8,1129.0 1312.8,1129.9 1312.9,1130.5 1312.9,1131.0 1313.0,1131.6 1313.0,1132.3 1313.1,1132.7 1313.1,1133.2 1313.2,1134.0 1313.3,1134.1 1313.3,1134.8 1313.4,1134.8 1313.5,1135.3 1313.5,1136.1 1313.6,1136.3 1313.7,1136.9 1313.7,1137.6 1313.8,1138.7 1313.9,1138.4 1314.0,1138.8 1314.0,1139.4 1314.1,1140.0 1314.2,1139.4 1314.2,1141.0 1314.3,1141.4 1314.4,1141.6 1314.5,1142.0 1314.5,1142.5 1314.6,1142.5 1314.6,1143.0 1314.7,1144.3 1314.8,1144.6 1314.8,1145.1 1314.9,1145.1 1315.0,1145.4 1315.0,1146.4 1315.1,1146.9 1315.2,1147.0 1315.2,1147.9 1315.3,1148.5 1315.4,1149.0 1315.4,1149.2 1315.5,1149.4 1315.6,1149.3 1315.8,1150.4 1315.9,1151.1 1316.0,1151.4 1316.2,1152.7 1316.3,1152.6 1316.5,1153.2 1316.6,1153.7 1316.8,1154.8 1316.9,1151.8 1317.0,1153.3 1317.2,1153.1 1317.3,1151.7 1317.4,1152.1 1317.6,1151.0 1317.7,1150.7 1317.8,1150.5 1317.9,1150.0 1318.1,1149.2 1318.2,1148.7 1318.3,1148.2 1318.4,1147.1 1318.5,1146.0 1318.7,1146.7 1318.8,1146.5 1318.9,1147.7 1319.0,1147.7 1319.1,1148.6 1319.1,1148.9 1319.3,1149.5 1319.4,1150.4 1319.5,1150.6 1319.6,1150.6 1319.7,1151.8 1319.9,1152.0 1320.1,1153.9 1320.4,1152.9 1320.6,1152.4 1320.9,1154.1 1321.1,1153.3 1321.3,1154.2 1321.4,1155.3 1321.5,1156.0 1321.6,1156.1 1321.7,1156.7 1321.8,1156.8 1321.9,1158.0 1322.0,1158.3 1322.0,1158.5 1322.1,1159.0 1322.2,1159.8 1322.3,1159.8 1322.6,1159.6 1322.8,1161.3 1323.1,1161.3 1323.4,1160.4 1323.7,1161.8 1324.0,1159.4 1324.3,1160.2 1324.6,1159.5 1325.0,1158.6 1325.4,1159.0 1325.8,1157.5 1326.2,1159.1 1326.5,1158.0 1326.7,1157.5 1326.9,1158.3 1327.0,1156.6 1327.2,1157.1 1327.3,1156.3 1327.4,1155.7 1327.5,1155.8 1327.6,1155.0 1327.7,1154.0 1327.7,1153.8 1327.8,1153.0 1327.8,1153.1 1327.8,1152.6 1327.9,1152.0 1327.9,1151.5 1327.9,1151.4 1328.0,1150.4 1328.0,1150.3 1328.1,1149.6 1328.1,1148.8 1328.1,1148.8 1328.2,1148.1 1328.2,1147.4 1328.2,1147.4 1328.3,1146.7 1328.3,1146.2 1328.4,1146.0 1328.5,1145.3 1328.6,1144.8 1328.7,1144.0 1328.8,1143.8 1328.9,1142.6 1329.0,1142.8 1329.1,1142.5 1329.2,1140.8 1329.3,1141.0 1329.4,1140.2 1329.6,1141.6 1329.8,1140.1 1330.1,1137.8 1330.3,1140.7 1330.5,1139.1 1330.5,1138.5 1330.5,1138.0 1330.5,1137.5 1330.6,1137.8 1330.6,1136.9 1330.6,1136.5 1330.7,1136.1 1330.7,1135.6 1330.7,1135.1 1330.7,1134.7 1330.8,1134.2 1330.8,1134.0 1330.8,1133.4 1330.8,1133.0 1330.9,1132.4 1330.9,1131.8 1330.9,1131.5 1330.9,1131.0 1330.9,1130.5 1331.0,1129.9 1331.0,1129.6 1331.0,1129.1 1331.0,1128.5 1331.0,1128.1 1331.1,1127.8 1331.1,1127.3 1331.1,1126.9 1331.1,1126.4 1331.2,1126.0 1331.2,1125.5 1331.2,1125.0 1331.2,1124.4 1331.2,1123.9 1331.3,1123.8 1331.3,1122.9 1331.3,1122.7 1331.3,1122.3 1331.4,1121.7 1331.4,1121.2 1331.4,1120.9 1331.4,1120.1 1331.5,1119.4 1331.5,1119.2 1331.5,1118.5 1331.5,1117.7 1331.6,1117.4 1331.6,1116.4 1331.6,1116.1 1331.6,1115.5 1331.7,1115.0 1331.7,1114.4 1331.7,1113.8 1331.8,1113.3 1331.8,1112.9 1331.8,1112.3 1331.8,1112.1 1331.9,1111.7 1331.9,1111.3 1331.9,1110.6 1331.9,1110.5 1332.0,1110.1 1332.0,1109.4 1332.0,1109.4 1332.0,1109.0 1332.1,1109.1 1332.1,1107.8 1332.1,1108.9 1332.2,1109.6 1332.2,1109.3 1332.2,1108.6 1332.3,1108.9 1332.3,1109.6 1332.3,1110.1 1332.4,1110.4 1332.4,1110.8 1332.4,1111.3 1332.5,1111.6 1332.5,1111.7 1332.5,1112.2 1332.6,1112.9 1332.6,1113.6 1332.6,1113.9 1332.7,1114.5 1332.7,1114.8 1332.7,1115.7 1332.8,1116.1 1332.8,1116.7 1332.8,1117.3 1332.9,1117.9 1332.9,1118.3 1332.9,1118.7 1333.0,1119.5 1333.0,1120.2 1333.0,1120.7 1333.1,1121.2 1333.1,1122.0 1333.1,1122.2 1333.2,1122.5 1333.2,1123.1 1333.2,1123.4 1333.2,1123.9 1333.3,1124.2 1333.3,1125.0 1333.3,1125.5 1333.3,1126.0 1333.3,1126.5 1333.4,1127.2 1333.4,1127.3 1333.4,1128.0 1333.4,1128.2 1333.4,1129.1 1333.5,1129.2 1333.5,1129.7 1333.5,1130.2 1333.5,1130.6 1333.5,1131.2 1333.5,1131.6 1333.6,1131.9 1333.6,1132.5 1333.6,1132.8 1333.6,1133.8 1333.7,1133.8 1333.7,1134.3 1333.7,1134.9 1333.7,1135.3 1333.8,1135.9 1333.8,1136.3 1333.8,1136.3 1333.9,1136.9 1333.9,1137.4 1333.9,1137.9 1334.0,1138.6 1334.2,1138.7 1334.3,1140.2 1334.4,1140.2 1334.6,1141.1 1334.8,1141.1 1334.9,1141.1 1335.1,1142.6 1335.3,1141.7 1335.7,1143.3 1336.2,1141.8 1336.5,1142.9 1336.6,1143.9 1336.7,1143.8 1336.8,1144.1 1336.9,1144.3 1337.0,1144.5 1337.1,1146.0 1337.1,1146.5 1337.2,1146.7 1337.3,1147.2 1337.3,1147.3 1337.4,1147.9 1337.5,1148.3 1337.5,1149.4 1337.6,1149.3 1337.7,1149.9 1337.7,1150.3 1337.8,1150.5 1337.8,1151.7 1337.9,1151.5 1337.9,1152.0 1337.9,1152.6 1338.0,1153.2 1338.0,1153.2 1338.1,1154.2 1338.1,1154.5 1338.2,1155.2 1338.2,1155.6 1338.3,1155.6 1338.3,1156.5 1338.4,1156.8 1338.4,1157.2 1338.5,1157.6 1338.5,1157.9 1338.6,1159.0 1338.7,1158.9 1338.8,1159.0 1338.9,1159.8 1339.0,1160.4 1339.2,1161.2 1339.3,1161.6 1339.5,1161.5 1339.6,1162.2 1339.8,1161.4 1339.9,1163.5 1340.1,1163.5 1340.4,1163.3 1340.6,1161.9 1340.8,1161.4 1341.0,1160.3 1341.0,1160.6 1341.1,1160.0 1341.2,1159.5 1341.2,1159.4 1341.3,1158.8 1341.4,1158.9 1341.4,1157.8 1341.5,1157.6 1341.5,1157.0 1341.6,1156.8 1341.6,1156.4 1341.7,1155.7 1341.7,1155.6 1341.8,1155.0 1341.9,1154.1 1341.9,1153.7 1342.0,1152.9 1342.0,1152.6 1342.1,1152.2 1342.1,1152.0 1342.1,1151.6 1342.2,1150.6 1342.2,1150.3 1342.2,1150.0 1342.2,1149.6 1342.3,1149.1 1342.3,1148.6 1342.3,1148.5 1342.4,1147.6 1342.4,1147.4 1342.4,1146.8 1342.5,1146.5 1342.5,1145.8 1342.5,1145.3 1342.6,1144.9 1342.6,1144.3 1342.6,1144.1 1342.6,1143.7 1342.7,1143.0 1342.7,1142.6 1342.7,1142.1 1342.8,1141.6 1342.8,1141.2 1342.8,1140.8 1342.9,1140.2 1342.9,1139.6 1342.9,1139.2 1343.0,1138.9 1343.0,1138.5 1343.0,1138.0 1343.1,1137.6 1343.1,1137.2 1343.1,1136.6 1343.2,1136.3 1343.2,1135.4 1343.2,1135.1 1343.3,1134.8 1343.3,1134.5 1343.4,1134.3 1343.4,1133.2 1343.5,1132.7 1343.6,1132.0 1343.7,1131.8 1343.8,1132.3 1343.8,1130.5 1344.0,1130.2 1344.1,1130.2 1344.2,1130.0 1344.3,1129.9 1344.4,1129.2 1344.5,1127.8 1344.6,1128.1 1344.7,1128.2 1344.8,1126.6 1344.8,1127.0 1344.9,1126.4 1345.0,1125.9 1345.1,1125.7 1345.2,1124.7 1345.3,1124.3 1345.3,1124.1 1345.4,1123.1 1345.5,1122.8 1345.6,1123.0 1345.6,1121.8 1345.7,1120.8 1345.8,1121.6 1345.9,1122.8 1346.0,1122.2 1346.1,1122.7 1346.2,1123.1 1346.3,1123.7 1346.4,1124.6 1346.5,1124.4 1346.6,1125.6 1346.7,1126.3 1346.9,1125.6 1347.0,1127.1 1347.2,1125.4 1347.4,1127.0 1347.6,1125.5 1347.8,1123.9 1348.0,1123.3 1348.1,1123.7 1348.2,1122.9 1348.2,1122.6 1348.3,1121.7 1348.3,1121.3 1348.4,1121.5 1348.4,1120.2 1348.5,1119.7 1348.5,1119.8 1348.6,1119.0 1348.6,1118.5 1348.6,1118.2 1348.7,1117.5 1348.7,1117.2 1348.8,1116.3 1348.8,1115.9 1348.8,1115.5 1348.9,1115.4 1348.9,1115.3 1349.0,1114.2 1349.0,1113.8 1349.1,1113.2 1349.1,1112.8 1349.2,1112.9 1349.4,1111.6 1349.6,1110.3 1350.0,1109.1 1350.1,1112.6 1350.1,1112.1 1350.2,1113.1 1350.2,1112.8 1350.3,1113.8 1350.3,1113.9 1350.3,1114.5 1350.4,1114.9 1350.4,1115.3 1350.5,1115.8 1350.5,1116.6 1350.5,1116.9 1350.6,1117.4 1350.6,1118.1 1350.6,1118.4 1350.7,1118.7 1350.7,1119.2 1350.8,1120.0 1350.8,1120.4 1350.8,1120.7 1350.8,1121.4 1350.9,1121.5 1350.9,1122.2 1350.9,1122.8 1350.9,1122.9 1351.0,1123.6 1351.0,1124.2 1351.0,1124.6 1351.1,1124.8 1351.1,1125.5 1351.1,1126.1 1351.1,1126.3 1351.2,1127.1 1351.2,1127.6 1351.2,1127.6 1351.3,1128.0 1351.3,1128.6 1351.3,1129.1 1351.3,1129.5 1351.4,1130.0 1351.4,1130.6 1351.5,1130.9 1351.5,1131.5 1351.5,1132.1 1351.6,1132.3 1351.6,1133.0 1351.7,1134.0 1351.8,1133.7 1351.8,1134.0 1351.9,1134.7 1351.9,1135.3 1352.0,1135.7 1352.1,1135.8 1352.1,1136.5 1352.2,1136.8 1352.3,1137.5 1352.3,1138.4 1352.4,1138.2 1352.4,1138.5 1352.5,1139.6 1352.6,1139.8 1352.6,1140.4 1352.7,1140.8 1352.7,1141.2 1352.8,1141.7 1352.9,1142.1 1352.9,1142.5 1353.0,1142.9 1353.0,1143.8 1353.0,1144.0 1353.1,1144.5 1353.1,1145.0 1353.2,1145.4 1353.2,1145.9 1353.3,1146.5 1353.3,1146.7 1353.3,1147.4 1353.4,1147.9 1353.4,1148.3 1353.5,1148.5 1353.5,1149.0 1353.6,1149.6 1353.6,1150.2 1353.6,1150.6 1353.7,1150.6 1353.7,1151.4 1353.8,1152.3 1353.9,1152.1 1353.9,1152.6 1354.0,1153.4 1354.2,1153.6 1354.3,1154.5 1354.5,1155.4 1354.6,1156.2 1354.8,1155.9 1355.0,1155.8 1355.1,1156.9 1355.3,1157.9 1355.5,1154.7 1355.8,1155.8 1356.0,1155.3 1356.3,1154.8 1356.5,1154.8 1356.7,1153.9 1356.8,1153.8 1357.0,1154.0 1357.1,1152.5 1357.2,1152.9 1357.3,1151.3 1357.5,1151.8 1357.6,1150.4 1357.7,1151.2 1357.9,1149.5 1358.0,1149.3 1358.1,1148.3 1358.3,1150.1 1358.4,1150.2 1358.6,1151.3 1358.7,1151.5 1358.9,1151.3 1359.0,1152.2 1359.2,1152.1 1359.3,1152.5 1359.4,1153.4 1359.5,1153.5 1359.5,1154.4 1359.6,1154.9 1359.7,1155.8 1359.8,1155.9 1359.9,1157.3 1360.0,1157.2 1360.1,1157.7 1360.2,1157.8 1360.7,1156.1 1361.2,1157.7 1361.6,1156.4 1361.7,1156.3 1361.7,1155.7 1361.8,1155.9 1361.8,1155.2 1361.9,1154.9 1361.9,1153.9 1361.9,1154.0 1362.0,1153.8 1362.0,1152.6 1362.1,1152.2 1362.1,1151.7 1362.1,1151.0 1362.2,1150.8 1362.2,1150.5 1362.2,1149.6 1362.3,1149.0 1362.3,1149.4 1362.4,1148.4 1362.4,1147.9 1362.5,1147.4 1362.5,1146.7 1362.6,1146.2 1362.6,1146.4 1363.0,1144.1 1363.5,1145.5 1363.9,1145.6 1364.1,1145.7 1364.4,1145.7 1364.6,1144.5 1364.8,1144.4 1365.0,1143.6 1365.2,1143.2 1365.3,1143.3 1365.4,1141.8 1365.5,1141.9 1365.6,1140.8 1365.7,1140.6 1365.8,1140.0 1365.8,1139.2 1365.9,1138.9 1366.0,1138.4 1366.1,1139.2 1366.2,1137.5 1366.3,1137.7 1366.4,1138.0 1366.6,1138.8 1366.7,1139.0 1366.8,1139.7 1366.9,1140.2 1367.0,1141.1 1367.1,1141.4 1367.3,1141.5 1367.4,1142.0 1367.5,1143.1 1367.6,1142.5 1367.7,1144.1 1367.8,1144.9 1368.0,1144.2 1368.1,1144.5 1368.2,1146.1 1368.3,1145.4 1368.4,1146.5 1368.5,1147.3 1368.6,1147.3 1368.7,1147.9 1368.7,1148.1 1368.8,1148.8 1368.8,1149.0 1368.9,1149.5 1368.9,1150.2 1369.0,1150.3 1369.0,1150.9 1369.0,1151.3 1369.1,1151.9 1369.1,1152.3 1369.2,1153.1 1369.2,1153.5 1369.3,1153.5 1369.3,1154.1 1369.4,1155.1 1369.5,1155.0 1369.6,1155.2 1369.7,1156.1 1369.8,1156.4 1369.9,1156.6 1370.0,1157.2 1370.1,1156.9 1370.3,1158.6 1370.4,1158.0 1370.5,1159.5 1370.6,1158.8 1370.7,1159.9 1370.9,1159.5 1371.0,1161.2 1371.1,1161.6 1371.2,1161.7 1371.3,1161.9 1371.4,1163.2 1371.5,1163.4 1371.6,1162.6 1371.8,1164.2 1371.9,1164.9 1372.0,1165.2 1372.1,1165.9 1372.3,1165.0 1372.4,1165.8 1372.6,1167.4 1372.7,1167.3 1372.9,1168.3 1373.0,1168.1 1373.2,1168.0 1373.4,1169.2 1373.6,1168.9 1373.9,1169.6 1374.1,1170.9 1374.4,1171.9 1374.7,1171.4 1375.0,1171.8 1375.2,1172.3 1375.4,1171.7 1375.6,1174.1 1375.9,1173.3 1376.1,1173.1 1376.3,1174.1 1376.5,1175.6 1376.7,1174.0 1376.9,1175.3 1377.1,1175.4 1377.3,1176.2 1377.5,1177.6 1377.7,1177.5 1377.9,1178.2 1378.1,1178.2 1378.5,1179.0 1378.9,1179.2 1379.4,1178.0 1379.8,1179.6 1380.2,1179.3 1380.5,1178.8 1380.8,1181.3 1381.1,1180.1 1381.4,1182.0 1381.8,1181.5 1382.3,1180.8 1382.8,1181.9 1383.4,1181.5 1383.9,1181.9 1384.3,1181.0 1384.7,1182.8 1385.2,1182.7 1385.6,1183.8 1386.0,1182.7 1386.5,1183.8 1387.1,1181.9 1387.6,1183.8 1388.1,1182.5 1388.6,1182.8 1389.2,1180.7 1389.7,1183.6 1390.2,1184.0" fill="none" stroke="#0a0a0a" stroke-width="1.85" stroke-linejoin="round" stroke-linecap="round"/>
<line x1="1168.4" y1="664.9" x2="1221.5" y2="664.9" stroke="#111" stroke-width="1.8"/>
<text transform="translate(735.1,1132.6) rotate(-90)" font-size="22" font-weight="bold" word-spacing="2.1" stroke="#111" stroke-width="0.4" textLength="350.80" lengthAdjust="spacingAndGlyphs">Raman Intesity/Arbitr. Units</text>
<line x1="1092.40" y1="1090.40" x2="1101.33" y2="1158.39" stroke="#111" stroke-width="1.1"/><polygon points="1102.70,1168.80 1098.20,1156.78 1103.95,1156.03" fill="#111"/>
<line x1="1212.50" y1="1004.30" x2="1221.35" y2="1072.59" stroke="#111" stroke-width="1.1"/><polygon points="1222.70,1083.00 1218.22,1070.98 1223.97,1070.23" fill="#111"/>
<line x1="1245.90" y1="979.40" x2="1239.81" y2="1084.02" stroke="#111" stroke-width="1.1"/><polygon points="1239.20,1094.50 1237.03,1081.85 1242.82,1082.19" fill="#111"/>
<line x1="1275.20" y1="937.20" x2="1275.20" y2="1084.00" stroke="#111" stroke-width="1.1"/><polygon points="1275.20,1094.50 1272.30,1082.00 1278.10,1082.00" fill="#111"/></g>
<g><text x="608.10" y="35.60" font-size="28" font-weight="normal" stroke="#111" stroke-width="0.45" textLength="63.30" lengthAdjust="spacingAndGlyphs">pectin</text>
<text x="10.54" y="55.62" font-size="44.3" font-weight="bold" stroke="#111" stroke-width="0.7" textLength="24.94" lengthAdjust="spacingAndGlyphs">A</text>
<text x="264.42" y="641.20" font-size="25.5" font-weight="bold" stroke="#111" stroke-width="0.2" textLength="166.50" lengthAdjust="spacingAndGlyphs">Wavenumber/cm</text>
<text x="432.06" y="629.00" font-size="25.5" font-weight="bold" stroke="#111" stroke-width="0.2" textLength="15.88" lengthAdjust="spacingAndGlyphs">-1</text>
<text x="161.56" y="276.10" font-size="28" font-weight="normal" stroke="#111" stroke-width="0.45" textLength="49.36" lengthAdjust="spacingAndGlyphs">2948</text>
<text x="543.56" y="180.04" font-size="28" font-weight="normal" stroke="#111" stroke-width="0.45" textLength="36.42" lengthAdjust="spacingAndGlyphs">850</text>
<text x="357.60" y="424.62" font-size="28" font-weight="normal" stroke="#111" stroke-width="0.45" textLength="47.84" lengthAdjust="spacingAndGlyphs">1750</text>
<text x="580.54" y="443.14" font-size="28" font-weight="normal" stroke="#111" stroke-width="0.45" textLength="36.40" lengthAdjust="spacingAndGlyphs">817</text>
<text x="634.48" y="384.12" font-size="28" font-weight="normal" stroke="#111" stroke-width="0.45" textLength="36.96" lengthAdjust="spacingAndGlyphs">479</text>
<text x="54.52" y="588.48" font-size="25.2" font-weight="bold" stroke="#111" stroke-width="0.0" textLength="42.88" lengthAdjust="spacingAndGlyphs">3500</text>
<text x="145.36" y="588.48" font-size="25.2" font-weight="bold" stroke="#111" stroke-width="0.0" textLength="42.88" lengthAdjust="spacingAndGlyphs">3000</text>
<text x="236.20" y="588.48" font-size="25.2" font-weight="bold" stroke="#111" stroke-width="0.0" textLength="42.88" lengthAdjust="spacingAndGlyphs">2500</text>
<text x="327.05" y="588.48" font-size="25.2" font-weight="bold" stroke="#111" stroke-width="0.0" textLength="41.98" lengthAdjust="spacingAndGlyphs">2000</text>
<text x="416.99" y="588.48" font-size="25.2" font-weight="bold" stroke="#111" stroke-width="0.0" textLength="42.88" lengthAdjust="spacingAndGlyphs">1500</text>
<text x="507.83" y="588.48" font-size="25.2" font-weight="bold" stroke="#111" stroke-width="0.0" textLength="42.88" lengthAdjust="spacingAndGlyphs">1000</text>
<text x="603.81" y="588.48" font-size="25.2" font-weight="bold" stroke="#111" stroke-width="0.0" textLength="32.61" lengthAdjust="spacingAndGlyphs">500</text>
<text x="52.31" y="561.46" font-size="25.2" font-weight="bold" stroke="#111" stroke-width="0.0" textLength="10.67" lengthAdjust="spacingAndGlyphs">0</text>
<text x="51.41" y="434.04" font-size="25.2" font-weight="bold" stroke="#111" stroke-width="0.0" textLength="11.57" lengthAdjust="spacingAndGlyphs">1</text>
<text x="52.31" y="308.02" font-size="25.2" font-weight="bold" stroke="#111" stroke-width="0.0" textLength="10.67" lengthAdjust="spacingAndGlyphs">2</text>
<text x="52.31" y="181.54" font-size="25.2" font-weight="bold" stroke="#111" stroke-width="0.0" textLength="10.67" lengthAdjust="spacingAndGlyphs">3</text>
<text x="53.21" y="55.54" font-size="25.2" font-weight="bold" stroke="#111" stroke-width="0.0" textLength="9.77" lengthAdjust="spacingAndGlyphs">4</text>
<text x="1275.00" y="39.00" font-size="28" font-weight="normal" stroke="#111" stroke-width="0.45" textLength="110.90" lengthAdjust="spacingAndGlyphs">xyloglucan</text>
<text x="726.18" y="55.62" font-size="44.3" font-weight="bold" stroke="#111" stroke-width="0.7" textLength="23.72" lengthAdjust="spacingAndGlyphs">B</text>
<text x="979.50" y="640.20" font-size="25.5" font-weight="bold" stroke="#111" stroke-width="0.2" textLength="167.90" lengthAdjust="spacingAndGlyphs">Wavenumber/cm</text>
<text x="1148.08" y="627.54" font-size="25.5" font-weight="bold" stroke="#111" stroke-width="0.2" textLength="15.88" lengthAdjust="spacingAndGlyphs">-1</text>
<text x="880.62" y="119.62" font-size="28" font-weight="normal" stroke="#111" stroke-width="0.45" textLength="48.84" lengthAdjust="spacingAndGlyphs">2897</text>
<text x="1083.64" y="333.56" font-size="28" font-weight="normal" stroke="#111" stroke-width="0.45" textLength="48.32" lengthAdjust="spacingAndGlyphs">1465</text>
<text x="1160.14" y="313.58" font-size="28" font-weight="normal" stroke="#111" stroke-width="0.45" textLength="48.32" lengthAdjust="spacingAndGlyphs">1256</text>
<text x="765.06" y="588.50" font-size="25.2" font-weight="bold" stroke="#111" stroke-width="0.0" textLength="42.88" lengthAdjust="spacingAndGlyphs">3500</text>
<text x="856.34" y="588.50" font-size="25.2" font-weight="bold" stroke="#111" stroke-width="0.0" textLength="41.98" lengthAdjust="spacingAndGlyphs">3000</text>
<text x="946.72" y="588.50" font-size="25.2" font-weight="bold" stroke="#111" stroke-width="0.0" textLength="42.88" lengthAdjust="spacingAndGlyphs">2500</text>
<text x="1037.11" y="588.50" font-size="25.2" font-weight="bold" stroke="#111" stroke-width="0.0" textLength="42.88" lengthAdjust="spacingAndGlyphs">2000</text>
<text x="1127.49" y="588.50" font-size="25.2" font-weight="bold" stroke="#111" stroke-width="0.0" textLength="42.88" lengthAdjust="spacingAndGlyphs">1500</text>
<text x="1217.87" y="588.50" font-size="25.2" font-weight="bold" stroke="#111" stroke-width="0.0" textLength="43.78" lengthAdjust="spacingAndGlyphs">1000</text>
<text x="1314.29" y="588.50" font-size="25.2" font-weight="bold" stroke="#111" stroke-width="0.0" textLength="32.61" lengthAdjust="spacingAndGlyphs">500</text>
<text x="762.85" y="559.54" font-size="25.2" font-weight="bold" stroke="#111" stroke-width="0.0" textLength="11.57" lengthAdjust="spacingAndGlyphs">0</text>
<text x="763.75" y="433.52" font-size="25.2" font-weight="bold" stroke="#111" stroke-width="0.0" textLength="10.67" lengthAdjust="spacingAndGlyphs">2</text>
<text x="763.75" y="307.96" font-size="25.2" font-weight="bold" stroke="#111" stroke-width="0.0" textLength="9.77" lengthAdjust="spacingAndGlyphs">4</text>
<text x="763.75" y="181.50" font-size="25.2" font-weight="bold" stroke="#111" stroke-width="0.0" textLength="10.67" lengthAdjust="spacingAndGlyphs">6</text>
<text x="763.75" y="55.50" font-size="25.2" font-weight="bold" stroke="#111" stroke-width="0.0" textLength="10.67" lengthAdjust="spacingAndGlyphs">8</text>
<text x="578.06" y="674.60" font-size="28" font-weight="normal" stroke="#111" stroke-width="0.45" textLength="92.36" lengthAdjust="spacingAndGlyphs">cellulose</text>
<text x="10.56" y="687.14" font-size="44.3" font-weight="bold" stroke="#111" stroke-width="0.7" textLength="24.90" lengthAdjust="spacingAndGlyphs">C</text>
<text x="273.94" y="1268.20" font-size="25.5" font-weight="bold" stroke="#111" stroke-width="0.2" textLength="167.00" lengthAdjust="spacingAndGlyphs">Wavenumber/cm</text>
<text x="442.52" y="1256.46" font-size="25.5" font-weight="bold" stroke="#111" stroke-width="0.2" textLength="14.00" lengthAdjust="spacingAndGlyphs">-1</text>
<text x="170.54" y="716.64" font-size="28" font-weight="normal" stroke="#111" stroke-width="0.45" textLength="48.44" lengthAdjust="spacingAndGlyphs">2894</text>
<text x="440.08" y="826.08" font-size="28" font-weight="normal" stroke="#111" stroke-width="0.45" textLength="45.34" lengthAdjust="spacingAndGlyphs">1121</text>
<text x="495.16" y="807.56" font-size="28" font-weight="normal" stroke="#111" stroke-width="0.45" textLength="48.26" lengthAdjust="spacingAndGlyphs">1098</text>
<text x="437.62" y="956.56" font-size="28" font-weight="normal" stroke="#111" stroke-width="0.45" textLength="47.86" lengthAdjust="spacingAndGlyphs">1378</text>
<text x="534.02" y="1074.62" font-size="28" font-weight="normal" stroke="#111" stroke-width="0.45" textLength="32.96" lengthAdjust="spacingAndGlyphs">971</text>
<text x="626.54" y="995.00" font-size="28" font-weight="normal" stroke="#111" stroke-width="0.45" textLength="36.40" lengthAdjust="spacingAndGlyphs">380</text>
<text x="53.52" y="1222.52" font-size="25.2" font-weight="bold" stroke="#111" stroke-width="0.0" textLength="42.88" lengthAdjust="spacingAndGlyphs">3500</text>
<text x="144.50" y="1222.52" font-size="25.2" font-weight="bold" stroke="#111" stroke-width="0.0" textLength="42.88" lengthAdjust="spacingAndGlyphs">3000</text>
<text x="234.58" y="1222.52" font-size="25.2" font-weight="bold" stroke="#111" stroke-width="0.0" textLength="42.88" lengthAdjust="spacingAndGlyphs">2500</text>
<text x="325.56" y="1222.52" font-size="25.2" font-weight="bold" stroke="#111" stroke-width="0.0" textLength="42.88" lengthAdjust="spacingAndGlyphs">2000</text>
<text x="415.64" y="1222.52" font-size="25.2" font-weight="bold" stroke="#111" stroke-width="0.0" textLength="43.78" lengthAdjust="spacingAndGlyphs">1500</text>
<text x="506.62" y="1222.52" font-size="25.2" font-weight="bold" stroke="#111" stroke-width="0.0" textLength="43.78" lengthAdjust="spacingAndGlyphs">1000</text>
<text x="603.64" y="1222.52" font-size="25.2" font-weight="bold" stroke="#111" stroke-width="0.0" textLength="31.71" lengthAdjust="spacingAndGlyphs">500</text>
<text x="50.87" y="1194.52" font-size="25.2" font-weight="bold" stroke="#111" stroke-width="0.0" textLength="11.57" lengthAdjust="spacingAndGlyphs">0</text>
<text x="50.87" y="1116.98" font-size="25.2" font-weight="bold" stroke="#111" stroke-width="0.0" textLength="11.57" lengthAdjust="spacingAndGlyphs">1</text>
<text x="51.77" y="1039.46" font-size="25.2" font-weight="bold" stroke="#111" stroke-width="0.0" textLength="10.67" lengthAdjust="spacingAndGlyphs">2</text>
<text x="51.77" y="961.48" font-size="25.2" font-weight="bold" stroke="#111" stroke-width="0.0" textLength="10.67" lengthAdjust="spacingAndGlyphs">3</text>
<text x="51.77" y="883.96" font-size="25.2" font-weight="bold" stroke="#111" stroke-width="0.0" textLength="9.77" lengthAdjust="spacingAndGlyphs">4</text>
<text x="51.77" y="805.98" font-size="25.2" font-weight="bold" stroke="#111" stroke-width="0.0" textLength="10.67" lengthAdjust="spacingAndGlyphs">5</text>
<text x="51.77" y="728.46" font-size="25.2" font-weight="bold" stroke="#111" stroke-width="0.0" textLength="10.67" lengthAdjust="spacingAndGlyphs">6</text>
<text x="1229.48" y="674.70" font-size="28" font-weight="normal" stroke="#111" stroke-width="0.45" textLength="161.36" lengthAdjust="spacingAndGlyphs">tomato cell wall</text>
<text x="726.18" y="687.08" font-size="44.3" font-weight="bold" stroke="#111" stroke-width="0.7" textLength="25.18" lengthAdjust="spacingAndGlyphs">D</text>
<text x="977.44" y="1265.90" font-size="25.5" font-weight="bold" stroke="#111" stroke-width="0.2" textLength="167.44" lengthAdjust="spacingAndGlyphs">Wavenumber/cm</text>
<text x="1146.00" y="1254.02" font-size="25.5" font-weight="bold" stroke="#111" stroke-width="0.2" textLength="14.00" lengthAdjust="spacingAndGlyphs">-1</text>
<text x="869.06" y="711.10" font-size="28" font-weight="normal" stroke="#111" stroke-width="0.45" textLength="49.36" lengthAdjust="spacingAndGlyphs">2940</text>
<text x="1070.58" y="1084.62" font-size="28" font-weight="normal" stroke="#111" stroke-width="0.45" textLength="47.88" lengthAdjust="spacingAndGlyphs">1742</text>
<text x="1176.64" y="998.58" font-size="28" font-weight="normal" stroke="#111" stroke-width="0.45" textLength="48.32" lengthAdjust="spacingAndGlyphs">1120</text>
<text x="1222.16" y="966.60" font-size="28" font-weight="normal" stroke="#111" stroke-width="0.45" textLength="47.82" lengthAdjust="spacingAndGlyphs">1090</text>
<text x="1258.58" y="929.98" font-size="28" font-weight="normal" stroke="#111" stroke-width="0.45" textLength="36.88" lengthAdjust="spacingAndGlyphs">856</text>
<text x="769.56" y="1224.46" font-size="25.2" font-weight="bold" stroke="#111" stroke-width="0.0" textLength="42.88" lengthAdjust="spacingAndGlyphs">3500</text>
<text x="860.31" y="1224.46" font-size="25.2" font-weight="bold" stroke="#111" stroke-width="0.0" textLength="42.88" lengthAdjust="spacingAndGlyphs">3000</text>
<text x="951.06" y="1224.46" font-size="25.2" font-weight="bold" stroke="#111" stroke-width="0.0" textLength="42.88" lengthAdjust="spacingAndGlyphs">2500</text>
<text x="1041.81" y="1224.46" font-size="25.2" font-weight="bold" stroke="#111" stroke-width="0.0" textLength="42.88" lengthAdjust="spacingAndGlyphs">2000</text>
<text x="1132.56" y="1224.46" font-size="25.2" font-weight="bold" stroke="#111" stroke-width="0.0" textLength="42.88" lengthAdjust="spacingAndGlyphs">1500</text>
<text x="1223.31" y="1224.46" font-size="25.2" font-weight="bold" stroke="#111" stroke-width="0.0" textLength="42.88" lengthAdjust="spacingAndGlyphs">1000</text>
<text x="1319.20" y="1224.46" font-size="25.2" font-weight="bold" stroke="#111" stroke-width="0.0" textLength="32.61" lengthAdjust="spacingAndGlyphs">500</text>
<text x="767.81" y="1187.50" font-size="25.2" font-weight="bold" stroke="#111" stroke-width="0.0" textLength="11.57" lengthAdjust="spacingAndGlyphs">0</text>
<text x="757.54" y="1110.96" font-size="25.2" font-weight="bold" stroke="#111" stroke-width="0.0" textLength="21.84" lengthAdjust="spacingAndGlyphs">50</text>
<text x="746.37" y="1033.52" font-size="25.2" font-weight="bold" stroke="#111" stroke-width="0.0" textLength="33.01" lengthAdjust="spacingAndGlyphs">100</text>
<text x="746.37" y="956.54" font-size="25.2" font-weight="bold" stroke="#111" stroke-width="0.0" textLength="33.01" lengthAdjust="spacingAndGlyphs">150</text>
<text x="747.27" y="880.00" font-size="25.2" font-weight="bold" stroke="#111" stroke-width="0.0" textLength="32.11" lengthAdjust="spacingAndGlyphs">200</text>
<text x="747.27" y="803.46" font-size="25.2" font-weight="bold" stroke="#111" stroke-width="0.0" textLength="32.11" lengthAdjust="spacingAndGlyphs">250</text>
<text x="747.27" y="726.02" font-size="25.2" font-weight="bold" stroke="#111" stroke-width="0.0" textLength="32.11" lengthAdjust="spacingAndGlyphs">300</text></g>
</g>
<g filter="url(#bf)"><line x1="75.00" y1="48.90" x2="675.90" y2="48.90" stroke="rgb(171,171,171)" stroke-width="1.80"/>
<line x1="75.00" y1="554.10" x2="675.90" y2="554.10" stroke="rgb(173,173,173)" stroke-width="2.60"/>
<line x1="75.50" y1="48.90" x2="75.50" y2="554.10" stroke="rgb(133,133,133)" stroke-width="1.55"/>
<line x1="675.40" y1="48.90" x2="675.40" y2="554.10" stroke="rgb(163,163,163)" stroke-width="1.60"/>
<line x1="75.60" y1="554.10" x2="75.60" y2="563.10" stroke="rgb(131,131,131)" stroke-width="1.30"/>
<line x1="120.98" y1="554.10" x2="120.98" y2="559.30" stroke="rgb(161,161,161)" stroke-width="1.30"/>
<line x1="166.37" y1="554.10" x2="166.37" y2="563.10" stroke="rgb(131,131,131)" stroke-width="1.30"/>
<line x1="211.75" y1="554.10" x2="211.75" y2="559.30" stroke="rgb(161,161,161)" stroke-width="1.30"/>
<line x1="257.14" y1="554.10" x2="257.14" y2="563.10" stroke="rgb(131,131,131)" stroke-width="1.30"/>
<line x1="302.52" y1="554.10" x2="302.52" y2="559.30" stroke="rgb(161,161,161)" stroke-width="1.30"/>
<line x1="347.91" y1="554.10" x2="347.91" y2="563.10" stroke="rgb(131,131,131)" stroke-width="1.30"/>
<line x1="393.29" y1="554.10" x2="393.29" y2="559.30" stroke="rgb(161,161,161)" stroke-width="1.30"/>
<line x1="438.68" y1="554.10" x2="438.68" y2="563.10" stroke="rgb(131,131,131)" stroke-width="1.30"/>
<line x1="484.06" y1="554.10" x2="484.06" y2="559.30" stroke="rgb(161,161,161)" stroke-width="1.30"/>
<line x1="529.45" y1="554.10" x2="529.45" y2="563.10" stroke="rgb(131,131,131)" stroke-width="1.30"/>
<line x1="574.83" y1="554.10" x2="574.83" y2="559.30" stroke="rgb(161,161,161)" stroke-width="1.30"/>
<line x1="620.22" y1="554.10" x2="620.22" y2="563.10" stroke="rgb(131,131,131)" stroke-width="1.30"/>
<line x1="665.61" y1="554.10" x2="665.61" y2="559.30" stroke="rgb(161,161,161)" stroke-width="1.30"/>
<line x1="67.90" y1="554.10" x2="75.50" y2="554.10" stroke="rgb(146,146,146)" stroke-width="1.80"/>
<line x1="71.60" y1="490.75" x2="75.50" y2="490.75" stroke="rgb(171,171,171)" stroke-width="1.80"/>
<line x1="67.90" y1="427.40" x2="75.50" y2="427.40" stroke="rgb(146,146,146)" stroke-width="1.80"/>
<line x1="71.60" y1="364.30" x2="75.50" y2="364.30" stroke="rgb(171,171,171)" stroke-width="1.80"/>
<line x1="67.90" y1="301.20" x2="75.50" y2="301.20" stroke="rgb(146,146,146)" stroke-width="1.80"/>
<line x1="71.60" y1="238.05" x2="75.50" y2="238.05" stroke="rgb(171,171,171)" stroke-width="1.80"/>
<line x1="67.90" y1="174.90" x2="75.50" y2="174.90" stroke="rgb(146,146,146)" stroke-width="1.80"/>
<line x1="71.60" y1="111.90" x2="75.50" y2="111.90" stroke="rgb(171,171,171)" stroke-width="1.80"/>
<line x1="67.90" y1="48.90" x2="75.50" y2="48.90" stroke="rgb(146,146,146)" stroke-width="1.80"/>
<line x1="785.90" y1="49.70" x2="1386.00" y2="49.70" stroke="rgb(171,171,171)" stroke-width="2.20"/>
<line x1="785.90" y1="554.10" x2="1386.00" y2="554.10" stroke="rgb(173,173,173)" stroke-width="2.80"/>
<line x1="786.40" y1="49.70" x2="786.40" y2="554.10" stroke="rgb(147,147,147)" stroke-width="1.80"/>
<line x1="1385.50" y1="49.70" x2="1385.50" y2="554.10" stroke="rgb(165,165,165)" stroke-width="2.00"/>
<line x1="786.50" y1="554.10" x2="786.50" y2="563.10" stroke="rgb(131,131,131)" stroke-width="1.30"/>
<line x1="831.84" y1="554.10" x2="831.84" y2="559.30" stroke="rgb(161,161,161)" stroke-width="1.30"/>
<line x1="877.17" y1="554.10" x2="877.17" y2="563.10" stroke="rgb(131,131,131)" stroke-width="1.30"/>
<line x1="922.50" y1="554.10" x2="922.50" y2="559.30" stroke="rgb(161,161,161)" stroke-width="1.30"/>
<line x1="967.84" y1="554.10" x2="967.84" y2="563.10" stroke="rgb(131,131,131)" stroke-width="1.30"/>
<line x1="1013.18" y1="554.10" x2="1013.18" y2="559.30" stroke="rgb(161,161,161)" stroke-width="1.30"/>
<line x1="1058.51" y1="554.10" x2="1058.51" y2="563.10" stroke="rgb(131,131,131)" stroke-width="1.30"/>
<line x1="1103.85" y1="554.10" x2="1103.85" y2="559.30" stroke="rgb(161,161,161)" stroke-width="1.30"/>
<line x1="1149.18" y1="554.10" x2="1149.18" y2="563.10" stroke="rgb(131,131,131)" stroke-width="1.30"/>
<line x1="1194.52" y1="554.10" x2="1194.52" y2="559.30" stroke="rgb(161,161,161)" stroke-width="1.30"/>
<line x1="1239.85" y1="554.10" x2="1239.85" y2="563.10" stroke="rgb(131,131,131)" stroke-width="1.30"/>
<line x1="1285.18" y1="554.10" x2="1285.18" y2="559.30" stroke="rgb(161,161,161)" stroke-width="1.30"/>
<line x1="1330.52" y1="554.10" x2="1330.52" y2="563.10" stroke="rgb(131,131,131)" stroke-width="1.30"/>
<line x1="1375.86" y1="554.10" x2="1375.86" y2="559.30" stroke="rgb(161,161,161)" stroke-width="1.30"/>
<line x1="778.80" y1="554.10" x2="786.40" y2="554.10" stroke="rgb(146,146,146)" stroke-width="2.20"/>
<line x1="782.50" y1="491.00" x2="786.40" y2="491.00" stroke="rgb(171,171,171)" stroke-width="2.20"/>
<line x1="778.80" y1="427.90" x2="786.40" y2="427.90" stroke="rgb(146,146,146)" stroke-width="2.20"/>
<line x1="782.50" y1="364.85" x2="786.40" y2="364.85" stroke="rgb(171,171,171)" stroke-width="2.20"/>
<line x1="778.80" y1="301.80" x2="786.40" y2="301.80" stroke="rgb(146,146,146)" stroke-width="2.20"/>
<line x1="782.50" y1="238.75" x2="786.40" y2="238.75" stroke="rgb(171,171,171)" stroke-width="2.20"/>
<line x1="778.80" y1="175.70" x2="786.40" y2="175.70" stroke="rgb(146,146,146)" stroke-width="2.20"/>
<line x1="782.50" y1="112.70" x2="786.40" y2="112.70" stroke="rgb(171,171,171)" stroke-width="2.20"/>
<line x1="778.80" y1="49.70" x2="786.40" y2="49.70" stroke="rgb(146,146,146)" stroke-width="2.20"/>
<line x1="74.10" y1="683.50" x2="674.40" y2="683.50" stroke="rgb(150,150,150)" stroke-width="1.90"/>
<line x1="74.10" y1="1188.90" x2="674.40" y2="1188.90" stroke="rgb(133,133,133)" stroke-width="1.60"/>
<line x1="74.60" y1="683.50" x2="74.60" y2="1188.90" stroke="rgb(171,171,171)" stroke-width="2.00"/>
<line x1="673.90" y1="683.50" x2="673.90" y2="1188.90" stroke="rgb(150,150,150)" stroke-width="1.80"/>
<line x1="74.60" y1="1188.90" x2="74.60" y2="1197.90" stroke="rgb(131,131,131)" stroke-width="1.30"/>
<line x1="120.00" y1="1188.90" x2="120.00" y2="1194.10" stroke="rgb(161,161,161)" stroke-width="1.30"/>
<line x1="165.40" y1="1188.90" x2="165.40" y2="1197.90" stroke="rgb(131,131,131)" stroke-width="1.30"/>
<line x1="210.80" y1="1188.90" x2="210.80" y2="1194.10" stroke="rgb(161,161,161)" stroke-width="1.30"/>
<line x1="256.20" y1="1188.90" x2="256.20" y2="1197.90" stroke="rgb(131,131,131)" stroke-width="1.30"/>
<line x1="301.60" y1="1188.90" x2="301.60" y2="1194.10" stroke="rgb(161,161,161)" stroke-width="1.30"/>
<line x1="347.00" y1="1188.90" x2="347.00" y2="1197.90" stroke="rgb(131,131,131)" stroke-width="1.30"/>
<line x1="392.40" y1="1188.90" x2="392.40" y2="1194.10" stroke="rgb(161,161,161)" stroke-width="1.30"/>
<line x1="437.80" y1="1188.90" x2="437.80" y2="1197.90" stroke="rgb(131,131,131)" stroke-width="1.30"/>
<line x1="483.20" y1="1188.90" x2="483.20" y2="1194.10" stroke="rgb(161,161,161)" stroke-width="1.30"/>
<line x1="528.60" y1="1188.90" x2="528.60" y2="1197.90" stroke="rgb(131,131,131)" stroke-width="1.30"/>
<line x1="574.00" y1="1188.90" x2="574.00" y2="1194.10" stroke="rgb(161,161,161)" stroke-width="1.30"/>
<line x1="619.40" y1="1188.90" x2="619.40" y2="1197.90" stroke="rgb(131,131,131)" stroke-width="1.30"/>
<line x1="664.80" y1="1188.90" x2="664.80" y2="1194.10" stroke="rgb(161,161,161)" stroke-width="1.30"/>
<line x1="67.00" y1="1188.90" x2="74.60" y2="1188.90" stroke="rgb(125,125,125)" stroke-width="1.90"/>
<line x1="70.70" y1="1149.95" x2="74.60" y2="1149.95" stroke="rgb(150,150,150)" stroke-width="1.90"/>
<line x1="67.00" y1="1111.00" x2="74.60" y2="1111.00" stroke="rgb(125,125,125)" stroke-width="1.90"/>
<line x1="70.70" y1="1072.15" x2="74.60" y2="1072.15" stroke="rgb(150,150,150)" stroke-width="1.90"/>
<line x1="67.00" y1="1033.30" x2="74.60" y2="1033.30" stroke="rgb(125,125,125)" stroke-width="1.90"/>
<line x1="70.70" y1="994.40" x2="74.60" y2="994.40" stroke="rgb(150,150,150)" stroke-width="1.90"/>
<line x1="67.00" y1="955.50" x2="74.60" y2="955.50" stroke="rgb(125,125,125)" stroke-width="1.90"/>
<line x1="70.70" y1="916.65" x2="74.60" y2="916.65" stroke="rgb(150,150,150)" stroke-width="1.90"/>
<line x1="67.00" y1="877.80" x2="74.60" y2="877.80" stroke="rgb(125,125,125)" stroke-width="1.90"/>
<line x1="70.70" y1="838.90" x2="74.60" y2="838.90" stroke="rgb(150,150,150)" stroke-width="1.90"/>
<line x1="67.00" y1="800.00" x2="74.60" y2="800.00" stroke="rgb(125,125,125)" stroke-width="1.90"/>
<line x1="70.70" y1="761.15" x2="74.60" y2="761.15" stroke="rgb(150,150,150)" stroke-width="1.90"/>
<line x1="67.00" y1="722.30" x2="74.60" y2="722.30" stroke="rgb(125,125,125)" stroke-width="1.90"/>
<line x1="70.70" y1="683.50" x2="74.60" y2="683.50" stroke="rgb(150,150,150)" stroke-width="1.90"/>
<line x1="790.50" y1="682.60" x2="1391.10" y2="682.60" stroke="rgb(192,192,192)" stroke-width="2.30"/>
<line x1="790.50" y1="1190.40" x2="1391.10" y2="1190.40" stroke="rgb(137,137,137)" stroke-width="1.80"/>
<line x1="791.00" y1="682.60" x2="791.00" y2="1190.40" stroke="rgb(108,108,108)" stroke-width="1.40"/>
<line x1="1390.60" y1="682.60" x2="1390.60" y2="1190.40" stroke="rgb(159,159,159)" stroke-width="1.80"/>
<line x1="791.00" y1="1190.40" x2="791.00" y2="1199.40" stroke="rgb(131,131,131)" stroke-width="1.30"/>
<line x1="836.38" y1="1190.40" x2="836.38" y2="1195.60" stroke="rgb(161,161,161)" stroke-width="1.30"/>
<line x1="881.75" y1="1190.40" x2="881.75" y2="1199.40" stroke="rgb(131,131,131)" stroke-width="1.30"/>
<line x1="927.12" y1="1190.40" x2="927.12" y2="1195.60" stroke="rgb(161,161,161)" stroke-width="1.30"/>
<line x1="972.50" y1="1190.40" x2="972.50" y2="1199.40" stroke="rgb(131,131,131)" stroke-width="1.30"/>
<line x1="1017.88" y1="1190.40" x2="1017.88" y2="1195.60" stroke="rgb(161,161,161)" stroke-width="1.30"/>
<line x1="1063.25" y1="1190.40" x2="1063.25" y2="1199.40" stroke="rgb(131,131,131)" stroke-width="1.30"/>
<line x1="1108.62" y1="1190.40" x2="1108.62" y2="1195.60" stroke="rgb(161,161,161)" stroke-width="1.30"/>
<line x1="1154.00" y1="1190.40" x2="1154.00" y2="1199.40" stroke="rgb(131,131,131)" stroke-width="1.30"/>
<line x1="1199.38" y1="1190.40" x2="1199.38" y2="1195.60" stroke="rgb(161,161,161)" stroke-width="1.30"/>
<line x1="1244.75" y1="1190.40" x2="1244.75" y2="1199.40" stroke="rgb(131,131,131)" stroke-width="1.30"/>
<line x1="1290.12" y1="1190.40" x2="1290.12" y2="1195.60" stroke="rgb(161,161,161)" stroke-width="1.30"/>
<line x1="1335.50" y1="1190.40" x2="1335.50" y2="1199.40" stroke="rgb(131,131,131)" stroke-width="1.30"/>
<line x1="1380.88" y1="1190.40" x2="1380.88" y2="1195.60" stroke="rgb(161,161,161)" stroke-width="1.30"/>
<line x1="783.40" y1="1182.20" x2="791.00" y2="1182.20" stroke="rgb(167,167,167)" stroke-width="2.30"/>
<line x1="787.10" y1="1143.75" x2="791.00" y2="1143.75" stroke="rgb(192,192,192)" stroke-width="2.30"/>
<line x1="783.40" y1="1105.30" x2="791.00" y2="1105.30" stroke="rgb(167,167,167)" stroke-width="2.30"/>
<line x1="787.10" y1="1066.85" x2="791.00" y2="1066.85" stroke="rgb(192,192,192)" stroke-width="2.30"/>
<line x1="783.40" y1="1028.40" x2="791.00" y2="1028.40" stroke="rgb(167,167,167)" stroke-width="2.30"/>
<line x1="787.10" y1="990.00" x2="791.00" y2="990.00" stroke="rgb(192,192,192)" stroke-width="2.30"/>
<line x1="783.40" y1="951.60" x2="791.00" y2="951.60" stroke="rgb(167,167,167)" stroke-width="2.30"/>
<line x1="787.10" y1="913.15" x2="791.00" y2="913.15" stroke="rgb(192,192,192)" stroke-width="2.30"/>
<line x1="783.40" y1="874.70" x2="791.00" y2="874.70" stroke="rgb(167,167,167)" stroke-width="2.30"/>
<line x1="787.10" y1="836.25" x2="791.00" y2="836.25" stroke="rgb(192,192,192)" stroke-width="2.30"/>
<line x1="783.40" y1="797.80" x2="791.00" y2="797.80" stroke="rgb(167,167,167)" stroke-width="2.30"/>
<line x1="787.10" y1="759.35" x2="791.00" y2="759.35" stroke="rgb(192,192,192)" stroke-width="2.30"/>
<line x1="783.40" y1="720.90" x2="791.00" y2="720.90" stroke="rgb(167,167,167)" stroke-width="2.30"/>
<line x1="787.10" y1="682.60" x2="791.00" y2="682.60" stroke="rgb(192,192,192)" stroke-width="2.30"/></g>
</svg>
</body></html>
